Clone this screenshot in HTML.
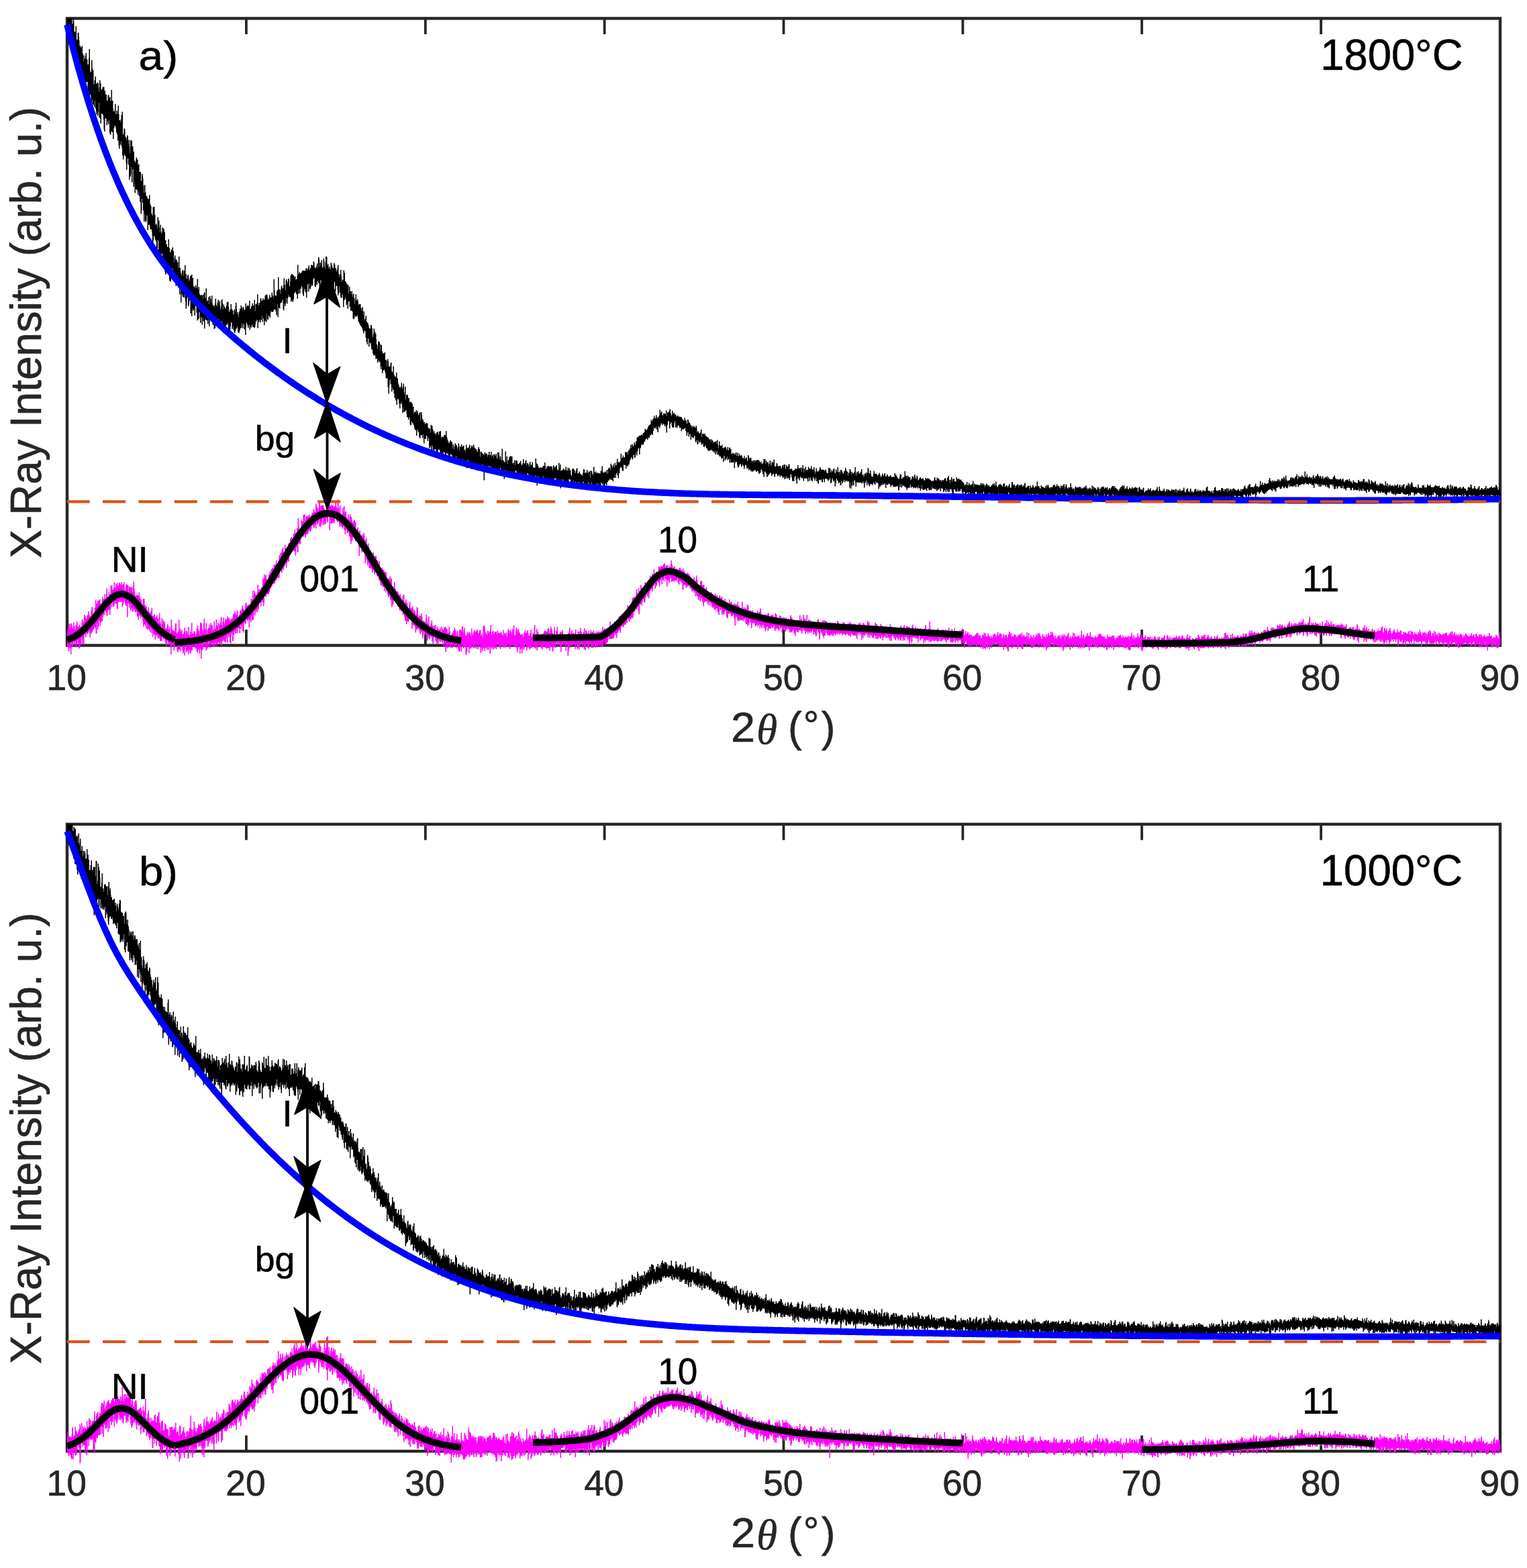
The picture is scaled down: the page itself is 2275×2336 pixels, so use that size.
<!DOCTYPE html>
<html><head><meta charset="utf-8"><title>XRD</title>
<style>html,body{margin:0;padding:0;background:#fff;}svg{display:block;}</style>
</head><body>
<svg xmlns="http://www.w3.org/2000/svg" width="2275" height="2336" viewBox="0 0 2275 2336">
<rect width="2275" height="2336" fill="#fff"/>
<g><rect x="100" y="27.4" width="2135" height="934.1" fill="none" stroke="#262626" stroke-width="4.4"/>
<path d="M366.9 961.5V938M366.9 27.4V50.9M633.8 961.5V938M633.8 27.4V50.9M900.6 961.5V938M900.6 27.4V50.9M1167.5 961.5V938M1167.5 27.4V50.9M1434.4 961.5V938M1434.4 27.4V50.9M1701.2 961.5V938M1701.2 27.4V50.9M1968.1 961.5V938M1968.1 27.4V50.9" stroke="#262626" stroke-width="3.8"/></g>
<g><path d="M100 27.5l7 0 0 2.5 0.5 0 0 5.5 1 0 0-8 1.5 0 0 4.5 0.5 0 0 15 1.5 0 0 1.5 0.5 0 0-9.5 1.5 0 0 20 1.5 0 0-10 0.5 0 0-0.5 1.5 0 0 6.5 0.5 0 0 5 0.5 0 0 8 1.5 0 0 2.5 1.5 0 0-2 1.5 0 0 11 1 0 0 11.5 0.5 0 0-8.5 1.5 0 0 5 1 0 0-4.5 0.5 0 0-4 1.5 0 0 9.5 1.5 0 0 7.5 1.5 0 0-8.5 0.5 0 0-14.5 1.5 0 0 31.5 0.5 0 0 3 0.5 0 0-0.5 1 0 0-17.5 1.5 0 0 12 0.5 0 0 3 1.5 0 0 21 0.5 0 0-0.5 0.5 0 0-5.5 1 0 0-5.5 1.5 0 0 11 1 0 0-2 1.5 0 0 1 1.5 0 0 6.5 0.5 0 0 6 0.5 0 0-17 1.5 0 0 4.5 1 0 0 9.5 0.5 0 0 1 0.5 0 0-2 1 0 0-3 3 0 0 5.5 1.5 0 0 6.5 0.5 0 0-1 1.5 0 0 8.5 0.5 0 0 1 1 0 0-8 0.5 0 0-0.5 1.5 0 0 4.5 0.5 0 0-1.5 1.5 0 0 5.5 1 0 0-16 1.5 0 0 16 1.5 0 0 12 0.5 0 0 4 1.5 0 0-2 0.5 0 0-9 1.5 0 0 15 1 0 0-5 1.5 0 0 5 0.5 0 0-12.5 1.5 0 0 12.5 0.5 0 0 9 1.5 0 0 3 0.5 0 0-4 1 0 0-6.5 1 0 0-5 1.5 0 0 34 1 0 0-3 0.5 0 0-6 1.5 0 0 1 0.5 0 0 11 1 0 0 1.5 0.5 0 0 0.5 0.5 0 0 3.5 0.5 0 0-7.5 1.5 0 0 1.5 0.5 0 0 11 0.5 0 0-5.5 1.5 0 0 10 0.5 0 0 9.5 0.5 0 0-19 1.5 0 0 0.5 1.5 0 0 8.5 1.5 0 0 7.5 0.5 0 0 0.5 1 0 0 13.5 1.5 0 0 2.5 1 0 0-7.5 1.5 0 0 3 1.5 0 0 8.5 0.5 0 0-1.5 1.5 0 0 11.5 2.5 0 0 13.5 1 0 0-10.5 1.5 0 0 3 0.5 0 0 3.5 0.5 0 0 11 1 0 0 10.5 0.5 0 0-11.5 1.5 0 0 11 1 0 0 5 1 0 0 1 1 0 0 3 1 0 0 1 1.5 0 0-6 1.5 0 0 13.5 1 0 0 3 1 0 0 11 1 0 0 2.5 0.5 0 0 1 0.5 0 0-13 1.5 0 0-0.5 1.5 0 0 12 1 0 0 15 0.5 0 0-1.5 1.5 0 0 2.5 0.5 0 0 4.5 0.5 0 0-17 1.5 0 0 5 1.5 0 0 10 0.5 0 0 7.5 0.5 0 0-11 1.5 0 0 9.5 0.5 0 0 3.5 0.5 0 0-1.5 0.5 0 0-7.5 1.5 0 0 1.5 1.5 0 0 2.5 0.5 0 0 3 1 0 0 12 1.5 0 0 6 1.5 0 0 4 1.5 0 0-11.5 1.5 0 0 12.5 0.5 0 0 1 0.5 0 0 5.5 1.5 0 0-3.5 1.5 0 0 0.5 0.5 0 0-4 1.5 0 0 5.5 1 0 0 16.5 0.5 0 0-6.5 0.5 0 0-3.5 1.5 0 0 6 1.5 0 0 1 1 0 0 3 1.5 0 0 8.5 0.5 0 0-17 1.5 0 0 17 1.5 0 0 5 0.5 0 0 3.5 1 0 0 3.5 0.5 0 0-8.5 2 0 0 8 0.5 0 0-7.5 1.5 0 0-8 1.5 0 0 13.5 1.5 0 0 6 1 0 0-4 0.5 0 0-1 1.5 0 0 5 0.5 0 0 3.5 1 0 0-3.5 0.5 0 0-3.5 2 0 0-2 1.5 0 0 5 1.5 0 0 13 0.5 0 0-0.5 1.5 0 0 2 1 0 0-3.5 1.5 0 0 3.5 0.5 0 0 0.5 0.5 0 0-13.5 1.5 0 0 15.5 0.5 0 0-3.5 1.5 0 0 10.5 1 0 0 2 1 0 0 0.5 0.5 0 0-1.5 1.5 0 0 1 1 0 0 4.5 0.5 0 0-5.5 1 0 0-2 0.5 0 0-1.5 1.5 0 0 8 0.5 0 0 0.5 0.5 0 0-14.5 1.5 0 0 17 0.5 0 0 3 0.5 0 0-1.5 1 0 0-5.5 1.5 0 0 10.5 0.5 0 0-12 1.5 0 0 4 1 0 0 5 0.5 0 0-9.5 1.5 0 0 12 0.5 0 0 2.5 0.5 0 0 0.5 0.5 0 0-0.5 1.5 0 0 3 0.5 0 0-6 0.5 0 0-7 1.5 0 0 9.5 1 0 0 2.5 0.5 0 0-6.5 1 0 0-4 1.5 0 0 8 0.5 0 0-6 1.5 0 0 13 0.5 0 0-3 0.5 0 0-2 0.5 0 0-9 0.5 0 0-1.5 1.5 0 0 5.5 0.5 0 0 9 0.5 0 0-7 1.5 0 0 3.5 1 0 0 2 1 0 0 1.5 0.5 0 0-4.5 1 0 0-5.5 1.5 0 0-1 1.5 0 0 7.5 0.5 0 0 7 0.5 0 0 1 0.5 0 0-4 1.5 0 0-8 1.5 0 0 7 1 0 0 1.5 0.5 0 0 1.5 1 0 0 5.5 1 0 0-7.5 1.5 0 0 3 0.5 0 0-8.5 0.5 0 0-4.5 1.5 0 0 9.5 0.5 0 0 8 0.5 0 0-3.5 1.5 0 0 2.5 0.5 0 0 5 0.5 0 0-8.5 1 0 0-4 1.5 0 0-5 1.5 0 0 3 1.5 0 0 3.5 0.5 0 0-4 1.5 0 0 3.5 0.5 0 0 1 1 0 0-2 0.5 0 0-8 1.5 0 0 6.5 0.5 0 0-2.5 1 0 0-1.5 1.5 0 0 1.5 1 0 0-8 1.5 0 0 12 1.5 0 0-4 1.5 0 0-4 1.5 0 0 3 0.5 0 0 0.5 1 0 0-9 1.5 0 0 17 0.5 0 0-10.5 2 0 0-2.5 0.5 0 0-12 1.5 0 0 12.5 0.5 0 0 3.5 1 0 0-3.5 1.5 0 0-6.5 2 0 0 3.5 1.5 0 0-3.5 1.5 0 0 3 0.5 0 0-1.5 1.5 0 0-5.5 1 0 0-1.5 3 0 0 4 0.5 0 0 2 0.5 0 0 2 0.5 0 0-2 1 0 0-5.5 1.5 0 0 4 0.5 0 0-0.5 1.5 0 0-7 1.5 0 0 4.5 1 0 0 2.5 0.5 0 0-27 1.5 0 0 16 0.5 0 0 8 1 0 0 0.5 1.5 0 0-7 1 0 0-1.5 1 0 0-19 1.5 0 0 17 0.5 0 0 1 1 0 0 1 0.5 0 0 6 0.5 0 0-6.5 0.5 0 0-3.5 0.5 0 0-2.5 1.5 0 0 4 1.5 0 0-4.5 0.5 0 0-10.5 1.5 0 0 10 1 0 0 8.5 0.5 0 0-15 0.5 0 0-2 1.5 0 0 3 0.5 0 0 4 0.5 0 0-3.5 0.5 0 0-4.5 1.5 0 0 0.5 0.5 0 0 11 1 0 0-7.5 0.5 0 0-8.5 1.5 0 0-2.5 1.5 0 0 0.5 0.5 0 0 1.5 2 0 0 1.5 0.5 0 0 2 0.5 0 0-1.5 1.5 0 0 4.5 0.5 0 0-0.5 1.5 0 0-5 0.5 0 0-16.5 1.5 0 0 13.5 1 0 0-2.5 1.5 0 0 0.5 0.5 0 0 2 0.5 0 0-1 1 0 0-1.5 0.5 0 0-1 0.5 0 0-1 1 0 0-0.5 3 0 0 1 1 0 0-2.5 0.5 0 0-2 1.5 0 0 4 0.5 0 0-3 1 0 0-1 1 0 0-4 1.5 0 0 7 0.5 0 0-1 0.5 0 0-2.5 1 0 0-4.5 1.5 0 0 0.5 1 0 0 0.5 1 0 0-6 1.5 0 0 1.5 0.5 0 0 6.5 0.5 0 0 1.5 1 0 0 1.5 0.5 0 0-2.5 0.5 0 0-0.5 0.5 0 0-1.5 0.5 0 0-3.5 1.5 0 0 7 0.5 0 0-16.5 1.5 0 0 3 0.5 0 0 11 0.5 0 0-6 1.5 0 0 2.5 0.5 0 0-6 1.5 0 0 12 0.5 0 0-1.5 1 0 0-13 1.5 0 0 3.5 0.5 0 0 8.5 0.5 0 0 3.5 0.5 0 0-9.5 0.5 0 0-9 1.5 0 0 1 1 0 0 12 0.5 0 0-1.5 1.5 0 0 6.5 0.5 0 0-2.5 1.5 0 0 3.5 1 0 0-9.5 1.5 0 0 3.5 1 0 0 2 0.5 0 0 2.5 1.5 0 0-7.5 1.5 0 0 2.5 1 0 0 5 1.5 0 0 5.5 0.5 0 0-2.5 1 0 0-3.5 0.5 0 0-4 1.5 0 0 13 0.5 0 0 4.5 0.5 0 0-4 1.5 0 0-6.5 1.5 0 0 8.5 0.5 0 0 9.5 0.5 0 0-3.5 1.5 0 0 1 0.5 0 0-15 1.5 0 0 4 1 0 0 13 2 0 0 3 1.5 0 0 3 0.5 0 0-1 1.5 0 0 12.5 0.5 0 0-9.5 1.5 0 0 6.5 1.5 0 0 4.5 0.5 0 0-5 1.5 0 0 5.5 0.5 0 0 3.5 0.5 0 0-5 1.5 0 0 6.5 1 0 0 9 0.5 0 0-6 0.5 0 0-8.5 1.5 0 0 9 1 0 0-2 1.5 0 0 4 0.5 0 0 5.5 0.5 0 0-2 3 0 0 5 0.5 0 0 1.5 1 0 0 4 0.5 0 0-6 1.5 0 0 12 0.5 0 0-5.5 1.5 0 0 13.5 0.5 0 0-2.5 1 0 0-4.5 1.5 0 0 8.5 1 0 0 1 0.5 0 0 1 1 0 0 3 1 0 0 4 1 0 0 1.5 1.5 0 0-5.5 1.5 0 0 1.5 0.5 0 0 3.5 1 0 0 14 0.5 0 0-3.5 0.5 0 0-3 0.5 0 0-7 1.5 0 0 5 1.5 0 0 3 1 0 0 8 0.5 0 0 7.5 1 0 0 2.5 0.5 0 0 4.5 0.5 0 0-11.5 1.5 0 0 1 1.5 0 0 3 0.5 0 0 10 0.5 0 0-9 1.5 0 0 1.5 0.5 0 0 8 1 0 0 4.5 0.5 0 0-1.5 1.5 0 0 1.5 0.5 0 0-2.5 1.5 0 0 11 1.5 0 0 1 1 0 0 9 0.5 0 0-11 1.5 0 0 3.5 0.5 0 0 6 0.5 0 0 2 0.5 0 0-0.5 1.5 0 0-4 0.5 0 0-2 1.5 0 0 13.5 1.5 0 0 2 0.5 0 0-10 1.5 0 0 13 1 0 0 2.5 2 0 0-6 1.5 0 0 8.5 1.5 0 0 7 0.5 0 0 2.5 1 0 0 2.5 0.5 0 0 1.5 1 0 0 1.5 0.5 0 0-2.5 0.5 0 0-0.5 0.5 0 0-5 1.5 0 0 9 0.5 0 0-3 1 0 0-5 1.5 0 0 13 0.5 0 0 3 0.5 0 0-11.5 1.5 0 0 19 0.5 0 0-6.5 1.5 0 0-0.5 1.5 0 0 5.5 0.5 0 0-0.5 1.5 0 0 6 0.5 0 0 0.5 0.5 0 0-1 2 0 0 2 1.5 0 0 1.5 0.5 0 0 4 1.5 0 0 10 0.5 0 0-2.5 1.5 0 0 0.5 1 0 0-3 1.5 0 0 4.5 0.5 0 0-3 1.5 0 0 6 0.5 0 0-0.5 0.5 0 0-2 1 0 0-2 1.5 0 0 12.5 0.5 0 0-12.5 1.5 0 0 4.5 0.5 0 0 5 0.5 0 0 2 1.5 0 0 3.5 2 0 0 3 1 0 0-2 1.5 0 0 0.5 1.5 0 0 0.5 0.5 0 0 5.5 1 0 0 2 2.5 0 0 6 0.5 0 0-11.5 1.5 0 0 1.5 1.5 0 0 5 1 0 0 3.5 0.5 0 0-0.5 1.5 0 0 3.5 1.5 0 0 2.5 0.5 0 0-4 1.5 0 0 0.5 0.5 0 0-2 1.5 0 0 4.5 1 0 0-4.5 1.5 0 0-1 1.5 0 0 11 0.5 0 0-2.5 3 0 0 1.5 0.5 0 0-3.5 0.5 0 0-0.5 1.5 0 0 0.5 1 0 0-6.5 1.5 0 0 9 0.5 0 0 1 0.5 0 0 2.5 0.5 0 0 1.5 0.5 0 0 1.5 0.5 0 0 0.5 0.5 0 0 2.5 1 0 0-2 1 0 0-2.5 1.5 0 0 2 1.5 0 0 1 0.5 0 0 9.5 0.5 0 0-6.5 1.5 0 0 7 0.5 0 0-4 1 0 0-4.5 1.5 0 0 1 0.5 0 0 1.5 1 0 0 1 0.5 0 0 5.5 0.5 0 0-3 1 0 0-6 1.5 0 0 3 0.5 0 0 7.5 0.5 0 0-5.5 1.5 0 0-0.5 0.5 0 0-3 1.5 0 0 4.5 0.5 0 0-1.5 1 0 0-1 1.5 0 0 6 1 0 0 0.5 0.5 0 0 2.5 0.5 0 0-4.5 0.5 0 0-6 1.5 0 0 5 2.5 0 0-2 1 0 0-3 1.5 0 0 7 0.5 0 0-2.5 1 0 0-3 1.5 0 0 0.5 1 0 0 2.5 0.5 0 0-4.5 1.5 0 0 4 0.5 0 0 1 1.5 0 0 2.5 0.5 0 0-1 1.5 0 0 4 0.5 0 0 0.5 0.5 0 0-2.5 0.5 0 0-3 0.5 0 0-2 1.5 0 0 3 1 0 0 11.5 0.5 0 0-7.5 2.5 0 0 2 0.5 0 0 0.5 1.5 0 0 1.5 1 0 0 0.5 0.5 0 0-3.5 1.5 0 0 2 0.5 0 0-0.5 1.5 0 0 0.5 1 0 0 4.5 0.5 0 0-3 1.5 0 0-4.5 1.5 0 0 5 1.5 0 0-5 1.5 0 0 7 0.5 0 0-1 0.5 0 0-1.5 1.5 0 0 5 0.5 0 0-6 1.5 0 0 0.5 0.5 0 0 2 1 0 0-3 1.5 0 0 5.5 0.5 0 0 2.5 0.5 0 0-10 3 0 0 5 0.5 0 0 5 0.5 0 0-4 1.5 0 0 5.5 0.5 0 0 0.5 0.5 0 0-17.5 1.5 0 0 17 1.5 0 0 2 1 0 0 1.5 1 0 0-16.5 1.5 0 0 15 0.5 0 0-7.5 1.5 0 0 11 0.5 0 0-5.5 1.5 0 0-3.5 1 0 0-2 1.5 0 0-0.5 1.5 0 0 0.5 1.5 0 0 10.5 1 0 0-1 1.5 0 0-4 1.5 0 0 7.5 0.5 0 0-7 2.5 0 0 1 0.5 0 0 4 1.5 0 0 0.5 0.5 0 0-2 1.5 0 0 0.5 0.5 0 0-3.5 1.5 0 0 5 0.5 0 0 2 0.5 0 0-1 0.5 0 0-0.5 0.5 0 0-2 0.5 0 0-6 1.5 0 0 6 0.5 0 0 1.5 0.5 0 0-1.5 1 0 0-4 0.5 0 0-0.5 1.5 0 0 8 0.5 0 0-3.5 1.5 0 0 0.5 0.5 0 0 0.5 0.5 0 0 3 0.5 0 0 1.5 0.5 0 0-5 0.5 0 0-2.5 1.5 0 0 5.5 0.5 0 0-1 1.5 0 0-4 1.5 0 0 7.5 1 0 0 1 2 0 0-0.5 0.5 0 0-13.5 1.5 0 0 7.5 1.5 0 0 1 1 0 0 3 1 0 0 2.5 1.5 0 0-0.5 3 0 0 0.5 1 0 0-1.5 1 0 0-1.5 1.5 0 0 0.5 0.5 0 0-5.5 1.5 0 0 5 0.5 0 0 5 1 0 0-3.5 1.5 0 0-0.5 0.5 0 0-1 1.5 0 0 0.5 1 0 0 0.5 1.5 0 0-0.5 1.5 0 0 0.5 1.5 0 0 6 0.5 0 0-3 0.5 0 0-5 1.5 0 0 2 0.5 0 0 2.5 0.5 0 0-1 0.5 0 0-1.5 1.5 0 0-2 1.5 0 0 5 0.5 0 0 2 0.5 0 0 1.5 0.5 0 0-1.5 0.5 0 0-10.5 1.5 0 0 7.5 0.5 0 0-5 1.5 0 0 10 0.5 0 0-1 1.5 0 0-1.5 1.5 0 0-1.5 1.5 0 0 2 2 0 0-4.5 1.5 0 0 5.5 1.5 0 0-4 1.5 0 0 4 0.5 0 0-3.5 1.5 0 0 2 0.5 0 0 1.5 1 0 0 6 0.5 0 0 3 0.5 0 0-2 0.5 0 0-9.5 1.5 0 0-0.5 1.5 0 0 2 1.5 0 0 4.5 0.5 0 0 0.5 0.5 0 0-3 0.5 0 0-1 0.5 0 0-3 0.5 0 0-0.5 1.5 0 0 8.5 0.5 0 0-1 1.5 0 0-2.5 1.5 0 0 3.5 1.5 0 0 0.5 0.5 0 0 1 1 0 0 0.5 0.5 0 0 1 0.5 0 0-4.5 1 0 0-5.5 1.5 0 0 1 0.5 0 0 4.5 1.5 0 0-0.5 1.5 0 0-4 1.5 0 0 4.5 0.5 0 0 1 0.5 0 0-3 2.5 0 0 9 0.5 0 0-10.5 1.5 0 0 0.5 0.5 0 0 1 1 0 0 3.5 1 0 0 2.5 0.5 0 0-13 1.5 0 0 7.5 1 0 0 2 0.5 0 0-2.5 1.5 0 0 2.5 1.5 0 0-1 1.5 0 0 2.5 0.5 0 0-1.5 1.5 0 0 0.5 1 0 0-3 0.5 0 0-1.5 1.5 0 0-6.5 1.5 0 0 9 0.5 0 0 0.5 1.5 0 0 0.5 0.5 0 0-2 1.5 0 0 0.5 1 0 0 2.5 0.5 0 0-5 0.5 0 0-0.5 1.5 0 0 6 0.5 0 0-8 1 0 0-1.5 1.5 0 0 2 0.5 0 0 2 0.5 0 0-9.5 1.5 0 0 2.5 1 0 0 4 0.5 0 0-2.5 0.5 0 0-3 1.5 0 0 3 0.5 0 0 1.5 0.5 0 0-7 1.5 0 0 3.5 1.5 0 0-5 0.5 0 0-4.5 1.5 0 0 6.5 0.5 0 0-2 1.5 0 0 1.5 1 0 0-2.5 1 0 0-11 1.5 0 0 6 1.5 0 0-3.5 1.5 0 0 3 1 0 0-0.5 1 0 0-8 1.5 0 0 1.5 1 0 0-1 1.5 0 0 4 0.5 0 0-5 0.5 0 0-1.5 1.5 0 0-1.5 0.5 0 0-1.5 1 0 0-5 1.5 0 0 4.5 0.5 0 0-6 1.5 0 0 2 0.5 0 0 1.5 1 0 0-2.5 0.5 0 0-3.5 1.5 0 0 3 0.5 0 0 0.5 0.5 0 0-4.5 0.5 0 0-1 1 0 0-5.5 1.5 0 0-0.5 1.5 0 0-2 3 0 0-1 1.5 0 0-1 1.5 0 0 2.5 0.5 0 0-4.5 1 0 0-0.5 1 0 0-1.5 0.5 0 0-4 1.5 0 0 1.5 1.5 0 0-0.5 1 0 0-2 0.5 0 0-1 0.5 0 0-2.5 1.5 0 0-1.5 1.5 0 0-0.5 0.5 0 0-1 0.5 0 0-6 1.5 0 0 2 1 0 0-3 1 0 0-1 1 0 0-4 1.5 0 0 3.5 1.5 0 0-4.5 1.5 0 0 4 0.5 0 0 1.5 0.5 0 0-3 1.5 0 0 2 0.5 0 0-3 0.5 0 0-1 0.5 0 0-8.5 1.5 0 0 5 0.5 0 0-0.5 0.5 0 0-2 1.5 0 0 5 0.5 0 0 1 1 0 0-3 1.5 0 0 0.5 0.5 0 0-0.5 1.5 0 0 1.5 0.5 0 0-6 1.5 0 0 8.5 0.5 0 0-5.5 1.5 0 0-0.5 1.5 0 0-2.5 0.5 0 0-2 1.5 0 0 6 0.5 0 0 0.5 0.5 0 0 3 1 0 0-7 1.5 0 0 4.5 1 0 0-1.5 1.5 0 0 3 0.5 0 0-1 1.5 0 0 1 0.5 0 0 3 0.5 0 0-0.5 0.5 0 0-1 0.5 0 0-0.5 1.5 0 0 2 1 0 0-0.5 1.5 0 0 0.5 1.5 0 0 0.5 1.5 0 0 2.5 0.5 0 0 0.5 1 0 0 1 1 0 0 1.5 1 0 0-4.5 1.5 0 0 3 0.5 0 0 1 1.5 0 0 4.5 1 0 0-6 1.5 0 0 1 0.5 0 0 3 0.5 0 0 0.5 1.5 0 0 1.5 0.5 0 0 2 0.5 0 0 1 1.5 0 0 2 0.5 0 0 2 0.5 0 0-3.5 1.5 0 0 2 0.5 0 0-1.5 1.5 0 0 2 1.5 0 0-3 1.5 0 0 4 0.5 0 0 6.5 0.5 0 0-2 1.5 0 0 0.5 0.5 0 0 2.5 2 0 0-0.5 0.5 0 0-2 0.5 0 0-3 1.5 0 0 11 0.5 0 0-4.5 1.5 0 0-0.5 1.5 0 0 2 0.5 0 0-2 1.5 0 0 4 0.5 0 0-0.5 1.5 0 0 1.5 1.5 0 0 1 1.5 0 0 2.5 3 0 0 4 0.5 0 0-4 1.5 0 0 1.5 1 0 0 1.5 0.5 0 0 2.5 0.5 0 0-1.5 1.5 0 0-0.5 1.5 0 0-0.5 1.5 0 0 3.5 0.5 0 0-5.5 1.5 0 0 6.5 0.5 0 0 6 0.5 0 0-4 0.5 0 0-6.5 1.5 0 0 5.5 0.5 0 0 1 1 0 0 0.5 1 0 0-2 1.5 0 0 5 1.5 0 0-0.5 1.5 0 0-1.5 2 0 0 2 0.5 0 0 0.5 0.5 0 0 2 0.5 0 0 1 0.5 0 0-5 1.5 0 0 5 1 0 0-4.5 1.5 0 0 1 0.5 0 0 1.5 1.5 0 0 7 0.5 0 0 0.5 1 0 0-2 1.5 0 0 2 0.5 0 0-1 1.5 0 0 2 1 0 0-2.5 0.5 0 0-1 1.5 0 0 5 1 0 0-4.5 1.5 0 0 4.5 0.5 0 0 1 0.5 0 0-4 1.5 0 0 3 1.5 0 0-1 1.5 0 0 2 0.5 0 0 2 1 0 0 1 1 0 0-3.5 1.5 0 0 4.5 0.5 0 0-1 0.5 0 0-0.5 1 0 0-1 1.5 0 0 5 1 0 0-8.5 1.5 0 0 1.5 0.5 0 0 4.5 0.5 0 0-2 3 0 0 4 0.5 0 0 1.5 1 0 0-1.5 1.5 0 0 1.5 0.5 0 0-2 1.5 0 0 3.5 0.5 0 0-3 1.5 0 0 0.5 0.5 0 0-1 1.5 0 0-0.5 1.5 0 0 1 1 0 0 0.5 1 0 0 2.5 1 0 0-1.5 1.5 0 0 3 0.5 0 0 1 0.5 0 0-0.5 0.5 0 0-1.5 1.5 0 0-5.5 3 0 0 7.5 0.5 0 0-5 1.5 0 0 2.5 1 0 0-0.5 1.5 0 0 6 0.5 0 0-3.5 1 0 0-5 1.5 0 0 3.5 0.5 0 0 4.5 0.5 0 0-1 0.5 0 0-5 2 0 0 2.5 0.5 0 0-1.5 0.5 0 0-4.5 1.5 0 0 10 0.5 0 0 0.5 1.5 0 0-0.5 0.5 0 0-4.5 1.5 0 0 1 0.5 0 0 3.5 1.5 0 0 1 0.5 0 0-1.5 2.5 0 0 0.5 0.5 0 0 2.5 0.5 0 0 1.5 0.5 0 0-2.5 0.5 0 0-1.5 0.5 0 0-1.5 1.5 0 0 3 0.5 0 0-4 2.5 0 0 5.5 0.5 0 0 1.5 0.5 0 0-6 1.5 0 0 2 2 0 0-3 0.5 0 0-0.5 1.5 0 0 7.5 1 0 0 0.5 0.5 0 0-1.5 1.5 0 0 1 1 0 0 2.5 1.5 0 0-1 1 0 0-0.5 1.5 0 0-2 1.5 0 0 0.5 2 0 0-5.5 1.5 0 0 4.5 0.5 0 0 0.5 1 0 0-1 1.5 0 0 1.5 0.5 0 0-2 1.5 0 0 6.5 0.5 0 0-5 0.5 0 0-5 1.5 0 0 11 0.5 0 0-6 1.5 0 0 3.5 0.5 0 0-6 1.5 0 0 4.5 1.5 0 0 1.5 0.5 0 0-2 1 0 0-4 1.5 0 0 3 0.5 0 0-0.5 1.5 0 0 0.5 0.5 0 0-4 1.5 0 0 5 1.5 0 0-0.5 1 0 0-3 1.5 0 0 4.5 0.5 0 0 5.5 0.5 0 0-3 0.5 0 0-1 0.5 0 0-4.5 1.5 0 0 5.5 0.5 0 0-1 1.5 0 0 1 0.5 0 0-2.5 1 0 0-1 0.5 0 0-3.5 1.5 0 0 1.5 0.5 0 0 2.5 0.5 0 0-0.5 3 0 0 0.5 1.5 0 0 2 0.5 0 0-1 0.5 0 0-1 0.5 0 0-0.5 1.5 0 0 2.5 0.5 0 0 2.5 1.5 0 0 0.5 1 0 0-8 1.5 0 0 0.5 1.5 0 0 1 0.5 0 0 5 1 0 0-3 1.5 0 0 1 0.5 0 0 1.5 0.5 0 0-4 1 0 0-1 1.5 0 0 6.5 1 0 0 1 0.5 0 0-6 1.5 0 0 3.5 1 0 0-7 1.5 0 0 7 0.5 0 0 1 0.5 0 0-1.5 1.5 0 0 4 0.5 0 0-6.5 1.5 0 0 0.5 1 0 0 2.5 1 0 0 2.5 0.5 0 0 0.5 0.5 0 0-0.5 0.5 0 0-3 0.5 0 0-0.5 0.5 0 0-0.5 1 0 0-4.5 1.5 0 0 3.5 1 0 0 2 1.5 0 0 1 0.5 0 0 5 0.5 0 0-4 1.5 0 0-5.5 1.5 0 0 0.5 0.5 0 0 2.5 0.5 0 0 5 0.5 0 0-4 1.5 0 0 2 1 0 0 1 0.5 0 0-1.5 1 0 0-1.5 1 0 0-7 1.5 0 0 9.5 0.5 0 0 3.5 0.5 0 0-6 1.5 0 0 3 0.5 0 0-4 1.5 0 0 3.5 0.5 0 0 0.5 0.5 0 0-1 1 0 0-2 1.5 0 0-4 1.5 0 0 9 0.5 0 0-1 1.5 0 0 3 0.5 0 0-0.5 0.5 0 0-3.5 1.5 0 0-1.5 1.5 0 0 3 0.5 0 0-3.5 1.5 0 0-7 1.5 0 0 2 0.5 0 0 6.5 1 0 0-0.5 0.5 0 0-4 1.5 0 0 5.5 0.5 0 0 2 0.5 0 0 1.5 2 0 0 0.5 0.5 0 0-4.5 0.5 0 0-4.5 1.5 0 0 5 0.5 0 0-1 1.5 0 0 0.5 1.5 0 0 0.5 0.5 0 0 3 0.5 0 0-1.5 0.5 0 0-0.5 0.5 0 0-0.5 1 0 0-2.5 1.5 0 0 3.5 1 0 0 2.5 0.5 0 0 0.5 0.5 0 0-1.5 0.5 0 0-1.5 0.5 0 0-2.5 1.5 0 0 2.5 0.5 0 0 2 0.5 0 0-2.5 0.5 0 0-1 0.5 0 0-1.5 1.5 0 0 4.5 1 0 0 1 0.5 0 0-2 0.5 0 0-2 1.5 0 0 2.5 0.5 0 0 1 1.5 0 0-0.5 1.5 0 0-1.5 1.5 0 0 2.5 2 0 0 0.5 0.5 0 0-1 1.5 0 0 1 1 0 0-6 1.5 0 0 2.5 1.5 0 0 1 0.5 0 0 1 0.5 0 0 1.5 1 0 0 2 1 0 0 0.5 1.5 0 0-3.5 0.5 0 0-3.5 1.5 0 0 0.5 1 0 0 6 1 0 0 0.5 0.5 0 0-2.5 2.5 0 0-1 0.5 0 0-8 1.5 0 0 6.5 0.5 0 0 0.5 1.5 0 0 3.5 0.5 0 0-4 1.5 0 0 1.5 1.5 0 0 1 2 0 0 5 0.5 0 0-1.5 1 0 0-1.5 0.5 0 0-3.5 1.5 0 0 0.5 0.5 0 0 0.5 1 0 0 3 0.5 0 0-6.5 1.5 0 0 3 0.5 0 0 2.5 0.5 0 0 1.5 0.5 0 0-1.5 0.5 0 0-4 1.5 0 0 3 0.5 0 0 4 1 0 0-0.5 0.5 0 0-1.5 1 0 0-1.5 0.5 0 0-1 1.5 0 0 2.5 1 0 0-0.5 1 0 0-0.5 1.5 0 0 0.5 0.5 0 0 2.5 2.5 0 0-3.5 1.5 0 0 1.5 1 0 0 0.5 0.5 0 0-2 1.5 0 0 1 0.5 0 0 0.5 1.5 0 0 1 1.5 0 0 0.5 0.5 0 0 1.5 3.5 0 0-0.5 1 0 0-3.5 0.5 0 0-1.5 1.5 0 0 4 0.5 0 0 0.5 1 0 0 0.5 0.5 0 0-4.5 1.5 0 0 2 1 0 0-0.5 1.5 0 0 2.5 0.5 0 0 0.5 0.5 0 0-0.5 0.5 0 0-0.5 1.5 0 0 2.5 1 0 0-2.5 1.5 0 0 1 0.5 0 0-0.5 0.5 0 0-1 1 0 0-2 2.5 0 0 4 1.5 0 0-5 1.5 0 0-2.5 1.5 0 0 6 1.5 0 0 4.5 0.5 0 0-5 1 0 0-3.5 1.5 0 0 7 0.5 0 0-4 1.5 0 0-1 1.5 0 0 4 1.5 0 0 1 1 0 0-7 1.5 0 0 2.5 1 0 0 0.5 0.5 0 0-0.5 0.5 0 0-0.5 1.5 0 0 2 1.5 0 0-0.5 1.5 0 0 2.5 1 0 0 1 1.5 0 0 1.5 1.5 0 0 3.5 1.5 0 0-1.5 1.5 0 0 2 0.5 0 0-5.5 1.5 0 0 5 1 0 0-0.5 0.5 0 0-3 1.5 0 0 3 3 0 0-1.5 1.5 0 0-4.5 1.5 0 0 9 0.5 0 0-5 1.5 0 0 2.5 0.5 0 0-1.5 1.5 0 0 0.5 2 0 0 0.5 3 0 0 0.5 0.5 0 0 0.5 0.5 0 0-3.5 1.5 0 0 3 0.5 0 0-3 1.5 0 0 3.5 0.5 0 0-3 1.5 0 0 2 1.5 0 0 3.5 0.5 0 0-3.5 1 0 0-2 1.5 0 0 1.5 1 0 0 1.5 1 0 0-0.5 1.5 0 0 2 2.5 0 0-1.5 1 0 0-0.5 1 0 0-2 1.5 0 0 1.5 0.5 0 0-2.5 1.5 0 0 4 0.5 0 0-1.5 0.5 0 0-5 1.5 0 0 5.5 0.5 0 0 1 0.5 0 0 1.5 1.5 0 0-2.5 1 0 0-1 0.5 0 0-0.5 1 0 0-0.5 1.5 0 0 1.5 2 0 0 2.5 0.5 0 0-0.5 0.5 0 0-3 1 0 0-1 0.5 0 0-0.5 1.5 0 0 5 1.5 0 0-2 2 0 0 1.5 0.5 0 0 2.5 0.5 0 0-3 1.5 0 0-3 1.5 0 0 5.5 1.5 0 0 0.5 0.5 0 0-3 0.5 0 0-5.5 0.5 0 0-0.5 1.5 0 0 4 0.5 0 0 0.5 1 0 0-0.5 1.5 0 0 5 0.5 0 0-3 1.5 0 0-1 1 0 0-1.5 1.5 0 0 0.5 1 0 0 4 0.5 0 0-3.5 1.5 0 0 1.5 0.5 0 0-1.5 1 0 0-1 1.5 0 0 2 0.5 0 0 1.5 1 0 0-2 1.5 0 0 1.5 0.5 0 0-5 1.5 0 0 1.5 0.5 0 0 5.5 1 0 0-0.5 1.5 0 0-2 1.5 0 0-0.5 1.5 0 0 4 0.5 0 0 1 0.5 0 0-5 1.5 0 0 3 1.5 0 0-0.5 0.5 0 0-3.5 1.5 0 0 2 0.5 0 0 3 0.5 0 0-1.5 1.5 0 0-2 1.5 0 0 0.5 0.5 0 0 1 0.5 0 0-8 1.5 0 0 7.5 0.5 0 0-1 2 0 0 2 0.5 0 0 1.5 0.5 0 0 0.5 0.5 0 0-0.5 0.5 0 0-4.5 1.5 0 0 2.5 1 0 0-0.5 1.5 0 0 1.5 1.5 0 0 0.5 1 0 0-3 1.5 0 0 3.5 0.5 0 0-5 1.5 0 0 3 0.5 0 0-3 1.5 0 0 3.5 0.5 0 0 0.5 1 0 0 1.5 0.5 0 0-1.5 0.5 0 0-1 1.5 0 0 0.5 2 0 0-3 1.5 0 0-1 1.5 0 0 2.5 2.5 0 0-3 1.5 0 0 3 1 0 0-0.5 1.5 0 0 1.5 1 0 0 2 1 0 0-4 1.5 0 0 0.5 1 0 0 2 0.5 0 0-3 1.5 0 0-2 1.5 0 0 4 0.5 0 0 3.5 0.5 0 0-3 0.5 0 0-4 1.5 0 0 2 0.5 0 0 3 0.5 0 0 0.5 1 0 0 2.5 0.5 0 0-3.5 1.5 0 0 0.5 1.5 0 0-6.5 1.5 0 0 6 1.5 0 0 2.5 0.5 0 0 0.5 0.5 0 0-1.5 1.5 0 0 1 0.5 0 0 3 0.5 0 0-4.5 0.5 0 0-1.5 0.5 0 0-0.5 1.5 0 0 1.5 2 0 0-0.5 1.5 0 0 0.5 0.5 0 0-1.5 1.5 0 0 2.5 0.5 0 0-2 1.5 0 0 2.5 1 0 0-0.5 1.5 0 0-0.5 1 0 0-1.5 1.5 0 0 1.5 0.5 0 0-2 0.5 0 0-1.5 1.5 0 0 3 1 0 0 1.5 0.5 0 0 2.5 0.5 0 0-3 1.5 0 0 1 0.5 0 0-0.5 0.5 0 0-1.5 1.5 0 0 0.5 0.5 0 0 3 0.5 0 0-1.5 1 0 0-5 1.5 0 0 5.5 0.5 0 0-4 1.5 0 0 1 0.5 0 0 0.5 0.5 0 0 1.5 0.5 0 0-1 1.5 0 0 2 0.5 0 0 1 0.5 0 0 0.5 0.5 0 0-3 0.5 0 0-2 1.5 0 0 2 0.5 0 0 0.5 1.5 0 0 5 0.5 0 0-4 0.5 0 0-1.5 0.5 0 0-1.5 2.5 0 0-1.5 1.5 0 0 1.5 1 0 0 2 0.5 0 0 0.5 0.5 0 0-2.5 1.5 0 0 1.5 1 0 0-1 0.5 0 0-0.5 1.5 0 0 3.5 1.5 0 0-2.5 1.5 0 0 1 0.5 0 0 0.5 1 0 0-2 0.5 0 0-0.5 1 0 0-2 3 0 0 3.5 0.5 0 0-3 1.5 0 0 2.5 2 0 0 2 2.5 0 0 2.5 1 0 0-1 0.5 0 0-2.5 1.5 0 0-2 1 0 0-1 1.5 0 0-0.5 0.5 0 0-1.5 1.5 0 0 3.5 0.5 0 0-3 1.5 0 0 5 1 0 0-1 2 0 0-3 1.5 0 0 4 1.5 0 0 0.5 0.5 0 0-2.5 2 0 0 1.5 2 0 0-2.5 1.5 0 0 2.5 0.5 0 0-0.5 1.5 0 0-1 1.5 0 0-1 1.5 0 0 1.5 1 0 0-0.5 1.5 0 0 6 1 0 0-6 1 0 0-1 1.5 0 0 3 1 0 0 0.5 0.5 0 0 1 0.5 0 0-0.5 1.5 0 0 0.5 0.5 0 0-2.5 0.5 0 0-1 1.5 0 0 6.5 0.5 0 0 0.5 1 0 0-2 1.5 0 0-1 2.5 0 0-3 1.5 0 0 3 0.5 0 0-1 1.5 0 0-2 1.5 0 0 5 0.5 0 0-1.5 1.5 0 0-1.5 1.5 0 0 1.5 0.5 0 0-0.5 1.5 0 0 0.5 1 0 0-1.5 1.5 0 0-1.5 0.5 0 0-2.5 1.5 0 0 6 1.5 0 0-6.5 1.5 0 0 4.5 0.5 0 0 1.5 1.5 0 0 0.5 2 0 0-1 1.5 0 0-2.5 1.5 0 0 2.5 0.5 0 0 2 1 0 0-1 1 0 0-2.5 1.5 0 0 3 0.5 0 0-3 1.5 0 0 0.5 0.5 0 0 1 1 0 0 0.5 1 0 0 0.5 1.5 0 0-2.5 1.5 0 0 1.5 1 0 0-1 2 0 0 0.5 0.5 0 0 3 0.5 0 0-3.5 1 0 0-1 1.5 0 0 6 0.5 0 0-3.5 1 0 0-1 1.5 0 0 1.5 1 0 0-3 1.5 0 0 2.5 0.5 0 0 0.5 1.5 0 0-0.5 1 0 0-1 1.5 0 0-3.5 1.5 0 0 4.5 0.5 0 0 2 0.5 0 0 0.5 1.5 0 0-2.5 0.5 0 0-2 1 0 0-1.5 1.5 0 0 3 0.5 0 0 2 1.5 0 0 1.5 0.5 0 0-4.5 0.5 0 0-1.5 1.5 0 0 1.5 0.5 0 0 4.5 0.5 0 0-2 1.5 0 0 1.5 1.5 0 0-1 0.5 0 0-1.5 0.5 0 0-2.5 2.5 0 0 0.5 0.5 0 0 3 1.5 0 0-2.5 1.5 0 0 2.5 1.5 0 0-2 1.5 0 0 0.5 0.5 0 0 1.5 1.5 0 0 1 1 0 0-3 1.5 0 0 1 0.5 0 0 0.5 3 0 0-4.5 1 0 0-2 2 0 0 6 1.5 0 0 1.5 0.5 0 0-1.5 1.5 0 0 1.5 0.5 0 0 0.5 0.5 0 0 1 0.5 0 0-3 1.5 0 0 1.5 0.5 0 0 3 0.5 0 0-1 0.5 0 0-3.5 0.5 0 0-1 1 0 0-3.5 1 0 0-1 1.5 0 0 4.5 0.5 0 0 1 1.5 0 0 0.5 1.5 0 0-0.5 0.5 0 0-1 2.5 0 0 3 0.5 0 0-2 0.5 0 0-3.5 1 0 0-0.5 1.5 0 0 0.5 0.5 0 0 1 1 0 0 3.5 1 0 0-3 0.5 0 0-0.5 2 0 0 2 0.5 0 0-3 1.5 0 0 6 0.5 0 0-6 1.5 0 0 3 1 0 0 0.5 0.5 0 0-2.5 2.5 0 0 1.5 0.5 0 0 2.5 0.5 0 0-4 1.5 0 0-1 1.5 0 0 1 1.5 0 0 1 1.5 0 0 1.5 1.5 0 0-1 1 0 0-0.5 0.5 0 0-1 1.5 0 0 2 0.5 0 0 1 1.5 0 0-3 1.5 0 0 3.5 0.5 0 0-3 1.5 0 0-1 1.5 0 0-3 1 0 0-1.5 1.5 0 0 4 1.5 0 0 0.5 1 0 0-0.5 0.5 0 0-3 1.5 0 0-2.5 1.5 0 0-1 1.5 0 0 5 1 0 0-0.5 3.5 0 0 1 0.5 0 0-1.5 1 0 0-1.5 1 0 0-3 1.5 0 0 4 2.5 0 0 1.5 0.5 0 0-0.5 1.5 0 0-1 1 0 0-8 1.5 0 0 7 0.5 0 0-1.5 1 0 0-3 1.5 0 0 4 1 0 0-1 1 0 0-2.5 1.5 0 0 1 1.5 0 0 0.5 1 0 0 0.5 0.5 0 0-1.5 1.5 0 0-0.5 0.5 0 0-4.5 1 0 0-3 1.5 0 0 4 1 0 0 0.5 1 0 0 2 1 0 0-3 1.5 0 0 3 0.5 0 0-2 3 0 0 1 0.5 0 0-1 2 0 0-2.5 1.5 0 0 4 0.5 0 0-3.5 1.5 0 0 3 1 0 0-2 1.5 0 0-2.5 0.5 0 0-0.5 1.5 0 0 1.5 1 0 0-3.5 1.5 0 0 2 0.5 0 0 4 0.5 0 0-5 0.5 0 0-3 1.5 0 0 6 1 0 0 2 1.5 0 0-0.5 1 0 0-0.5 1.5 0 0-1 0.5 0 0-2.5 1 0 0-1 1.5 0 0 3 0.5 0 0-2 0.5 0 0-0.5 1.5 0 0 0.5 0.5 0 0 1 1.5 0 0-2 0.5 0 0-1 1.5 0 0-0.5 0.5 0 0-3 1.5 0 0 8 0.5 0 0-0.5 0.5 0 0-5 1.5 0 0 2.5 1 0 0-1.5 2 0 0 1.5 0.5 0 0-3.5 1.5 0 0 2 1.5 0 0 1 1 0 0 1 0.5 0 0-9.5 1.5 0 0 7.5 1.5 0 0-3.5 1.5 0 0 4 0.5 0 0 1 2 0 0-1.5 1.5 0 0 1.5 1 0 0 0.5 0.5 0 0 0.5 0.5 0 0-2 1.5 0 0 4 0.5 0 0-6.5 1.5 0 0 3 1 0 0 2 1 0 0-3.5 1.5 0 0-0.5 1 0 0-1.5 0.5 0 0-1.5 1.5 0 0 3 1.5 0 0 2.5 1 0 0-2.5 1.5 0 0 1 0.5 0 0 3.5 0.5 0 0-0.5 0.5 0 0-2.5 0.5 0 0-1 1.5 0 0 4.5 1 0 0-2 1.5 0 0-0.5 0.5 0 0-1 1.5 0 0 1.5 0.5 0 0-2.5 1.5 0 0 4 0.5 0 0-2.5 1.5 0 0 1.5 0.5 0 0 2 0.5 0 0-1 1.5 0 0 0.5 2.5 0 0 0.5 0.5 0 0-3 0.5 0 0-0.5 1 0 0-2 0.5 0 0-0.5 1.5 0 0 3.5 1 0 0 2.5 0.5 0 0-0.5 0.5 0 0-0.5 1.5 0 0 0.5 1 0 0 0.5 2.5 0 0-1 0.5 0 0-0.5 1.5 0 0 3.5 0.5 0 0-2 1.5 0 0-1.5 1.5 0 0 2.5 0.5 0 0 2 0.5 0 0 0.5 0.5 0 0 0.5 0.5 0 0-1.5 0.5 0 0-1.5 2 0 0-1 2 0 0 1 0.5 0 0 1 0.5 0 0 0.5 0.5 0 0-3.5 1.5 0 0 3.5 2.5 0 0 1.5 0.5 0 0 0.5 0.5 0 0 0.5 0.5 0 0 1.5 0.5 0 0-5.5 1.5 0 0 2.5 2 0 0 1 1.5 0 0 0.5 2.5 0 0-4 0.5 0 0-0.5 1.5 0 0 3 0.5 0 0-1 1.5 0 0 0.5 0.5 0 0 1.5 0.5 0 0-2.5 1.5 0 0 1 0.5 0 0 1 0.5 0 0-4.5 0.5 0 0-0.5 1.5 0 0 0.5 0.5 0 0 4.5 1 0 0-1 1.5 0 0 1.5 0.5 0 0-1.5 1.5 0 0 2.5 0.5 0 0 0.5 0.5 0 0-6.5 1.5 0 0 2 1 0 0 4.5 0.5 0 0 0.5 0.5 0 0-0.5 0.5 0 0-5 1.5 0 0 2 0.5 0 0 0.5 1.5 0 0 1 1.5 0 0 1.5 0.5 0 0-4 1.5 0 0 1.5 0.5 0 0 3.5 0.5 0 0 1.5 0.5 0 0-2 1.5 0 0 3 1 0 0-1.5 1 0 0-0.5 1 0 0-2.5 1.5 0 0 1.5 0.5 0 0-0.5 3 0 0 2 1.5 0 0 1 1.5 0 0-6.5 1.5 0 0 6.5 1 0 0-3.5 1.5 0 0 4.5 0.5 0 0 1.5 0.5 0 0-3.5 1.5 0 0 2 0.5 0 0-2.5 1.5 0 0 2 0.5 0 0 0.5 0.5 0 0-1 1 0 0-0.5 1.5 0 0 1 1 0 0 1 1 0 0-3 1.5 0 0 2 0.5 0 0-0.5 1.5 0 0-2 2 0 0 5 1 0 0-3.5 1 0 0-1 1.5 0 0 3 0.5 0 0 1 1 0 0-3 1.5 0 0 2 0.5 0 0-2.5 1 0 0-1.5 1.5 0 0 6.5 1.5 0 0-2.5 1 0 0-2.5 1.5 0 0 1.5 1 0 0-4.5 1.5 0 0 5 0.5 0 0-3 2 0 0 4 0.5 0 0-6.5 0.5 0 0-0.5 1.5 0 0 1 0.5 0 0 3 0.5 0 0 2.5 1.5 0 0 1 0.5 0 0 0.5 0.5 0 0-1 1.5 0 0-0.5 1.5 0 0 2.5 1 0 0-0.5 0.5 0 0-5.5 1.5 0 0 4 0.5 0 0 0.5 0.5 0 0 1 1.5 0 0-0.5 1.5 0 0 0.5 0.5 0 0 0.5 0.5 0 0-4.5 1.5 0 0 1 0.5 0 0-1.5 1.5 0 0 3.5 0.5 0 0 1 0.5 0 0-1.5 1.5 0 0 1.5 0.5 0 0-1 1 0 0-4.5 1.5 0 0 2 1.5 0 0 0.5 1 0 0-2 1.5 0 0 3.5 1 0 0 0.5 3 0 0-0.5 1.5 0 0-1.5 1 0 0-1.5 1.5 0 0 1.5 2 0 0 0.5 2 0 0-1 1.5 0 0 3.5 2.5 0 0 1 0.5 0 0-2.5 1.5 0 0 1 1 0 0 1.5 0.5 0 0-1.5 1.5 0 0 1 1 0 0 1 0.5 0 0-0.5 1 0 0-3 0.5 0 0-0.5 1 0 0-2 1.5 0 0 1.5 0.5 0 0 3 0.5 0 0 2.5 0.5 0 0-1 0.5 0 0-6.5 1.5 0 0 6 0.5 0 0-1.5 0.5 0 0-3.5 1.5 0 0 2 1 0 0 2.5 1 0 0-3 1.5 0 0 1 1 0 0-1 2 0 0 2 1 0 0 2 0.5 0 0-1 1.5 0 0-1.5 1.5 0 0-0.5 1.5 0 0 2.5 2 0 0-2 1 0 0-1 1.5 0 0 2.5 1.5 0 0 0.5 1.5 0 0 2.5 1.5 0 0 1 0.5 0 0-1 0.5 0 0-4 1 0 0-1 1.5 0 0 1 1.5 0 0-4.5 2 0 0 3.5 0.5 0 0 2 1 0 0 1.5 0.5 0 0-1.5 1.5 0 0-3.5 1.5 0 0 3 1 0 0 2 0.5 0 0-0.5 1.5 0 0 0.5 0.5 0 0-0.5 0.5 0 0-2 1.5 0 0-2.5 1.5 0 0 6 0.5 0 0-0.5 1.5 0 0-2.5 1.5 0 0 0.5 1 0 0 2 0.5 0 0-1 1.5 0 0 1 0.5 0 0-2.5 1.5 0 0-3 1.5 0 0 6 0.5 0 0-2.5 2.5 0 0 0.5 1 0 0-1 1 0 0-1 1.5 0 0 0.5 0.5 0 0-2 1.5 0 0 2.5 1.5 0 0-1 3 0 0 0.5 0.5 0 0-4 2 0 0 3 1.5 0 0 4 1 0 0 0.5 0.5 0 0-2.5 1.5 0 0 0.5 0.5 0 0 5 0.5 0 0 6.5-1.5 0 0-2.5-0.5 0 0 1-1 0 0 0.5-1 0 0 1.5-1.5 0 0-3-0.5 0 0 4.5-1.5 0 0 0.5-1.5 0 0-2-1 0 0-1.5-1 0 0-0.5-0.5 0 0-0.5-0.5 0 0 1-1.5 0 0-2-0.5 0 0 0.5-0.5 0 0 3-2.5 0 0-1.5-2 0 0 7.5-1.5 0 0-7.5-0.5 0 0 0.5-0.5 0 0 2.5-1.5 0 0 1-1.5 0 0-5-1 0 0-1-0.5 0 0 1.5-0.5 0 0 0.5-0.5 0 0 1.5-1.5 0 0-1-0.5 0 0-0.5-0.5 0 0-2.5-0.5 0 0 7.5-1.5 0 0-5-0.5 0 0-0.5-0.5 0 0 7-1.5 0 0-3-0.5 0 0-0.5-1.5 0 0-2.5-0.5 0 0-0.5-0.5 0 0 1-0.5 0 0 3-1.5 0 0-4.5-0.5 0 0-1-0.5 0 0 1.5-0.5 0 0 1.5-1.5 0 0-1.5-1.5 0 0 0.5-1.5 0 0-2-0.5 0 0 0.5-1.5 0 0 4.5-1.5 0 0-1-1 0 0-1.5-0.5 0 0 0.5-1.5 0 0-2-1 0 0-3.5-0.5 0 0 2.5-0.5 0 0 1.5-0.5 0 0 5-1.5 0 0-4.5-0.5 0 0-3.5-0.5 0 0 2-0.5 0 0 2.5-1.5 0 0-1-0.5 0 0-2-0.5 0 0 0.5-0.5 0 0 0.5-1.5 0 0-1-1.5 0 0 2-1.5 0 0 4.5-1.5 0 0-6-1.5 0 0 0.5-0.5 0 0 3.5-1.5 0 0-5-0.5 0 0 1-0.5 0 0 1-1.5 0 0-0.5-0.5 0 0-0.5-1 0 0 1-1.5 0 0-2.5-1 0 0 1.5-1.5 0 0-2.5-1.5 0 0 2-1 0 0 2.5-1.5 0 0-3-0.5 0 0 0.5-0.5 0 0 1.5-2 0 0 2.5-1.5 0 0-5-0.5 0 0 1-1 0 0 4-1.5 0 0-2-0.5 0 0 2.5-1.5 0 0-2.5-0.5 0 0 1-1.5 0 0-2.5-1.5 0 0-1-0.5 0 0 5-1.5 0 0-6.5-1 0 0-0.5-0.5 0 0-1.5-1 0 0 3.5-0.5 0 0 1-1.5 0 0-3-0.5 0 0 3-1 0 0 2.5-1.5 0 0-2.5-1 0 0 1-1.5 0 0-0.5-0.5 0 0 2.5-1.5 0 0-0.5-1 0 0-1-0.5 0 0-2.5-0.5 0 0 1.5-1 0 0 1.5-1.5 0 0-3.5-2 0 0-0.5-0.5 0 0-1.5-0.5 0 0 3-1.5 0 0-2.5-0.5 0 0 2.5-1.5 0 0-1.5-1 0 0-1-1.5 0 0-0.5-1 0 0 0.5-1.5 0 0 2-1.5 0 0-1-1 0 0 1.5-0.5 0 0 1.5-1.5 0 0-4-0.5 0 0-0.5-2 0 0-1-1 0 0 1-1 0 0 4-1.5 0 0-1.5-0.5 0 0-0.5-0.5 0 0 3-1.5 0 0-3-1.5 0 0 0.5-1.5 0 0 0.5-2 0 0-1.5-0.5 0 0 1-1.5 0 0-1-1.5 0 0-1.5-1 0 0-0.5-1 0 0 2-0.5 0 0 0.5-4.5 0 0-2-0.5 0 0 2-1.5 0 0-0.5-0.5 0 0 2.5-1.5 0 0-3-1 0 0 1.5-2.5 0 0-1.5-0.5 0 0 0.5-1.5 0 0-1.5-0.5 0 0-1.5-0.5 0 0-1-1 0 0 2.5-1.5 0 0-2.5-0.5 0 0 2.5-1.5 0 0-2-0.5 0 0 2.5-0.5 0 0 3-1.5 0 0-1.5-1.5 0 0-0.5-0.5 0 0-2-1 0 0 0.5-3 0 0-2-1 0 0 1.5-1 0 0 0.5-1.5 0 0-1-0.5 0 0-2-0.5 0 0 4-1.5 0 0-3-0.5 0 0-0.5-1 0 0-0.5-1.5 0 0 4.5-2.5 0 0-2-1 0 0-1.5-1.5 0 0-2-1 0 0-1-1 0 0 0.5-1.5 0 0-1-0.5 0 0 3.5-1 0 0 1-1.5 0 0-3-1 0 0-1-0.5 0 0 0.5-0.5 0 0 5-1.5 0 0-2.5-0.5 0 0-0.5-1.5 0 0-0.5-1.5 0 0-1.5-0.5 0 0-1.5-1 0 0 3.5-1.5 0 0-0.5-1 0 0-2-1 0 0 2.5-2 0 0-5.5-0.5 0 0 3-0.5 0 0 1-1 0 0 0.5-2 0 0-0.5-0.5 0 0-1.5-0.5 0 0 1.5-1.5 0 0-0.5-0.5 0 0 1-1.5 0 0-4.5-0.5 0 0 1-1.5 0 0 3-0.5 0 0 0.5-1.5 0 0-1-0.5 0 0-2.5-1.5 0 0-2-0.5 0 0 2-1.5 0 0-1.5-0.5 0 0 1.5-1.5 0 0 3.5-1.5 0 0-1.5-0.5 0 0-1-2.5 0 0-4-0.5 0 0-1.5-0.5 0 0 4-0.5 0 0 0.5-1 0 0 0.5-1.5 0 0-1-0.5 0 0-2.5-0.5 0 0 0.5-2.5 0 0 0.5-0.5 0 0 1.5-0.5 0 0 1.5-1.5 0 0-4-1 0 0 1-0.5 0 0 3.5-3 0 0-7.5-0.5 0 0 3.5-1.5 0 0-3-0.5 0 0 0.5-1 0 0 0.5-1.5 0 0-1-1 0 0 6-1.5 0 0-1-0.5 0 0-2.5-0.5 0 0 2-1.5 0 0-4-0.5 0 0 0.5-0.5 0 0 2.5-1.5 0 0-2-1.5 0 0-1-1 0 0 1.5-1.5 0 0-2-1.5 0 0 3-1 0 0 0.5-1.5 0 0-4-0.5 0 0 4-1.5 0 0-3.5-1 0 0 1-1.5 0 0-2.5-0.5 0 0 1-2 0 0-1.5-1 0 0 7.5-1.5 0 0-4-0.5 0 0-0.5-3 0 0-3-0.5 0 0 1.5-1.5 0 0-1-1.5 0 0 2-1.5 0 0-1-3 0 0-2.5-0.5 0 0 1-1 0 0 1-0.5 0 0 1.5-1.5 0 0-0.5-1 0 0-1-0.5 0 0 0.5-1.5 0 0 0.5-0.5 0 0 0.5-1 0 0 1-1.5 0 0-0.5-0.5 0 0 0.5-0.5 0 0 2.5-1.5 0 0-4-1 0 0-0.5-1 0 0 4.5-1.5 0 0-3.5-0.5 0 0 2-0.5 0 0 0.5-1.5 0 0-2-0.5 0 0 2-0.5 0 0 0.5-2 0 0-0.5-0.5 0 0-0.5-1.5 0 0 1.5-1.5 0 0-2.5-0.5 0 0-3-0.5 0 0 3-0.5 0 0 3-1 0 0 1.5-1.5 0 0-0.5-0.5 0 0-0.5-1 0 0-2-0.5 0 0 0.5-1 0 0 2.5-1.5 0 0-0.5-0.5 0 0-2-1 0 0-1-0.5 0 0 0.5-0.5 0 0 1.5-0.5 0 0 2-0.5 0 0 0.5-1.5 0 0-0.5-1 0 0-2.5-3 0 0 1.5-2 0 0 5.5-1.5 0 0-4-0.5 0 0 2-1.5 0 0-2-1 0 0-1-0.5 0 0 3-0.5 0 0 1-1.5 0 0-1.5-1.5 0 0-1.5-1.5 0 0 1.5-2.5 0 0 1.5-0.5 0 0 0.5-1.5 0 0 2.5-1.5 0 0-1.5-0.5 0 0 3-1.5 0 0-0.5-1.5 0 0-1.5-1.5 0 0-1.5-0.5 0 0-2.5-0.5 0 0 1-0.5 0 0 2.5-1.5 0 0-1-0.5 0 0 3.5-1.5 0 0-2-0.5 0 0-2-0.5 0 0 1-1 0 0 1-1 0 0 3-0.5 0 0 1-0.5 0 0 3.5-1.5 0 0-6.5-0.5 0 0 1-0.5 0 0 0.5-1.5 0 0 0.5-1.5 0 0-1-1 0 0-1-0.5 0 0-2.5-0.5 0 0 6.5-1.5 0 0-2.5-0.5 0 0 1.5-1 0 0 2.5-1.5 0 0-2-0.5 0 0-3-0.5 0 0 1.5-0.5 0 0 2.5-0.5 0 0 1-1.5 0 0-2-1.5 0 0-2.5-0.5 0 0 1-1.5 0 0 5-2 0 0 0.5-2 0 0-3-2 0 0-1-0.5 0 0 0.5-1.5 0 0 6.5-1.5 0 0-3.5-1 0 0-2.5-1.5 0 0-1-1.5 0 0 2.5-1.5 0 0 0.5-1.5 0 0-1-2 0 0 1-1.5 0 0-2-1 0 0 7-1.5 0 0-4.5-1 0 0 2-1.5 0 0-5-0.5 0 0 2.5-1.5 0 0-1-1.5 0 0 0.5-1.5 0 0-0.5-0.5 0 0-1-0.5 0 0 1-0.5 0 0 0.5-1 0 0 0.5-1 0 0 5.5-1.5 0 0-3.5-1.5 0 0 0.5-1.5 0 0-1-1 0 0 1.5-1 0 0 0.5-1.5 0 0-2-1.5 0 0-1.5-1 0 0 2-0.5 0 0 1-1.5 0 0-3.5-1 0 0 1-0.5 0 0 4.5-1.5 0 0-2.5-0.5 0 0-3.5-1.5 0 0 1-1.5 0 0 1-1 0 0 1.5-1.5 0 0 0.5-1.5 0 0-3.5-0.5 0 0-0.5-0.5 0 0 0.5-1 0 0 0.5-1 0 0 1.5-0.5 0 0 0.5-2 0 0 0.5-1.5 0 0-1.5-2.5 0 0 2.5-0.5 0 0 1.5-1.5 0 0-6-0.5 0 0 4-1.5 0 0-1-0.5 0 0-1-0.5 0 0-2-0.5 0 0 1-1.5 0 0 2-1.5 0 0-1.5-0.5 0 0 0.5-1.5 0 0 2-1.5 0 0-4.5-0.5 0 0 3.5-0.5 0 0 2.5-1 0 0 2-1.5 0 0-7.5-1.5 0 0-2-0.5 0 0 2-0.5 0 0 2-0.5 0 0 1.5-2 0 0-1.5-1 0 0-2-0.5 0 0 4.5-1.5 0 0-2.5-2.5 0 0-1-0.5 0 0 1-1.5 0 0 1-1.5 0 0-2-1.5 0 0 0.5-0.5 0 0 1-0.5 0 0 2.5-0.5 0 0 0.5-1.5 0 0-2-0.5 0 0-3-0.5 0 0 1-1 0 0 0.5-0.5 0 0 2-3 0 0-2-1.5 0 0-1.5-1 0 0-1-0.5 0 0 5-1.5 0 0-1-0.5 0 0-2-3 0 0 0.5-1 0 0 3-3 0 0-2.5-0.5 0 0-1.5-1.5 0 0 0.5-1 0 0 0.5-1 0 0 1.5-0.5 0 0 0.5-1.5 0 0-2.5-0.5 0 0 4.5-1.5 0 0-2.5-1 0 0-2.5-4 0 0-0.5-1 0 0 6-1.5 0 0-4.5-0.5 0 0 1-1.5 0 0-1-0.5 0 0-1.5-0.5 0 0 3.5-1.5 0 0-1-0.5 0 0-1.5-1 0 0 0.5-0.5 0 0 1-1.5 0 0-3-0.5 0 0 4-0.5 0 0 1-1.5 0 0-1-0.5 0 0-1-0.5 0 0-2-1 0 0 0.5-1.5 0 0-0.5-0.5 0 0 1-1.5 0 0-4.5-0.5 0 0 3.5-0.5 0 0 5.5-1.5 0 0-4-1.5 0 0 0.5-1.5 0 0-0.5-0.5 0 0 1-1.5 0 0-1-0.5 0 0 1-1.5 0 0-4.5-1 0 0 5.5-1.5 0 0-5.5-0.5 0 0-1-0.5 0 0 0.5-1.5 0 0-0.5-0.5 0 0 4-1.5 0 0-0.5-0.5 0 0-2.5-0.5 0 0 4-1.5 0 0 1-1.5 0 0-3.5-0.5 0 0-2-1 0 0 1-1 0 0 3.5-1.5 0 0-3.5-0.5 0 0 1.5-1.5 0 0-0.5-0.5 0 0-1-0.5 0 0-1-0.5 0 0 0.5-0.5 0 0 2.5-2 0 0-3-1 0 0-0.5-0.5 0 0 3-2.5 0 0-2-1 0 0-0.5-0.5 0 0 4.5-1.5 0 0-2.5-3 0 0-3.5-0.5 0 0 1.5-0.5 0 0 0.5-1 0 0 3.5-1.5 0 0-5.5-1.5 0 0-1.5-0.5 0 0 6-1.5 0 0-1-0.5 0 0-2-1 0 0 1-1.5 0 0 3.5-1.5 0 0-7-0.5 0 0 0.5-1.5 0 0 2.5-0.5 0 0 1.5-1.5 0 0 3.5-1.5 0 0-7.5-0.5 0 0-1-0.5 0 0 6-1.5 0 0-0.5-2 0 0-0.5-0.5 0 0-2.5-1 0 0 5.5-0.5 0 0 0.5-1.5 0 0-5-0.5 0 0-1.5-1.5 0 0-0.5-0.5 0 0-1-1 0 0 1.5-0.5 0 0 1-1.5 0 0-1.5-1.5 0 0-2-0.5 0 0 6.5-1.5 0 0-1.5-1 0 0-1-1 0 0-2-0.5 0 0 2-1.5 0 0-0.5-1 0 0-0.5-1 0 0 0.5-1.5 0 0-0.5-1 0 0 1.5-1 0 0 0.5-1.5 0 0-1.5-1 0 0-0.5-0.5 0 0-0.5-1.5 0 0-0.5-1 0 0-0.5-1 0 0 2-0.5 0 0 3.5-2.5 0 0-4.5-0.5 0 0 1-1.5 0 0 3-1.5 0 0-0.5-0.5 0 0-0.5-0.5 0 0-0.5-1 0 0-2.5-0.5 0 0-0.5-1.5 0 0 2.5-1.5 0 0 2-1.5 0 0 0.5-1.5 0 0-1.5-0.5 0 0-3.5-1 0 0 0.5-1 0 0 1-1.5 0 0 5-1.5 0 0-3.5-1 0 0-3.5-2.5 0 0-1.5-1 0 0 8.5-1.5 0 0-3-0.5 0 0-3-1 0 0 1.5-1.5 0 0-1.5-1 0 0-2-1 0 0 2.5-0.5 0 0 0.5-1 0 0 2-1.5 0 0-1.5-1.5 0 0-2.5-1 0 0 1.5-1.5 0 0-2.5-1 0 0 0.5-1 0 0 1-0.5 0 0 2.5-1.5 0 0-1-1 0 0-1.5-1 0 0-0.5-0.5 0 0 3-1.5 0 0-1-0.5 0 0 1.5-1.5 0 0-2-1.5 0 0 4-1.5 0 0-4.5-1 0 0-1-2.5 0 0-0.5-1.5 0 0 4-1.5 0 0-1-1 0 0-1-0.5 0 0-1-0.5 0 0 2-1.5 0 0-1-1.5 0 0-1-1.5 0 0 0.5-1.5 0 0-3-0.5 0 0 2-1.5 0 0-1-1 0 0-0.5-0.5 0 0 3-0.5 0 0 1.5-1.5 0 0-2-1.5 0 0-2-2 0 0 2-1 0 0 1-1.5 0 0-4-0.5 0 0 2-0.5 0 0 2-1.5 0 0-1-0.5 0 0-2.5-1 0 0 2-1.5 0 0-1.5-0.5 0 0 2-1.5 0 0-1-0.5 0 0-0.5-0.5 0 0 4-1.5 0 0-4-1 0 0 5.5-1.5 0 0-1-0.5 0 0-4.5-0.5 0 0 3-1 0 0 2-1.5 0 0-1.5-1.5 0 0-2.5-1.5 0 0 1-1.5 0 0-1-1 0 0-1-1.5 0 0-0.5-1 0 0 3.5-1.5 0 0-0.5-0.5 0 0-1-3 0 0-0.5-1 0 0 2-0.5 0 0 2-1.5 0 0-6-0.5 0 0-2-1 0 0 5-0.5 0 0 3-1.5 0 0-2.5-0.5 0 0-0.5-0.5 0 0 8-1.5 0 0-9-1.5 0 0-0.5-1.5 0 0-1.5-0.5 0 0 0.5-1.5 0 0-0.5-1 0 0 1.5-2 0 0 8.5-1.5 0 0-11.5-0.5 0 0 4-2 0 0 2-1.5 0 0-1.5-0.5 0 0-0.5-0.5 0 0-2.5-0.5 0 0 4.5-2.5 0 0-5.5-0.5 0 0 1.5-0.5 0 0 1-1.5 0 0 1.5-1.5 0 0-3.5-0.5 0 0 2.5-1.5 0 0-4-0.5 0 0 2-1 0 0 2-4 0 0-0.5-1 0 0-1-1.5 0 0-3.5-1 0 0 5-1.5 0 0-1.5-0.5 0 0-1.5-0.5 0 0 1-2 0 0 3.5-1.5 0 0-4-1 0 0 6-1.5 0 0-4.5-1 0 0-2-0.5 0 0-2-1 0 0 0.5-1 0 0 4.5-1 0 0 1-1.5 0 0-3.5-0.5 0 0 0.5-1.5 0 0-0.5-0.5 0 0 1.5-1.5 0 0-1.5-0.5 0 0 2-1.5 0 0-4-1 0 0 5-1.5 0 0-4-2 0 0 4.5-1.5 0 0-3-1 0 0-2.5-1.5 0 0-1-0.5 0 0 4.5-1.5 0 0-2.5-1 0 0-2-0.5 0 0-4-0.5 0 0 0.5-0.5 0 0 0.5-0.5 0 0 3-1.5 0 0-0.5-1 0 0 1-1.5 0 0-1-0.5 0 0-4-0.5 0 0 5-2.5 0 0-2-1 0 0-2-0.5 0 0 0.5-1 0 0 10-1.5 0 0-4-0.5 0 0-0.5-0.5 0 0-3-1 0 0-3-1.5 0 0 0.5-1 0 0 2.5-0.5 0 0 1.5-1.5 0 0-4.5-0.5 0 0 4-1.5 0 0-3-0.5 0 0-0.5-0.5 0 0 4-1.5 0 0-6-0.5 0 0 3.5-1.5 0 0 2.5-1.5 0 0-5-2 0 0-1-0.5 0 0 0.5-0.5 0 0 4.5-1.5 0 0-4.5-0.5 0 0-0.5-0.5 0 0 2-1.5 0 0 1-1.5 0 0 1.5-1.5 0 0-4-0.5 0 0 1.5-1.5 0 0-0.5-1 0 0-0.5-1.5 0 0-0.5-1.5 0 0-2.5-0.5 0 0 5-1.5 0 0-0.5-1 0 0 1-2 0 0-1-1 0 0-2.5-1.5 0 0 4.5-1.5 0 0-2-1 0 0-2-0.5 0 0 1.5-1.5 0 0 1-1.5 0 0-0.5-1.5 0 0-7-0.5 0 0 5.5-1.5 0 0 3-1.5 0 0-4-1.5 0 0-4-0.5 0 0 5-1.5 0 0-2-2 0 0 1.5-1.5 0 0-1-1.5 0 0-0.5-0.5 0 0 1.5-1.5 0 0-2.5-1.5 0 0 1.5-1.5 0 0-1-0.5 0 0-3.5-0.5 0 0 1.5-0.5 0 0 3.5-1.5 0 0-1-0.5 0 0 1-1.5 0 0 3-1.5 0 0-3-0.5 0 0-1.5-0.5 0 0 0.5-1.5 0 0-1.5-1 0 0-1.5-0.5 0 0 1-1.5 0 0-2.5-0.5 0 0 3-0.5 0 0 2-1.5 0 0-5.5-0.5 0 0 4.5-1.5 0 0-4-0.5 0 0 9-2 0 0-6-2.5 0 0 0.5-1.5 0 0 0.5-1.5 0 0-0.5-0.5 0 0-1.5-0.5 0 0 2-1.5 0 0-2.5-0.5 0 0-1-0.5 0 0 1-1 0 0 2.5-1.5 0 0-3-0.5 0 0-1-0.5 0 0-0.5-1 0 0-0.5-0.5 0 0-0.5-0.5 0 0 2.5-1.5 0 0-0.5-1.5 0 0 5-1.5 0 0-6.5-0.5 0 0-0.5-0.5 0 0 1.5-2 0 0 1-1.5 0 0-3-0.5 0 0 3.5-1.5 0 0 0.5-0.5 0 0 1.5-1.5 0 0 0.5-0.5 0 0 3-1.5 0 0-8.5-0.5 0 0-0.5-1.5 0 0-0.5-1.5 0 0-2-0.5 0 0 5-1.5 0 0-1.5-1 0 0-0.5-0.5 0 0-2.5-0.5 0 0 5-1.5 0 0-1.5-0.5 0 0 0.5-1.5 0 0-0.5-0.5 0 0-0.5-0.5 0 0 2-0.5 0 0 2-1.5 0 0-2.5-0.5 0 0-1-0.5 0 0-2-1 0 0 4-1.5 0 0-7-0.5 0 0 0.5-0.5 0 0 3-1.5 0 0 7-1.5 0 0-6.5-0.5 0 0-2-0.5 0 0-1-0.5 0 0 3-2 0 0-0.5-1.5 0 0-1.5-0.5 0 0 0.5-0.5 0 0 1-1.5 0 0-1-0.5 0 0 0.5-1.5 0 0-0.5-1.5 0 0 6.5-1.5 0 0-6-0.5 0 0-3.5-1 0 0 0.5-0.5 0 0 6.5-0.5 0 0 1-1.5 0 0-6.5-0.5 0 0 6.5-1.5 0 0 4.5-1.5 0 0-9.5-0.5 0 0 8-1.5 0 0-9.5-1 0 0 0.5-1.5 0 0-1-0.5 0 0-0.5-0.5 0 0 0.5-1.5 0 0-0.5-0.5 0 0 2.5-1.5 0 0-3.5-1 0 0 2.5-0.5 0 0 0.5-0.5 0 0 2-1.5 0 0-3.5-1 0 0 6-0.5 0 0 0.5-1.5 0 0-4-1 0 0-1-0.5 0 0 2-1.5 0 0-4-1.5 0 0-2.5-0.5 0 0-1.5-0.5 0 0 8-1 0 0 4.5-1.5 0 0-9-0.5 0 0 2-1.5 0 0-2-0.5 0 0-1-0.5 0 0-2-1 0 0 6-1 0 0 1.5-1.5 0 0-7.5-1 0 0 2.5-1.5 0 0 1.5-1.5 0 0-2.5-2 0 0-1-0.5 0 0-0.5-0.5 0 0 0.5-0.5 0 0 1-0.5 0 0 4.5-1.5 0 0-5-0.5 0 0 0.5-1 0 0 4.5-1.5 0 0-0.5-0.5 0 0-3.5-0.5 0 0-0.5-0.5 0 0 1.5-1.5 0 0-1-0.5 0 0 0.5-1 0 0 5.5-1.5 0 0-0.5-0.5 0 0-3-1.5 0 0-0.5-0.5 0 0-5-0.5 0 0 1-0.5 0 0 3.5-1.5 0 0-3-1.5 0 0-2-0.5 0 0-0.5-0.5 0 0 6.5-1.5 0 0-1.5-1.5 0 0-5-0.5 0 0 1.5-0.5 0 0 4.5-1.5 0 0-5-1 0 0 6-1.5 0 0-4-1 0 0-1-1.5 0 0 0.5-2 0 0-1.5-0.5 0 0 5-1.5 0 0-5-0.5 0 0 1-1.5 0 0-0.5-0.5 0 0-0.5-1.5 0 0-2.5-0.5 0 0 6.5-1.5 0 0-3.5-0.5 0 0 1.5-1.5 0 0-3.5-0.5 0 0 10.5-1.5 0 0-5.5-1 0 0-5.5-1.5 0 0 2-0.5 0 0 5.5-1.5 0 0-2-0.5 0 0 2-1.5 0 0-6-1 0 0-4.5-1 0 0 1-0.5 0 0 4.5-0.5 0 0 3-1.5 0 0-3.5-1 0 0 1.5-1.5 0 0-0.5-0.5 0 0-3-1 0 0 3.5-1.5 0 0-2.5-0.5 0 0 3.5-1.5 0 0-3-0.5 0 0-1.5-0.5 0 0 2.5-1.5 0 0-3-2 0 0-1-0.5 0 0 2.5-1.5 0 0-3-0.5 0 0 0.5-1.5 0 0 1.5-1.5 0 0-3-1 0 0-2-0.5 0 0 1.5-1 0 0 0.5-0.5 0 0 4-1.5 0 0-0.5-0.5 0 0-5-0.5 0 0 1-0.5 0 0 0.5-0.5 0 0 0.5-1 0 0 2-1.5 0 0-4.5-2 0 0 1.5-1 0 0 0.5-0.5 0 0 1.5-1 0 0 1.5-0.5 0 0 0.5-0.5 0 0 0.5-1.5 0 0-4.5-0.5 0 0-1.5-1 0 0-1.5-0.5 0 0-0.5-1 0 0 8-1.5 0 0-4-1.5 0 0-4.5-1 0 0-2.5-1.5 0 0 4.5-0.5 0 0 0.5-1.5 0 0 1.5-1.5 0 0-3.5-0.5 0 0-0.5-0.5 0 0-0.5-1.5 0 0 1.5-1.5 0 0-1.5-0.5 0 0-1.5-1.5 0 0 1-0.5 0 0 1-1.5 0 0-1-0.5 0 0 2-1.5 0 0-2.5-0.5 0 0 1.5-1.5 0 0-2.5-1.5 0 0 1-1.5 0 0-4.5-0.5 0 0 2-0.5 0 0 0.5-1.5 0 0-2-0.5 0 0-3.5-1.5 0 0-1-0.5 0 0 2.5-0.5 0 0 4-1.5 0 0-4.5-1 0 0-1.5-0.5 0 0-1-0.5 0 0 2-0.5 0 0 2-1.5 0 0-4-1 0 0-0.5-0.5 0 0 0.5-0.5 0 0 2.5-1 0 0 2-0.5 0 0 0.5-1.5 0 0-2-0.5 0 0-2.5-0.5 0 0-3.5-1 0 0-0.5-1 0 0 0.5-0.5 0 0 2-0.5 0 0 7-1.5 0 0-11-0.5 0 0 2.5-4.5 0 0-5-0.5 0 0 5.5-1.5 0 0-7-0.5 0 0 1.5-1 0 0 1.5-1.5 0 0-5.5-0.5 0 0 2-0.5 0 0 2-1.5 0 0 2-1.5 0 0-7-1 0 0 9-1.5 0 0-5.5-0.5 0 0-1-0.5 0 0 2-1.5 0 0-1.5-0.5 0 0-2-2.5 0 0-2.5-3 0 0-5-1 0 0 3-0.5 0 0 1.5-1.5 0 0-6-0.5 0 0 3.5-1.5 0 0-2.5-0.5 0 0 0.5-1.5 0 0-1-0.5 0 0-3-0.5 0 0 2.5-1.5 0 0-1-0.5 0 0 1-1.5 0 0 1-1.5 0 0-1-1.5 0 0-2.5-0.5 0 0-0.5-1 0 0-0.5-0.5 0 0-1.5-0.5 0 0-2.5-1 0 0 0.5-0.5 0 0 2-2 0 0-2-0.5 0 0-3.5-1 0 0 1.5-0.5 0 0 0.5-1.5 0 0-3.5-0.5 0 0-2.5-0.5 0 0 2.5-0.5 0 0 0.5-1.5 0 0-2.5-0.5 0 0-0.5-0.5 0 0 5-0.5 0 0 0.5-1.5 0 0-6.5-0.5 0 0 0.5-0.5 0 0 3-1.5 0 0-2-0.5 0 0-7.5-0.5 0 0-1-0.5 0 0 2-0.5 0 0 2-1.5 0 0-0.5-1 0 0-1-0.5 0 0-0.5-1 0 0 4.5-1.5 0 0-8.5-1 0 0 1-0.5 0 0 3-1.5 0 0-6.5-1 0 0 1-0.5 0 0 4-1.5 0 0-5.5-0.5 0 0-1.5-1 0 0-4-1 0 0 0.5-1 0 0 1-3 0 0 3-1.5 0 0-5.5-1 0 0 0.5-1.5 0 0-3-0.5 0 0-0.5-2 0 0 3-1.5 0 0-2.5-0.5 0 0 2.5-1.5 0 0-9.5-0.5 0 0 1.5-0.5 0 0 2-0.5 0 0 6-3 0 0-1.5-0.5 0 0-1.5-0.5 0 0-5-1 0 0 2-1 0 0 7.5-1.5 0 0-11-2 0 0 5.5-0.5 0 0 0.5-0.5 0 0 11-1.5 0 0-8.5-1 0 0-3.5-0.5 0 0 2-1.5 0 0-3-1 0 0-0.5-0.5 0 0 2-2 0 0-3-0.5 0 0 1-1 0 0 3.5-1 0 0 3-1.5 0 0-2-0.5 0 0-1.5-0.5 0 0 10-1.5 0 0-4-0.5 0 0-0.5-1.5 0 0-4.5-0.5 0 0 2-0.5 0 0 1.5-1.5 0 0-2-0.5 0 0 1-0.5 0 0 4.5-1 0 0 6-1.5 0 0-1.5-1 0 0 0.5-0.5 0 0 2-1.5 0 0-1.5-0.5 0 0 4-0.5 0 0 1-1.5 0 0-2-0.5 0 0 4.5-1.5 0 0-1.5-1 0 0-1-0.5 0 0 2-1 0 0 2-0.5 0 0 1.5-1.5 0 0 2-0.5 0 0 2.5-2.5 0 0-1-0.5 0 0 1-0.5 0 0 1.5-0.5 0 0 3.5-1.5 0 0 9.5-1.5 0 0-9.5-1 0 0 1-0.5 0 0 3.5-0.5 0 0 1-0.5 0 0 5.5-1.5 0 0-4.5-0.5 0 0 3-0.5 0 0 4-0.5 0 0 1-1.5 0 0-4.5-1 0 0 1-0.5 0 0 4-0.5 0 0 2-1.5 0 0-3-1.5 0 0 3-1 0 0 1-0.5 0 0 1.5-0.5 0 0 4-0.5 0 0 1.5-1.5 0 0 2.5-1.5 0 0-1.5-1 0 0 4.5-1.5 0 0-5-1.5 0 0-0.5-1.5 0 0 9-2.5 0 0-5-1.5 0 0-1.5-0.5 0 0 2.5-1 0 0 7.5-1.5 0 0 7.5-1.5 0 0-4.5-1 0 0-4-0.5 0 0 1.5-1 0 0 6.5-1.5 0 0-5.5-0.5 0 0 5.5-1.5 0 0-1-0.5 0 0 6-1.5 0 0-2-1.5 0 0-2.5-0.5 0 0 2.5-1.5 0 0-2.5-0.5 0 0 1.5-0.5 0 0 1.5-1 0 0 0.5-1 0 0 2-1.5 0 0 5-1.5 0 0-2.5-1.5 0 0 3.5-1.5 0 0-1-1 0 0-3-0.5 0 0 2-1.5 0 0-2-1 0 0-2.5-0.5 0 0 5.5-1.5 0 0 2.5-1.5 0 0-4-1 0 0 1-1.5 0 0-3-0.5 0 0 4.5-1.5 0 0-1.5-0.5 0 0 3.5-0.5 0 0 3-1.5 0 0-3-1 0 0-0.5-0.5 0 0-1.5-0.5 0 0 1-0.5 0 0 2-1.5 0 0-8.5-0.5 0 0 2.5-1.5 0 0 5.5-1.5 0 0-2.5-0.5 0 0-4.5-0.5 0 0-1.5-0.5 0 0 7.5-1.5 0 0-2.5-0.5 0 0 2.5-1.5 0 0 1.5-2.5 0 0-3-0.5 0 0-2-0.5 0 0-4.5-1 0 0 3.5-0.5 0 0 3-1.5 0 0-3.5-1 0 0 3-1.5 0 0-0.5-0.5 0 0-1-0.5 0 0-4-1 0 0 1.5-0.5 0 0 2.5-0.5 0 0 3-1.5 0 0-6-1.5 0 0-1.5-0.5 0 0 0.5-0.5 0 0 2-0.5 0 0 1-1.5 0 0-5.5-0.5 0 0 6-1.5 0 0-4-0.5 0 0 8-1.5 0 0-7.5-1 0 0-3-0.5 0 0-0.5-0.5 0 0-0.5-1.5 0 0 6.5-0.5 0 0 3-1.5 0 0-4-1.5 0 0-2.5-0.5 0 0 6-1.5 0 0-4-1 0 0 1.5-1.5 0 0-6-0.5 0 0 0.5-0.5 0 0 6.5-1.5 0 0-5-0.5 0 0-2.5-0.5 0 0 13.5-1.5 0 0-7-1 0 0-1-2 0 0 2-1.5 0 0-4.5-1.5 0 0-4.5-1 0 0 0.5-2 0 0 1.5-0.5 0 0 1-1.5 0 0 3-2.5 0 0-0.5-0.5 0 0 0.5-0.5 0 0 0.5-1.5 0 0-3-0.5 0 0 3-1.5 0 0-2.5-1 0 0-3-1 0 0-1.5-0.5 0 0 1.5-1.5 0 0-1.5-1 0 0 3.5-1.5 0 0-6.5-0.5 0 0 4-1 0 0 3.5-1.5 0 0-1-1 0 0-3-0.5 0 0 6.5-1.5 0 0-5-0.5 0 0 3-1.5 0 0-7.5-1 0 0 14-1.5 0 0-11.5-1 0 0-3.5-1 0 0 5-1.5 0 0-2-0.5 0 0 1.5-1.5 0 0-3-1 0 0 3-1.5 0 0-1-0.5 0 0-0.5-0.5 0 0 4.5-1.5 0 0-2-1.5 0 0-7-0.5 0 0-2-0.5 0 0 0.5-1 0 0 9.5-1.5 0 0-5.5-1.5 0 0-0.5-2 0 0-1-0.5 0 0 1.5-1.5 0 0 0.5-0.5 0 0 0.5-0.5 0 0 0.5-1.5 0 0-5.5-0.5 0 0 2.5-2 0 0 5-1.5 0 0-3.5-1 0 0-0.5-1.5 0 0-6.5-0.5 0 0-1.5-1 0 0 3.5-1 0 0 2.5-1.5 0 0-4.5-0.5 0 0 2-1 0 0 2-1 0 0 1.5-1.5 0 0-1.5-1.5 0 0-4.5-0.5 0 0 0.5-1.5 0 0 1.5-1.5 0 0-2-1 0 0 4.5-1.5 0 0-1-0.5 0 0-5-0.5 0 0-0.5-0.5 0 0 4.5-0.5 0 0 9-1.5 0 0-10-0.5 0 0 1.5-1.5 0 0 4-1.5 0 0-4-1 0 0-7.5-1 0 0 9.5-1.5 0 0-5-1 0 0 2-1.5 0 0 0.5-0.5 0 0 1-2 0 0-4.5-1.5 0 0 5-1.5 0 0-3-1 0 0-4.5-0.5 0 0-1-1.5 0 0-1.5-0.5 0 0-0.5-1 0 0-0.5-1 0 0 0.5-1.5 0 0-1.5-1 0 0 1.5-0.5 0 0 9-1.5 0 0-4.5-1 0 0-2-2 0 0 3-0.5 0 0 14.5-1.5 0 0-18.5-1.5 0 0-4.5-0.5 0 0-1-0.5 0 0 4-0.5 0 0 2-0.5 0 0 1.5-1.5 0 0-5-3 0 0 4-1.5 0 0-1.5-0.5 0 0 4-1.5 0 0-4.5-1 0 0 0.5-1.5 0 0-6.5-0.5 0 0 5-1.5 0 0-0.5-0.5 0 0 4.5-1.5 0 0-0.5-0.5 0 0-1-1 0 0-2-1.5 0 0-6.5-0.5 0 0-1-1.5 0 0-3-0.5 0 0 1-0.5 0 0 11.5-1.5 0 0-10-0.5 0 0 8.5-1.5 0 0-2.5-0.5 0 0 0.5-1.5 0 0-2-0.5 0 0-2-1 0 0-6.5-0.5 0 0 3-1.5 0 0-1-0.5 0 0 2-1 0 0 1-1.5 0 0-3-1 0 0 7-1.5 0 0-7.5-1 0 0 1-1.5 0 0-7-0.5 0 0 6.5-1.5 0 0 1.5-1.5 0 0-5-1 0 0-0.5-1 0 0-2.5-1 0 0-1.5-1.5 0 0-1-0.5 0 0 4-1.5 0 0 3.5-1.5 0 0-7-0.5 0 0-1-1.5 0 0-1-1 0 0 1.5-0.5 0 0 1.5-1.5 0 0-3.5-1.5 0 0-1-1 0 0 3-1 0 0 6.5-1.5 0 0-5.5-0.5 0 0-3-0.5 0 0 4.5-1.5 0 0-7-0.5 0 0-2-1.5 0 0-1-0.5 0 0 3.5-1 0 0 0.5-1.5 0 0-1-1 0 0-2.5-2.5 0 0 6-1.5 0 0-5.5-1 0 0-5.5-0.5 0 0-1-0.5 0 0 7-1.5 0 0-4-0.5 0 0-2-1 0 0 3.5-1.5 0 0-15-1 0 0 4-1.5 0 0-6.5-0.5 0 0-1.5-1 0 0 5-1.5 0 0-0.5-1 0 0 7-1.5 0 0-13.5-0.5 0 0 5.5-1.5 0 0-4-0.5 0 0-1-0.5 0 0 1-1.5 0 0 4.5-1.5 0 0-2-1 0 0-7.5-1.5 0 0-3.5-1 0 0 9-1.5 0 0-8-1.5 0 0-1.5-1 0 0-2-0.5 0 0-4-1 0 0-1-0.5 0 0-1.5-1 0 0-1-0.5 0 0-2-1 0 0 5.5-1.5 0 0-1-1 0 0-11-1 0 0 3.5-1.5 0 0-3.5-2 0 0-5-0.5 0 0-6-0.5 0 0 0.5-0.5 0 0 1.5-1.5 0 0 1-0.5 0 0 0.5-1.5 0 0-7.5-0.5 0 0 8.5-1.5 0 0-16.5-0.5 0 0 3.5-1.5 0 0-2-0.5 0 0 8.5-1.5 0 0-7-1 0 0-6.5-1 0 0-0.5-1 0 0 8.5-1.5 0 0-6.5-1.5 0 0-3.5-1.5 0 0-6-0.5 0 0-1-0.5 0 0-5.5-1.5 0 0-3.5-0.5 0 0 6.5-1.5 0 0-11-0.5 0 0-0.5-1 0 0-7-0.5 0 0 1.5-0.5 0 0 7.5-0.5 0 0 12.5-1.5 0 0-9.5-1 0 0-13-0.5 0 0-2-0.5 0 0 2-1.5 0 0-1-0.5 0 0-6.5-0.5 0 0-3-1 0 0-3-1 0 0 1.5-1.5 0 0 4-1.5 0 0-10.5-0.5 0 0 4.5-1.5 0 0-4-0.5 0 0-6.5-1.5 0 0-2-1.5 0 0 3-1.5 0 0-6.5-1 0 0 1-1.5 0 0-4-0.5 0 0-2-1.5 0 0 0.5-1.5 0 0-3-1 0 0-6-2 0 0-5-0.5 0 0-3.5-0.5 0 0-1-1 0 0-1.5-0.5 0 0 7-1.5 0 0-12-1 0 0 8.5-1.5 0 0-3.5-1 0 0-6.5-1 0 0-9.5-1.5 0 0-1.5-0.5 0 0 4.5-1.5 0 0-3.5-0.5 0 0-1.5-0.5 0 0-2.5-1 0 0-2-1 0 0-1.5-1.5 0 0-3-1 0 0-1-0.5 0 0-2-1.5 0 0-4.5-0.5 0 0-6-0.5 0 0 2.5-1.5 0 0-0.5-0.5 0 0-0.5-0.5 0 0 2-1.5 0 0-3.5-0.5 0 0 6.5-1.5 0 0-1-1 0 0-10.5-1.5 0 0-2-0.5 0 0 1-1.5 0 0-6-1.5 0 0-8-1.5 0 0 11-1.5 0 0-8.5-0.5 0 0 3-1.5 0 0-9-1 0 0-3-0.5 0 0 3.5-0.5 0 0 1.5-1 0 0 10-1.5 0 0-13.5-0.5 0 0-5.5-1 0 0 5-0.5 0 0 0.5-1.5 0 0-2-0.5 0 0-6-1.5 0 0-9.5-0.5 0 0 10-0.5 0 0 3.5-1.5 0 0-8.5-0.5 0 0-5.5-1.5 0 0-0.5-0.5 0 0 8.5-1.5 0 0-14-1 0 0 7.5-0.5 0 0 2.5-1.5 0 0 0.5-1.5 0 0-12.5-0.5 0 0 0.5-0.5 0 0 2.5-0.5 0 0 1.5-0.5 0 0 0.5-0.5 0 0 4-0.5 0 0 1.5-1.5 0 0-10.5-0.5 0 0 1-1.5 0 0-2-0.5 0 0 5-0.5 0 0 9-1.5 0 0-9.5-0.5 0 0-7.5-0.5 0 0 9-1.5 0 0-5-0.5 0 0 2-0.5 0 0 2.5-1.5 0 0-3-2 0 0-2-1 0 0 5-0.5 0 0 9-1.5 0 0-9.5-1.5 0 0-3.5-1 0 0 6-1.5 0 0-4-0.5 0 0 7-1.5 0 0-1-1 0 0-12.5-0.5 0 0 0.5-0.5 0 0 1-1 0 0 7.5-0.5 0 0 2.5-1 0 0 1-1.5 0 0-3.5-0.5 0 0 7.5-1.5 0 0-0.5-0.5 0 0-8-0.5 0 0 12.5-1.5 0 0-11-1 0 0 11-0.5 0 0 9-1.5 0 0-8-1.5 0 0-5-1 0 0 3-0.5 0 0 7.5-1.5 0 0-2-0.5 0 0-1.5-0.5 0 0-9.5-0.5 0 0-2-0.5 0 0 1-0.5 0 0 3-1.5 0 0 7-1.5 0 0-5.5-0.5 0 0 6-1.5 0 0 7.5-1.5 0 0-6.5-1 0 0-0.5-0.5 0 0-2.5-0.5 0 0-1.5-0.5 0 0 1.5-0.5 0 0 1.5-1.5 0 0 9-1 0 0 4-1.5 0 0-3-1 0 0 2.5-1.5 0 0-6.5-0.5 0 0-0.5-2 0 0-1-0.5 0 0-2.5-0.5 0 0 4.5-0.5 0 0 1-0.5 0 0 8-1.5 0 0-9-0.5 0 0 7-0.5 0 0 2-0.5 0 0 3.5-1.5 0 0-4-0.5 0 0 10.5-1.5 0 0-2.5-0.5 0 0-14-0.5 0 0 2.5-1 0 0 2.5-1.5 0 0 0.5-1 0 0 8-1.5 0 0-1-1 0 0 14-1.5 0 0-19.5-0.5 0 0 16.5-1.5 0 0-5.5-1 0 0-3-2.5 0 0 1.5-0.5 0 0 2-1.5 0 0 0.5-1.5 0 0-1.5-1 0 0 2.5-0.5 0 0 7.5-1.5 0 0-3-1.5 0 0 6-1.5 0 0-1.5-0.5 0 0-7.5-0.5 0 0 12.5-1.5 0 0-2-1.5 0 0 6.5-1.5 0 0-10-1 0 0 5-1.5 0 0-9-0.5 0 0 6-1.5 0 0 4-1.5 0 0-2-0.5 0 0-2.5-0.5 0 0 4-1 0 0 9-1.5 0 0-12-0.5 0 0-1-0.5 0 0 2.5-0.5 0 0 0.5-1 0 0 4-0.5 0 0 3.5-0.5 0 0 2-1.5 0 0-1-1 0 0-0.5-1.5 0 0-3-1 0 0 4-1.5 0 0-1-0.5 0 0 4.5-1.5 0 0-7-1 0 0 4-1.5 0 0-3.5-0.5 0 0-2-0.5 0 0-2.5-1 0 0 7.5-0.5 0 0 11-1.5 0 0-8-0.5 0 0-0.5-1 0 0-8-1 0 0 6.5-1.5 0 0-3-0.5 0 0-5-0.5 0 0 8-2 0 0 3.5-1 0 0 2.5-0.5 0 0 1-1.5 0 0-1.5-1 0 0-8.5-0.5 0 0 2.5-0.5 0 0 1-1.5 0 0 3-1 0 0 3.5-1.5 0 0-1.5-0.5 0 0-2.5-1 0 0-5.5-0.5 0 0 3.5-1.5 0 0-9-0.5 0 0-0.5-1 0 0 5.5-0.5 0 0 4-0.5 0 0 6-1.5 0 0-4-1.5 0 0-11-0.5 0 0 2.5-1.5 0 0 0.5-0.5 0 0 0.5-1 0 0 2-0.5 0 0 4-0.5 0 0 5-1.5 0 0-11.5-0.5 0 0 5.5-0.5 0 0 5-1.5 0 0-10.5-0.5 0 0-3.5-0.5 0 0-2-0.5 0 0 0.5-0.5 0 0 6.5-1.5 0 0-2-0.5 0 0-0.5-1 0 0-6.5-1 0 0-1.5-0.5 0 0 2.5-0.5 0 0 7.5-1.5 0 0-3.5-0.5 0 0-4-1.5 0 0 11.5-1 0 0 1-1.5 0 0-11-0.5 0 0 5-1.5 0 0-7.5-1 0 0 2.5-1.5 0 0-7.5-0.5 0 0-6-0.5 0 0 8.5-0.5 0 0 12-1.5 0 0-10-0.5 0 0 6.5-1.5 0 0-5-1.5 0 0-0.5-0.5 0 0-1-1.5 0 0 13.5-1.5 0 0-10.5-0.5 0 0-0.5-1 0 0-5-0.5 0 0 10.5-1.5 0 0-10.5-0.5 0 0-2-0.5 0 0 9.5-1.5 0 0-7.5-0.5 0 0-8.5-1 0 0 10.5-1.5 0 0 2-1.5 0 0-11.5-1 0 0-15-0.5 0 0 0.5-0.5 0 0 2-0.5 0 0 16.5-1.5 0 0-9-1 0 0 2-1.5 0 0-3.5-0.5 0 0 11.5-1.5 0 0-4-1.5 0 0-22.5-0.5 0 0-1.5-0.5 0 0 6-0.5 0 0 4.5-0.5 0 0 2.5-1.5 0 0-19.5-0.5 0 0 4-0.5 0 0 4.5-0.5 0 0 10-0.5 0 0 5-1.5 0 0-11-0.5 0 0-4-0.5 0 0-6.5-0.5 0 0 4.5-1.5 0 0-0.5-1.5 0 0-2-0.5 0 0-2-0.5 0 0-2-0.5 0 0 14-1.5 0 0-25-0.5 0 0 13-1.5 0 0-10.5-0.5 0 0 0.5-1.5 0 0-3-1 0 0-2-0.5 0 0-1-0.5 0 0 3.5-1.5 0 0-10.5-1 0 0 2-1.5 0 0-2-0.5 0 0-5-0.5 0 0-11-0.5 0 0 16-1.5 0 0-14.5-0.5 0 0 4-0.5 0 0 14.5-1.5 0 0-1-1.5 0 0-9.5-0.5 0 0-9.5-0.5 0 0-0.5-0.5 0 0 0.5-1.5 0 0-5.5-1 0 0 1.5-0.5 0 0 13.5-1.5 0 0-4-0.5 0 0-17-1 0 0 2-1 0 0 2.5-1.5 0 0-15-0.5 0 0 0.5-0.5 0 0 16.5-1.5 0 0-11.5-1 0 0-2-1.5 0 0-4.5-1 0 0-18.5-1 0 0 14-0.5 0 0 2.5-1.5 0 0-14.5-1 0 0-2-0.5 0 0-1.5-0.5 0 0-1-0.5 0 0-3.5-1 0 0-0.5-0.5 0 0 6.5-0.5 0 0 4-1.5 0 0-10.5-0.5 0 0-6-0.5 0 0-3.5-1.5 0 0-1-1 0 0-3-0.5 0 0-3-2 0 0 8-1.5 0 0-22-1 0 0 7.5-0.5 0 0 2.5-1.5 0 0-3-0.5 0 0-9-0.5 0 0 11-1.5 0 0-16.5-1 0 0-11.5-1 0 0-6-0.5 0 0 17.5-0.5 0 0 5-1.5 0 0-18-1.5 0 0-8.5-1 0 0-6.5-0.5 0 0 5-1.5 0 0-6.5-0.5 0 0-1-1.5 0 0-1-0.5 0 0-0.5-0.5 0 0 6-1.5 0 0-15-0.5 0 0 6-1.5 0 0-26.5-1 0 0 19.5-1.5 0 0-12-0.5 0 0-10.5-0.5 0 0 14-1.5 0 0 4.5-1.5 0 0-22-1 0 0-9-0.5 0 0-0.5-0.5 0 0 8.5-0.5 0 0 8.5-1.5 0 0-11-0.5 0 0-9.5-1.5 0 0-1.5-0.5 0 0-1-0.5 0 0 2.5-0.5 0 0 5-1.5 0 0-6-1 0 0-10.5-0.5 0 0-3.5-1 0 0-7-0.5 0 0 5-1.5 0 0 6-1.5 0 0-4.5-0.5 0 0-7.5-1.5 0 0-9-1 0 0-3-1 0 0-5.5-0.5 0 0-3.5-1 0 0-1-1 0 0 3.5-1 0 0 16-1.5 0 0-10-1.5 0 0-1.5-1 0 0 5-1.5 0 0-2-1 0 0-19.5-0.5 0 0 6-1.5 0 0-4-1 0 0 5.5-1.5 0 0-9.5-0.5 0 0-0.5-1.5 0 0 19.5-1.5 0 0-4-0.5 0 0-14-0.5 0 0-6.5-1 0 0-1.5-1 0 0-1-1 0 0 15-1.5 0 0-7-0.5 0 0-1.5-1.5 0 0-22.5-0.5 0 0 14-0.5 0 0 5.5-1.5 0 0-7-0.5 0 0 5-1.5 0 0-8.5-1 0 0-12-0.5 0 0 9.5-1.5 0 0-2.5-0.5 0 0-1.5-1.5 0 0-1.5-0.5 0 0-6-0.5 0 0 5-1.5 0 0-10.5-0.5 0 0-2.5-0.5 0 0 2-1.5 0 0-4.5-1 0 0 10-1.5 0 0-25.5-1.5 0 0 1-1 0 0 13.5-1.5 0 0-7-0.5 0 0-9.5-2 0 0-1-1.5 0 0-3.5-0.5 0 0 2-1.5 0 0-13-0.5 0 0 3-1.5 0 0-1.5-1.5 0 0-11-0.5 0 0-0.5-0.5 0 0-2-1 0 0-7-0.5 0 0 20-1.5 0 0-21.5-1.5 0 0 0.5-1.5 0 0-6-1 0 0-5-0.5 0 0 0.5-1 0 0 4-1.5 0 0-11.5-1 0 0-9.5-1 0 0-7.5-0.5 0 0-9-0.5 0 0 2-1.5 0 0 5.5-1.5 0Z" fill="#000"/>
<path d="M100 941l0.5 0 0-3 1.5 0 0 0.5 0.5 0 0-9.5 1.5 0 0 6.5 0.5 0 0-5 1 0 0-2 1.5 0 0 3.5 1 0 0 4.5 0.5 0 0-0.5 0.5 0 0-8.5 1.5 0 0 5 1 0 0 5 1 0 0-7 1.5 0 0-4.5 1.5 0 0 7.5 2 0 0-3 1.5 0 0 4.5 0.5 0 0-2 1.5 0 0 1.5 0.5 0 0-10.5 0.5 0 0-1.5 1.5 0 0 5 1 0 0-2.5 0.5 0 0-9.5 1.5 0 0 3 1.5 0 0 3 1.5 0 0-5 1.5 0 0-6 1.5 0 0 5 1 0 0 2.5 1.5 0 0 3 0.5 0 0-11.5 0.5 0 0-2.5 0.5 0 0-3 1.5 0 0 6 0.5 0 0 7 0.5 0 0-1 0.5 0 0-4 1 0 0-6.5 1.5 0 0-12 1.5 0 0 5.5 1.5 0 0-4 1.5 0 0-0.5 1.5 0 0-1.5 1.5 0 0 7.5 1 0 0-1.5 1 0 0-0.5 0.5 0 0-9.5 1.5 0 0 3.5 1.5 0 0-0.5 0.5 0 0-7 1.5 0 0 6.5 0.5 0 0 0.5 0.5 0 0-7.5 0.5 0 0-8 1.5 0 0 13.5 0.5 0 0-0.5 1 0 0-7.5 1.5 0 0 3.5 0.5 0 0 0.5 0.5 0 0-1.5 0.5 0 0-12 1.5 0 0-0.5 1.5 0 0 6.5 1 0 0-1 0.5 0 0-2 0.5 0 0-8 1.5 0 0 8 1 0 0-6 1.5 0 0 3 0.5 0 0-4 1.5 0 0 4 1 0 0 0.5 0.5 0 0-5 1.5 0 0 1.5 1.5 0 0 3.5 0.5 0 0-6 1.5 0 0 3.5 2 0 0-3.5 1.5 0 0 10.5 1 0 0 4.5 0.5 0 0-8 0.5 0 0-3.5 1.5 0 0 0.5 1 0 0 1 1.5 0 0 10.5 0.5 0 0-8 0.5 0 0-0.5 1.5 0 0 0.5 1.5 0 0 2.5 0.5 0 0-2.5 1.5 0 0 7.5 0.5 0 0-10 0.5 0 0-5.5 1.5 0 0 10 0.5 0 0 5 0.5 0 0 4.5 0.5 0 0 1.5 2 0 0-1.5 1.5 0 0 1 1.5 0 0-4.5 1.5 0 0 6.5 1 0 0 3 1 0 0 1 1 0 0 5.5 0.5 0 0 2.5 0.5 0 0 0.5 0.5 0 0-9 1.5 0 0-0.5 1.5 0 0 9.5 1.5 0 0 2 1.5 0 0 1.5 0.5 0 0 3.5 0.5 0 0 1.5 0.5 0 0 1 0.5 0 0-6.5 1.5 0 0 10 0.5 0 0-2.5 1.5 0 0 2 0.5 0 0-3.5 1 0 0-5 1.5 0 0 12.5 0.5 0 0-1 1.5 0 0-2 1.5 0 0 1.5 0.5 0 0 3.5 1.5 0 0-1.5 0.5 0 0-2 1.5 0 0 5.5 0.5 0 0-1.5 1.5 0 0 8.5 0.5 0 0-15.5 1.5 0 0 13.5 1 0 0 3 0.5 0 0 5.5 0.5 0 0-14.5 1.5 0 0 8.5 0.5 0 0-5.5 1.5 0 0 2 1.5 0 0 2.5 0.5 0 0 8 1 0 0-1 1.5 0 0 1.5 0.5 0 0-7 1.5 0 0 3 0.5 0 0 3.5 0.5 0 0 2 0.5 0 0-4.5 1.5 0 0 8.5 1 0 0-19.5 1.5 0 0 8.5 0.5 0 0 5.5 0.5 0 0 2 1.5 0 0 0.5 1.5 0 0 1.5 0.5 0 0-6.5 0.5 0 0-6 1.5 0 0 1 0.5 0 0 14 0.5 0 0-1 0.5 0 0-1 1 0 0-0.5 1 0 0-17.5 1.5 0 0 13 1 0 0 0.5 0.5 0 0 5 0.5 0 0-3 0.5 0 0-0.5 1.5 0 0 6 2 0 0-3.5 1 0 0-6 1.5 0 0 4.5 0.5 0 0 9.5 0.5 0 0-9 1.5 0 0 2.5 0.5 0 0 2.5 0.5 0 0-4.5 0.5 0 0-6.5 1.5 0 0 12.5 1.5 0 0-5.5 1.5 0 0 3 0.5 0 0-16 1.5 0 0 17 0.5 0 0-1 0.5 0 0-1 1 0 0-3 1.5 0 0 1.5 1 0 0 3 0.5 0 0 2.5 0.5 0 0-3 0.5 0 0-7 0.5 0 0-1 1 0 0-4 1.5 0 0 7 0.5 0 0 0.5 0.5 0 0 1 0.5 0 0 4.5 0.5 0 0-8 0.5 0 0-9.5 1.5 0 0 1 1.5 0 0 5 0.5 0 0 5.5 0.5 0 0 4.5 0.5 0 0-6 0.5 0 0-9 0.5 0 0-7 1.5 0 0 18 0.5 0 0-3 1 0 0-8.5 1.5 0 0 10.5 0.5 0 0 6 0.5 0 0-6 0.5 0 0-2.5 1 0 0-0.5 0.5 0 0-0.5 0.5 0 0-4.5 1.5 0 0 4 0.5 0 0-6.5 1.5 0 0 4 0.5 0 0-1 1.5 0 0 7.5 1.5 0 0-13 1.5 0 0 11.5 1 0 0-2 0.5 0 0-12 1.5 0 0 9.5 1 0 0-4.5 1.5 0 0 11.5 0.5 0 0-10 1.5 0 0 2 0.5 0 0-4 0.5 0 0-5 0.5 0 0-3.5 1.5 0 0 13 1 0 0-6 1 0 0-6 1.5 0 0 10 0.5 0 0-3.5 0.5 0 0-1.5 0.5 0 0-3.5 1.5 0 0 1.5 1 0 0-4.5 1.5 0 0 3.5 0.5 0 0-1.5 1.5 0 0 0.5 0.5 0 0 4.5 0.5 0 0-3 1.5 0 0 1 0.5 0 0-2 2 0 0-3 0.5 0 0-4 1.5 0 0 0.5 0.5 0 0-4.5 1.5 0 0 3 0.5 0 0 0.5 0.5 0 0 2 1 0 0-6.5 1.5 0 0 1.5 0.5 0 0 7 0.5 0 0 2 0.5 0 0-1.5 0.5 0 0-2 0.5 0 0-1 0.5 0 0-4 0.5 0 0-2.5 1.5 0 0 1.5 0.5 0 0-3 1 0 0-5 1.5 0 0 4 1.5 0 0 2 0.5 0 0 0.5 1 0 0-4.5 0.5 0 0-6.5 2 0 0 4 2 0 0-1.5 1.5 0 0 3 0.5 0 0-3 1.5 0 0-3 0.5 0 0-5.5 1.5 0 0 1 1 0 0-13 1.5 0 0 12.5 0.5 0 0-8.5 0.5 0 0-4 1.5 0 0 5.5 1 0 0 0.5 1.5 0 0-1.5 0.5 0 0-1.5 0.5 0 0-12 1.5 0 0 10 0.5 0 0-3 1.5 0 0 0.5 0.5 0 0-0.5 1.5 0 0-3 2 0 0-13 1.5 0 0 2.5 0.5 0 0-9 1.5 0 0 6 0.5 0 0-3 0.5 0 0-2 1.5 0 0 4.5 0.5 0 0 3 1 0 0 1.5 1 0 0 4 0.5 0 0-13.5 1 0 0-1.5 1 0 0-4 1.5 0 0 4 0.5 0 0-7 1.5 0 0-1.5 1.5 0 0 1.5 0.5 0 0-5.5 1.5 0 0-1.5 1.5 0 0 1.5 0.5 0 0-7 1.5 0 0 4.5 1.5 0 0-2 0.5 0 0-2.5 1 0 0-8 1.5 0 0 3 0.5 0 0-6.5 2 0 0-2.5 0.5 0 0-2.5 1 0 0-3 1.5 0 0 9 1 0 0-2 0.5 0 0-11 1.5 0 0 5 1.5 0 0 4.5 0.5 0 0-6.5 0.5 0 0-0.5 1 0 0-4 1 0 0-0.5 0.5 0 0-1 1.5 0 0-6 1.5 0 0-2 0.5 0 0-0.5 1.5 0 0 3.5 1 0 0-0.5 0.5 0 0-8 1.5 0 0-6 1.5 0 0 5.5 1 0 0-1.5 1 0 0-6 1.5 0 0-15 1.5 0 0 11.5 1 0 0 7.5 1 0 0-1.5 1 0 0-4.5 0.5 0 0-10 1.5 0 0 1.5 0.5 0 0 0.5 1 0 0-10 1.5 0 0-0.5 1.5 0 0 15 0.5 0 0-8.5 0.5 0 0-4 1.5 0 0 0.5 1 0 0-1.5 1.5 0 0 2.5 0.5 0 0-4 1.5 0 0 4.5 0.5 0 0 0.5 0.5 0 0-3.5 1.5 0 0-1 0.5 0 0-3 2 0 0-5 2 0 0 3.5 1.5 0 0-12 1.5 0 0 4 1.5 0 0 3 1 0 0 5 0.5 0 0-7 0.5 0 0-9.5 0.5 0 0-0.5 1.5 0 0 8.5 0.5 0 0 5.5 0.5 0 0-6.5 1.5 0 0-0.5 1.5 0 0 0.5 1.5 0 0 4 1 0 0 4.5 1 0 0 1 1 0 0-5 0.5 0 0-1.5 2 0 0-2 1 0 0-3 1.5 0 0 1 1.5 0 0 2.5 0.5 0 0-0.5 0.5 0 0-0.5 0.5 0 0-2 1.5 0 0 1.5 1.5 0 0 2.5 0.5 0 0-1 1.5 0 0-0.5 1 0 0-7.5 1.5 0 0 9 1 0 0 3 0.5 0 0-12 0.5 0 0-2 1.5 0 0 12.5 0.5 0 0 5.5 0.5 0 0-6.5 0.5 0 0-3 1.5 0 0 12 1.5 0 0 4 0.5 0 0-2 0.5 0 0-10.5 1.5 0 0 5.5 0.5 0 0-8 1.5 0 0 9.5 0.5 0 0-1.5 1.5 0 0 0.5 0.5 0 0 8 1 0 0 0.5 0.5 0 0 4 0.5 0 0 0.5 0.5 0 0-9 1.5 0 0 3.5 0.5 0 0 6.5 0.5 0 0-10.5 1.5 0 0 4 1.5 0 0 4 1 0 0 4.5 1 0 0-2.5 1.5 0 0-2 1.5 0 0 4.5 1.5 0 0 7.5 0.5 0 0 2 0.5 0 0 1 0.5 0 0-3.5 1.5 0 0 2 0.5 0 0 4 0.5 0 0 3 0.5 0 0-3.5 1.5 0 0 0.5 0.5 0 0 5 1 0 0 2 0.5 0 0-0.5 0.5 0 0-2.5 1.5 0 0 4 0.5 0 0-2 0.5 0 0-3.5 1.5 0 0 4.5 0.5 0 0 6.5 1 0 0-0.5 0.5 0 0-2.5 1.5 0 0 9.5 1 0 0 2 0.5 0 0-4 1.5 0 0 5.5 0.5 0 0 2 0.5 0 0 2.5 0.5 0 0 0.5 0.5 0 0 0.5 1 0 0 3 2 0 0 2 0.5 0 0 1.5 0.5 0 0-4 1.5 0 0 6.5 1.5 0 0-0.5 0.5 0 0-1 1.5 0 0 0.5 0.5 0 0 5.5 1.5 0 0 1.5 1 0 0 8 1 0 0-7.5 1.5 0 0 14.5 0.5 0 0-1 1.5 0 0 2 0.5 0 0-6 1.5 0 0 3.5 2.5 0 0 2 0.5 0 0 1 1 0 0 0.5 2 0 0 7 0.5 0 0 2 1 0 0 1.5 0.5 0 0 7 0.5 0 0-8.5 1.5 0 0 2.5 0.5 0 0-5.5 1.5 0 0 4.5 0.5 0 0-1 1.5 0 0 12.5 0.5 0 0-1.5 1.5 0 0 2 1 0 0-8 1.5 0 0 10.5 1.5 0 0 3.5 0.5 0 0-0.5 1.5 0 0 1 1.5 0 0 3 1 0 0 2.5 0.5 0 0 0.5 0.5 0 0-2.5 1.5 0 0 5 1 0 0 5 0.5 0 0 1 0.5 0 0-8.5 1.5 0 0 6.5 0.5 0 0-8.5 1.5 0 0 16.5 0.5 0 0-4.5 0.5 0 0-1.5 0.5 0 0-2.5 1.5 0 0 4.5 1.5 0 0 2.5 0.5 0 0 4.5 0.5 0 0 1.5 0.5 0 0 0.5 0.5 0 0-5 1 0 0-5.5 1.5 0 0 9.5 0.5 0 0 0.5 0.5 0 0-1 1.5 0 0-2 1.5 0 0 3.5 0.5 0 0 6.5 0.5 0 0-5 1.5 0 0 1.5 1 0 0 6 0.5 0 0-0.5 0.5 0 0-1.5 0.5 0 0-9.5 1.5 0 0 1.5 1 0 0 11 0.5 0 0 5.5 0.5 0 0-4 0.5 0 0-1.5 1.5 0 0 0.5 1 0 0-4 1.5 0 0 5 1 0 0 8 1 0 0-2.5 1.5 0 0 2 1.5 0 0 2 0.5 0 0-6 0.5 0 0-6.5 1.5 0 0 11.5 0.5 0 0 2 1 0 0-5 0.5 0 0-5.5 1.5 0 0 16 1 0 0-2.5 1 0 0-3 1 0 0-4.5 1.5 0 0 7 0.5 0 0 0.5 0.5 0 0 3 0.5 0 0-3 2 0 0 2.5 0.5 0 0-3.5 1.5 0 0 7.5 1 0 0-5 1.5 0 0 3.5 1.5 0 0 1 1.5 0 0 1 0.5 0 0-3.5 1.5 0 0 6.5 0.5 0 0-8.5 1.5 0 0 2 0.5 0 0 2.5 1.5 0 0-3.5 1.5 0 0 0.5 0.5 0 0-1.5 1.5 0 0 3 2 0 0 6 1.5 0 0 0.5 0.5 0 0-9.5 1.5 0 0 7 1 0 0 8.5 0.5 0 0-1 0.5 0 0-1 0.5 0 0-3 1.5 0 0-2 1 0 0-2.5 1.5 0 0-4.5 1.5 0 0 3.5 1.5 0 0 9 0.5 0 0-2 0.5 0 0-4 0.5 0 0-2 1.5 0 0 8.5 0.5 0 0 0.5 0.5 0 0-3 0.5 0 0-7.5 1.5 0 0 0.5 1.5 0 0 2.5 0.5 0 0-2.5 0.5 0 0-5.5 1.5 0 0 0.5 0.5 0 0 4 0.5 0 0 5.5 0.5 0 0-3 0.5 0 0-4.5 1.5 0 0 10.5 1 0 0 2 0.5 0 0-1 0.5 0 0-1 0.5 0 0-3.5 0.5 0 0-0.5 1.5 0 0 4 0.5 0 0-3.5 1 0 0-1 1.5 0 0 3 0.5 0 0 4 0.5 0 0-3.5 0.5 0 0-8.5 1.5 0 0 6.5 0.5 0 0 3 1 0 0-3.5 0.5 0 0-1.5 0.5 0 0-2 0.5 0 0-0.5 1.5 0 0 3 0.5 0 0-1 1.5 0 0-2.5 1.5 0 0 1 0.5 0 0 4.5 1 0 0-1 1 0 0-3 0.5 0 0-1 1.5 0 0 0.5 0.5 0 0 8 0.5 0 0-2.5 1.5 0 0 2 0.5 0 0 4 0.5 0 0-18 3 0 0 5 0.5 0 0 4.5 0.5 0 0 1 1.5 0 0 2.5 1 0 0-5.5 0.5 0 0-0.5 1.5 0 0 3 1 0 0-2 1.5 0 0-9.5 1.5 0 0 15 1 0 0-4.5 0.5 0 0-2 1.5 0 0 0.5 0.5 0 0 4 1 0 0-3 2.5 0 0 0.5 1 0 0 4 0.5 0 0-6 1.5 0 0 3 1.5 0 0 1 0.5 0 0-0.5 1.5 0 0-1 0.5 0 0-0.5 1.5 0 0 3.5 0.5 0 0 0.5 0.5 0 0 0.5 0.5 0 0-7.5 1.5 0 0 9 0.5 0 0-4.5 1.5 0 0 1.5 1 0 0-2 1.5 0 0 6 1 0 0-7 0.5 0 0-4.5 1.5 0 0 2.5 1.5 0 0 3.5 0.5 0 0-4.5 1.5 0 0 3.5 1 0 0 3.5 0.5 0 0-8.5 1.5 0 0 2 0.5 0 0-7 1.5 0 0 14.5 1.5 0 0-7 0.5 0 0-4 1.5 0 0 2.5 0.5 0 0 4 0.5 0 0-5 1.5 0 0 1.5 0.5 0 0 3.5 1 0 0 0.5 1 0 0 3 1 0 0-0.5 1 0 0-0.5 1.5 0 0 0.5 0.5 0 0 4 0.5 0 0-0.5 0.5 0 0-5.5 1 0 0-0.5 0.5 0 0-4 1.5 0 0 4.5 1.5 0 0-2.5 1 0 0-1.5 1.5 0 0 4.5 0.5 0 0 2.5 0.5 0 0 2 0.5 0 0-1 0.5 0 0-4 1.5 0 0-5 1.5 0 0 10.5 1 0 0-6 1.5 0 0 5 1 0 0-12.5 0.5 0 0-4 1.5 0 0 16 1.5 0 0-10.5 1.5 0 0 4 1.5 0 0 2.5 0.5 0 0 3.5 0.5 0 0-1.5 1.5 0 0 0.5 1.5 0 0-1 1.5 0 0 3 0.5 0 0-3.5 1.5 0 0 0.5 0.5 0 0-4 1.5 0 0-1 1.5 0 0 1 1 0 0 0.5 1.5 0 0-4 1 0 0-1.5 1.5 0 0 7.5 1 0 0-2.5 0.5 0 0-3 0.5 0 0-4 1.5 0 0 3.5 1.5 0 0 6.5 1.5 0 0 5.5 0.5 0 0-9.5 0.5 0 0-5.5 1.5 0 0 11.5 0.5 0 0 2 0.5 0 0-7.5 1.5 0 0-6 1.5 0 0 10.5 0.5 0 0 3 1 0 0 2 0.5 0 0 1 0.5 0 0-7.5 1 0 0-2 1.5 0 0 2 0.5 0 0-1.5 1 0 0-3 1.5 0 0 7 0.5 0 0 3.5 0.5 0 0-2 0.5 0 0-2.5 1.5 0 0 0.5 0.5 0 0 1 1 0 0 4.5 0.5 0 0-4 2 0 0-4 1.5 0 0 0.5 0.5 0 0-8 1.5 0 0 9 0.5 0 0 1 0.5 0 0-3.5 0.5 0 0-2.5 1.5 0 0 5.5 0.5 0 0-0.5 0.5 0 0-1.5 1.5 0 0 1.5 1.5 0 0-1.5 0.5 0 0-5 1.5 0 0 7 0.5 0 0 1.5 1.5 0 0-5 1.5 0 0-0.5 1.5 0 0 6 0.5 0 0-11 1.5 0 0 5.5 1.5 0 0 4 1 0 0-0.5 0.5 0 0-2.5 1.5 0 0-6 1.5 0 0 11 0.5 0 0-8 1.5 0 0 1 0.5 0 0 2 1 0 0 0.5 0.5 0 0 5 0.5 0 0-0.5 0.5 0 0-7 1.5 0 0 5.5 0.5 0 0-2 1 0 0-5 1.5 0 0 4 0.5 0 0-1.5 1.5 0 0 1.5 0.5 0 0-3 1.5 0 0 2 0.5 0 0 7 0.5 0 0-1 0.5 0 0-5 1.5 0 0 1.5 0.5 0 0-3 1.5 0 0 3.5 0.5 0 0-4 1.5 0 0 1 2.5 0 0 0.5 0.5 0 0-2 1.5 0 0 3.5 0.5 0 0-9.5 1.5 0 0 6 0.5 0 0 1 0.5 0 0 2 0.5 0 0-7.5 1.5 0 0 3.5 1 0 0-3 1.5 0 0 3 0.5 0 0-0.5 0.5 0 0-2.5 2 0 0-1.5 0.5 0 0-0.5 1 0 0-8 1.5 0 0 10 0.5 0 0-2 1 0 0-4 1.5 0 0 5 0.5 0 0-3 0.5 0 0-2.5 1 0 0-3.5 3 0 0 1 1 0 0-2 0.5 0 0-1.5 1.5 0 0 2 0.5 0 0-6.5 0.5 0 0-0.5 1 0 0-1 1.5 0 0 0.5 0.5 0 0 3 0.5 0 0-6 1.5 0 0 1.5 0.5 0 0 2.5 0.5 0 0-5 1 0 0-2 1.5 0 0 0.5 0.5 0 0 3.5 0.5 0 0-3 0.5 0 0-2.5 1.5 0 0-1 0.5 0 0-2.5 0.5 0 0-5.5 1.5 0 0 4 0.5 0 0 4 1 0 0-2 1 0 0-5.5 1.5 0 0 5.5 1 0 0-9 0.5 0 0-6.5 0.5 0 0-1.5 1.5 0 0 0.5 0.5 0 0-2.5 1.5 0 0 2 1 0 0 2 0.5 0 0-4 0.5 0 0-6 0.5 0 0-4.5 1.5 0 0 8 0.5 0 0-2.5 1 0 0-7 1.5 0 0 6.5 0.5 0 0 2.5 1 0 0-14 1.5 0 0 4 0.5 0 0 1.5 0.5 0 0 7 0.5 0 0-4 1 0 0-3 0.5 0 0-2.5 1.5 0 0 3.5 0.5 0 0-11 1.5 0 0 5.5 1 0 0-3 2 0 0-1.5 0.5 0 0-1 1.5 0 0-1.5 1 0 0-8 1.5 0 0 3.5 0.5 0 0 2.5 0.5 0 0-3.5 0.5 0 0-5.5 1.5 0 0 4 1 0 0-10.5 1.5 0 0 6 0.5 0 0 3.5 0.5 0 0-3.5 1.5 0 0-2.5 1.5 0 0 2.5 0.5 0 0 1.5 0.5 0 0-1.5 0.5 0 0-6 0.5 0 0-4 1.5 0 0 0.5 1 0 0 2 0.5 0 0-3.5 1.5 0 0 1.5 1 0 0-1.5 1.5 0 0-2 1 0 0-2 1.5 0 0 1.5 0.5 0 0 3.5 0.5 0 0 1.5 0.5 0 0-3.5 3 0 0 4.5 1 0 0-3.5 1.5 0 0 4 0.5 0 0-2.5 1 0 0-5 0.5 0 0-4.5 1.5 0 0 7 1.5 0 0 8 0.5 0 0-5 1 0 0-1 1.5 0 0 0.5 0.5 0 0 3.5 0.5 0 0 2 0.5 0 0-3 1.5 0 0 1.5 0.5 0 0 4 0.5 0 0-4.5 1.5 0 0 6 0.5 0 0-7.5 1 0 0-1 1.5 0 0 3.5 0.5 0 0 0.5 0.5 0 0-1 1.5 0 0 6.5 0.5 0 0-8 1.5 0 0 5.5 0.5 0 0-1.5 1.5 0 0 4.5 0.5 0 0 0.5 0.5 0 0 1 0.5 0 0 4 1 0 0-6 0.5 0 0-2 1.5 0 0 4.5 0.5 0 0-3 1.5 0 0 2 0.5 0 0 0.5 0.5 0 0 2 1 0 0 2 0.5 0 0 0.5 2 0 0 1 0.5 0 0 0.5 1.5 0 0-3 1.5 0 0 6 0.5 0 0-0.5 1 0 0-3.5 0.5 0 0-4.5 1.5 0 0 6.5 1 0 0 6.5 1 0 0 0.5 0.5 0 0 2 0.5 0 0 1 0.5 0 0-0.5 1 0 0-7.5 1 0 0-0.5 0.5 0 0-0.5 1.5 0 0 6.5 0.5 0 0 0.5 1.5 0 0-1 1.5 0 0 8 0.5 0 0-1 0.5 0 0-1 1 0 0-2.5 1.5 0 0 5.5 1 0 0 2 1.5 0 0 4 0.5 0 0-2.5 1.5 0 0 2 1 0 0 1 0.5 0 0-4.5 1.5 0 0 3 2 0 0 0.5 0.5 0 0 7 0.5 0 0-3.5 1.5 0 0-4.5 1.5 0 0 6 0.5 0 0 0.5 0.5 0 0-4.5 1.5 0 0 5.5 1.5 0 0-2 0.5 0 0-2.5 2.5 0 0 3.5 1.5 0 0-2 1.5 0 0 5.5 1 0 0-0.5 1.5 0 0 5.5 0.5 0 0-7.5 1.5 0 0 7 0.5 0 0-1.5 1.5 0 0 3 1.5 0 0 1 1.5 0 0-8.5 1.5 0 0 8 0.5 0 0-3.5 1 0 0-1.5 1.5 0 0 4.5 1 0 0 3 0.5 0 0-3.5 1.5 0 0 2 0.5 0 0-3 1.5 0 0 2 1 0 0-0.5 1.5 0 0 1.5 0.5 0 0-5.5 1.5 0 0 6 1.5 0 0 6 0.5 0 0-3.5 1.5 0 0 5 0.5 0 0-0.5 0.5 0 0-1.5 0.5 0 0-11.5 1.5 0 0 8.5 1.5 0 0 4 1 0 0-4 2 0 0 2.5 1 0 0-1 0.5 0 0-6 1.5 0 0 2 1.5 0 0 8.5 0.5 0 0-1.5 2.5 0 0 0.5 0.5 0 0 5 0.5 0 0 0.5 0.5 0 0-6.5 1.5 0 0 7 1 0 0 1.5 0.5 0 0-2.5 1.5 0 0 1.5 0.5 0 0-4 2 0 0 1 1 0 0-3.5 1.5 0 0 4.5 0.5 0 0-1 0.5 0 0-2 1.5 0 0-5 1.5 0 0 1 0.5 0 0 6 0.5 0 0 4 0.5 0 0 2 0.5 0 0-2 1.5 0 0-0.5 1 0 0-0.5 1 0 0-1.5 1.5 0 0 2.5 0.5 0 0-2 1.5 0 0 3.5 0.5 0 0-2.5 0.5 0 0-3.5 2 0 0 2 0.5 0 0 6 0.5 0 0-2.5 1.5 0 0-2 1.5 0 0-1 1.5 0 0 8 0.5 0 0-7 1.5 0 0 4.5 1 0 0 2.5 0.5 0 0-10 1.5 0 0 1 0.5 0 0 1.5 1 0 0 4.5 1.5 0 0 3 1 0 0-1.5 0.5 0 0-0.5 0.5 0 0-4.5 1.5 0 0 1 1.5 0 0 2.5 0.5 0 0 3 1 0 0-2 0.5 0 0-2 1.5 0 0 1 0.5 0 0-0.5 1.5 0 0 3 1 0 0-3 1.5 0 0 4 1.5 0 0-0.5 0.5 0 0-2 1.5 0 0 0.5 1 0 0 2 0.5 0 0-5.5 0.5 0 0-2 1.5 0 0 3.5 1.5 0 0 6.5 0.5 0 0 1.5 0.5 0 0-0.5 0.5 0 0-2 1.5 0 0 3 0.5 0 0-2 1.5 0 0 0.5 0.5 0 0-1.5 2 0 0-1 1.5 0 0 1.5 1.5 0 0-9.5 1.5 0 0 7.5 0.5 0 0 1 0.5 0 0-4 1.5 0 0 8.5 1 0 0-6.5 0.5 0 0-7 1.5 0 0 4.5 0.5 0 0 3 0.5 0 0-1.5 1.5 0 0 3 1 0 0-9 1.5 0 0 12 0.5 0 0-1.5 0.5 0 0-4 1.5 0 0 1.5 2.5 0 0 2 1 0 0-0.5 1.5 0 0 4.5 0.5 0 0-1.5 1 0 0-1.5 2 0 0 0.5 1 0 0 1 0.5 0 0-1 1.5 0 0 1.5 0.5 0 0-5.5 0.5 0 0-0.5 0.5 0 0-0.5 1.5 0 0 4 1.5 0 0 1.5 0.5 0 0-1 1.5 0 0 1 1 0 0-3.5 1.5 0 0 5.5 0.5 0 0-5.5 0.5 0 0-0.5 1.5 0 0 3 0.5 0 0-2.5 1.5 0 0 1.5 1.5 0 0 1 1 0 0 0.5 0.5 0 0 4 1.5 0 0 1.5 0.5 0 0-4.5 0.5 0 0-1.5 1.5 0 0 0.5 0.5 0 0 2 1 0 0-2 1.5 0 0 2 1 0 0-1.5 1.5 0 0 1 0.5 0 0-1.5 1.5 0 0 3 1.5 0 0 0.5 0.5 0 0-6 1.5 0 0 0.5 0.5 0 0 2 1 0 0 1.5 0.5 0 0 3 0.5 0 0-2 1.5 0 0 2 2 0 0 0.5 1 0 0-5.5 2.5 0 0 1.5 0.5 0 0 0.5 0.5 0 0 5 0.5 0 0-2.5 1.5 0 0 2 0.5 0 0-1 1 0 0-1.5 0.5 0 0-2.5 1.5 0 0 1 1 0 0-3 1.5 0 0 2 1.5 0 0 2.5 0.5 0 0-1 1.5 0 0 1 0.5 0 0 1.5 0.5 0 0-3.5 1.5 0 0 3.5 0.5 0 0-3 1.5 0 0 2.5 1 0 0 1.5 0.5 0 0-2 2 0 0-3 1.5 0 0 2 0.5 0 0-3 1.5 0 0 2.5 1.5 0 0 4 1.5 0 0-6 1.5 0 0 1 0.5 0 0 0.5 1.5 0 0 3 1 0 0-1 1.5 0 0 3.5 0.5 0 0-2.5 0.5 0 0-8 1.5 0 0 3.5 0.5 0 0-1 1.5 0 0 4.5 1.5 0 0 0.5 1.5 0 0-0.5 1.5 0 0 2.5 0.5 0 0 1.5 0.5 0 0 0.5 0.5 0 0-1.5 1.5 0 0-4.5 0.5 0 0-2.5 1.5 0 0 2 1.5 0 0 1 1 0 0 2 1 0 0 4.5 1.5 0 0-2.5 1 0 0-1.5 0.5 0 0-3.5 1.5 0 0 2.5 1 0 0 0.5 1.5 0 0 2 0.5 0 0 3.5 1 0 0-4 0.5 0 0-1 1.5 0 0 1 2 0 0 0.5 0.5 0 0 0.5 1 0 0-1 1.5 0 0 1 1 0 0 2 0.5 0 0-7.5 1.5 0 0 3.5 0.5 0 0 4 0.5 0 0-3.5 1.5 0 0 1.5 0.5 0 0 0.5 0.5 0 0 0.5 1.5 0 0 1 1.5 0 0-2.5 3 0 0 4 1.5 0 0 1 0.5 0 0-3.5 1.5 0 0 3.5 1 0 0 1 0.5 0 0-8.5 1.5 0 0 4 0.5 0 0 1 1.5 0 0-1.5 0.5 0 0-1.5 1 0 0-3 1.5 0 0 7.5 0.5 0 0 0.5 0.5 0 0-1 0.5 0 0-5 3 0 0 1 1.5 0 0 7 0.5 0 0-7 1.5 0 0 4.5 1 0 0-2 1 0 0-2 0.5 0 0-2 0.5 0 0-2 1.5 0 0 5 1 0 0 3.5 1 0 0-0.5 0.5 0 0-1 0.5 0 0-4 1.5 0 0 3.5 0.5 0 0-1 2 0 0 1.5 0.5 0 0-1 1.5 0 0 0.5 0.5 0 0 1.5 0.5 0 0-0.5 0.5 0 0-2.5 1.5 0 0 3.5 0.5 0 0 2 1 0 0 1.5 0.5 0 0-2 0.5 0 0-0.5 1.5 0 0-3.5 1.5 0 0-5 2 0 0 6 0.5 0 0 0.5 1.5 0 0 2.5 0.5 0 0-4 1.5 0 0 1.5 0.5 0 0-12.5 1.5 0 0 10 0.5 0 0 4 0.5 0 0-1 1.5 0 0 3.5 1.5 0 0-2 1.5 0 0 3.5 0.5 0 0 1 0.5 0 0-2 0.5 0 0-1 0.5 0 0-2 0.5 0 0-1 2 0 0 3.5 0.5 0 0-6 1.5 0 0 4 0.5 0 0 3.5 0.5 0 0-3 1 0 0-2 2 0 0 3.5 1 0 0-4 1.5 0 0 2 0.5 0 0-2 1.5 0 0 2.5 1 0 0 1 0.5 0 0-3.5 1.5 0 0 1 1.5 0 0 2 0.5 0 0-2 1.5 0 0-4 1.5 0 0 7 1 0 0 0.5 1 0 0 0.5 1 0 0-6 1.5 0 0 3.5 1 0 0 4 0.5 0 0-2.5 1 0 0-6 1.5 0 0 7.5 1.5 0 0-1.5 1 0 0-1.5 2 0 0 1 1 0 0 1 0.5 0 0-3 2.5 0 0 4.5 0.5 0 0 1.5 0.5 0 0 0.5 1 0 0-9.5 1.5 0 0 3.5 1.5 0 0 5.5 0.5 0 0 0.5 1 0 0-6 1.5 0 0 4 1.5 0 0-1.5 0.5 0 0-1 1.5 0 0 4.5 1 0 0-1 1.5 0 0 1.5 1 0 0-0.5 1.5 0 0 1.5 1.5 0 0 1 0.5 0 0-1 1.5 0 0 0.5 0.5 0 0-1.5 1 0 0-1.5 1.5 0 0-2 1.5 0 0 0.5 2 0 0 4 0.5 0 0 0.5 0.5 0 0-2 1.5 0 0 1.5 0.5 0 0 0.5 0.5 0 0 2.5 1.5 0 0-4 0.5 0 0-1 1.5 0 0 1.5 0.5 0 0-4.5 1.5 0 0 5 0.5 0 0-4 1.5 0 0 5 1.5 0 0-1 1 0 0-4 1.5 0 0 4 1 0 0 0.5 1.5 0 0 2 0.5 0 0-3 1.5 0 0 3.5 0.5 0 0-0.5 1 0 0-4 1.5 0 0-2 1.5 0 0 0.5 1.5 0 0 4 0.5 0 0 0.5 0.5 0 0-3.5 1.5 0 0-4 1.5 0 0 5.5 1 0 0-2.5 0.5 0 0-1 2 0 0 1 1.5 0 0 6.5 1 0 0-1 0.5 0 0-5.5 1.5 0 0 2.5 1 0 0 3.5 0.5 0 0-4.5 1.5 0 0-0.5 1.5 0 0 4.5 0.5 0 0-1 1 0 0-2 0.5 0 0-2 1 0 0-3.5 0.5 0 0-0.5 1.5 0 0 4.5 0.5 0 0-2.5 1.5 0 0 5 0.5 0 0 0.5 1 0 0-1 1.5 0 0 1 0.5 0 0-3 0.5 0 0-0.5 1.5 0 0 0.5 0.5 0 0 0.5 0.5 0 0 2.5 0.5 0 0 0.5 1.5 0 0-1.5 0.5 0 0-1 1.5 0 0-1 2 0 0-1 1.5 0 0 4.5 0.5 0 0-6.5 1.5 0 0 3.5 0.5 0 0 2.5 0.5 0 0-1 0.5 0 0-1.5 1.5 0 0 1 0.5 0 0 1.5 1.5 0 0 0.5 0.5 0 0-1 1 0 0-6 1.5 0 0 9 0.5 0 0-3.5 0.5 0 0-4.5 1.5 0 0 8.5 0.5 0 0-0.5 1 0 0-5 1.5 0 0 2.5 2 0 0 1.5 0.5 0 0 2 0.5 0 0-6 1.5 0 0 3.5 1 0 0-0.5 0.5 0 0-1 0.5 0 0-3.5 1.5 0 0 3 0.5 0 0 0.5 0.5 0 0-4.5 1.5 0 0 0.5 1 0 0-0.5 1.5 0 0 3.5 0.5 0 0 0.5 1 0 0 3 0.5 0 0 2 0.5 0 0-0.5 0.5 0 0-6 0.5 0 0-1 1.5 0 0 3.5 0.5 0 0 0.5 0.5 0 0-1.5 1.5 0 0 3 0.5 0 0-2 1 0 0-3.5 1.5 0 0 3.5 1 0 0-5.5 1.5 0 0 3 1 0 0 0.5 1.5 0 0-5.5 1.5 0 0 3.5 1 0 0-3 1.5 0 0 5.5 1.5 0 0 3 0.5 0 0-0.5 0.5 0 0-2.5 1.5 0 0 5.5 0.5 0 0-1.5 0.5 0 0-1 1.5 0 0-2.5 0.5 0 0-0.5 1.5 0 0 1.5 1 0 0-2.5 1.5 0 0 5.5 1 0 0-3 0.5 0 0-3 1.5 0 0 1 0.5 0 0 1.5 1 0 0-3.5 1.5 0 0 1.5 0.5 0 0 7.5 0.5 0 0-6 2 0 0 1.5 0.5 0 0-2.5 1 0 0-1.5 0.5 0 0-2 1.5 0 0 7.5 1.5 0 0-2.5 1.5 0 0 3.5 0.5 0 0-0.5 0.5 0 0-2.5 1.5 0 0-6 1.5 0 0 8 0.5 0 0-7 1.5 0 0 5 0.5 0 0-0.5 1.5 0 0 2 0.5 0 0-1.5 0.5 0 0-0.5 1.5 0 0-1 1.5 0 0 0.5 1 0 0 3 1.5 0 0-4.5 0.5 0 0-6.5 1.5 0 0 8 0.5 0 0 3.5 0.5 0 0-6 1.5 0 0 1.5 0.5 0 0 4.5 0.5 0 0 1.5 0.5 0 0-3.5 0.5 0 0-0.5 1.5 0 0-1 1 0 0-1 0.5 0 0-3.5 1.5 0 0 4.5 2.5 0 0-5.5 1.5 0 0 4.5 0.5 0 0 3 0.5 0 0-1 1.5 0 0 2 0.5 0 0-1 3 0 0-2 1.5 0 0 2 0.5 0 0 0.5 1 0 0-1 1 0 0-1.5 1.5 0 0-3.5 3 0 0 0.5 1 0 0 2 1.5 0 0 1.5 1 0 0 0.5 0.5 0 0 1 0.5 0 0-2 1.5 0 0 2 1.5 0 0 2 0.5 0 0 0.5 1.5 0 0-6.5 1.5 0 0 4 0.5 0 0-0.5 2 0 0-1 1.5 0 0 0.5 1 0 0 0.5 1 0 0-2.5 1.5 0 0 0.5 2 0 0 1 0.5 0 0 3 1 0 0 2 0.5 0 0 0.5 0.5 0 0-3.5 1.5 0 0 0.5 1 0 0-3 1.5 0 0 1 0.5 0 0-1.5 1.5 0 0-1.5 1.5 0 0 2.5 1 0 0 2.5 1 0 0-4 1.5 0 0 2.5 1.5 0 0 1 0.5 0 0-0.5 0.5 0 0-1.5 1.5 0 0 1.5 1.5 0 0-0.5 1 0 0-1 2.5 0 0 5.5 0.5 0 0-4.5 0.5 0 0-1 1 0 0-0.5 1 0 0-5 1.5 0 0 8 0.5 0 0-1.5 0.5 0 0-3 1.5 0 0 6.5 0.5 0 0-3.5 1.5 0 0 2.5 0.5 0 0-1 0.5 0 0-0.5 0.5 0 0-0.5 1.5 0 0-6 1.5 0 0 4.5 1 0 0 2.5 1 0 0-4.5 1.5 0 0 4.5 0.5 0 0-0.5 0.5 0 0-4.5 1.5 0 0 5.5 1 0 0-1.5 1.5 0 0 1.5 0.5 0 0-1.5 0.5 0 0-3 1.5 0 0 5.5 0.5 0 0 0.5 0.5 0 0-0.5 1 0 0-2.5 1 0 0-0.5 3 0 0 4 0.5 0 0-4.5 1.5 0 0 3.5 1 0 0-2 1.5 0 0 4.5 0.5 0 0-2.5 0.5 0 0-0.5 0.5 0 0-2 0.5 0 0-2 1.5 0 0 2 1.5 0 0 2.5 0.5 0 0 0.5 0.5 0 0 2.5 0.5 0 0-3 0.5 0 0-3 1.5 0 0 2.5 0.5 0 0-3 1.5 0 0 5 0.5 0 0-0.5 0.5 0 0-0.5 1 0 0-2.5 1.5 0 0 1 0.5 0 0-1.5 1.5 0 0 1.5 0.5 0 0-4 0.5 0 0-0.5 1.5 0 0 7 1.5 0 0-0.5 0.5 0 0-6.5 2.5 0 0 3 1 0 0 3 0.5 0 0-1 0.5 0 0-3 1.5 0 0 6.5 0.5 0 0-2 0.5 0 0-2.5 2.5 0 0-0.5 1.5 0 0-0.5 3 0 0-2.5 1.5 0 0 3 2 0 0-2 1 0 0-0.5 1.5 0 0 4 0.5 0 0-0.5 1 0 0-2.5 1 0 0-2 1.5 0 0 1 1 0 0 3.5 1 0 0-0.5 1.5 0 0 2 1 0 0-1 1 0 0-3 0.5 0 0-1 0.5 0 0-2.5 1.5 0 0 5 1.5 0 0 0.5 0.5 0 0-3.5 1.5 0 0 6 2 0 0 0.5 0.5 0 0-2.5 2.5 0 0 1.5 1.5 0 0-0.5 1 0 0-2.5 1.5 0 0 1.5 1 0 0-0.5 1 0 0-5 1.5 0 0 1.5 0.5 0 0 2 1.5 0 0 3 0.5 0 0-0.5 1 0 0-2.5 0.5 0 0-1 0.5 0 0-1.5 1.5 0 0 2 1 0 0-2.5 1.5 0 0-0.5 1.5 0 0 6 0.5 0 0-0.5 1 0 0-2 0.5 0 0-0.5 1 0 0-2.5 1.5 0 0 2.5 1.5 0 0 4 0.5 0 0-2 0.5 0 0-0.5 1 0 0-2 1.5 0 0 3 1.5 0 0 0.5 1.5 0 0-0.5 0.5 0 0-3.5 1.5 0 0 4 0.5 0 0-1 1 0 0-1.5 0.5 0 0-2.5 1.5 0 0 2.5 1 0 0 2.5 1 0 0-1 2.5 0 0 1.5 0.5 0 0 1 0.5 0 0-3.5 1.5 0 0 3 0.5 0 0-2 0.5 0 0-0.5 1 0 0-1 1 0 0-6 1.5 0 0-0.5 1.5 0 0 3.5 0.5 0 0 1.5 0.5 0 0-2 1.5 0 0 3 0.5 0 0 0.5 1 0 0 2 0.5 0 0-0.5 1.5 0 0-5 1.5 0 0 5 1 0 0-7 1.5 0 0 5.5 1 0 0 1.5 0.5 0 0-2 1.5 0 0 0.5 2 0 0-0.5 0.5 0 0-0.5 0.5 0 0-1.5 1.5 0 0 1.5 1.5 0 0 1.5 1 0 0 1.5 0.5 0 0-4 1.5 0 0 0.5 1 0 0 0.5 0.5 0 0 1.5 0.5 0 0-1.5 0.5 0 0-4.5 1.5 0 0 3 1 0 0 2 0.5 0 0-5 1.5 0 0 1 2 0 0 3.5 1.5 0 0 1.5 0.5 0 0-6 1.5 0 0-4 1.5 0 0 4 1 0 0-4.5 1.5 0 0 3.5 1.5 0 0 1 1 0 0-2.5 1.5 0 0 1.5 0.5 0 0 3 0.5 0 0-3 1.5 0 0 2.5 0.5 0 0-2 1 0 0-0.5 1.5 0 0 0.5 1.5 0 0 3 1.5 0 0-2 0.5 0 0-3 1.5 0 0 0.5 1 0 0 1.5 0.5 0 0 0.5 0.5 0 0-4 1 0 0-1 2.5 0 0 0.5 1 0 0 2.5 1 0 0-7.5 1.5 0 0 4 0.5 0 0 0.5 1 0 0 1 0.5 0 0 1 1 0 0 2 0.5 0 0-1 0.5 0 0-4.5 1 0 0-2 0.5 0 0-0.5 1.5 0 0 2.5 0.5 0 0-2 1.5 0 0 1.5 1 0 0 0.5 2.5 0 0-1 1 0 0-5 1.5 0 0 1.5 2 0 0-2 0.5 0 0-0.5 1.5 0 0 3 1 0 0-2 0.5 0 0-0.5 1.5 0 0 1.5 0.5 0 0 1.5 1 0 0 2 0.5 0 0-2.5 2.5 0 0 4 1.5 0 0-5 1 0 0-2 0.5 0 0-0.5 0.5 0 0-1 1.5 0 0-3 1.5 0 0 8.5 0.5 0 0-2.5 1 0 0-3 1.5 0 0 3 1 0 0 1 0.5 0 0-2.5 1.5 0 0-2 1.5 0 0 3 0.5 0 0-2.5 1.5 0 0 1.5 1 0 0 2.5 0.5 0 0-3.5 1.5 0 0-1 0.5 0 0-1.5 1.5 0 0 4 0.5 0 0-4 1.5 0 0 1 0.5 0 0-1 1.5 0 0-2 0.5 0 0-2 1.5 0 0 8 0.5 0 0 1 0.5 0 0-2 0.5 0 0-1 1.5 0 0 2.5 0.5 0 0-1 1.5 0 0 4 0.5 0 0-6.5 1.5 0 0 0.5 0.5 0 0-6 0.5 0 0-3.5 1.5 0 0 14 0.5 0 0-1 0.5 0 0-0.5 0.5 0 0-3 1.5 0 0 1 1 0 0-1 1.5 0 0 3 1.5 0 0-4 1.5 0 0 1.5 0.5 0 0 0.5 1.5 0 0 0.5 0.5 0 0-0.5 1.5 0 0 0.5 0.5 0 0 3 0.5 0 0 0.5 0.5 0 0-4.5 1.5 0 0 5 2 0 0-8 1.5 0 0 7.5 1.5 0 0 1 0.5 0 0-4 1 0 0-2 1.5 0 0 2 0.5 0 0-6 1.5 0 0 7.5 1 0 0-5 1.5 0 0 4 0.5 0 0-1 1.5 0 0 2.5 0.5 0 0-6.5 1.5 0 0 4.5 1 0 0 3 0.5 0 0-2.5 0.5 0 0-0.5 2.5 0 0 4.5 0.5 0 0-2.5 1.5 0 0-0.5 1.5 0 0-1 1.5 0 0 1.5 0.5 0 0-1 2 0 0 1 0.5 0 0-1 1 0 0-2.5 1.5 0 0 2.5 0.5 0 0-0.5 2 0 0 2.5 0.5 0 0 1.5 0.5 0 0-2 1.5 0 0 0.5 1 0 0-3 1.5 0 0 7.5 0.5 0 0-0.5 1.5 0 0 0.5 0.5 0 0-2 2.5 0 0-1.5 1.5 0 0 1.5 0.5 0 0 1 1 0 0-2 1 0 0-0.5 1.5 0 0 4 0.5 0 0 0.5 1 0 0-2.5 2 0 0 2.5 0.5 0 0-6.5 0.5 0 0-2 1.5 0 0 7.5 1 0 0-1 1.5 0 0 1.5 1.5 0 0 1 1.5 0 0 0.5 1 0 0-0.5 0.5 0 0-4 1.5 0 0 1 0.5 0 0 0.5 0.5 0 0-5 1.5 0 0 6 1.5 0 0-3.5 1.5 0 0 4.5 0.5 0 0 0.5 0.5 0 0 1 0.5 0 0-3 1.5 0 0 3.5 0.5 0 0 1.5 0.5 0 0-1 0.5 0 0-1 2 0 0-2.5 0.5 0 0-1 1.5 0 0 4 0.5 0 0-0.5 0.5 0 0-1 0.5 0 0-0.5 1.5 0 0 4 1 0 0-1.5 2 0 0-0.5 1 0 0-3 1.5 0 0 2 0.5 0 0 0.5 1 0 0-0.5 1.5 0 0-4.5 1.5 0 0-2 1.5 0 0 8 0.5 0 0 1 1 0 0 2 0.5 0 0-8.5 2 0 0 3.5 1 0 0-2.5 1.5 0 0 3.5 0.5 0 0 3 0.5 0 0 2 0.5 0 0-5.5 1.5 0 0-0.5 0.5 0 0-3.5 1.5 0 0 4 1 0 0 4.5 2 0 0-2 0.5 0 0-2 1.5 0 0-2.5 1.5 0 0 4 1 0 0 1.5 0.5 0 0-1 1.5 0 0 0.5 0.5 0 0-5 1.5 0 0 3.5 0.5 0 0 1 1 0 0-0.5 1.5 0 0-2 0.5 0 0-0.5 1.5 0 0 6.5 2 0 0-1 0.5 0 0-3 1.5 0 0 1 1 0 0-0.5 1.5 0 0 1 1 0 0 1 2 0 0-0.5 0.5 0 0-2.5 0.5 0 0-1 1.5 0 0 4.5 0.5 0 0 1 1 0 0-6 1.5 0 0 2 0.5 0 0-0.5 1.5 0 0 3 0.5 0 0 2 1 0 0-2 0.5 0 0-2 1.5 0 0 3.5 0.5 0 0-1.5 1.5 0 0 1 0.5 0 0 1.5 0.5 0 0-1 0.5 0 0-3.5 1.5 0 0 2 1 0 0-5.5 1.5 0 0 3 1.5 0 0 3.5 0.5 0 0 1 0.5 0 0 1 0.5 0 0-5 1.5 0 0 1 0.5 0 0 0.5 0.5 0 0-1.5 1.5 0 0 0.5 1 0 0 5.5 0.5 0 0-5 1.5 0 0 2.5 0.5 0 0-1 0.5 0 0-2.5 0.5 0 0-1.5 1.5 0 0 3 0.5 0 0-4.5 1.5 0 0 1.5 1 0 0 6.5 1 0 0 1 0.5 0 0-5 1.5 0 0 1.5 1 0 0-4.5 1.5 0 0 8.5 0.5 0 0-6.5 1.5 0 0 3 1 0 0 1 0.5 0 0 1.5 0.5 0 0-3.5 1.5 0 0 4.5 0.5 0 0-6 1.5 0 0 2 2 0 0 1 1 0 0 1 0.5 0 0-1.5 1 0 0-1 1.5 0 0 2 0.5 0 0-2.5 1.5 0 0 0.5 0.5 0 0-1.5 2.5 0 0 4.5 1.5 0 0-0.5 1 0 0-1.5 1 0 0-1.5 1.5 0 0-2.5 1.5 0 0 3.5 0.5 0 0-4 1.5 0 0 7 0.5 0 0-3 1.5 0 0-2.5 1.5 0 0 4.5 1 0 0 1.5 0.5 0 0-3.5 1.5 0 0 2 0.5 0 0 1 0.5 0 0-2.5 1.5 0 0 2.5 1 0 0-3.5 1.5 0 0 1 1.5 0 0 0.5 1.5 0 0 4.5 1 0 0-2.5 0.5 0 0-1 1.5 0 0 2.5 0.5 0 0-3 0.5 0 0-1.5 0.5 0 0-0.5 1.5 0 0 2 1.5 0 0 1.5 1.5 0 0 1 0.5 0 0-0.5 1 0 0-1 1.5 0 0-1.5 0.5 0 0-2 1.5 0 0 4.5 0.5 0 0-0.5 0.5 0 0-2 1.5 0 0-0.5 1.5 0 0 4.5 1 0 0-4.5 1 0 0-1 1.5 0 0 3 0.5 0 0 0.5 1.5 0 0 1.5 0.5 0 0-4.5 1.5 0 0 2.5 0.5 0 0 1.5 0.5 0 0-4 1.5 0 0 2 1 0 0 3 0.5 0 0-1 0.5 0 0-1 2 0 0-2 1.5 0 0 3.5 1.5 0 0-1.5 1.5 0 0 1.5 0.5 0 0-1.5 1.5 0 0 1.5 0.5 0 0-6 1.5 0 0 4.5 0.5 0 0-0.5 1.5 0 0 0.5 1.5 0 0 3.5 1.5 0 0-2 1.5 0 0 0.5 1.5 0 0 0.5 0.5 0 0-4 1.5 0 0 0.5 0.5 0 0 1.5 1.5 0 0 2 0.5 0 0 1.5 0.5 0 0-1 0.5 0 0-3 0.5 0 0-5.5 1.5 0 0 8.5 0.5 0 0 8-0.5 0 0 2.5-1.5 0 0 2-1 0 0 2.5-1.5 0 0-0.5-1.5 0 0-5-0.5 0 0 3-1.5 0 0-4.5-0.5 0 0 4.5-1.5 0 0-2-1 0 0 2-1.5 0 0 1.5-1.5 0 0-4-0.5 0 0-0.5-3 0 0 1-1 0 0 8-1.5 0 0-9-0.5 0 0 1-0.5 0 0 3-1.5 0 0-2-0.5 0 0-5.5-0.5 0 0 5.5-1.5 0 0-1-1 0 0-1.5-0.5 0 0 2-0.5 0 0 2-1 0 0 1-1.5 0 0-2.5-0.5 0 0-2.5-0.5 0 0-3-0.5 0 0 8-1.5 0 0-4.5-0.5 0 0-1-1 0 0 1-2 0 0-1-0.5 0 0 3.5-1.5 0 0-0.5-1.5 0 0-5.5-1 0 0 0.5-0.5 0 0 4-2 0 0 1.5-0.5 0 0 0.5-1.5 0 0-6-0.5 0 0 1-1 0 0 2.5-1 0 0 0.5-1.5 0 0-1-1 0 0-0.5-1.5 0 0-2.5-0.5 0 0 1-1 0 0 0.5-1.5 0 0 2.5-1.5 0 0-1-1 0 0-0.5-0.5 0 0 0.5-1 0 0 3-1.5 0 0-1.5-0.5 0 0-1.5-1 0 0 5.5-1.5 0 0-1.5-1 0 0-1.5-1.5 0 0-5-0.5 0 0 2-0.5 0 0 3-1.5 0 0-6-0.5 0 0 0.5-1 0 0 1-1.5 0 0-0.5-0.5 0 0 3.5-1.5 0 0-2-1 0 0-0.5-0.5 0 0-3.5-0.5 0 0 4-1 0 0 6-1.5 0 0-3.5-1.5 0 0-1.5-1 0 0-3-0.5 0 0 1.5-1.5 0 0-0.5-0.5 0 0-1.5-1 0 0 7-1.5 0 0-4.5-1.5 0 0-2.5-0.5 0 0 1.5-1.5 0 0-2.5-0.5 0 0 1.5-0.5 0 0 1.5-0.5 0 0 2-1.5 0 0-2-1 0 0-2-1 0 0-1.5-1 0 0 1-0.5 0 0 3.5-1.5 0 0-5-0.5 0 0 2.5-0.5 0 0 0.5-1.5 0 0 1.5-0.5 0 0 1-1.5 0 0-2-1 0 0 1-1.5 0 0 1-1.5 0 0-2.5-1.5 0 0-3.5-0.5 0 0-1.5-0.5 0 0 5-1 0 0 1.5-1.5 0 0-0.5-1.5 0 0-1-1.5 0 0-2.5-1.5 0 0 0.5-1.5 0 0 1.5-1 0 0 6.5-1.5 0 0-8.5-0.5 0 0 0.5-1 0 0 0.5-1.5 0 0-1-0.5 0 0 3-1.5 0 0-2-1 0 0 1.5-1.5 0 0-2-1 0 0-1.5-0.5 0 0 1-0.5 0 0 4.5-1.5 0 0-5-0.5 0 0-3-0.5 0 0-0.5-0.5 0 0 4-1 0 0 3-1.5 0 0-2-0.5 0 0-0.5-0.5 0 0 4.5-1.5 0 0-3.5-1.5 0 0-1.5-1.5 0 0 1-1.5 0 0 5.5-1.5 0 0-8-0.5 0 0 2.5-0.5 0 0 2-1.5 0 0 2.5-1.5 0 0-7-1 0 0 3-1.5 0 0-0.5-1.5 0 0-2-0.5 0 0-1.5-0.5 0 0 1-0.5 0 0 8.5-1.5 0 0-1-0.5 0 0-10-0.5 0 0 2-1 0 0 3.5-1.5 0 0-3-0.5 0 0-0.5-1 0 0-1-1 0 0 4-1.5 0 0-3-1 0 0-1.5-0.5 0 0 1.5-0.5 0 0 3.5-1.5 0 0-1.5-0.5 0 0 1.5-0.5 0 0 2.5-1.5 0 0-4.5-0.5 0 0-1.5-0.5 0 0 0.5-1.5 0 0 4.5-1.5 0 0-2.5-0.5 0 0-2-0.5 0 0 4-1.5 0 0 3.5-1.5 0 0-5-1.5 0 0-3-1 0 0 3.5-1.5 0 0-0.5-1 0 0-1-1 0 0-2.5-1 0 0 0.5-0.5 0 0 1-2 0 0 0.5-1 0 0 2-1.5 0 0-5-0.5 0 0 5.5-0.5 0 0 0.5-1.5 0 0-3-1.5 0 0-0.5-0.5 0 0-2.5-0.5 0 0-1.5-1 0 0 3.5-1.5 0 0-1.5-0.5 0 0-1-0.5 0 0-3.5-1 0 0 3-0.5 0 0 2-1.5 0 0-1.5-0.5 0 0 0.5-0.5 0 0 5-1.5 0 0-0.5-0.5 0 0-3-1 0 0-4-0.5 0 0 7-1.5 0 0-7-0.5 0 0-2.5-0.5 0 0 2-1 0 0 2.5-2 0 0-1.5-2.5 0 0 8-1.5 0 0-7.5-0.5 0 0 4.5-1.5 0 0-7.5-1.5 0 0-1.5-0.5 0 0 5-1 0 0 3-1.5 0 0-1-1.5 0 0-3-1 0 0-2.5-1.5 0 0 1.5-0.5 0 0 3-1.5 0 0-7-1 0 0 5-3 0 0-1-0.5 0 0-2-0.5 0 0-1-1 0 0 6.5-1.5 0 0-3.5-1.5 0 0-3.5-0.5 0 0-1-1.5 0 0-3-0.5 0 0 2-0.5 0 0 8-1.5 0 0-1.5-0.5 0 0-3-0.5 0 0-4-0.5 0 0-1-0.5 0 0 1.5-1.5 0 0 2-1.5 0 0-2-0.5 0 0 2-1.5 0 0-3.5-1 0 0 4-1.5 0 0-1.5-0.5 0 0-3-0.5 0 0 2.5-1 0 0 1.5-1.5 0 0 2.5-1.5 0 0-2-0.5 0 0-1.5-1 0 0 3.5-1.5 0 0-3-1 0 0-3.5-0.5 0 0-0.5-0.5 0 0 1-0.5 0 0 2.5-0.5 0 0 3-1.5 0 0-2.5-1 0 0-3.5-0.5 0 0 4.5-1.5 0 0 1.5-1.5 0 0-3-0.5 0 0-0.5-1.5 0 0-2-0.5 0 0 1.5-0.5 0 0 3-1.5 0 0-1.5-1.5 0 0-3-0.5 0 0 2.5-1.5 0 0-2-0.5 0 0 0.5-0.5 0 0 6-1.5 0 0-2-2.5 0 0-4.5-1 0 0-1.5-0.5 0 0 3-1.5 0 0 1-1.5 0 0-4.5-1 0 0 5-1.5 0 0-3-0.5 0 0-1-1.5 0 0 5.5-1 0 0 1.5-1.5 0 0-5-0.5 0 0-1-0.5 0 0 0.5-1.5 0 0-3.5-1 0 0 6.5-0.5 0 0 2-1.5 0 0-6.5-1 0 0 1.5-1.5 0 0-2-0.5 0 0 3-1.5 0 0 1.5-1.5 0 0-4-1 0 0-0.5-0.5 0 0 6-2 0 0-6-0.5 0 0 1.5-2 0 0 2.5-2 0 0-1.5-1 0 0-0.5-0.5 0 0 2.5-1 0 0 1.5-1 0 0 3.5-1.5 0 0-7-0.5 0 0 5.5-1.5 0 0-6-0.5 0 0 1-0.5 0 0 4.5-1.5 0 0 1.5-0.5 0 0 0.5-1.5 0 0-3.5-1 0 0-1-0.5 0 0 1-1.5 0 0 0.5-1.5 0 0-1.5-0.5 0 0 6-1.5 0 0-5-0.5 0 0-2-1 0 0 5-0.5 0 0 1-0.5 0 0 1-1.5 0 0-5.5-0.5 0 0 2-2 0 0 2-1.5 0 0-2.5-0.5 0 0 3.5-1.5 0 0-1-0.5 0 0 0.5-1.5 0 0-1-0.5 0 0-1-1 0 0-1-0.5 0 0 2.5-1.5 0 0 3.5-0.5 0 0 3-1.5 0 0-4-1 0 0 0.5-0.5 0 0 1.5-1.5 0 0 0.5-1.5 0 0-1.5-1 0 0-1.5-0.5 0 0-3-0.5 0 0 2-1.5 0 0-0.5-1 0 0 4.5-0.5 0 0 0.5-0.5 0 0 0.5-1.5 0 0-0.5-2 0 0-1.5-0.5 0 0 3.5-1.5 0 0-3-1.5 0 0 0.5-1.5 0 0 0.5-1.5 0 0 1-0.5 0 0 6-1.5 0 0-5-2 0 0-0.5-0.5 0 0 4-1.5 0 0-0.5-1 0 0-2.5-1 0 0 1-1.5 0 0-0.5-0.5 0 0-1-1.5 0 0 3.5-1.5 0 0-4-0.5 0 0 3-0.5 0 0 1-0.5 0 0 2-1.5 0 0-1.5-0.5 0 0 0.5-1.5 0 0-4.5-1 0 0 6.5-2 0 0-4.5-2.5 0 0 0.5-0.5 0 0 4-1.5 0 0-0.5-0.5 0 0-2.5-0.5 0 0-0.5-1.5 0 0-0.5-0.5 0 0 3.5-1.5 0 0-4-1 0 0 1-1 0 0 2.5-1.5 0 0-1.5-0.5 0 0-3.5-1 0 0 6-1.5 0 0-1.5-1 0 0 1-1.5 0 0-2-0.5 0 0 0.5-0.5 0 0 3-1.5 0 0-2.5-1 0 0 0.5-1.5 0 0-0.5-0.5 0 0-4.5-0.5 0 0 9-1.5 0 0-1-0.5 0 0-6-2 0 0 1-1.5 0 0-0.5-0.5 0 0 2-0.5 0 0 3.5-1.5 0 0-1.5-1.5 0 0-1.5-0.5 0 0-0.5-1 0 0-2.5-0.5 0 0 5-1.5 0 0-2-0.5 0 0 1-3 0 0-3.5-0.5 0 0 1.5-0.5 0 0 3.5-1.5 0 0-0.5-0.5 0 0-2.5-1 0 0-1-0.5 0 0 3-3 0 0-2.5-1 0 0-1-0.5 0 0 5-1.5 0 0-2.5-0.5 0 0-1.5-1 0 0 0.5-0.5 0 0 1-0.5 0 0 0.5-0.5 0 0 0.5-2 0 0-1-0.5 0 0 2.5-1.5 0 0-1-1.5 0 0-3.5-0.5 0 0 4.5-2 0 0-1-1 0 0-4-0.5 0 0 9-1.5 0 0-4.5-1.5 0 0-1-0.5 0 0-0.5-1 0 0-2.5-0.5 0 0 2-1.5 0 0 1-0.5 0 0 3-1.5 0 0-2-1 0 0-2-1.5 0 0-0.5-1 0 0-2.5-0.5 0 0 4-2.5 0 0 4.5-1.5 0 0-3-1.5 0 0-2-0.5 0 0 2.5-1.5 0 0-1-1.5 0 0-2.5-1.5 0 0-1.5-1.5 0 0-2-0.5 0 0 3.5-2.5 0 0 2.5-0.5 0 0 0.5-1.5 0 0-0.5-2 0 0-1.5-1 0 0-2-0.5 0 0-1-1 0 0 4-3.5 0 0-3-0.5 0 0 1-1.5 0 0-2-0.5 0 0-2.5-0.5 0 0-0.5-0.5 0 0 5-0.5 0 0 0.5-1 0 0 2.5-1.5 0 0-2.5-0.5 0 0-1-2 0 0 1.5-0.5 0 0 2-1.5 0 0-0.5-0.5 0 0 1.5-1.5 0 0-6.5-1 0 0-0.5-0.5 0 0 5.5-3 0 0-3-0.5 0 0-1-0.5 0 0 3.5-1.5 0 0-3.5-2 0 0 0.5-1 0 0 6-1.5 0 0-2.5-1.5 0 0-2-1 0 0-1.5-0.5 0 0 1.5-2 0 0-1-0.5 0 0 3-1.5 0 0 1-1.5 0 0-1-1 0 0-3.5-0.5 0 0 1-0.5 0 0 1.5-1.5 0 0-1-0.5 0 0-1.5-0.5 0 0 2-1.5 0 0-4.5-1 0 0 3.5-1 0 0 2-1.5 0 0-1-1.5 0 0-0.5-1 0 0-1.5-1 0 0 4.5-0.5 0 0 3.5-1.5 0 0-7.5-0.5 0 0 6-1.5 0 0-5.5-0.5 0 0 0.5-1.5 0 0-2.5-0.5 0 0 4.5-2 0 0-1-0.5 0 0-2-0.5 0 0-2.5-0.5 0 0 0.5-0.5 0 0 0.5-0.5 0 0 3.5-1.5 0 0-3-0.5 0 0 3-1.5 0 0-2.5-0.5 0 0-1-2 0 0 2.5-1.5 0 0-1.5-0.5 0 0 7-1.5 0 0-0.5-0.5 0 0-0.5-2 0 0-3-0.5 0 0-3.5-0.5 0 0 1-0.5 0 0 3-1.5 0 0-0.5-1 0 0 0.5-1.5 0 0-0.5-1 0 0-1.5-0.5 0 0-0.5-0.5 0 0 1.5-1.5 0 0-2-0.5 0 0-0.5-0.5 0 0 0.5-0.5 0 0 0.5-0.5 0 0 0.5-1.5 0 0 1.5-1.5 0 0-4.5-0.5 0 0 1.5-2.5 0 0 1-1.5 0 0-1.5-1 0 0 0.5-0.5 0 0 1.5-0.5 0 0 4.5-1.5 0 0-4-0.5 0 0-0.5-1 0 0 2-1.5 0 0-1.5-0.5 0 0-2-1 0 0-1.5-0.5 0 0 0.5-0.5 0 0 5-1.5 0 0-6-0.5 0 0 1.5-0.5 0 0 1-0.5 0 0 5.5-2 0 0-6.5-1.5 0 0-0.5-0.5 0 0 4.5-1.5 0 0-1-2 0 0-3.5-0.5 0 0-1-1 0 0 3.5-1.5 0 0-1-1 0 0-1-1.5 0 0 3-1.5 0 0 0.5-1.5 0 0-1.5-2 0 0-0.5-1 0 0 1.5-1.5 0 0-3.5-1 0 0-2.5-0.5 0 0 1-1 0 0 5-1.5 0 0-2-1 0 0 1.5-1 0 0 5-1.5 0 0-6-2 0 0-2-1.5 0 0-1-1 0 0-0.5-1 0 0 6-1.5 0 0-2-0.5 0 0 1-1 0 0 0.5-1.5 0 0-1-0.5 0 0-2.5-0.5 0 0 4.5-1.5 0 0-1.5-0.5 0 0-4-0.5 0 0 0.5-0.5 0 0 5.5-1.5 0 0-3-0.5 0 0-3-0.5 0 0 1-0.5 0 0 1-1 0 0 1-3.5 0 0-2-1.5 0 0-0.5-0.5 0 0 4.5-1.5 0 0-5-1 0 0 3-1 0 0 4.5-1.5 0 0-7.5-0.5 0 0 2-1.5 0 0-0.5-0.5 0 0-2.5-0.5 0 0 2.5-1.5 0 0 0.5-0.5 0 0 2-1.5 0 0-2-1 0 0-0.5-0.5 0 0 5-1 0 0 2.5-1.5 0 0-4.5-0.5 0 0-2-1.5 0 0 1.5-1.5 0 0-0.5-1 0 0-2.5-0.5 0 0 2.5-1.5 0 0-2-1.5 0 0-0.5-0.5 0 0 0.5-1.5 0 0-1-1.5 0 0 2.5-0.5 0 0 1-1.5 0 0-0.5-0.5 0 0-4-0.5 0 0-2-1.5 0 0 1.5-1 0 0 2-1 0 0 1-0.5 0 0 1.5-1.5 0 0-0.5-1.5 0 0 0.5-0.5 0 0 1.5-1.5 0 0 3.5-1.5 0 0-5.5-1 0 0 1-1.5 0 0-1.5-0.5 0 0 1.5-1.5 0 0-4.5-1 0 0 4.5-1.5 0 0-1-0.5 0 0-3.5-1.5 0 0 5-1.5 0 0-3-1.5 0 0-2-2.5 0 0 1-1.5 0 0-1.5-0.5 0 0 4.5-1.5 0 0-2-0.5 0 0 2-0.5 0 0 1.5-1.5 0 0-0.5-1.5 0 0-4-1 0 0-0.5-0.5 0 0 1-1.5 0 0-0.5-0.5 0 0-1-1.5 0 0-0.5-0.5 0 0 4-1.5 0 0-5.5-0.5 0 0 1-1 0 0 0.5-1.5 0 0-0.5-1.5 0 0 8-1.5 0 0-0.5-1.5 0 0-5-0.5 0 0-1-1.5 0 0 1-1 0 0 2-1.5 0 0 0.5-0.5 0 0 3-1.5 0 0-4.5-0.5 0 0-2-1.5 0 0 3-1.5 0 0-5.5-0.5 0 0 5.5-1.5 0 0-3.5-1 0 0 6-1.5 0 0-5-1.5 0 0 1.5-1.5 0 0-0.5-1 0 0 8.5-2 0 0-4-1.5 0 0-2-0.5 0 0-3.5-1 0 0-0.5-2 0 0 7.5-1.5 0 0-5.5-1.5 0 0 1-1.5 0 0-1.5-1.5 0 0 1-1.5 0 0-0.5-0.5 0 0-2.5-2 0 0 0.5-1.5 0 0-2-2 0 0 1-1 0 0 1.5-2 0 0-2-0.5 0 0 2-1 0 0 4.5-1.5 0 0-5-0.5 0 0 0.5-1 0 0 6.5-1.5 0 0-4.5-0.5 0 0-4.5-0.5 0 0 4-0.5 0 0 2.5-1.5 0 0-2.5-1 0 0-6-0.5 0 0 10-1.5 0 0-0.5-2 0 0-3.5-0.5 0 0 4.5-1.5 0 0-5-1 0 0-3.5-0.5 0 0 6.5-1.5 0 0-3.5-0.5 0 0-2-0.5 0 0-0.5-0.5 0 0 3-1.5 0 0-2.5-1.5 0 0 4.5-2 0 0-3-0.5 0 0-1-0.5 0 0 1-0.5 0 0 1-1.5 0 0-2.5-1 0 0 1.5-1.5 0 0 3-1.5 0 0-5-1 0 0 5.5-1.5 0 0-2.5-1.5 0 0-1-1 0 0-0.5-1.5 0 0-2-1 0 0-3-1 0 0 1.5-0.5 0 0 1-0.5 0 0 7-1.5 0 0-7-2 0 0-3.5-0.5 0 0 3.5-2 0 0-4-1 0 0 0.5-1.5 0 0-1-0.5 0 0-0.5-0.5 0 0 4.5-1.5 0 0-3-0.5 0 0-0.5-0.5 0 0 0.5-1.5 0 0 3.5-1.5 0 0-3-0.5 0 0-4.5-0.5 0 0 5-1 0 0 2-1.5 0 0-0.5-1 0 0-1.5-0.5 0 0 2-1.5 0 0-1-0.5 0 0-5-1 0 0-1.5-0.5 0 0 3-1 0 0 0.5-1.5 0 0-0.5-1 0 0 4.5-1.5 0 0-2-0.5 0 0-0.5-0.5 0 0-2-0.5 0 0-0.5-2.5 0 0 0.5-1 0 0 2-1 0 0 0.5-1.5 0 0-3.5-0.5 0 0 3.5-1.5 0 0-5-0.5 0 0 4.5-0.5 0 0 0.5-0.5 0 0 0.5-1.5 0 0-0.5-1.5 0 0-3.5-0.5 0 0 2-0.5 0 0 0.5-1 0 0 1-1.5 0 0-0.5-0.5 0 0-0.5-1.5 0 0-2.5-0.5 0 0 3-1.5 0 0 0.5-0.5 0 0 1.5-1.5 0 0-6.5-0.5 0 0 5.5-1.5 0 0-3-0.5 0 0 0.5-2.5 0 0-0.5-1 0 0 3.5-1.5 0 0-2-0.5 0 0-1.5-0.5 0 0 5.5-1.5 0 0-7-2.5 0 0 1-1.5 0 0 2-1.5 0 0-8.5-1 0 0 4.5-0.5 0 0 7-1.5 0 0-6.5-0.5 0 0 0.5-2 0 0-0.5-0.5 0 0-3.5-0.5 0 0 3-1.5 0 0-0.5-1 0 0-0.5-1.5 0 0 6-0.5 0 0 2.5-1.5 0 0-8-1 0 0 5.5-1 0 0 3.5-1.5 0 0-8-0.5 0 0 2.5-1.5 0 0-3-1 0 0-1.5-0.5 0 0 0.5-1.5 0 0-1.5-0.5 0 0 6-2 0 0-4-0.5 0 0 4.5-1.5 0 0-6-0.5 0 0 1-1 0 0 5-1.5 0 0-0.5-1 0 0-2-1 0 0-3-0.5 0 0 5-1.5 0 0-2.5-1 0 0-1.5-1 0 0-0.5-0.5 0 0 4-1.5 0 0-1-1 0 0-2.5-1.5 0 0-2.5-0.5 0 0-0.5-0.5 0 0 0.5-1.5 0 0 7.5-1.5 0 0-5-0.5 0 0 4-1.5 0 0-3.5-1 0 0-1-1 0 0 0.5-1.5 0 0-5.5-0.5 0 0 6.5-1.5 0 0-1.5-0.5 0 0-1.5-1 0 0-1-0.5 0 0 1.5-1 0 0 1-0.5 0 0 4.5-1.5 0 0-4.5-0.5 0 0-3.5-0.5 0 0 1-0.5 0 0 4.5-1.5 0 0-1.5-1.5 0 0-1-0.5 0 0-1.5-0.5 0 0 4-1 0 0 0.5-1.5 0 0-5.5-0.5 0 0 5.5-1.5 0 0-4.5-1.5 0 0-1.5-0.5 0 0 1-0.5 0 0 4-1.5 0 0-1-1 0 0-0.5-0.5 0 0-2.5-2 0 0-3-0.5 0 0 6-1.5 0 0-4-0.5 0 0 0.5-0.5 0 0 3-1.5 0 0-4-0.5 0 0-2.5-0.5 0 0 2.5-1.5 0 0-1-0.5 0 0-0.5-0.5 0 0 3.5-1.5 0 0-2-1 0 0 5-1.5 0 0-4-0.5 0 0 6.5-1.5 0 0-8.5-0.5 0 0 0.5-1.5 0 0-1.5-0.5 0 0-1-1 0 0 2.5-1.5 0 0-2-0.5 0 0 9-1.5 0 0-4-1 0 0-2-0.5 0 0 1-3 0 0-0.5-0.5 0 0-0.5-0.5 0 0-0.5-1.5 0 0-2.5-0.5 0 0 1-0.5 0 0 4.5-1.5 0 0-2-1 0 0 0.5-2 0 0-2.5-0.5 0 0-1-0.5 0 0 1.5-1.5 0 0 1.5-1.5 0 0-1-1.5 0 0-1.5-0.5 0 0 1-1.5 0 0-1-0.5 0 0 3-1.5 0 0-4-0.5 0 0 0.5-1.5 0 0 2.5-1.5 0 0-2.5-1.5 0 0-1-0.5 0 0 3-1.5 0 0-2.5-1 0 0 3.5-1.5 0 0-2-1.5 0 0 3-1.5 0 0-4.5-0.5 0 0 4.5-1.5 0 0-3-0.5 0 0 1-1.5 0 0 1-0.5 0 0 1-1.5 0 0-1.5-1.5 0 0 0.5-1.5 0 0-3-0.5 0 0-1-1.5 0 0-4.5-0.5 0 0 9-1.5 0 0-1-0.5 0 0 4.5-1.5 0 0-3.5-1.5 0 0-5-0.5 0 0 1.5-1.5 0 0-5.5-0.5 0 0 4-0.5 0 0 10.5-1.5 0 0-1.5-0.5 0 0-8.5-0.5 0 0-0.5-1.5 0 0-2-0.5 0 0-1.5-0.5 0 0 8-0.5 0 0 1.5-1.5 0 0-3-1.5 0 0-3.5-1 0 0 4-1.5 0 0-6.5-1 0 0 0.5-0.5 0 0 3-1.5 0 0-2-0.5 0 0 2.5-1.5 0 0-1.5-0.5 0 0-0.5-1 0 0 3-1.5 0 0-3-1.5 0 0 1.5-0.5 0 0 2-1.5 0 0-4.5-0.5 0 0-0.5-0.5 0 0-0.5-1.5 0 0-3-0.5 0 0 3.5-1 0 0 4.5-1.5 0 0-4-1.5 0 0-2-1 0 0 1-1.5 0 0 2.5-0.5 0 0 0.5-1.5 0 0-0.5-0.5 0 0-2-1 0 0 1.5-1 0 0 6.5-1.5 0 0-3.5-1.5 0 0-7-0.5 0 0 2-1 0 0 2-1.5 0 0 1-1.5 0 0-1.5-0.5 0 0 2-1.5 0 0-5-1 0 0-0.5-0.5 0 0-0.5-0.5 0 0-1.5-0.5 0 0 2.5-1.5 0 0-1.5-0.5 0 0 3.5-1 0 0 1.5-1.5 0 0-5-0.5 0 0 3-1.5 0 0-1-1 0 0 4.5-1.5 0 0-7.5-1.5 0 0 2.5-1.5 0 0-5-0.5 0 0 7.5-1.5 0 0-3-2 0 0-0.5-0.5 0 0-0.5-0.5 0 0 0.5-0.5 0 0 1-0.5 0 0 2.5-1.5 0 0-3-0.5 0 0-5.5-0.5 0 0 1.5-0.5 0 0 1.5-1 0 0 1-1.5 0 0-2-1 0 0 2.5-0.5 0 0 0.5-3 0 0-0.5-0.5 0 0 4-1.5 0 0-6.5-1.5 0 0 5-1 0 0 2-1.5 0 0-5-1 0 0-0.5-1 0 0-4-1.5 0 0 2.5-0.5 0 0 2-1.5 0 0-5-0.5 0 0 2-0.5 0 0 3.5-1.5 0 0-6.5-0.5 0 0 1-0.5 0 0 1.5-0.5 0 0 1.5-1.5 0 0-5-0.5 0 0 3-2 0 0 1.5-1.5 0 0-5.5-0.5 0 0 1-3 0 0-1-0.5 0 0 8.5-1.5 0 0-8-0.5 0 0-1-1 0 0-4-1 0 0 8-1.5 0 0-3.5-0.5 0 0 5-1.5 0 0-2.5-1.5 0 0-1-1 0 0-8.5-0.5 0 0 2-1.5 0 0-0.5-0.5 0 0 2.5-0.5 0 0 0.5-1.5 0 0-2-0.5 0 0 1-1.5 0 0-0.5-1.5 0 0 1.5-1.5 0 0-0.5-1 0 0 0.5-1.5 0 0-3-0.5 0 0-3-1 0 0-0.5-0.5 0 0 1-0.5 0 0 12.5-1.5 0 0-10-1 0 0-6-1 0 0 0.5-1 0 0 1.5-1.5 0 0-0.5-1 0 0-3.5-0.5 0 0 0.5-1.5 0 0-1-1 0 0 1-1 0 0 6.5-1.5 0 0-1-1.5 0 0-10-2 0 0 1.5-0.5 0 0 3-1 0 0 1-1.5 0 0-3.5-0.5 0 0 4-1.5 0 0-8-1 0 0 1-1.5 0 0-5-0.5 0 0 12-1.5 0 0-3.5-0.5 0 0-1-1.5 0 0-5.5-0.5 0 0 0.5-1.5 0 0 3-1.5 0 0-2-1.5 0 0-3.5-0.5 0 0 1.5-1.5 0 0-1-1.5 0 0-6-1.5 0 0 3.5-1.5 0 0-5.5-0.5 0 0 1-0.5 0 0 4-1.5 0 0-3-1 0 0-3.5-0.5 0 0 1-3 0 0 1-1 0 0 6-1.5 0 0-3.5-0.5 0 0-3.5-1 0 0-5-1 0 0-0.5-0.5 0 0 3.5-0.5 0 0 2-1.5 0 0-7.5-0.5 0 0 3.5-0.5 0 0 2-1.5 0 0-5.5-2 0 0-1-0.5 0 0-4-0.5 0 0 4.5-1.5 0 0-7.5-0.5 0 0 2.5-1.5 0 0-2.5-1 0 0-1-0.5 0 0 2-1.5 0 0-2-0.5 0 0-3-2.5 0 0-4-2 0 0 1-2 0 0 2.5-1.5 0 0-1-0.5 0 0-3.5-3 0 0 7-1.5 0 0-0.5-0.5 0 0-9.5-1 0 0-1.5-1.5 0 0-1.5-0.5 0 0-0.5-1 0 0 6-1.5 0 0-2-0.5 0 0-0.5-1 0 0-6-0.5 0 0 0.5-0.5 0 0 2.5-3 0 0-1.5-0.5 0 0 2.5-1.5 0 0-1.5-1 0 0 1-1 0 0 1-1.5 0 0-5.5-1.5 0 0-2.5-0.5 0 0 7-0.5 0 0 3-1.5 0 0-3.5-0.5 0 0-1-1 0 0 9.5-1.5 0 0-12-0.5 0 0 1.5-1.5 0 0-5.5-0.5 0 0 4-0.5 0 0 4-1.5 0 0-3-0.5 0 0 1-1 0 0 6.5-1.5 0 0-9-0.5 0 0 3-1.5 0 0 9-1.5 0 0-4.5-0.5 0 0-1.5-1.5 0 0-2-0.5 0 0 0.5-0.5 0 0 7-1.5 0 0-1.5-0.5 0 0 5.5-1.5 0 0-8-0.5 0 0-1-0.5 0 0 4-0.5 0 0 1-1 0 0 8-1.5 0 0-4-0.5 0 0 1.5-1.5 0 0 1.5-0.5 0 0 0.5-1 0 0 4-0.5 0 0 7-1.5 0 0-2.5-0.5 0 0-5.5-0.5 0 0 5-1.5 0 0-3-0.5 0 0 0.5-0.5 0 0 4.5-1 0 0 7-2 0 0-0.5-0.5 0 0-4-1 0 0 3-1 0 0 6-1.5 0 0-3-0.5 0 0 1.5-2 0 0 14.5-1.5 0 0-4.5-0.5 0 0-7-0.5 0 0 1-0.5 0 0 0.5-0.5 0 0 3-1.5 0 0-1-1 0 0 3-1.5 0 0 2-0.5 0 0 0.5-1 0 0 4-0.5 0 0 4.5-1.5 0 0-0.5-1.5 0 0 2.5-1.5 0 0-1.5-0.5 0 0 4.5-1.5 0 0-1.5-1 0 0-5.5-1 0 0 8.5-0.5 0 0 0.5-1.5 0 0 1-0.5 0 0 2-1.5 0 0-1-0.5 0 0 1.5-0.5 0 0 0.5-0.5 0 0 2.5-1.5 0 0-0.5-0.5 0 0-2-1 0 0 2.5-1.5 0 0 8.5-1.5 0 0-4.5-0.5 0 0 1-1.5 0 0 1.5-0.5 0 0 2-1.5 0 0 7.5-1.5 0 0-5-0.5 0 0-1.5-0.5 0 0 2-1.5 0 0-3-0.5 0 0 7.5-1.5 0 0 1-1 0 0 0.5-1.5 0 0-0.5-0.5 0 0 0.5-1.5 0 0-2-0.5 0 0 2-1.5 0 0-1-0.5 0 0-3.5-0.5 0 0 9.5-1.5 0 0-0.5-0.5 0 0 4-1.5 0 0-0.5-2 0 0-6-1 0 0 2-0.5 0 0 7.5-1.5 0 0-1-0.5 0 0 0.5-1.5 0 0-3-0.5 0 0 0.5-0.5 0 0 3.5-1.5 0 0-3.5-0.5 0 0-0.5-0.5 0 0 1.5-1 0 0 1-2.5 0 0-0.5-0.5 0 0 3-1.5 0 0-3-1 0 0-1.5-0.5 0 0-0.5-0.5 0 0 5.5-1.5 0 0-4-0.5 0 0 4-1.5 0 0-3.5-1 0 0-2-1.5 0 0-1.5-0.5 0 0 8-1.5 0 0-1.5-1.5 0 0-2-0.5 0 0-3-1.5 0 0 9-1.5 0 0-2-1.5 0 0-7-1 0 0 1-0.5 0 0 4-1.5 0 0-6-2 0 0 0.5-0.5 0 0 3-1 0 0 5.5-1.5 0 0-3-1 0 0 2-1.5 0 0-4.5-0.5 0 0-3.5-1 0 0 8-1.5 0 0-6.5-1 0 0-0.5-1.5 0 0 1.5-1.5 0 0 0.5-1.5 0 0-1.5-1 0 0 5-1.5 0 0-3.5-0.5 0 0 4.5-0.5 0 0 3.5-0.5 0 0 7-1.5 0 0-15.5-0.5 0 0-3-1 0 0 11-1.5 0 0-7.5-1.5 0 0-3-1 0 0 2.5-1.5 0 0-2.5-0.5 0 0-0.5-0.5 0 0 3.5-1 0 0 9.5-1.5 0 0-8-1 0 0-2-1 0 0-3-0.5 0 0-1-0.5 0 0 5-1.5 0 0-2.5-0.5 0 0-2-1.5 0 0 7-2.5 0 0-3-0.5 0 0 2-1 0 0 7-1.5 0 0-1.5-0.5 0 0-9-0.5 0 0-1.5-0.5 0 0 4.5-1.5 0 0 6-1.5 0 0-5-0.5 0 0 1.5-1.5 0 0-0.5-1.5 0 0 1-1.5 0 0-1.5-1.5 0 0-2.5-0.5 0 0-2.5-0.5 0 0 2-1 0 0 2-1.5 0 0 3.5-1.5 0 0-2.5-1.5 0 0-1.5-0.5 0 0-0.5-0.5 0 0-2-1.5 0 0-0.5-0.5 0 0 2-1 0 0 2.5-0.5 0 0 4-1.5 0 0-5-0.5 0 0 2.5-1.5 0 0-2-0.5 0 0 1-1.5 0 0-2.5-1 0 0-2.5-1 0 0 2-0.5 0 0 3-2.5 0 0-0.5-0.5 0 0 2.5-1.5 0 0-2-1 0 0-3-0.5 0 0 2-1.5 0 0 5-1.5 0 0-10.5-0.5 0 0 1-1 0 0 0.5-0.5 0 0 1.5-0.5 0 0 4.5-0.5 0 0 1.5-1.5 0 0-5-0.5 0 0 3-0.5 0 0 7.5-1.5 0 0-7-0.5 0 0 0.5-1 0 0 7-1.5 0 0-14-0.5 0 0 4.5-1.5 0 0 2-0.5 0 0 5.5-1.5 0 0-9-0.5 0 0 2-1.5 0 0-2.5-0.5 0 0 1-1.5 0 0-1-1 0 0-0.5-1 0 0-0.5-0.5 0 0-1-0.5 0 0 1.5-1.5 0 0-1.5-0.5 0 0 1-0.5 0 0 5.5-1.5 0 0-2.5-1.5 0 0-5.5-0.5 0 0 1.5-0.5 0 0 1-1 0 0 2-3 0 0-0.5-0.5 0 0 2-1.5 0 0-0.5-0.5 0 0-2-1.5 0 0 0.5-1.5 0 0-2-0.5 0 0 6-1.5 0 0-4-0.5 0 0 1.5-1.5 0 0-0.5-0.5 0 0-4.5-1 0 0-2.5-0.5 0 0 3-0.5 0 0 2-0.5 0 0 5-1.5 0 0-1.5-0.5 0 0-0.5-1.5 0 0 2.5-1.5 0 0-1-0.5 0 0-3-1 0 0 3.5-1.5 0 0-2-1 0 0 9-1.5 0 0-10.5-1 0 0 4.5-1.5 0 0-5.5-0.5 0 0 5.5-1.5 0 0-2-1.5 0 0-2-0.5 0 0 6-1.5 0 0-4.5-0.5 0 0-0.5-0.5 0 0 0.5-0.5 0 0 4.5-1.5 0 0-3.5-0.5 0 0-1-0.5 0 0 5-0.5 0 0 2.5-1.5 0 0-13.5-0.5 0 0 0.5-1 0 0 3-1 0 0 4.5-1.5 0 0-8-1 0 0 7-1.5 0 0-6-0.5 0 0 2.5-0.5 0 0 3-1.5 0 0-7.5-0.5 0 0 6.5-1.5 0 0-0.5-0.5 0 0-5-0.5 0 0 2-0.5 0 0 3-0.5 0 0 1.5-3 0 0 7-1.5 0 0-9.5-1 0 0-3.5-0.5 0 0 11.5-1 0 0 2-0.5 0 0 2.5-1.5 0 0-12.5-0.5 0 0-1-0.5 0 0 0.5-0.5 0 0 0.5-0.5 0 0 2.5-1.5 0 0-6-0.5 0 0 3-1 0 0 8-1.5 0 0-12-1 0 0 10.5-0.5 0 0 1.5-1.5 0 0-1-1 0 0-1-0.5 0 0-3.5-0.5 0 0-5-1 0 0-3-0.5 0 0 8.5-1.5 0 0-1.5-0.5 0 0-1.5-1 0 0-2-0.5 0 0 1.5-1.5 0 0-1-0.5 0 0-0.5-0.5 0 0 4.5-1.5 0 0-9-0.5 0 0 3-0.5 0 0 6-1.5 0 0-3-1.5 0 0-2.5-1 0 0 6-1.5 0 0-4.5-0.5 0 0-1-0.5 0 0 4.5-0.5 0 0 6.5-1.5 0 0-12-1.5 0 0 3.5-1.5 0 0-13-0.5 0 0 7.5-1.5 0 0-2-1 0 0-1.5-0.5 0 0 2-2.5 0 0-3.5-1 0 0 7-1.5 0 0-3-0.5 0 0 2-1.5 0 0-3.5-1.5 0 0-5-0.5 0 0-1-1.5 0 0 2.5-0.5 0 0 7.5-1.5 0 0-3.5-0.5 0 0-0.5-1 0 0-7-0.5 0 0 0.5-1.5 0 0 4-1.5 0 0-1.5-1 0 0-3.5-0.5 0 0 3.5-0.5 0 0 3.5-1.5 0 0-8-0.5 0 0-1.5-1.5 0 0 0.5-1.5 0 0-1-0.5 0 0-1-0.5 0 0-4-0.5 0 0 8-0.5 0 0 3.5-1.5 0 0-10-2 0 0 3.5-1.5 0 0-1.5-0.5 0 0-3-0.5 0 0-3-3 0 0-1-0.5 0 0 2.5-1 0 0 4-1.5 0 0-8.5-0.5 0 0-2-1 0 0-0.5-1.5 0 0-0.5-0.5 0 0 0.5-0.5 0 0 5.5-1.5 0 0-14.5-2 0 0-1.5-1 0 0 1-0.5 0 0 3.5-0.5 0 0 0.5-1.5 0 0-0.5-1 0 0 4.5-1.5 0 0-5-0.5 0 0-0.5-1.5 0 0-5.5-1 0 0-4.5-1 0 0 1.5-1.5 0 0-6.5-0.5 0 0 1.5-1.5 0 0-1-0.5 0 0-1.5-0.5 0 0 1-1.5 0 0-1-0.5 0 0-5.5-0.5 0 0 0.5-0.5 0 0 0.5-1.5 0 0-4-1 0 0-1-0.5 0 0-5.5-0.5 0 0 2-1.5 0 0-1-0.5 0 0-4.5-1 0 0-0.5-0.5 0 0 11-1.5 0 0 1.5-0.5 0 0 2.5-1.5 0 0-10.5-1.5 0 0-1.5-0.5 0 0-7-0.5 0 0 3-1 0 0 1.5-1.5 0 0-4.5-1 0 0-6.5-1 0 0 3.5-1.5 0 0-10-1 0 0 8-1.5 0 0-6-2.5 0 0-4-0.5 0 0 2-1.5 0 0-1-1 0 0-5-0.5 0 0-1.5-1.5 0 0-1-0.5 0 0-5-1.5 0 0-1.5-1.5 0 0-4-0.5 0 0-0.5-1.5 0 0 3.5-1.5 0 0-4.5-0.5 0 0-1.5-0.5 0 0-1.5-1 0 0 4-1.5 0 0-6-1 0 0 0.5-1.5 0 0-2.5-0.5 0 0 1.5-1.5 0 0-7.5-1 0 0 3.5-1.5 0 0-8-1.5 0 0-9-0.5 0 0 14-1.5 0 0-15.5-1 0 0-1-0.5 0 0-1-1.5 0 0-1-0.5 0 0 2-1.5 0 0-6-1 0 0-1.5-0.5 0 0 0.5-1 0 0 12-1.5 0 0-12-0.5 0 0-5.5-0.5 0 0-2.5-1.5 0 0-2-0.5 0 0-2-0.5 0 0-1-0.5 0 0 3.5-1.5 0 0-3.5-1.5 0 0-0.5-0.5 0 0-3-0.5 0 0 1.5-1 0 0 4-0.5 0 0 1-1.5 0 0 4.5-1.5 0 0-9-0.5 0 0-1-0.5 0 0-1.5-0.5 0 0-0.5-1 0 0-7.5-0.5 0 0 2.5-1 0 0 1-1.5 0 0-5.5-1.5 0 0 7-1.5 0 0-6-1 0 0-9-0.5 0 0 3.5-0.5 0 0 2-0.5 0 0 1-1.5 0 0-2.5-0.5 0 0-1-1.5 0 0-3.5-0.5 0 0 4.5-1.5 0 0-4.5-0.5 0 0-5-0.5 0 0 1.5-1 0 0 1-1.5 0 0-2.5-1.5 0 0-3-0.5 0 0-1-1 0 0 8-1.5 0 0-3-0.5 0 0 2.5-2.5 0 0 1.5-1.5 0 0-0.5-0.5 0 0-5.5-0.5 0 0 15.5-1.5 0 0-19-0.5 0 0-1.5-1 0 0 6.5-0.5 0 0 2.5-1.5 0 0-6.5-1 0 0 5-0.5 0 0 4-1.5 0 0-0.5-1 0 0 2-1.5 0 0-10-1 0 0 8.5-0.5 0 0 1.5-1.5 0 0-5-0.5 0 0 7.5-1.5 0 0-1-1 0 0-10.5-0.5 0 0 4.5-0.5 0 0 2-0.5 0 0 1.5-1.5 0 0-1.5-0.5 0 0-6-0.5 0 0 13.5-1.5 0 0-5.5-1 0 0 4.5-1.5 0 0-1-1 0 0-2.5-0.5 0 0-0.5-1 0 0 1-0.5 0 0 4-0.5 0 0 2-1 0 0 2.5-1.5 0 0-0.5-0.5 0 0-0.5-0.5 0 0-2.5-0.5 0 0 3.5-0.5 0 0 3-0.5 0 0 0.5-1 0 0 0.5-1.5 0 0 1-0.5 0 0 3-0.5 0 0 0.5-1.5 0 0-4.5-0.5 0 0 0.5-0.5 0 0 2.5-1 0 0 1-1.5 0 0-2.5-0.5 0 0 1-1 0 0 4-1 0 0 8.5-1.5 0 0-2-0.5 0 0 1.5-1.5 0 0 12.5-2 0 0-7-1 0 0-2-0.5 0 0 14-1.5 0 0-6.5-1.5 0 0-0.5-0.5 0 0-1-1.5 0 0 2.5-1.5 0 0-1.5-0.5 0 0 2.5-1 0 0 2-1.5 0 0 3-0.5 0 0 7.5-0.5 0 0 1-1.5 0 0-2-0.5 0 0 3-1 0 0 8-1.5 0 0-6-1 0 0 3-1.5 0 0 3.5-1 0 0 3-1.5 0 0-4-0.5 0 0 8-1.5 0 0-2.5-1.5 0 0-3.5-0.5 0 0 6.5-0.5 0 0 6.5-0.5 0 0 1-1.5 0 0-1-1.5 0 0 3-1.5 0 0 1.5-1 0 0 0.5-0.5 0 0 4-1.5 0 0-1.5-0.5 0 0 2-1.5 0 0-4.5-0.5 0 0 7.5-1 0 0 1-0.5 0 0 1-0.5 0 0 1.5-1.5 0 0 3-0.5 0 0 3-1 0 0 2-0.5 0 0 1-1.5 0 0-0.5-2 0 0 4-2 0 0-1-1 0 0 10-0.5 0 0 5-1.5 0 0-9-0.5 0 0 3-1.5 0 0-4-0.5 0 0 10.5-1.5 0 0-5-0.5 0 0-2.5-1 0 0 1.5-0.5 0 0 10.5-1.5 0 0-3.5-0.5 0 0 7.5-1.5 0 0-1-1 0 0-2.5-0.5 0 0 4-0.5 0 0 4.5-1.5 0 0-9-0.5 0 0 7.5-0.5 0 0 8.5-1.5 0 0-0.5-1.5 0 0-6.5-0.5 0 0 10-1.5 0 0-3.5-1 0 0 11.5-1.5 0 0-12.5-1 0 0 2.5-1.5 0 0-1.5-1.5 0 0 6.5-1.5 0 0-2-1.5 0 0 14.5-1.5 0 0-2.5-1 0 0-10-0.5 0 0 3-0.5 0 0 4-1.5 0 0-6.5-0.5 0 0 13-1.5 0 0-7.5-2 0 0 7-0.5 0 0 0.5-1.5 0 0-6.5-0.5 0 0 6-0.5 0 0 0.5-1.5 0 0-4-0.5 0 0 1.5-0.5 0 0 5-1 0 0 9-2 0 0-10-0.5 0 0-3-0.5 0 0 3-0.5 0 0 13.5-1.5 0 0-1-1 0 0-11-0.5 0 0 2.5-1.5 0 0-5.5-0.5 0 0 14-1.5 0 0-9-0.5 0 0 3-0.5 0 0 6-1.5 0 0-1.5-1.5 0 0-3.5-0.5 0 0 2-1 0 0 1-1.5 0 0 6.5-1.5 0 0-5-1 0 0 2.5-1.5 0 0-1-1.5 0 0-2-1 0 0 3.5-1.5 0 0-1-0.5 0 0 3.5-1.5 0 0-4.5-1 0 0 4.5-1 0 0 1-1.5 0 0-6.5-0.5 0 0 5-1.5 0 0-1-0.5 0 0-1-0.5 0 0-1.5-0.5 0 0 1.5-0.5 0 0 5.5-1.5 0 0-1.5-0.5 0 0-0.5-0.5 0 0-1.5-0.5 0 0-9-0.5 0 0 13.5-1.5 0 0-2-0.5 0 0 5-1.5 0 0-5-1.5 0 0-10-0.5 0 0 8.5-1.5 0 0 4.5-1 0 0 1-1.5 0 0 12.5-1.5 0 0-15.5-0.5 0 0 1.5-0.5 0 0 7-1.5 0 0-5.5-0.5 0 0-2-0.5 0 0 1.5-0.5 0 0 4.5-1.5 0 0-2.5-1 0 0-5-0.5 0 0 1.5-1.5 0 0-0.5-0.5 0 0-4-1.5 0 0 0.5-1.5 0 0 6.5-1.5 0 0-1-0.5 0 0 3.5-0.5 0 0 2.5-1.5 0 0-1.5-0.5 0 0-5.5-0.5 0 0 1.5-0.5 0 0 6-1.5 0 0-5-1 0 0 2.5-1.5 0 0-1.5-0.5 0 0-8.5-1 0 0 14.5-1.5 0 0-8.5-0.5 0 0 3.5-0.5 0 0 2-1.5 0 0-3.5-0.5 0 0-7.5-1 0 0-3.5-0.5 0 0 1-0.5 0 0 10-1.5 0 0-2-1.5 0 0-0.5-0.5 0 0 4.5-1.5 0 0-2-1 0 0-9.5-1.5 0 0-1.5-0.5 0 0 4-1.5 0 0 6-1.5 0 0-7-1.5 0 0-0.5-1.5 0 0 13.5-1.5 0 0-14-1.5 0 0-3-1 0 0 2.5-1.5 0 0-8-0.5 0 0 4-0.5 0 0 4.5-0.5 0 0 2.5-1.5 0 0-4-0.5 0 0-4-1 0 0-4.5-1 0 0 1.5-1.5 0 0-6.5-0.5 0 0-1.5-0.5 0 0 7-0.5 0 0 3.5-1.5 0 0-0.5-0.5 0 0 0.5-1.5 0 0-3.5-0.5 0 0-2.5-0.5 0 0 2.5-1.5 0 0-1.5-1 0 0-4.5-0.5 0 0 2-1.5 0 0-2-0.5 0 0 7.5-1.5 0 0-7-1 0 0-1-0.5 0 0-1.5-0.5 0 0 5.5-1.5 0 0-11.5-0.5 0 0 5.5-1.5 0 0-7.5-0.5 0 0 6-1.5 0 0-3-1.5 0 0-2.5-0.5 0 0 0.5-0.5 0 0 1.5-1.5 0 0-10-0.5 0 0 8.5-1.5 0 0-4-0.5 0 0-2-1.5 0 0-1-0.5 0 0 4-1.5 0 0-6.5-0.5 0 0-3.5-0.5 0 0-4-0.5 0 0-0.5-1 0 0 2-1.5 0 0-3.5-1.5 0 0-0.5-0.5 0 0 6.5-1.5 0 0-4.5-1 0 0-1-0.5 0 0-6.5-1.5 0 0 0.5-1.5 0 0-2.5-1 0 0-2.5-1 0 0 4-2 0 0-4.5-1 0 0 3.5-1.5 0 0-1.5-0.5 0 0-8.5-0.5 0 0 5.5-1.5 0 0-6.5-1 0 0-0.5-0.5 0 0 21-1.5 0 0-16.5-1.5 0 0-1.5-0.5 0 0-0.5-0.5 0 0-3-1 0 0-3-1 0 0 2-0.5 0 0 4-1 0 0 3-1.5 0 0-9.5-0.5 0 0 2.5-1.5 0 0-0.5-1 0 0-3-0.5 0 0 3.5-2 0 0 10-0.5 0 0 0.5-1.5 0 0-8-2 0 0-4-0.5 0 0 4-1 0 0 3.5-0.5 0 0 1.5-1.5 0 0-4-0.5 0 0-4.5-0.5 0 0 7.5-1.5 0 0-5-0.5 0 0 9-1 0 0 8.5-1.5 0 0-7.5-2 0 0 1.5-0.5 0 0 7.5-1.5 0 0-0.5-0.5 0 0-4.5-1.5 0 0-2.5-0.5 0 0-1-0.5 0 0 7-1.5 0 0-0.5-0.5 0 0 4-1 0 0 6-1.5 0 0 1-1 0 0 1-0.5 0 0 5-1.5 0 0-7.5-0.5 0 0-1-0.5 0 0 9.5-1 0 0 4.5-1.5 0 0-9.5-0.5 0 0 15.5-1.5 0 0-0.5-0.5 0 0-8-1 0 0-1.5-1 0 0 3-1 0 0 1.5-0.5 0 0 1-1 0 0 2-1.5 0 0 2.5-1.5 0 0 5.5-1.5 0 0-6-0.5 0 0-4-0.5 0 0 3-1.5 0 0 2-2 0 0-2.5-0.5 0 0 7.5-1.5 0 0-3-0.5 0 0-2-1 0 0 15-1.5 0 0-0.5-1.5 0 0-9-1 0 0 9-1.5 0 0 2.5-0.5 0 0 3.5-1 0 0 1.5-1.5 0 0-8-1 0 0-5-0.5 0 0 5-1 0 0 3-0.5 0 0 3-1.5 0 0-9-0.5 0 0 5-1.5 0 0-4.5-0.5 0 0 1-0.5 0 0 7-1.5 0 0-2-1 0 0-5-0.5 0 0 17.5-1.5 0 0-8.5-1.5 0 0 4.5-1.5 0 0-6-1 0 0-0.5-1 0Z" fill="#f0f"/>
<path d="M100 36.7l2.7 10.7 2.6 10.6 2.7 10.3 2.7 10.1 2.6 9.9 2.7 9.8 2.7 9.5 2.6 9.4 2.7 9.2 2.7 9 2.7 8.8 2.6 8.6 2.7 8.5 2.7 8.3 2.6 8.1 2.7 8 2.7 7.8 2.6 7.7 2.7 7.5 2.7 7.3 2.6 7.2 2.7 7.1 2.7 6.9 2.6 6.7 2.7 6.6 2.7 6.5 2.7 6.4 2.6 6.2 2.7 6.1 2.7 5.9 2.6 5.8 2.7 5.7 2.7 5.6 2.6 5.5 2.7 5.4 2.7 5.2 2.6 5.1 2.7 5.1 2.7 4.9 2.6 4.8 2.7 4.8 2.7 4.6 2.7 4.5 2.6 4.5 2.7 4.3 2.7 4.3 2.6 4.2 2.7 4.1 2.7 4 2.6 3.9 2.7 3.9 2.7 3.8 2.6 3.7 2.7 3.7 2.7 3.6 2.6 3.5 2.7 3.5 2.7 3.4 2.7 3.3 2.6 3.3 2.7 3.3 2.7 3.2 2.6 3.1 2.7 3.1 2.7 3.1 2.6 3 2.7 3 2.7 2.9 2.6 3 2.7 2.8 2.7 2.9 2.6 2.8 2.7 2.8 2.7 2.8 2.7 2.7 2.6 2.7 2.7 2.7 2.7 2.7 2.6 2.6 2.7 2.6 2.7 2.6 2.6 2.5 2.7 2.5 2.7 2.5 2.6 2.5 2.7 2.5 2.7 2.4 2.6 2.4 2.7 2.4 2.7 2.4 2.7 2.3 2.6 2.4 2.7 2.3 2.7 2.3 2.6 2.3 2.7 2.2 2.7 2.3 2.6 2.2 2.7 2.2 2.7 2.2 2.6 2.2 2.7 2.1 2.7 2.2 2.6 2.1 2.7 2.2 2.7 2.1 2.7 2.1 2.6 2 2.7 2.1 2.7 2.1 2.6 2 2.7 2 2.7 2 2.6 2 2.7 2 2.7 2 2.6 1.9 2.7 2 2.7 1.9 2.6 1.9 2.7 1.9 2.7 1.9 2.7 1.8 2.6 1.9 2.7 1.8 2.7 1.9 2.6 1.8 2.7 1.8 2.7 1.8 2.6 1.7 2.7 1.8 2.7 1.7 2.6 1.8 2.7 1.7 2.7 1.7 2.6 1.7 2.7 1.7 2.7 1.6 2.7 1.7 2.6 1.6 2.7 1.7 2.7 1.6 2.6 1.6 2.7 1.6 2.7 1.6 2.6 1.5 2.7 1.6 2.7 1.5 2.6 1.5 2.7 1.6 2.7 1.5 2.6 1.4 2.7 1.5 2.7 1.5 2.7 1.4 2.6 1.5 2.7 1.4 2.7 1.4 2.6 1.4 2.7 1.4 2.7 1.4 2.6 1.4 2.7 1.4 2.7 1.3 2.6 1.3 2.7 1.4 2.7 1.3 2.6 1.3 2.7 1.3 2.7 1.3 2.7 1.2 2.6 1.3 2.7 1.2 2.7 1.3 2.6 1.2 2.7 1.2 2.7 1.2 2.6 1.2 2.7 1.2 2.7 1.1 2.6 1.2 2.7 1.1 2.7 1.2 2.6 1.1 2.7 1.1 2.7 1.1 2.7 1.1 2.6 1.1 2.7 1.1 2.7 1.1 2.6 1 2.7 1 2.7 1.1 2.6 1 2.7 1 2.7 1 2.6 1 2.7 1 2.7 1 2.6 0.9 2.7 1 2.7 0.9 2.7 1 2.6 0.9 2.7 0.9 2.7 0.9 2.6 0.9 2.7 0.9 2.7 0.9 2.6 0.9 2.7 0.8 2.7 0.9 2.6 0.8 2.7 0.9 2.7 0.8 2.6 0.8 2.7 0.8 2.7 0.8 2.7 0.8 2.6 0.8 2.7 0.7 2.7 0.8 2.6 0.8 2.7 0.7 2.7 0.7 2.6 0.8 2.7 0.7 2.7 0.7 2.6 0.7 2.7 0.7 2.7 0.7 2.6 0.7 2.7 0.7 2.7 0.6 2.7 0.7 2.6 0.6 2.7 0.7 2.7 0.6 2.6 0.6 2.7 0.6 2.7 0.7 2.6 0.6 2.7 0.6 2.7 0.5 2.6 0.6 2.7 0.6 2.7 0.6 2.6 0.5 2.7 0.6 2.7 0.5 2.7 0.6 2.6 0.5 2.7 0.5 2.7 0.5 2.6 0.5 2.7 0.5 2.7 0.5 2.6 0.5 2.7 0.5 2.7 0.5 2.6 0.5 2.7 0.4 2.7 0.5 2.6 0.4 2.7 0.5 2.7 0.4 2.7 0.4 2.6 0.5 2.7 0.4 2.7 0.4 2.6 0.4 2.7 0.4 2.7 0.4 2.6 0.4 2.7 0.4 2.7 0.4 2.6 0.3 2.7 0.4 2.7 0.4 2.6 0.3 2.7 0.4 2.7 0.3 2.7 0.4 2.6 0.3 2.7 0.3 2.7 0.3 2.6 0.4 2.7 0.3 2.7 0.3 2.6 0.3 2.7 0.3 2.7 0.3 2.6 0.2 2.7 0.3 2.7 0.3 2.6 0.3 2.7 0.2 2.7 0.3 2.7 0.3 2.6 0.2 2.7 0.3 2.7 0.2 2.6 0.2 2.7 0.3 2.7 0.2 2.6 0.2 2.7 0.3 2.7 0.2 2.6 0.2 2.7 0.2 2.7 0.2 2.6 0.2 2.7 0.2 2.7 0.2 2.7 0.2 2.6 0.2 2.7 0.1 2.7 0.2 2.6 0.2 2.7 0.1 2.7 0.2 2.6 0.2 2.7 0.1 2.7 0.2 2.6 0.1 2.7 0.2 2.7 0.1 2.6 0.2 2.7 0.1 2.7 0.1 2.7 0.2 2.6 0.1 2.7 0.1 2.7 0.1 2.6 0.1 2.7 0.2 2.7 0.1 2.6 0.1 2.7 0.1 2.7 0.1 2.6 0.1 2.7 0.1 2.7 0.1 2.6 0.1 2.7 0.1 2.7 0 2.7 0.1 2.6 0.1 2.7 0.1 2.7 0.1 2.6 0 2.7 0.1 2.7 0.1 2.6 0 2.7 0.1 2.7 0.1 2.6 0 2.7 0.1 2.7 0.1 2.6 0 2.7 0.1 2.7 0 2.7 0.1 2.6 0 2.7 0.1 2.7 0 2.6 0 2.7 0.1 2.7 0 2.6 0.1 2.7 0 2.7 0 2.6 0.1 2.7 0 2.7 0 2.6 0.1 2.7 0 2.7 0 2.7 0.1 2.6 0 2.7 0 2.7 0 2.6 0.1 2.7 0 2.7 0 2.6 0 2.7 0 2.7 0.1 2.6 0 2.7 0 2.7 0 2.6 0 2.7 0.1 2.7 0 2.7 0 2.6 0 2.7 0 2.7 0 2.6 0.1 2.7 0 2.7 0 2.6 0 2.7 0 2.7 0 2.6 0.1 2.7 0 2.7 0 2.6 0 2.7 0 2.7 0 2.7 0.1 2.6 0 2.7 0 2.7 0 2.6 0 2.7 0.1 2.7 0 2.6 0 2.7 0 2.7 0 2.6 0.1 2.7 0 2.7 0 2.6 0 2.7 0.1 2.7 0 2.7 0 2.6 0 2.7 0 2.7 0.1 2.6 0 2.7 0 2.7 0 2.6 0.1 2.7 0 2.7 0 2.6 0 2.7 0.1 2.7 0 2.6 0 2.7 0 2.7 0.1 2.7 0 2.6 0 2.7 0 2.7 0.1 2.6 0 2.7 0 2.7 0.1 2.6 0 2.7 0 2.7 0 2.6 0.1 2.7 0 2.7 0 2.6 0.1 2.7 0 2.7 0 2.7 0 2.6 0.1 2.7 0 2.7 0 2.6 0.1 2.7 0 2.7 0 2.6 0.1 2.7 0 2.7 0 2.6 0.1 2.7 0 2.7 0 2.6 0 2.7 0.1 2.7 0 2.7 0 2.6 0.1 2.7 0 2.7 0 2.6 0.1 2.7 0 2.7 0 2.6 0.1 2.7 0 2.7 0 2.6 0.1 2.7 0 2.7 0 2.6 0.1 2.7 0 2.7 0 2.7 0.1 2.6 0 2.7 0 2.7 0.1 2.6 0 2.7 0 2.7 0.1 2.6 0 2.7 0.1 2.7 0 2.6 0 2.7 0.1 2.7 0 2.6 0 2.7 0.1 2.7 0 2.7 0 2.6 0.1 2.7 0 2.7 0 2.6 0.1 2.7 0 2.7 0.1 2.6 0 2.7 0 2.7 0.1 2.6 0 2.7 0 2.7 0.1 2.6 0 2.7 0 2.7 0.1 2.7 0 2.6 0 2.7 0.1 2.7 0 2.6 0.1 2.7 0 2.7 0 2.6 0.1 2.7 0 2.7 0 2.6 0.1 2.7 0 2.7 0 2.6 0.1 2.7 0 2.7 0.1 2.7 0 2.6 0 2.7 0.1 2.7 0 2.6 0 2.7 0.1 2.7 0 2.6 0 2.7 0.1 2.7 0 2.6 0.1 2.7 0 2.7 0 2.6 0.1 2.7 0 2.7 0 2.7 0.1 2.6 0 2.7 0 2.7 0.1 2.6 0 2.7 0 2.7 0.1 2.6 0 2.7 0.1 2.7 0 2.6 0 2.7 0.1 2.7 0 2.6 0 2.7 0.1 2.7 0 2.7 0 2.6 0.1 2.7 0 2.7 0 2.6 0.1 2.7 0 2.7 0 2.6 0.1 2.7 0 2.7 0 2.6 0.1 2.7 0 2.7 0 2.6 0.1 2.7 0 2.7 0 2.7 0.1 2.6 0 2.7 0 2.7 0.1 2.6 0 2.7 0 2.7 0.1 2.6 0 2.7 0 2.7 0.1 2.6 0 2.7 0 2.7 0.1 2.6 0 2.7 0 2.7 0 2.7 0.1 2.6 0 2.7 0 2.7 0.1 2.6 0 2.7 0 2.7 0.1 2.6 0 2.7 0 2.7 0 2.6 0.1 2.7 0 2.7 0 2.6 0.1 2.7 0 2.7 0 2.7 0 2.6 0.1 2.7 0 2.7 0 2.6 0 2.7 0.1 2.7 0 2.6 0 2.7 0.1 2.7 0 2.6 0 2.7 0 2.7 0.1 2.6 0 2.7 0 2.7 0 2.7 0.1 2.6 0 2.7 0 2.7 0 2.6 0 2.7 0.1 2.7 0 2.6 0 2.7 0 2.7 0.1 2.6 0 2.7 0 2.7 0 2.6 0 2.7 0.1 2.7 0 2.7 0 2.6 0 2.7 0 2.7 0.1 2.6 0 2.7 0 2.7 0 2.6 0 2.7 0 2.7 0.1 2.6 0 2.7 0 2.7 0 2.6 0 2.7 0 2.7 0.1 2.7 0 2.6 0 2.7 0 2.7 0 2.6 0 2.7 0 2.7 0.1 2.6 0 2.7 0 2.7 0 2.6 0 2.7 0 2.7 0 2.6 0 2.7 0 2.7 0.1 2.7 0 2.6 0 2.7 0 2.7 0 2.6 0 2.7 0 2.7 0 2.6 0 2.7 0 2.7 0 2.6 0 2.7 0 2.7 0.1 2.6 0 2.7 0 2.7 0 2.7 0 2.6 0 2.7 0 2.7 0 2.6 0 2.7 0 2.7 0 2.6 0 2.7 0 2.7 0 2.6 0 2.7 0 2.7 0 2.6 0 2.7 0 2.7 0 2.7 0 2.6 0 2.7 0 2.7 0 2.6 0 2.7-0.1 2.7 0 2.6 0 2.7 0 2.7 0 2.6 0 2.7 0 2.7 0 2.6 0 2.7 0 2.7 0 2.7 0 2.6-0.1 2.7 0 2.7 0 2.6 0 2.7 0 2.7 0 2.6 0 2.7 0 2.7-0.1 2.6 0 2.7 0 2.7 0 2.6 0 2.7 0 2.7-0.1 2.7 0 2.6 0 2.7 0 2.7 0 2.6-0.1 2.7 0 2.7 0 2.6 0 2.7 0 2.7-0.1 2.6 0 2.7 0 2.7 0 2.6-0.1 2.7 0 2.7 0 2.7 0 2.6-0.1 2.7 0 2.7 0 2.6-0.1 2.7 0 2.7 0 2.6-0.1 2.7 0 2.7 0 2.6 0 2.7-0.1 2.7 0 2.6 0 2.7-0.1 2.7 0 2.7-0.1 2.6 0 2.7 0 2.7-0.1 2.6 0 2.7 0 2.7-0.1 2.6 0 2.7-0.1 2.7 0 2.6 0 2.7-0.1 2.7 0 2.6-0.1 2.7 0 2.7-0.1 2.7 0 2.6-0.1 2.7 0 2.7-0.1 2.6 0 2.7-0.1" fill="none" stroke="#00f" stroke-width="9.8" stroke-linejoin="round"/>
<path d="M100 953.2l2.7-1 2.6-1 2.7-1.2 2.7-1.4 2.6-1.6 2.7-1.7 2.7-1.9 2.6-2.2 2.7-2.3 2.7-2.5 2.7-2.7 2.6-2.8 2.7-3 2.7-3.2 2.6-3.2 2.7-3.4 2.7-3.4 2.6-3.4 2.7-3.3 2.7-3.3 2.6-3.2 2.7-3 2.7-2.9 2.6-2.5 2.7-2.3 2.7-1.9 2.7-1.6 2.6-1.2 2.7-0.7 2.7-0.4 2.6 0.1 2.7 0.5 2.7 1 2.6 1.3 2.7 1.7 2.7 2.1 2.6 2.4 2.7 2.6 2.7 2.9 2.6 3.1 2.7 3.3 2.7 3.3 2.7 3.4 2.6 3.4 2.7 3.4 2.7 3.3 2.6 3.2 2.7 3.1 2.7 3 2.6 2.7 2.7 2.7 2.7 2.4 2.6 2.2 2.7 2 2.7 1.9 2.6 1.7 2.7 1.4 2.7 1.4 2.7 1.1 2.6 1" fill="none" stroke="#000" stroke-width="10" stroke-linejoin="round"/>
<path d="M260.1 957l2.7-0.1 2.7-0.2 2.6-0.1 2.7-0.2 2.7-0.2 2.6-0.2 2.7-0.2 2.7-0.3 2.6-0.3 2.7-0.3 2.7-0.4 2.7-0.4 2.6-0.4 2.7-0.5 2.7-0.5 2.6-0.6 2.7-0.6 2.7-0.7 2.6-0.7 2.7-0.8 2.7-0.9 2.6-0.9 2.7-1 2.7-1.1 2.6-1.1 2.7-1.3 2.7-1.3 2.7-1.4 2.6-1.5 2.7-1.7 2.7-1.7 2.6-1.8 2.7-2 2.7-2 2.6-2.2 2.7-2.3 2.7-2.4 2.6-2.5 2.7-2.7 2.7-2.8 2.6-2.9 2.7-3 2.7-3.2 2.7-3.3 2.6-3.4 2.7-3.5 2.7-3.6 2.6-3.7 2.7-3.9 2.7-3.9 2.6-4.1 2.7-4.1 2.7-4.2 2.6-4.2 2.7-4.4 2.7-4.3 2.6-4.5 2.7-4.4 2.7-4.5 2.7-4.4 2.6-4.5 2.7-4.4 2.7-4.4 2.6-4.3 2.7-4.3 2.7-4.1 2.6-4.1 2.7-4 2.7-3.9 2.6-3.7 2.7-3.5 2.7-3.4 2.6-3.3 2.7-3 2.7-2.8 2.7-2.6 2.6-2.4 2.7-2.1 2.7-1.9 2.6-1.6 2.7-1.4 2.7-1.1 2.6-0.8 2.7-0.6 2.7-0.3 2.6 0 2.7 0.3 2.7 0.6 2.6 0.8 2.7 1.1 2.7 1.4 2.7 1.6 2.6 1.9 2.7 2.1 2.7 2.4 2.6 2.6 2.7 2.8 2.7 3 2.6 3.3 2.7 3.4 2.7 3.5 2.6 3.7 2.7 3.9 2.7 4 2.6 4.1 2.7 4.1 2.7 4.3 2.7 4.3 2.6 4.4 2.7 4.4 2.7 4.5 2.6 4.4 2.7 4.5 2.7 4.4 2.6 4.5 2.7 4.3 2.7 4.4 2.6 4.2 2.7 4.2 2.7 4.1 2.6 4.1 2.7 3.9 2.7 3.9 2.7 3.7 2.6 3.6 2.7 3.5 2.7 3.4 2.6 3.3 2.7 3.2 2.7 3 2.6 2.9 2.7 2.8 2.7 2.7 2.6 2.5 2.7 2.4 2.7 2.3 2.6 2.2 2.7 2 2.7 2 2.7 1.8 2.6 1.7 2.7 1.7 2.7 1.5 2.6 1.4 2.7 1.3 2.7 1.3 2.6 1.1 2.7 1.1 2.7 1 2.6 0.9 2.7 0.9 2.7 0.8 2.6 0.7 2.7 0.7 2.7 0.6 2.7 0.6 2.6 0.5 2.7 0.5 2.7 0.4 2.6 0.4" fill="none" stroke="#000" stroke-width="10" stroke-linejoin="round"/>
<path d="M793.9 950.3l2.6 0 2.7 0 2.7 0 2.7 0 2.6 0 2.7 0 2.7 0 2.6-0.1 2.7 0 2.7 0 2.6 0 2.7 0 2.7 0 2.6-0.1 2.7 0 2.7 0 2.6 0 2.7-0.1 2.7 0 2.7 0 2.6 0 2.7 0 2.7-0.1 2.6 0 2.7 0 2.7-0.1 2.6 0 2.7 0 2.7-0.1 2.6-0.1 2.7 0 2.7-0.1 2.6-0.1 2.7-0.1 2.7-0.1 2.7-0.1 2.6-0.1 2.7-0.5 2.7-1.2 2.6-1.6 2.7-1.9 2.7-2.2 2.6-2.1 2.7-2 2.7-2.2 2.6-2.3 2.7-2.5 2.7-2.7 2.6-2.7 2.7-2.9 2.7-2.9 2.7-3 2.6-3 2.7-3.2 2.7-3.4 2.6-3.6 2.7-3.7 2.7-3.8 2.6-3.8 2.7-3.7 2.7-3.6 2.6-3.5 2.7-3.3 2.7-3.4 2.6-3.5 2.7-3.4 2.7-3.3 2.7-2.8 2.6-2.5 2.7-1.8 2.7-1.5 2.6-1.4 2.7-1.3 2.7-1 2.6-0.6 2.7-0.2 2.7 0.3 2.6 0.5 2.7 0.8 2.7 1 2.6 1.1 2.7 1.1 2.7 1.2 2.7 1.4 2.6 1.7 2.7 2 2.7 2.2 2.6 2.3 2.7 2.4 2.7 2.4 2.6 2.4 2.7 2.2 2.7 2 2.6 1.9 2.7 1.8 2.7 1.9 2.6 1.8 2.7 1.8 2.7 1.8 2.7 1.8 2.6 1.6 2.7 1.7 2.7 1.6 2.6 1.5 2.7 1.5 2.7 1.3 2.6 1.3 2.7 1.3 2.7 1.3 2.6 1.2 2.7 1.1 2.7 1.2 2.6 1.1 2.7 1 2.7 1 2.7 1 2.6 1 2.7 0.8 2.7 0.9 2.6 0.8 2.7 0.8 2.7 0.7 2.6 0.8 2.7 0.7 2.7 0.7 2.6 0.7 2.7 0.7 2.7 0.6 2.6 0.6 2.7 0.6 2.7 0.6 2.7 0.6 2.6 0.5 2.7 0.5 2.7 0.5 2.6 0.5 2.7 0.4 2.7 0.4 2.6 0.4 2.7 0.3 2.7 0.4 2.6 0.3 2.7 0.4 2.7 0.3 2.6 0.3 2.7 0.3 2.7 0.3 2.7 0.2 2.6 0.3 2.7 0.3 2.7 0.2 2.6 0.3 2.7 0.2 2.7 0.3 2.6 0.2 2.7 0.2 2.7 0.2 2.6 0.3 2.7 0.2 2.7 0.2 2.6 0.2 2.7 0.2 2.7 0.2 2.7 0.2 2.6 0.2 2.7 0.2 2.7 0.2 2.6 0.2 2.7 0.1 2.7 0.2 2.6 0.2 2.7 0.1 2.7 0.2 2.6 0.2 2.7 0.1 2.7 0.2 2.6 0.1 2.7 0.2 2.7 0.2 2.7 0.1 2.6 0.2 2.7 0.2 2.7 0.1 2.6 0.2 2.7 0.2 2.7 0.2 2.6 0.2 2.7 0.1 2.7 0.2 2.6 0.2 2.7 0.2 2.7 0.2 2.6 0.2 2.7 0.2 2.7 0.2 2.7 0.2 2.6 0.1 2.7 0.2 2.7 0.2 2.6 0.2 2.7 0.2 2.7 0.2 2.6 0.2 2.7 0.1 2.7 0.2 2.6 0.2 2.7 0.2 2.7 0.2 2.6 0.1 2.7 0.2 2.7 0.2 2.7 0.1 2.6 0.2 2.7 0.2 2.7 0.1 2.6 0.2 2.7 0.2 2.7 0.1 2.6 0.2 2.7 0.2 2.7 0.1 2.6 0.2 2.7 0.1 2.7 0.2 2.6 0.1 2.7 0.2 2.7 0.2 2.7 0.1 2.6 0.2 2.7 0.1 2.7 0.2 2.6 0.1 2.7 0.2 2.7 0.1 2.6 0.2 2.7 0.1 2.7 0.1 2.6 0.2 2.7 0.1 2.7 0.2" fill="none" stroke="#000" stroke-width="10" stroke-linejoin="round"/>
<path d="M1701.2 958.6l2.7 0 2.7 0 2.7 0 2.6 0 2.7 0 2.7 0 2.6-0.1 2.7 0 2.7 0 2.6 0 2.7 0 2.7 0 2.6-0.1 2.7 0 2.7 0 2.6 0 2.7 0 2.7-0.1 2.7 0 2.6 0 2.7 0 2.7 0 2.6-0.1 2.7 0 2.7 0 2.6 0 2.7-0.1 2.7 0 2.6 0 2.7-0.1 2.7 0 2.6 0 2.7-0.1 2.7 0 2.7-0.1 2.6 0 2.7-0.1 2.7 0 2.6-0.1 2.7 0 2.7-0.1 2.6-0.1 2.7 0 2.7-0.1 2.6-0.1 2.7-0.1 2.7-0.1 2.6-0.1 2.7-0.1 2.7-0.2 2.7-0.2 2.6-0.3 2.7-0.3 2.7-0.4 2.6-0.3 2.7-0.4 2.7-0.4 2.6-0.4 2.7-0.5 2.7-0.4 2.6-0.5 2.7-0.5 2.7-0.6 2.6-0.7 2.7-0.7 2.7-0.7 2.7-0.8 2.6-0.7 2.7-0.8 2.7-0.8 2.6-0.7 2.7-0.7 2.7-0.7 2.6-0.6 2.7-0.5 2.7-0.5 2.6-0.5 2.7-0.6 2.7-0.5 2.6-0.6 2.7-0.5 2.7-0.6 2.7-0.5 2.6-0.4 2.7-0.5 2.7-0.4 2.6-0.3 2.7-0.3 2.7-0.2 2.6-0.2 2.7-0.1 2.7 0 2.6 0 2.7 0.1 2.7 0.1 2.6 0.1 2.7 0.2 2.7 0.2 2.7 0.2 2.6 0.2 2.7 0.2 2.7 0.2 2.6 0.2 2.7 0.3 2.7 0.2 2.6 0.2 2.7 0.3 2.7 0.3 2.6 0.4 2.7 0.3 2.7 0.4 2.6 0.4 2.7 0.4 2.7 0.5 2.7 0.4 2.6 0.4 2.7 0.4 2.7 0.4 2.6 0.3 2.7 0.4 2.7 0.3 2.6 0.4 2.7 0.3 2.7 0.3 2.6 0.3 2.7 0.4 2.7 0.3 2.6 0.3 2.7 0.3 2.7 0.3" fill="none" stroke="#000" stroke-width="10" stroke-linejoin="round"/>
<path d="M99.7 747.4 H2235" stroke="#D95319" stroke-width="4.2" stroke-dasharray="34 19.35"/></g>
<path d="M487 438V560.4" stroke="#000" stroke-width="3.8"/>
<path d="M487 398L506.4 457.8L486.5 442L468 452.7Z" fill="#000" stroke="#000" stroke-width="1.5" stroke-linejoin="round"/>
<path d="M487 600.4L506.7 546.6L487.5 557.8L467 540.9Z" fill="#000" stroke="#000" stroke-width="1.5" stroke-linejoin="round"/>
<path d="M487.5 638.4V718.9" stroke="#000" stroke-width="3.8"/>
<path d="M487.5 598.4L506.9 658.2L487 642.4L468.5 653.1Z" fill="#000" stroke="#000" stroke-width="1.5" stroke-linejoin="round"/>
<path d="M487.5 758.9L507.2 705.1L488 716.3L467.5 699.4Z" fill="#000" stroke="#000" stroke-width="1.5" stroke-linejoin="round"/>
<g font-family="'Liberation Sans', Arial, sans-serif"><text transform="translate(99.20 1027.80) scale(1 1.015)" font-size="53.4" fill="#262626" stroke="#262626" stroke-width="0.60" text-anchor="middle">10</text>
<text transform="translate(366.07 1027.80) scale(1 1.015)" font-size="53.4" fill="#262626" stroke="#262626" stroke-width="0.60" text-anchor="middle">20</text>
<text transform="translate(632.95 1027.80) scale(1 1.015)" font-size="53.4" fill="#262626" stroke="#262626" stroke-width="0.60" text-anchor="middle">30</text>
<text transform="translate(899.83 1027.80) scale(1 1.015)" font-size="53.4" fill="#262626" stroke="#262626" stroke-width="0.60" text-anchor="middle">40</text>
<text transform="translate(1166.70 1027.80) scale(1 1.015)" font-size="53.4" fill="#262626" stroke="#262626" stroke-width="0.60" text-anchor="middle">50</text>
<text transform="translate(1433.58 1027.80) scale(1 1.015)" font-size="53.4" fill="#262626" stroke="#262626" stroke-width="0.60" text-anchor="middle">60</text>
<text transform="translate(1700.45 1027.80) scale(1 1.015)" font-size="53.4" fill="#262626" stroke="#262626" stroke-width="0.60" text-anchor="middle">70</text>
<text transform="translate(1967.33 1027.80) scale(1 1.015)" font-size="53.4" fill="#262626" stroke="#262626" stroke-width="0.60" text-anchor="middle">80</text>
<text transform="translate(2234.20 1027.80) scale(1 1.015)" font-size="53.4" fill="#262626" stroke="#262626" stroke-width="0.60" text-anchor="middle">90</text>
<text transform="translate(60.7 831.50) rotate(-90) scale(1 1.01)" font-size="63.7" fill="#262626" stroke="#262626" stroke-width="0.60">X-Ray Intensity (arb. u.)</text></g>
<g transform="translate(0 0.00)"><text transform="translate(1088.94 1104.50) scale(1.0236 1.0000)" font-family="'Liberation Sans', sans-serif" font-size="63.29" fill="#262626" stroke="#262626" stroke-width="0.59" text-anchor="start">2</text><text transform="translate(1127.23 1107.86) scale(0.9796 1.0000)" font-family="'Liberation Serif', serif" font-style="italic" font-size="63.94" fill="#262626" stroke="#262626" stroke-width="0.61" text-anchor="start">θ</text><text transform="translate(1174.05 1104.58) scale(1.0000 1.0000)" font-family="'Liberation Sans', sans-serif" font-size="62.02" fill="#262626" stroke="#262626" stroke-width="0.60" text-anchor="start">(</text><text transform="translate(1196.77 1101.32) scale(1.0000 1.0000)" font-family="'Liberation Sans', sans-serif" font-size="58.79" fill="#262626" stroke="#262626" stroke-width="0.60" text-anchor="start">°</text><text transform="translate(1223.68 1104.58) scale(1.0000 1.0000)" font-family="'Liberation Sans', sans-serif" font-size="62.02" fill="#262626" stroke="#262626" stroke-width="0.60" text-anchor="start">)</text></g>
<g><rect x="100" y="1227.9" width="2135" height="934.1" fill="none" stroke="#262626" stroke-width="4.4"/>
<path d="M366.9 2162V2138.5M366.9 1227.9V1251.4M633.8 2162V2138.5M633.8 1227.9V1251.4M900.6 2162V2138.5M900.6 1227.9V1251.4M1167.5 2162V2138.5M1167.5 1227.9V1251.4M1434.4 2162V2138.5M1434.4 1227.9V1251.4M1701.2 2162V2138.5M1701.2 1227.9V1251.4M1968.1 2162V2138.5M1968.1 1227.9V1251.4" stroke="#262626" stroke-width="3.8"/></g>
<g><path d="M100 1228l4.5 0 0 1 0.5 0 0-1 3.5 0 0 10 1 0 0-6 1.5 0 0 3 0.5 0 0-0.5 1.5 0 0 12 0.5 0 0-1 0.5 0 0-1 1.5 0 0 2 0.5 0 0 9.5 0.5 0 0-14.5 1.5 0 0 14 0.5 0 0 3.5 0.5 0 0-9.5 1.5 0 0 18 1 0 0-7 1.5 0 0 15 0.5 0 0-8 1.5 0 0 5.5 0.5 0 0-5 1.5 0 0 3 0.5 0 0 9 0.5 0 0-1 1 0 0-14 1.5 0 0 8.5 1.5 0 0 7.5 1 0 0 15.5 0.5 0 0-0.5 1 0 0-7 1 0 0-7 1.5 0 0 14 1.5 0 0-4.5 1.5 0 0 0.5 0.5 0 0-0.5 1.5 0 0 13.5 0.5 0 0-22.5 2 0 0 34.5 0.5 0 0-5 0.5 0 0-25.5 1.5 0 0 5.5 1 0 0 5 1 0 0 10.5 0.5 0 0 14 1 0 0-1 0.5 0 0-6 0.5 0 0-13.5 1.5 0 0 22.5 1.5 0 0 5 0.5 0 0-10.5 1 0 0-1 1.5 0 0 3 0.5 0 0 1.5 0.5 0 0-1.5 1.5 0 0 13.5 0.5 0 0-13 1 0 0-6.5 1.5 0 0 13.5 0.5 0 0-4 1.5 0 0 9.5 0.5 0 0 3.5 1.5 0 0 4 0.5 0 0 1 0.5 0 0-0.5 0.5 0 0-1 1 0 0-1 1.5 0 0 9.5 0.5 0 0-3.5 1.5 0 0 4 0.5 0 0 8.5 0.5 0 0-11 1.5 0 0 4 0.5 0 0 1.5 0.5 0 0 3.5 0.5 0 0-9.5 1 0 0-5.5 1.5 0 0 1.5 0.5 0 0 16.5 1.5 0 0 1.5 1.5 0 0 5 0.5 0 0-0.5 1.5 0 0 12 0.5 0 0-16 1 0 0-2.5 1.5 0 0 1.5 0.5 0 0 11 0.5 0 0 6.5 0.5 0 0-7 1.5 0 0 9 0.5 0 0 2 0.5 0 0 4 0.5 0 0 9.5 0.5 0 0-7 1.5 0 0 3 0.5 0 0 2.5 0.5 0 0-5 1.5 0 0 6.5 0.5 0 0-7 1.5 0 0 5.5 0.5 0 0 7 0.5 0 0-4.5 0.5 0 0-2 1.5 0 0 6 1 0 0-0.5 1.5 0 0 0.5 0.5 0 0 7.5 0.5 0 0 1 0.5 0 0 3.5 0.5 0 0-6.5 1.5 0 0 10 0.5 0 0-13.5 1.5 0 0 24 1.5 0 0 13 0.5 0 0 4 0.5 0 0-12.5 0.5 0 0-5.5 1.5 0 0 5.5 0.5 0 0 1.5 0.5 0 0 11 1 0 0-6 1.5 0 0-0.5 0.5 0 0-2.5 1.5 0 0 10.5 0.5 0 0 2.5 1 0 0 0.5 0.5 0 0-5.5 1.5 0 0 2 0.5 0 0 8 0.5 0 0 4 1 0 0 4.5 1.5 0 0 7 0.5 0 0 4 0.5 0 0-8 0.5 0 0-3.5 1.5 0 0 4.5 1 0 0-8 1.5 0 0 19.5 1 0 0-3 0.5 0 0-17 1.5 0 0 8 1 0 0 19 1 0 0 3.5 2 0 0-4.5 1.5 0 0 6 1.5 0 0 12 1.5 0 0 5.5 0.5 0 0-5 1.5 0 0 6 1 0 0 1 1.5 0 0 1 1 0 0-14 0.5 0 0-5 1.5 0 0 22.5 1 0 0-3.5 1.5 0 0 3 0.5 0 0 4 0.5 0 0-3 1.5 0 0 2 0.5 0 0 8 0.5 0 0-15 1.5 0 0 12.5 1 0 0 4 0.5 0 0-9 1.5 0 0 11.5 0.5 0 0 4.5 0.5 0 0 0.5 0.5 0 0-9.5 1.5 0 0 12.5 1.5 0 0 0.5 0.5 0 0 0.5 1 0 0 8.5 0.5 0 0-14 1.5 0 0 9 1.5 0 0 7.5 0.5 0 0-4 0.5 0 0-13 1.5 0 0 7 0.5 0 0 2.5 0.5 0 0 0.5 0.5 0 0-0.5 1.5 0 0 4.5 0.5 0 0-1.5 1.5 0 0-11 1.5 0 0 16 1 0 0 2.5 1 0 0 6 0.5 0 0 0.5 0.5 0 0-3 1.5 0 0 1 0.5 0 0 5 0.5 0 0 2.5 1 0 0-0.5 0.5 0 0-2.5 0.5 0 0-4 1.5 0 0 3.5 1.5 0 0-14 1.5 0 0 24.5 1 0 0-1 1.5 0 0 0.5 0.5 0 0-3.5 1.5 0 0 5 1 0 0-6.5 1.5 0 0 7.5 0.5 0 0 8 1 0 0-2 1.5 0 0 2.5 0.5 0 0-5 1 0 0-0.5 0.5 0 0-5 1.5 0 0 8 0.5 0 0 0.5 0.5 0 0 1.5 0.5 0 0-2 1 0 0-6.5 1.5 0 0 7.5 0.5 0 0-1 0.5 0 0-4 0.5 0 0-1 1.5 0 0 1.5 0.5 0 0 6 0.5 0 0 1.5 1 0 0 4.5 0.5 0 0-13.5 1.5 0 0 5.5 0.5 0 0 5 0.5 0 0-5 1.5 0 0 2.5 1 0 0 2 1 0 0-2 0.5 0 0-5.5 1.5 0 0 6 0.5 0 0 9.5 0.5 0 0-9.5 0.5 0 0-0.5 1.5 0 0 1 0.5 0 0 2.5 0.5 0 0 11 0.5 0 0-6.5 1.5 0 0-2 1 0 0-9 1.5 0 0 8 0.5 0 0-1.5 1 0 0-3 0.5 0 0-2 1.5 0 0 8.5 0.5 0 0-13 1.5 0 0 10 0.5 0 0 1 1 0 0 6.5 0.5 0 0-1 0.5 0 0-7 1 0 0-12.5 1.5 0 0 15.5 1.5 0 0 1.5 0.5 0 0-7 1.5 0 0 1 0.5 0 0 5.5 0.5 0 0 1 0.5 0 0 3 1.5 0 0 3.5 0.5 0 0 1.5 0.5 0 0-6.5 1.5 0 0-6 0.5 0 0-0.5 1.5 0 0 14.5 0.5 0 0-12.5 1 0 0-10.5 1.5 0 0 4 1.5 0 0 7.5 0.5 0 0 6.5 1.5 0 0 4.5 0.5 0 0-11 1.5 0 0 1 0.5 0 0-1 1 0 0-12.5 1.5 0 0 20.5 1.5 0 0-4.5 0.5 0 0-0.5 0.5 0 0-2 1.5 0 0 10.5 0.5 0 0-2 1 0 0-21.5 1.5 0 0 1.5 0.5 0 0 16.5 1.5 0 0-5.5 1.5 0 0 2 1.5 0 0 3.5 0.5 0 0-5 1.5 0 0 0.5 1.5 0 0-5 1.5 0 0 3.5 0.5 0 0 8.5 0.5 0 0 1.5 1 0 0 2 0.5 0 0-9 0.5 0 0-8.5 1.5 0 0 3.5 0.5 0 0 1 0.5 0 0 9.5 1 0 0 3 1.5 0 0-14 1.5 0 0 1 0.5 0 0 4 0.5 0 0-13.5 1.5 0 0 16.5 1 0 0 0.5 0.5 0 0-14.5 2 0 0 10 1.5 0 0-14 1.5 0 0 15.5 1.5 0 0 7 1 0 0-6 1 0 0-0.5 0.5 0 0-9.5 1.5 0 0 7.5 0.5 0 0 1.5 0.5 0 0 1.5 0.5 0 0-1.5 1.5 0 0-5 1.5 0 0 1 1 0 0 0.5 1.5 0 0 2.5 0.5 0 0-7 0.5 0 0-2.5 1.5 0 0 13 0.5 0 0-2.5 1.5 0 0 2 1.5 0 0 5.5 0.5 0 0-2 0.5 0 0-1 0.5 0 0-6.5 0.5 0 0-9 1.5 0 0 13.5 0.5 0 0-12.5 1.5 0 0 8.5 1.5 0 0-7 1.5 0 0 9 0.5 0 0-2.5 1.5 0 0 7 0.5 0 0-7 1 0 0-1.5 1.5 0 0 1 0.5 0 0 15 1 0 0-9 3 0 0 7.5 1 0 0-3.5 0.5 0 0-12 1.5 0 0 8 0.5 0 0 7.5 1 0 0-15.5 1.5 0 0 19.5 0.5 0 0-9.5 0.5 0 0-4 1.5 0 0 2.5 0.5 0 0 2.5 1.5 0 0-1 1.5 0 0-3.5 1.5 0 0 13.5 0.5 0 0-2 0.5 0 0-1.5 1.5 0 0-10.5 1 0 0-6 1.5 0 0 19.5 0.5 0 0 1 1 0 0 6 0.5 0 0-0.5 0.5 0 0-2 1.5 0 0 6 1.5 0 0-2.5 0.5 0 0-1 1.5 0 0 2 1 0 0-7 1.5 0 0 13 0.5 0 0-0.5 1.5 0 0-2 1.5 0 0 6.5 0.5 0 0-8 1.5 0 0 1.5 1.5 0 0-1 1 0 0-4.5 2 0 0 6.5 1 0 0 7.5 1.5 0 0 1 1.5 0 0 3 0.5 0 0-4.5 1 0 0-11 1.5 0 0 7.5 0.5 0 0 14.5 1.5 0 0 0.5 0.5 0 0 0.5 0.5 0 0-1.5 1.5 0 0-4 1.5 0 0 5 1 0 0 4 2 0 0 1 1 0 0 5 0.5 0 0-1 1.5 0 0 6 0.5 0 0-11.5 1.5 0 0 0.5 0.5 0 0 8.5 1 0 0 9.5 1.5 0 0-4 1.5 0 0 3 1.5 0 0 3 1 0 0-3 1.5 0 0 3 1 0 0 1.5 1 0 0 4 1.5 0 0 6 1 0 0 0.5 0.5 0 0-0.5 1.5 0 0 3 1 0 0 4 1 0 0 1 1 0 0-5.5 1.5 0 0 1 0.5 0 0 10.5 0.5 0 0-6 1.5 0 0 12.5 0.5 0 0-6.5 1.5 0 0 7 1 0 0-10 1.5 0 0 5.5 0.5 0 0 1.5 0.5 0 0 5 1 0 0 2.5 0.5 0 0-8 1.5 0 0 13 0.5 0 0-2.5 1.5 0 0 2 0.5 0 0-0.5 1.5 0 0 3 0.5 0 0-6 0.5 0 0-2 1.5 0 0 15 0.5 0 0 5 0.5 0 0 0.5 1.5 0 0 2.5 0.5 0 0-6.5 1.5 0 0-0.5 1.5 0 0 17 0.5 0 0-19.5 1.5 0 0 13 1 0 0-9.5 1.5 0 0 22 0.5 0 0-1 1.5 0 0 8.5 0.5 0 0-2 0.5 0 0-19 1.5 0 0 3.5 0.5 0 0 6.5 1 0 0 7.5 0.5 0 0-1.5 1.5 0 0 4 1 0 0 10 0.5 0 0-3 1.5 0 0-7.5 1.5 0 0 5.5 1.5 0 0 4 0.5 0 0 4.5 2.5 0 0 4 0.5 0 0 2.5 0.5 0 0-6.5 1 0 0-6.5 1.5 0 0 18.5 0.5 0 0-6 1.5 0 0 6.5 0.5 0 0 1 1 0 0 4 0.5 0 0-6 1.5 0 0 7.5 0.5 0 0-0.5 0.5 0 0-1 1.5 0 0 2.5 0.5 0 0 1.5 1 0 0 1 0.5 0 0-0.5 1.5 0 0 0.5 1 0 0 9 0.5 0 0-7 0.5 0 0-1.5 1.5 0 0 12.5 0.5 0 0 1.5 1 0 0 7.5 0.5 0 0-3.5 1.5 0 0 2 0.5 0 0-4.5 0.5 0 0-9.5 1.5 0 0 5.5 0.5 0 0 3 0.5 0 0-1.5 1.5 0 0 10.5 3 0 0 6.5 1 0 0 0.5 0.5 0 0-3 0.5 0 0-3 1.5 0 0 8.5 0.5 0 0-1 1.5 0 0-8.5 1.5 0 0 9 1 0 0 5 1 0 0 5 0.5 0 0-0.5 0.5 0 0-9 1.5 0 0 10 1 0 0 1.5 1 0 0 1 0.5 0 0 2.5 0.5 0 0 4 1 0 0-9 0.5 0 0-2 1.5 0 0 6 1 0 0 3 0.5 0 0-3.5 1.5 0 0 1 1 0 0 6.5 1 0 0 2.5 1 0 0-7 1.5 0 0-4.5 1.5 0 0 13 0.5 0 0 1 1 0 0 1 1 0 0 7 0.5 0 0-2 1.5 0 0-2.5 1.5 0 0 1.5 0.5 0 0 1.5 0.5 0 0 5.5 0.5 0 0-7 1 0 0-0.5 1.5 0 0 4 1 0 0 4 1 0 0-1.5 2.5 0 0 2.5 0.5 0 0-0.5 1.5 0 0 0.5 0.5 0 0 2 1 0 0 0.5 0.5 0 0 2.5 0.5 0 0 0.5 1.5 0 0 2 0.5 0 0-13.5 1.5 0 0 1.5 1.5 0 0 12.5 0.5 0 0-0.5 1.5 0 0 3.5 0.5 0 0-4 1.5 0 0-2 1.5 0 0 7 1.5 0 0-1.5 1.5 0 0 3 1.5 0 0 4.5 0.5 0 0 2 0.5 0 0-4 2 0 0 6.5 0.5 0 0-2 1.5 0 0 6 0.5 0 0-2 1.5 0 0-4 2 0 0-10 1.5 0 0 11.5 1 0 0 2 0.5 0 0-5 1.5 0 0 2.5 1.5 0 0 2 0.5 0 0-4 1.5 0 0 4.5 1 0 0 1.5 0.5 0 0 6.5 0.5 0 0 2 0.5 0 0-3 0.5 0 0-5 1.5 0 0 5.5 0.5 0 0-0.5 1 0 0-1 2 0 0 1 0.5 0 0 3 1 0 0-14 1.5 0 0 3.5 1.5 0 0 13.5 0.5 0 0 1.5 0.5 0 0-5 0.5 0 0-0.5 0.5 0 0-0.5 1.5 0 0 2 0.5 0 0 0.5 2.5 0 0 2.5 0.5 0 0 0.5 0.5 0 0-3.5 0.5 0 0-4 1.5 0 0 6.5 2 0 0 3.5 1.5 0 0-6 1.5 0 0 5.5 0.5 0 0 3.5 0.5 0 0-6 2 0 0 2.5 0.5 0 0-0.5 2 0 0 5 0.5 0 0-7 1.5 0 0-0.5 1.5 0 0 11 0.5 0 0 0.5 0.5 0 0 0.5 0.5 0 0-5.5 0.5 0 0-4.5 1.5 0 0 6 0.5 0 0 2 1 0 0 3.5 0.5 0 0 0.5 0.5 0 0-11.5 1.5 0 0 2.5 1.5 0 0 4 1.5 0 0 1.5 0.5 0 0-2 1.5 0 0 3.5 1 0 0-7.5 1.5 0 0 3 0.5 0 0 6 1.5 0 0 3 2 0 0-3.5 0.5 0 0-1.5 2 0 0 3 1.5 0 0-0.5 1 0 0-6 1.5 0 0 13 0.5 0 0-5 1 0 0-1 1 0 0-4.5 1.5 0 0 5.5 0.5 0 0 3 0.5 0 0-7.5 1.5 0 0 4 0.5 0 0-3.5 1.5 0 0 9.5 0.5 0 0-0.5 1 0 0-2 1 0 0-2 1.5 0 0 1.5 0.5 0 0 1 0.5 0 0-7.5 0.5 0 0-0.5 1.5 0 0 10 0.5 0 0-2.5 0.5 0 0-2 1.5 0 0 3 2 0 0 5.5 0.5 0 0-9 1.5 0 0 6 1 0 0 0.5 0.5 0 0-5.5 1.5 0 0 10.5 0.5 0 0-1 1.5 0 0-1.5 0.5 0 0-8 0.5 0 0-2 1.5 0 0 9.5 1 0 0-4 0.5 0 0-3 1.5 0 0 1.5 0.5 0 0 2.5 1.5 0 0 1 0.5 0 0 2 0.5 0 0 6.5 0.5 0 0 3.5 0.5 0 0-6.5 1.5 0 0 1 0.5 0 0-2.5 1.5 0 0 1 0.5 0 0 1 0.5 0 0-2 1.5 0 0 1.5 0.5 0 0-2 2.5 0 0 1.5 1.5 0 0 5.5 1 0 0-0.5 1.5 0 0 3.5 0.5 0 0-1 0.5 0 0-3 1.5 0 0 1 0.5 0 0-5 1.5 0 0 5.5 0.5 0 0-5.5 1.5 0 0 7.5 1 0 0 0.5 1 0 0-2 0.5 0 0-5 1.5 0 0 5 0.5 0 0-1 0.5 0 0-1.5 1.5 0 0 1.5 0.5 0 0-1.5 0.5 0 0-1.5 0.5 0 0-6 1.5 0 0 10 1 0 0-0.5 1 0 0-1 1.5 0 0 1 0.5 0 0 1.5 0.5 0 0 4 1 0 0 3 0.5 0 0-3 0.5 0 0-3.5 1.5 0 0 1.5 1 0 0-3 1.5 0 0 0.5 0.5 0 0 0.5 0.5 0 0 0.5 0.5 0 0 0.5 0.5 0 0 5 1.5 0 0-12.5 1.5 0 0 3.5 0.5 0 0-1 1 0 0-1 1.5 0 0 7.5 0.5 0 0-3 2.5 0 0-2 0.5 0 0-0.5 1.5 0 0 1.5 2 0 0 0.5 0.5 0 0 9.5 0.5 0 0-11 1.5 0 0 8 0.5 0 0-1 1.5 0 0-0.5 0.5 0 0-9 1.5 0 0 4.5 2 0 0 1.5 1.5 0 0 3 0.5 0 0-3 1 0 0-5 0.5 0 0-1 1.5 0 0 12 1 0 0 4.5 0.5 0 0-2 1 0 0-5.5 1.5 0 0 0.5 1.5 0 0 2.5 1 0 0-4.5 1.5 0 0-7 1.5 0 0 12 1 0 0-3 1 0 0-0.5 1.5 0 0-0.5 1.5 0 0 3.5 0.5 0 0 1 0.5 0 0 3.5 0.5 0 0-3 1.5 0 0 6.5 1 0 0-5 1 0 0-1 1 0 0-10 1.5 0 0 13.5 0.5 0 0-1.5 1 0 0-5 1.5 0 0 3.5 1.5 0 0-1.5 0.5 0 0-2 0.5 0 0-4 1.5 0 0 8.5 0.5 0 0-9 1.5 0 0 9 1.5 0 0 0.5 1 0 0-8.5 2 0 0 0.5 1.5 0 0 1.5 1.5 0 0 4 0.5 0 0 0.5 0.5 0 0 2 1.5 0 0-3 1 0 0-1.5 1.5 0 0 2.5 1.5 0 0 1.5 1 0 0-8 1.5 0 0 7.5 0.5 0 0 1 1 0 0-6.5 1.5 0 0 3 0.5 0 0 4 0.5 0 0-1.5 0.5 0 0-1.5 0.5 0 0-10 1.5 0 0 6.5 0.5 0 0-1 1.5 0 0 4 0.5 0 0-1.5 1 0 0-0.5 1.5 0 0-4 1.5 0 0 1.5 1 0 0-6 1.5 0 0-1.5 1.5 0 0 6 1 0 0 2 0.5 0 0-1 1 0 0-1 1 0 0-0.5 1.5 0 0 6.5 1 0 0-1.5 0.5 0 0-1 0.5 0 0-4 1.5 0 0 4.5 1 0 0-2 1.5 0 0-3 1.5 0 0-0.5 1.5 0 0 1.5 1.5 0 0 2 0.5 0 0-3 1.5 0 0-4.5 0.5 0 0-8.5 1.5 0 0 14.5 1 0 0-5 0.5 0 0-1 1.5 0 0 0.5 0.5 0 0 1.5 1 0 0-3 1.5 0 0 4 0.5 0 0-1.5 1 0 0-14.5 1.5 0 0 10 1 0 0-1 1.5 0 0 2.5 1 0 0-3 0.5 0 0-1 0.5 0 0-1.5 1.5 0 0 1 1 0 0 4 1 0 0-6 0.5 0 0-1.5 1 0 0-2 1.5 0 0 1.5 1.5 0 0-0.5 1 0 0-9.5 1.5 0 0 1.5 0.5 0 0 1.5 0.5 0 0 4 1 0 0-4.5 1.5 0 0 5.5 0.5 0 0-3.5 1.5 0 0 5 0.5 0 0-1.5 0.5 0 0-12.5 1.5 0 0 3 1 0 0 7 0.5 0 0 3 0.5 0 0-6.5 1.5 0 0 0.5 1.5 0 0-2 1.5 0 0 2.5 0.5 0 0-2 1.5 0 0 4.5 0.5 0 0-10.5 1.5 0 0 5 1.5 0 0-3 0.5 0 0-0.5 1.5 0 0 1 0.5 0 0-4.5 1.5 0 0 3.5 1 0 0-8.5 1.5 0 0 0.5 0.5 0 0 5 0.5 0 0-9 1.5 0 0 0.5 1.5 0 0 1 1 0 0 5.5 1.5 0 0 0.5 0.5 0 0 3.5 1 0 0-6.5 0.5 0 0-1 1.5 0 0 1 0.5 0 0-5 1.5 0 0 5 1 0 0 1.5 0.5 0 0-3.5 0.5 0 0-1.5 1.5 0 0 5.5 0.5 0 0-9 1 0 0-3 1.5 0 0 4 2 0 0 2 0.5 0 0-4 1.5 0 0 1 1.5 0 0 0.5 0.5 0 0 2 1 0 0 7 0.5 0 0-0.5 0.5 0 0-3.5 0.5 0 0-2 1.5 0 0 2.5 0.5 0 0-1 0.5 0 0-1 1 0 0-7 1.5 0 0 7.5 1.5 0 0 1.5 1.5 0 0 1.5 0.5 0 0 2 1 0 0-2 0.5 0 0-4.5 0.5 0 0-5 1.5 0 0 5 1 0 0 5 0.5 0 0-2 1.5 0 0 1.5 0.5 0 0-2 0.5 0 0-1 0.5 0 0-1.5 1 0 0-0.5 1.5 0 0 5.5 1 0 0-4 1.5 0 0 6 0.5 0 0 0.5 0.5 0 0-2 2 0 0-9 1.5 0 0 7.5 0.5 0 0 2 1.5 0 0-2 1.5 0 0 4.5 0.5 0 0-5 1.5 0 0 2 0.5 0 0-2.5 1.5 0 0 8 1.5 0 0 0.5 0.5 0 0-1 0.5 0 0-8 1.5 0 0 9.5 1.5 0 0-0.5 1.5 0 0 1 0.5 0 0-2 1 0 0-4.5 2 0 0 2 0.5 0 0-1.5 1.5 0 0 9.5 0.5 0 0-4 1.5 0 0 4.5 0.5 0 0-3 0.5 0 0-3.5 1.5 0 0 1 0.5 0 0 4.5 1 0 0 2 0.5 0 0-7 1.5 0 0 6 1 0 0-3.5 1 0 0-0.5 1.5 0 0 4.5 0.5 0 0-3.5 1.5 0 0 1.5 1 0 0 2 1.5 0 0 2 0.5 0 0-8.5 1.5 0 0 9 0.5 0 0 2.5 0.5 0 0 0.5 0.5 0 0-0.5 1.5 0 0 2 1 0 0-1.5 1.5 0 0-0.5 1.5 0 0 5 0.5 0 0-0.5 1.5 0 0-1.5 1.5 0 0 1.5 1 0 0 1 0.5 0 0-3.5 1.5 0 0 1 0.5 0 0 1 0.5 0 0 2.5 0.5 0 0 0.5 0.5 0 0-4 1.5 0 0 0.5 0.5 0 0 0.5 0.5 0 0 3 1 0 0 1 0.5 0 0-4.5 1.5 0 0-1 1.5 0 0 5 1.5 0 0 2.5 2.5 0 0 1.5 1 0 0 1.5 1.5 0 0 0.5 1 0 0-0.5 1 0 0-1.5 1.5 0 0 2 1 0 0 3.5 0.5 0 0-7 1.5 0 0 10 1 0 0-10.5 1.5 0 0 6.5 1.5 0 0 2.5 0.5 0 0 1 0.5 0 0 1.5 1.5 0 0-5.5 1 0 0-1.5 1.5 0 0 9.5 0.5 0 0-1 1.5 0 0-6 1.5 0 0 5 1 0 0 1.5 0.5 0 0 1 0.5 0 0-2 0.5 0 0-2 1.5 0 0 1 0.5 0 0-4.5 1.5 0 0 8 1 0 0 1.5 1 0 0-6 1.5 0 0 4.5 0.5 0 0 0.5 0.5 0 0-7.5 1.5 0 0 4.5 0.5 0 0-1 1.5 0 0 5 1.5 0 0-2.5 2.5 0 0 1 0.5 0 0-5 1.5 0 0 6 0.5 0 0-2.5 1.5 0 0 4.5 1 0 0-2 1.5 0 0 4.5 0.5 0 0-0.5 0.5 0 0-1 0.5 0 0-1 1.5 0 0 2.5 1 0 0-1 1.5 0 0 1.5 0.5 0 0 2 0.5 0 0-5 1.5 0 0-5.5 1.5 0 0 6.5 0.5 0 0 5 0.5 0 0-2.5 1.5 0 0 0.5 0.5 0 0 1.5 0.5 0 0-3 1.5 0 0 3 1 0 0-2.5 0.5 0 0-2.5 1.5 0 0 4 0.5 0 0 1.5 1.5 0 0-0.5 1.5 0 0 3 0.5 0 0 1 0.5 0 0-0.5 0.5 0 0-0.5 0.5 0 0-3.5 1.5 0 0 3 1 0 0 1 0.5 0 0-1.5 1 0 0-1.5 1 0 0-1.5 1.5 0 0 0.5 0.5 0 0-3.5 1.5 0 0 1 1 0 0 4.5 1.5 0 0 4 0.5 0 0-1 1.5 0 0 2.5 1 0 0-4.5 1.5 0 0 4.5 1 0 0-0.5 0.5 0 0-0.5 0.5 0 0-5 1.5 0 0 1.5 0.5 0 0 3 0.5 0 0 4 0.5 0 0-3 0.5 0 0-2 0.5 0 0-1 1 0 0-2.5 1.5 0 0 2 0.5 0 0 2.5 1.5 0 0 4.5 0.5 0 0-2 1.5 0 0 0.5 0.5 0 0-1 1.5 0 0 1 1 0 0-1.5 0.5 0 0-3 1 0 0-3 1.5 0 0 2 1.5 0 0 7.5 0.5 0 0 0.5 0.5 0 0-1 1.5 0 0-5.5 1 0 0-3 0.5 0 0-2 1.5 0 0 8 0.5 0 0 4.5 0.5 0 0-3.5 1.5 0 0-2 1.5 0 0 4.5 0.5 0 0-2.5 1.5 0 0 4.5 0.5 0 0-3 0.5 0 0-5 1.5 0 0 8.5 0.5 0 0 1 0.5 0 0-11.5 1.5 0 0 2 1 0 0 4 0.5 0 0-0.5 1 0 0-0.5 3 0 0 2 0.5 0 0-2.5 1.5 0 0 4.5 1 0 0-4 1.5 0 0 3 0.5 0 0 3 0.5 0 0-0.5 0.5 0 0-3.5 1 0 0-2.5 1.5 0 0 5 0.5 0 0 2.5 0.5 0 0-5.5 0.5 0 0-6.5 1.5 0 0 5.5 0.5 0 0 0.5 2 0 0 1 0.5 0 0 0.5 0.5 0 0-2.5 1.5 0 0 4.5 1 0 0 1.5 1.5 0 0 1 0.5 0 0-1.5 0.5 0 0-2 1 0 0-5 1 0 0-0.5 1.5 0 0 5 0.5 0 0-2.5 1.5 0 0 2 1 0 0 6.5 0.5 0 0-1 1 0 0-0.5 1.5 0 0 1 1 0 0-1.5 1.5 0 0-5.5 1.5 0 0 3 0.5 0 0 2.5 1.5 0 0 0.5 0.5 0 0-5.5 1.5 0 0 1 1.5 0 0 8 0.5 0 0-3.5 0.5 0 0-2 0.5 0 0-1.5 0.5 0 0-0.5 1 0 0-2.5 1.5 0 0 3 0.5 0 0 1.5 1 0 0-1 1.5 0 0 1.5 1.5 0 0 2 0.5 0 0 2.5 1 0 0-7 1.5 0 0 1.5 1.5 0 0 2 0.5 0 0 0.5 0.5 0 0-5 1.5 0 0 4 0.5 0 0-2.5 1.5 0 0 2.5 0.5 0 0 0.5 1 0 0 2 0.5 0 0-2 1.5 0 0 2.5 0.5 0 0 1.5 0.5 0 0-0.5 0.5 0 0-2 0.5 0 0-3.5 0.5 0 0-1.5 1 0 0-1 1.5 0 0 1 0.5 0 0 5 1 0 0-1 2.5 0 0-3.5 1.5 0 0 6.5 1 0 0-6 1.5 0 0 1 0.5 0 0 5.5 1 0 0 1.5 0.5 0 0-4.5 1.5 0 0 1 1 0 0 1.5 1 0 0 2 0.5 0 0 0.5 0.5 0 0-7 1.5 0 0 1 1 0 0-0.5 0.5 0 0-1 1.5 0 0 6.5 0.5 0 0-3.5 1.5 0 0 1 1.5 0 0 1 0.5 0 0 1 0.5 0 0-8.5 1.5 0 0 7.5 0.5 0 0-1 1 0 0-4 1.5 0 0 5.5 1.5 0 0 3.5 0.5 0 0-6 3 0 0 5 0.5 0 0-3.5 1 0 0-7 1.5 0 0 11 1.5 0 0-4.5 1.5 0 0-1.5 1.5 0 0 5.5 1 0 0-2 0.5 0 0-4 1.5 0 0 3.5 0.5 0 0-2 1.5 0 0 5 1 0 0 3.5 0.5 0 0 1.5 0.5 0 0-4.5 1 0 0-3 3 0 0-2.5 1.5 0 0 0.5 1.5 0 0 5.5 1 0 0-6 1.5 0 0 2 1 0 0 4 1 0 0-2 1.5 0 0 0.5 0.5 0 0 1 0.5 0 0-1 1.5 0 0-1.5 1.5 0 0-0.5 1.5 0 0 1 0.5 0 0 2 0.5 0 0 4.5 0.5 0 0 1 0.5 0 0-4 2.5 0 0-0.5 1.5 0 0 3.5 1 0 0-2 0.5 0 0-4.5 2 0 0 3 1.5 0 0-2.5 1.5 0 0 5 0.5 0 0-2 0.5 0 0-1 1 0 0-6.5 1.5 0 0 6.5 0.5 0 0-1.5 1.5 0 0 2.5 0.5 0 0 1 0.5 0 0-3 2 0 0 0.5 0.5 0 0 1.5 0.5 0 0-0.5 0.5 0 0-7.5 1.5 0 0 2.5 0.5 0 0 1.5 1.5 0 0 6 0.5 0 0-0.5 1.5 0 0-4 0.5 0 0-0.5 1.5 0 0 2.5 0.5 0 0-0.5 1.5 0 0 3.5 1.5 0 0-4.5 1.5 0 0 2.5 0.5 0 0-2 1.5 0 0-1 1.5 0 0-2 1.5 0 0 4 0.5 0 0 1.5 0.5 0 0 1.5 1 0 0 0.5 0.5 0 0-7.5 1.5 0 0 3.5 0.5 0 0 3.5 0.5 0 0-1.5 0.5 0 0-1.5 1.5 0 0 1 0.5 0 0-0.5 1.5 0 0 3.5 0.5 0 0 0.5 0.5 0 0-1 0.5 0 0-2 1.5 0 0 4.5 0.5 0 0-1 0.5 0 0-3.5 1.5 0 0 1 1 0 0-1 0.5 0 0-0.5 2 0 0-1 1.5 0 0 4 0.5 0 0-5 1.5 0 0 1.5 1 0 0 4.5 1 0 0 2 0.5 0 0-1.5 1 0 0-5.5 1.5 0 0 2 0.5 0 0-1 1.5 0 0 2 0.5 0 0-1.5 1.5 0 0 2.5 1.5 0 0-0.5 1.5 0 0 2 0.5 0 0-2.5 0.5 0 0-1 1.5 0 0 1.5 2 0 0-7 1.5 0 0 0.5 0.5 0 0 8 0.5 0 0 1 0.5 0 0 1.5 0.5 0 0-1 1.5 0 0 1 0.5 0 0-3 1.5 0 0 1.5 0.5 0 0 1 0.5 0 0-1 0.5 0 0-5 1.5 0 0 2.5 0.5 0 0 1 0.5 0 0 1 0.5 0 0-2 1.5 0 0 0.5 2 0 0 1 0.5 0 0-0.5 1.5 0 0 1.5 0.5 0 0 2.5 0.5 0 0-6 1.5 0 0 1.5 1 0 0 2 0.5 0 0 3 0.5 0 0-9 1.5 0 0 1 1.5 0 0 6 1 0 0-1.5 0.5 0 0-0.5 0.5 0 0-0.5 1 0 0-2.5 1.5 0 0 6.5 1 0 0-5 0.5 0 0-1.5 1 0 0-3 1.5 0 0 2.5 0.5 0 0 6 0.5 0 0-1 0.5 0 0-2 1 0 0-1 0.5 0 0-0.5 1.5 0 0-1.5 2.5 0 0 9.5 0.5 0 0-1.5 0.5 0 0-1.5 1.5 0 0-7.5 1.5 0 0 0.5 0.5 0 0 6 1 0 0-2 1.5 0 0 0.5 1.5 0 0 4.5 0.5 0 0-9 1.5 0 0 3.5 0.5 0 0-2.5 0.5 0 0-5 1.5 0 0 2.5 1.5 0 0 7 0.5 0 0-1 0.5 0 0-1 1.5 0 0 0.5 0.5 0 0 2 0.5 0 0 0.5 0.5 0 0-2.5 2 0 0 2.5 0.5 0 0-5 1.5 0 0-2 1.5 0 0 7 1.5 0 0 0.5 0.5 0 0-5 1.5 0 0 5 0.5 0 0-1 0.5 0 0-2.5 1.5 0 0 1.5 1.5 0 0 1.5 1.5 0 0 2.5 0.5 0 0-3 1.5 0 0-0.5 1 0 0-2 1.5 0 0 2 1 0 0 1.5 0.5 0 0 0.5 1 0 0-0.5 1.5 0 0 0.5 0.5 0 0 0.5 3 0 0-2.5 1.5 0 0 2.5 0.5 0 0-3 1.5 0 0 1 0.5 0 0 0.5 0.5 0 0 1.5 1 0 0 1 0.5 0 0-1 2.5 0 0-2.5 0.5 0 0-0.5 0.5 0 0-0.5 0.5 0 0-2 1.5 0 0 1.5 1.5 0 0 1.5 0.5 0 0 4 0.5 0 0-4.5 1.5 0 0-1.5 1.5 0 0 4.5 1.5 0 0 1 0.5 0 0-2.5 0.5 0 0-2 1.5 0 0-2.5 1.5 0 0 4.5 0.5 0 0-2.5 1.5 0 0 1.5 0.5 0 0 1 1 0 0-0.5 1.5 0 0 1.5 1.5 0 0 1.5 1 0 0-7 1.5 0 0 1 1 0 0 4.5 1 0 0-6.5 1.5 0 0 5 1 0 0-0.5 1.5 0 0 0.5 0.5 0 0 0.5 0.5 0 0-1 1.5 0 0 0.5 1.5 0 0 1 0.5 0 0 1.5 0.5 0 0-0.5 2 0 0 1.5 0.5 0 0-2.5 1.5 0 0 1.5 0.5 0 0-3.5 2 0 0-0.5 1.5 0 0-1.5 1.5 0 0 6 0.5 0 0-4 1 0 0-1.5 1.5 0 0 2 0.5 0 0 2 0.5 0 0 0.5 0.5 0 0-0.5 1 0 0-2 1.5 0 0 2 0.5 0 0-2 1 0 0-0.5 1.5 0 0 0.5 1.5 0 0 1 0.5 0 0-1 1.5 0 0-0.5 1.5 0 0 4 0.5 0 0-2.5 1 0 0-0.5 0.5 0 0-2 1.5 0 0 4.5 1 0 0 1 0.5 0 0-1.5 1.5 0 0-1.5 0.5 0 0-2 1.5 0 0 0.5 0.5 0 0-1 1.5 0 0 3.5 0.5 0 0 0.5 0.5 0 0-1 1.5 0 0-2.5 1.5 0 0 2.5 0.5 0 0-0.5 1.5 0 0-1 1.5 0 0 1 1 0 0-4.5 2 0 0 7 1 0 0 0.5 0.5 0 0-0.5 0.5 0 0-0.5 1 0 0-3 1.5 0 0 5 0.5 0 0-1.5 0.5 0 0-1 0.5 0 0-1.5 1.5 0 0 4 0.5 0 0-4.5 0.5 0 0-0.5 1.5 0 0 4.5 1.5 0 0 1 0.5 0 0-4 1.5 0 0-1.5 1.5 0 0 0.5 1.5 0 0 3.5 0.5 0 0 2 0.5 0 0-2 1.5 0 0 0.5 0.5 0 0-1 1.5 0 0-1.5 3 0 0 1 0.5 0 0-1.5 1.5 0 0 1.5 1.5 0 0 1 1 0 0 1 0.5 0 0-5.5 1.5 0 0 1.5 0.5 0 0 2.5 2 0 0 1 1 0 0-1.5 1.5 0 0-4 1.5 0 0 5 2 0 0 0.5 0.5 0 0-5.5 1.5 0 0 7 0.5 0 0-0.5 1 0 0-4 1.5 0 0 2 0.5 0 0-0.5 1.5 0 0 3 0.5 0 0-2 0.5 0 0-2 1 0 0-1 1.5 0 0 6 1 0 0-4 0.5 0 0-1 1.5 0 0 3 1 0 0-1 1 0 0-1.5 1.5 0 0-1 1.5 0 0 3 0.5 0 0 3 0.5 0 0-4 0.5 0 0-5.5 1.5 0 0 1 0.5 0 0 3 0.5 0 0 3.5 0.5 0 0-0.5 1.5 0 0-4 1.5 0 0-3.5 1.5 0 0 1 0.5 0 0 6.5 1 0 0 0.5 1.5 0 0-2.5 1.5 0 0 1 1 0 0-4 1.5 0 0 2.5 1.5 0 0 2.5 0.5 0 0-5.5 1.5 0 0 1 1 0 0 4.5 0.5 0 0 0.5 0.5 0 0-2.5 2 0 0 1 0.5 0 0 3.5 1.5 0 0-2 0.5 0 0-4 0.5 0 0-1.5 1.5 0 0 0.5 0.5 0 0 1 1 0 0 2 0.5 0 0 2.5 1 0 0-1.5 1 0 0-1.5 1.5 0 0 1 0.5 0 0-0.5 0.5 0 0-3 1.5 0 0-1 1.5 0 0 2.5 0.5 0 0 3 1 0 0 0.5 0.5 0 0 0.5 1.5 0 0-3 1.5 0 0 2 0.5 0 0-2.5 1.5 0 0 1.5 1 0 0 1.5 1 0 0-5 1.5 0 0 6 0.5 0 0-1 1 0 0-2 1.5 0 0 1 1.5 0 0 4 0.5 0 0-3.5 1.5 0 0-1 2.5 0 0 4.5 0.5 0 0-1.5 1.5 0 0 2.5 0.5 0 0-0.5 0.5 0 0-1.5 0.5 0 0-0.5 1.5 0 0 2.5 0.5 0 0-0.5 0.5 0 0-1 1 0 0-8.5 1.5 0 0 6.5 0.5 0 0-2.5 1.5 0 0 5 1 0 0-4 1.5 0 0-1 1.5 0 0 3 1.5 0 0-4 1.5 0 0 2 0.5 0 0-5 1.5 0 0 4.5 1 0 0 2 0.5 0 0-0.5 0.5 0 0-1 1.5 0 0 2.5 0.5 0 0 1 0.5 0 0 1.5 0.5 0 0-2.5 1 0 0-2 0.5 0 0-3 0.5 0 0-1.5 1.5 0 0 5.5 0.5 0 0 1 0.5 0 0 0.5 0.5 0 0-4 1.5 0 0 4.5 1 0 0-5 1.5 0 0 3.5 0.5 0 0-2 0.5 0 0-2.5 1 0 0-2 1.5 0 0 3 1.5 0 0 5.5 0.5 0 0-0.5 0.5 0 0-0.5 1.5 0 0 0.5 0.5 0 0-4.5 1.5 0 0 1 0.5 0 0-1 1.5 0 0 0.5 0.5 0 0 3.5 1 0 0 2 0.5 0 0 1 0.5 0 0-2.5 2 0 0 0.5 1 0 0-0.5 0.5 0 0-3.5 1.5 0 0 3 0.5 0 0-2.5 0.5 0 0-2 2 0 0 4.5 0.5 0 0-1 1.5 0 0 1 0.5 0 0-1 1 0 0-1.5 1.5 0 0 5 0.5 0 0-3 1 0 0-2 1.5 0 0 1.5 0.5 0 0 1 0.5 0 0-3 1.5 0 0 1 0.5 0 0 2 0.5 0 0-5.5 1.5 0 0 3 1 0 0 0.5 1 0 0 1.5 1 0 0-3 1.5 0 0 0.5 1.5 0 0 3 0.5 0 0-4.5 1 0 0-1 1.5 0 0 4.5 0.5 0 0-3 1.5 0 0 1.5 0.5 0 0-0.5 1.5 0 0 0.5 1.5 0 0 2.5 1 0 0 0.5 1 0 0-0.5 2 0 0-0.5 1.5 0 0 0.5 0.5 0 0 2 0.5 0 0-1 1.5 0 0 1.5 0.5 0 0-6.5 1.5 0 0 3 1.5 0 0-4.5 1.5 0 0 3.5 0.5 0 0-1 1 0 0-2 1.5 0 0 4 1.5 0 0 1 0.5 0 0-3.5 2 0 0 1.5 1 0 0-1.5 1.5 0 0-1 2 0 0 4.5 0.5 0 0-1 1.5 0 0 3.5 0.5 0 0-13 1.5 0 0 2 0.5 0 0 3.5 1 0 0 5 0.5 0 0-3 1.5 0 0-1 0.5 0 0-0.5 1.5 0 0 2.5 0.5 0 0-2.5 0.5 0 0-3 1.5 0 0 7 1 0 0 1 1 0 0-4 1.5 0 0-4 1.5 0 0 1 0.5 0 0 2 0.5 0 0 3 0.5 0 0-1 1 0 0-0.5 0.5 0 0-5 1.5 0 0 5.5 0.5 0 0-1.5 1.5 0 0 1.5 0.5 0 0-0.5 1 0 0-2 1.5 0 0-0.5 0.5 0 0-4 1.5 0 0 2 1.5 0 0 0.5 0.5 0 0 4.5 0.5 0 0-3 1.5 0 0-0.5 0.5 0 0-2.5 1.5 0 0 1.5 0.5 0 0-2.5 2 0 0 5 1 0 0-3.5 1.5 0 0 5 1.5 0 0-2.5 1.5 0 0-0.5 1 0 0-2 0.5 0 0-0.5 1.5 0 0 1 1.5 0 0 0.5 1.5 0 0 2.5 0.5 0 0 1.5 0.5 0 0-1 0.5 0 0-2 1.5 0 0 1 1 0 0-1 1.5 0 0 2 0.5 0 0-1 1.5 0 0-3 2 0 0 4 0.5 0 0-1.5 0.5 0 0-1 2 0 0 2 0.5 0 0-0.5 0.5 0 0-5 1.5 0 0 3 1 0 0-3.5 1.5 0 0 3.5 0.5 0 0 1.5 1 0 0 1 0.5 0 0 1.5 0.5 0 0-2 0.5 0 0-0.5 0.5 0 0-1.5 0.5 0 0-2 1.5 0 0 5 0.5 0 0-4 1.5 0 0 2.5 1 0 0 3.5 0.5 0 0-1.5 0.5 0 0-4.5 1 0 0-2 2.5 0 0 0.5 0.5 0 0 4 0.5 0 0-2.5 0.5 0 0-2.5 1.5 0 0 4 0.5 0 0-5 1.5 0 0 1.5 1 0 0 1 0.5 0 0 0.5 0.5 0 0 0.5 1 0 0 1.5 1 0 0-0.5 0.5 0 0-1 0.5 0 0-3.5 1.5 0 0 3.5 0.5 0 0-2.5 1.5 0 0 5.5 0.5 0 0-1 0.5 0 0-0.5 0.5 0 0-2.5 1 0 0-0.5 1 0 0-1.5 1.5 0 0 2 0.5 0 0 1 1.5 0 0-0.5 1.5 0 0-1.5 0.5 0 0-0.5 1.5 0 0 2.5 1.5 0 0-3 2.5 0 0 2.5 0.5 0 0-5.5 1.5 0 0 0.5 1 0 0 0.5 0.5 0 0-1.5 1.5 0 0 3.5 0.5 0 0 2.5 0.5 0 0-4.5 1.5 0 0 3 0.5 0 0-0.5 1 0 0-3 1.5 0 0 0.5 0.5 0 0 4 2.5 0 0 1 1.5 0 0 0.5 0.5 0 0-4 0.5 0 0-2 1.5 0 0 2.5 0.5 0 0 0.5 0.5 0 0-1 0.5 0 0-0.5 0.5 0 0-1.5 1.5 0 0 5 0.5 0 0-2 2.5 0 0-3 1.5 0 0 1.5 0.5 0 0-1 3 0 0 2 1 0 0-0.5 0.5 0 0-2 1 0 0-3 1.5 0 0 4.5 0.5 0 0 1 0.5 0 0-4.5 1.5 0 0 2 0.5 0 0 2.5 0.5 0 0-4 1.5 0 0 0.5 0.5 0 0 1 3 0 0 1.5 0.5 0 0 0.5 1 0 0 0.5 0.5 0 0 0.5 1.5 0 0-2 1.5 0 0-1.5 1.5 0 0 2.5 1.5 0 0-1 1.5 0 0 0.5 0.5 0 0-0.5 1.5 0 0 0.5 1 0 0 1.5 0.5 0 0-4 1.5 0 0 2 2 0 0 1 0.5 0 0-0.5 1 0 0-1 1 0 0-0.5 1.5 0 0 1.5 0.5 0 0-1 1.5 0 0 3.5 2 0 0-1 0.5 0 0-0.5 0.5 0 0-0.5 0.5 0 0-4.5 1.5 0 0 9 0.5 0 0-2.5 0.5 0 0-4.5 1.5 0 0 2.5 1 0 0-2.5 1.5 0 0 1 0.5 0 0 2.5 2 0 0 2 0.5 0 0-1.5 0.5 0 0-7 1.5 0 0 2.5 0.5 0 0 3 0.5 0 0-1.5 1.5 0 0 2.5 1 0 0-1 1.5 0 0 1 1 0 0 1 2.5 0 0-1.5 1 0 0-1.5 1.5 0 0 4 0.5 0 0-1 1.5 0 0-1.5 1.5 0 0-0.5 3 0 0 1.5 0.5 0 0-4 1.5 0 0 3.5 0.5 0 0 1 2 0 0 0.5 1.5 0 0 0.5 1 0 0 0.5 1 0 0-4.5 1.5 0 0 3 1 0 0 3.5 0.5 0 0 0.5 0.5 0 0-6.5 1.5 0 0 4 0.5 0 0-1 1 0 0-4.5 1.5 0 0 7 1 0 0 1.5 0.5 0 0-4.5 1.5 0 0 2.5 0.5 0 0-1 1.5 0 0-2.5 1.5 0 0 4.5 1 0 0-0.5 1.5 0 0-1.5 1 0 0-1 1.5 0 0 3.5 2 0 0 0.5 1 0 0 0.5 1 0 0-2 1.5 0 0-1.5 0.5 0 0-0.5 1.5 0 0 2.5 1.5 0 0 1 0.5 0 0 0.5 0.5 0 0-5.5 1.5 0 0 2 0.5 0 0 2 0.5 0 0 2 0.5 0 0-2 1.5 0 0 1.5 1 0 0-1.5 2 0 0 1.5 1 0 0-1 1.5 0 0 3.5 0.5 0 0-0.5 0.5 0 0-2 0.5 0 0-2.5 1 0 0-6 1.5 0 0 6.5 0.5 0 0 0.5 0.5 0 0-4.5 1.5 0 0 6 1 0 0-0.5 0.5 0 0-1 1 0 0-2.5 1.5 0 0 2 0.5 0 0-1.5 1.5 0 0 1 1.5 0 0-0.5 1.5 0 0 4 0.5 0 0-4 1.5 0 0 2 0.5 0 0-1 1.5 0 0-2 1 0 0-1 1.5 0 0 3 0.5 0 0 2.5 2 0 0-5 1 0 0-1 1.5 0 0 4.5 0.5 0 0 1.5 0.5 0 0-0.5 1.5 0 0-3.5 1.5 0 0 2 1.5 0 0 3 1 0 0-2.5 1 0 0-3.5 1.5 0 0 2 0.5 0 0 1.5 0.5 0 0-5 1.5 0 0 6.5 0.5 0 0-2 1.5 0 0-0.5 1.5 0 0 0.5 2.5 0 0 0.5 1 0 0 5 1 0 0-6.5 0.5 0 0-1.5 2 0 0 1 0.5 0 0 4 1.5 0 0-3.5 1.5 0 0 4 1 0 0 3 0.5 0 0-1.5 0.5 0 0-1 1.5 0 0-2 1 0 0-2 1.5 0 0 2.5 1.5 0 0-3.5 1.5 0 0 3.5 0.5 0 0-0.5 1.5 0 0-2 1.5 0 0 2 1.5 0 0-3.5 1.5 0 0-1 1.5 0 0 5.5 1 0 0-1 2 0 0 3.5 1 0 0-2.5 2 0 0-2 1.5 0 0 1.5 0.5 0 0 0.5 0.5 0 0-5.5 1.5 0 0 4 0.5 0 0 0.5 1.5 0 0 0.5 1 0 0 1 1.5 0 0-6 1.5 0 0 2 0.5 0 0 0.5 0.5 0 0 2 1.5 0 0 1 0.5 0 0-0.5 0.5 0 0-0.5 1.5 0 0-1.5 0.5 0 0-3 1.5 0 0 5 1.5 0 0-6 1.5 0 0 2.5 0.5 0 0 6 0.5 0 0-7 1.5 0 0 7 0.5 0 0-3 1.5 0 0 2 0.5 0 0-1 1.5 0 0 2 0.5 0 0 1.5 1 0 0-5.5 1.5 0 0 3.5 2 0 0-1.5 0.5 0 0-1.5 3 0 0 3.5 0.5 0 0-2 1.5 0 0-1.5 1.5 0 0 1.5 2 0 0-1 1.5 0 0 2 0.5 0 0-1 1.5 0 0 0.5 1 0 0 0.5 0.5 0 0-1.5 0.5 0 0-2 2.5 0 0 2 1.5 0 0-0.5 1.5 0 0 2 1 0 0-0.5 1.5 0 0 0.5 0.5 0 0 3 1 0 0-3 2.5 0 0-3 1.5 0 0 1.5 1 0 0 2 1 0 0 1.5 0.5 0 0-10.5 1.5 0 0 8.5 1 0 0 1 1.5 0 0-0.5 2 0 0-3 1.5 0 0 1 0.5 0 0 2.5 1.5 0 0-3.5 1.5 0 0-5 1.5 0 0 2.5 0.5 0 0 4.5 0.5 0 0 1 0.5 0 0 1 0.5 0 0-3 1.5 0 0-0.5 1.5 0 0-1 1.5 0 0 1 0.5 0 0 1 1 0 0 0.5 1 0 0-0.5 1.5 0 0 4 0.5 0 0-4 0.5 0 0-2.5 1.5 0 0 2 0.5 0 0 1 0.5 0 0 2.5 0.5 0 0-0.5 1 0 0-3 1.5 0 0 10.5-1 0 0 2-0.5 0 0 4.5-1.5 0 0-2-1 0 0-1.5-0.5 0 0 3-1.5 0 0-1-1 0 0-1.5-1.5 0 0-3.5-0.5 0 0 2.5-0.5 0 0 1.5-1.5 0 0-1-2 0 0 3.5-1.5 0 0-3.5-1 0 0 1-1 0 0 2-2 0 0-0.5-1 0 0-0.5-0.5 0 0 1.5-0.5 0 0 0.5-1.5 0 0-1.5-1 0 0-1.5-0.5 0 0 1.5-2.5 0 0-1.5-1.5 0 0-0.5-0.5 0 0-1.5-1.5 0 0 2.5-1.5 0 0-1-1 0 0-1.5-0.5 0 0-0.5-1 0 0-0.5-1 0 0-1-1 0 0 5.5-0.5 0 0 1-1.5 0 0-3.5-1.5 0 0 0.5-0.5 0 0 0.5-1 0 0 5-1.5 0 0-3.5-0.5 0 0-3.5-2 0 0-0.5-0.5 0 0 5-1.5 0 0-4.5-1 0 0-2.5-0.5 0 0 6.5-1.5 0 0-1-0.5 0 0-2-0.5 0 0-1-0.5 0 0-0.5-1.5 0 0 0.5-0.5 0 0 2-1.5 0 0 1-1.5 0 0-1.5-0.5 0 0-1-0.5 0 0-5-0.5 0 0 6-1.5 0 0-2.5-0.5 0 0 2.5-1.5 0 0 1.5-0.5 0 0 4-1.5 0 0-7-0.5 0 0-0.5-0.5 0 0 3-1.5 0 0-0.5-1 0 0-3-0.5 0 0 0.5-2.5 0 0-0.5-0.5 0 0-0.5-0.5 0 0 1-1.5 0 0-1.5-1 0 0-2-0.5 0 0 5.5-1.5 0 0-1-1 0 0 0.5-1.5 0 0 0.5-1.5 0 0 1.5-1.5 0 0-3-0.5 0 0-2.5-0.5 0 0 1-0.5 0 0 6-1.5 0 0-1-1 0 0-4.5-0.5 0 0 3-1.5 0 0-2.5-1 0 0-0.5-0.5 0 0 1.5-1.5 0 0-3.5-0.5 0 0 3-1.5 0 0-1-3 0 0-0.5-0.5 0 0-1-0.5 0 0 1.5-0.5 0 0 2.5-1.5 0 0-4-0.5 0 0 5-1.5 0 0-3.5-1.5 0 0-2-0.5 0 0 0.5-0.5 0 0 1-1.5 0 0-1-1.5 0 0 3-1 0 0 3.5-1.5 0 0-3-1.5 0 0-5-1 0 0 5.5-1 0 0 2.5-1.5 0 0-4-0.5 0 0 2-1.5 0 0-3.5-0.5 0 0 1-0.5 0 0 0.5-1.5 0 0-3.5-1 0 0 0.5-0.5 0 0 2.5-1.5 0 0 3.5-2 0 0-5-0.5 0 0-1-0.5 0 0 0.5-1 0 0 2-1.5 0 0 3-1.5 0 0-6-0.5 0 0 4.5-1.5 0 0-2.5-1 0 0-1-0.5 0 0-1.5-0.5 0 0-0.5-0.5 0 0 5-1.5 0 0-2-1 0 0-1.5-1 0 0 0.5-0.5 0 0 3-1.5 0 0-2-1 0 0 4.5-1.5 0 0-0.5-1 0 0-0.5-0.5 0 0 0.5-1.5 0 0-4-0.5 0 0 0.5-1.5 0 0-2-0.5 0 0 6-1.5 0 0-3.5-0.5 0 0 2.5-1.5 0 0-0.5-1.5 0 0-5-0.5 0 0 2.5-0.5 0 0 2-1.5 0 0-5-0.5 0 0-1-0.5 0 0 5-1.5 0 0-1-2 0 0 0.5-1 0 0 1.5-1.5 0 0-4-0.5 0 0-0.5-1.5 0 0-1.5-0.5 0 0 0.5-1 0 0 1-0.5 0 0 3-2.5 0 0-0.5-1.5 0 0-3.5-1 0 0 1.5-0.5 0 0 3-1.5 0 0-2-0.5 0 0 0.5-1 0 0 1.5-1 0 0 1-1.5 0 0-1-1.5 0 0 1.5-1.5 0 0-2-0.5 0 0-1-1 0 0 1.5-1.5 0 0-2-0.5 0 0-1-1.5 0 0 2.5-1.5 0 0-2-0.5 0 0 1-0.5 0 0 1-1.5 0 0-3.5-0.5 0 0 5-1.5 0 0-1.5-0.5 0 0 1.5-1.5 0 0-5-2.5 0 0 2-1.5 0 0-0.5-0.5 0 0 3.5-1.5 0 0-1-0.5 0 0-3-1.5 0 0-2-0.5 0 0-1.5-0.5 0 0 2-1.5 0 0-1.5-1 0 0 2.5-1.5 0 0 2.5-1.5 0 0-5-1 0 0-2-0.5 0 0 1.5-1.5 0 0-1.5-1 0 0 2-1.5 0 0 1-1.5 0 0-1-0.5 0 0-0.5-0.5 0 0 0.5-0.5 0 0 3.5-1.5 0 0-4-0.5 0 0 1-0.5 0 0 1-1 0 0 2-1.5 0 0-0.5-1 0 0-3-0.5 0 0 1-1.5 0 0-3-0.5 0 0 2-4.5 0 0-1.5-1 0 0-1.5-0.5 0 0 3-1.5 0 0-0.5-0.5 0 0 2.5-1.5 0 0-3.5-0.5 0 0-1-0.5 0 0 1-0.5 0 0 3.5-1.5 0 0-4-0.5 0 0-0.5-1 0 0 2-1.5 0 0-0.5-1.5 0 0-0.5-1 0 0 3.5-1.5 0 0-3-0.5 0 0-1.5-1.5 0 0-0.5-0.5 0 0 1-0.5 0 0 1.5-0.5 0 0 0.5-0.5 0 0 0.5-1.5 0 0-1.5-1 0 0 5-1.5 0 0-0.5-0.5 0 0-3.5-0.5 0 0 5-1.5 0 0-6.5-1.5 0 0 0.5-1.5 0 0-1-1.5 0 0 4-1.5 0 0-5-1 0 0 2-3.5 0 0 5.5-1.5 0 0-3.5-0.5 0 0-1.5-0.5 0 0-0.5-1.5 0 0-1.5-0.5 0 0 1.5-1 0 0 2-1.5 0 0 0.5-1.5 0 0-1-1.5 0 0-3-1 0 0-0.5-1.5 0 0-2-1 0 0 0.5-0.5 0 0 0.5-0.5 0 0 2.5-1 0 0 2-1.5 0 0-4.5-0.5 0 0 5.5-1.5 0 0-4-1.5 0 0 2.5-1 0 0 1.5-1 0 0 1-1.5 0 0 1-1.5 0 0-4.5-1.5 0 0-1.5-1 0 0 0.5-1 0 0 6.5-1.5 0 0-3-1 0 0-1.5-0.5 0 0-3.5-0.5 0 0 5.5-1.5 0 0-2.5-0.5 0 0 3.5-1.5 0 0-3-0.5 0 0-2-0.5 0 0-0.5-1.5 0 0 1-0.5 0 0 1-1 0 0 1-1.5 0 0-1-0.5 0 0 2-1.5 0 0 0.5-0.5 0 0 0.5-1.5 0 0-2.5-0.5 0 0 2-1.5 0 0-1-0.5 0 0-1.5-0.5 0 0-1-1 0 0-1-0.5 0 0 3.5-1 0 0 2-1.5 0 0-1.5-0.5 0 0-1-0.5 0 0 0.5-0.5 0 0 1.5-0.5 0 0 0.5-1.5 0 0-3-1 0 0 4-0.5 0 0 2.5-1.5 0 0-5-1 0 0 0.5-0.5 0 0 1-1 0 0 0.5-1.5 0 0-2.5-0.5 0 0 0.5-0.5 0 0 1-1.5 0 0-2.5-0.5 0 0 5-1.5 0 0-5.5-0.5 0 0-1-1 0 0 4-1.5 0 0 0.5-1.5 0 0 1.5-0.5 0 0 1.5-1.5 0 0-7-1 0 0 3.5-1 0 0 1-1.5 0 0-0.5-1 0 0-2.5-0.5 0 0 7-1.5 0 0 1-1.5 0 0-2.5-0.5 0 0-6-0.5 0 0-0.5-0.5 0 0 5-1.5 0 0-0.5-0.5 0 0 0.5-0.5 0 0 1-2 0 0 1-1.5 0 0-1.5-1 0 0-1-0.5 0 0 0.5-1.5 0 0-1-1 0 0 4-1.5 0 0-5-0.5 0 0 0.5-1 0 0 2.5-1.5 0 0-1-1.5 0 0 1-1.5 0 0-1-1 0 0 6.5-1.5 0 0-8-0.5 0 0 0.5-0.5 0 0 1-3 0 0 3.5-1 0 0 1.5-1.5 0 0-6.5-0.5 0 0 8-1.5 0 0-0.5-0.5 0 0-6-0.5 0 0-2-0.5 0 0 1-1 0 0 0.5-0.5 0 0 2-0.5 0 0 1-0.5 0 0 4-1.5 0 0-1.5-0.5 0 0 1.5-1.5 0 0-6-2 0 0 2-1 0 0 0.5-1.5 0 0 4.5-1.5 0 0-7-1 0 0 4.5-1.5 0 0-2.5-1.5 0 0-2-1.5 0 0-1-1 0 0 4-0.5 0 0 0.5-1.5 0 0-3-0.5 0 0 1-2 0 0-1.5-1 0 0 0.5-0.5 0 0 1-1 0 0 5.5-1.5 0 0-6.5-1 0 0 1-1 0 0 1-0.5 0 0 1-1.5 0 0 4.5-1.5 0 0-7.5-1 0 0 0.5-1.5 0 0 6-1.5 0 0-4-0.5 0 0-0.5-0.5 0 0-2-0.5 0 0-0.5-0.5 0 0 3.5-1 0 0 0.5-1.5 0 0-4.5-0.5 0 0 2-2 0 0-2-0.5 0 0 0.5-1 0 0 1-0.5 0 0 0.5-0.5 0 0 2.5-0.5 0 0 4.5-1.5 0 0-3-1 0 0-2.5-0.5 0 0 0.5-2 0 0-0.5-0.5 0 0 6.5-1.5 0 0-4.5-2 0 0-2.5-2 0 0 4-1 0 0 2-1.5 0 0-4-0.5 0 0 0.5-1.5 0 0-5-0.5 0 0 2.5-1.5 0 0-0.5-0.5 0 0 0.5-0.5 0 0 1-1.5 0 0 3-2 0 0-1-1 0 0 0.5-1.5 0 0-2.5-0.5 0 0 2-2 0 0-0.5-1.5 0 0-0.5-1.5 0 0-1-1 0 0 3-1.5 0 0-3-0.5 0 0 7-1.5 0 0-8-1.5 0 0 0.5-1.5 0 0 0.5-0.5 0 0 1-1.5 0 0-3.5-0.5 0 0 7-1.5 0 0-3-1.5 0 0-4-0.5 0 0 5-1.5 0 0-1.5-0.5 0 0 1-2 0 0 1-1.5 0 0-1.5-1.5 0 0-0.5-0.5 0 0-1-2.5 0 0-2.5-1 0 0 0.5-0.5 0 0 2.5-1.5 0 0 2-0.5 0 0 0.5-1.5 0 0-1-0.5 0 0-1.5-1 0 0 0.5-2 0 0 1.5-1.5 0 0-0.5-0.5 0 0-1-0.5 0 0 1-1 0 0 0.5-2.5 0 0-2-1 0 0 3-1.5 0 0-0.5-0.5 0 0-0.5-0.5 0 0-4.5-0.5 0 0 5.5-1.5 0 0-1.5-1 0 0 1-1 0 0 1-1.5 0 0-1-1 0 0-3-0.5 0 0 3.5-1.5 0 0 1.5-1.5 0 0-7-0.5 0 0 1.5-2 0 0 4-0.5 0 0 0.5-1.5 0 0-1.5-1 0 0 0.5-1.5 0 0-1-0.5 0 0-1-0.5 0 0 1.5-1.5 0 0-1-1 0 0 1-1.5 0 0-1.5-0.5 0 0 1-0.5 0 0 1-1.5 0 0-0.5-0.5 0 0-1-1.5 0 0 3-1.5 0 0-3.5-0.5 0 0-0.5-0.5 0 0 5-1.5 0 0-0.5-1 0 0-0.5-1 0 0-5.5-1 0 0 2-1 0 0 1-1 0 0 1-1.5 0 0-4.5-0.5 0 0 1-0.5 0 0 0.5-0.5 0 0 1-1.5 0 0 2-0.5 0 0 1-1.5 0 0-4.5-1.5 0 0-3-0.5 0 0 4-1.5 0 0-1-1 0 0 1.5-1.5 0 0 1-1.5 0 0-4.5-0.5 0 0-0.5-1.5 0 0-1.5-0.5 0 0 4.5-2 0 0-2-0.5 0 0 6.5-1.5 0 0-1-1 0 0-5.5-1.5 0 0-3-0.5 0 0 2.5-0.5 0 0 2.5-0.5 0 0 1-1.5 0 0-2.5-0.5 0 0-0.5-1.5 0 0-1-0.5 0 0-1-1 0 0 2.5-1.5 0 0-1-0.5 0 0 1.5-2 0 0 5-0.5 0 0 1-1.5 0 0-7-0.5 0 0-1.5-0.5 0 0 2-1.5 0 0-1-0.5 0 0-0.5-0.5 0 0 6-1.5 0 0-3.5-0.5 0 0 0.5-1 0 0 0.5-1.5 0 0-0.5-1 0 0-0.5-0.5 0 0 3.5-1.5 0 0-6.5-0.5 0 0 3-1 0 0 4-1.5 0 0-8.5-1.5 0 0 4.5-1.5 0 0-1-0.5 0 0 4-1.5 0 0-4-0.5 0 0-1-1 0 0 3.5-1.5 0 0-2.5-0.5 0 0 2.5-1.5 0 0-1-1.5 0 0-1.5-1 0 0-0.5-1 0 0 4.5-1.5 0 0-0.5-0.5 0 0-6.5-0.5 0 0 4.5-1.5 0 0-2.5-1 0 0 2.5-1 0 0 6-1.5 0 0-9-0.5 0 0 0.5-0.5 0 0 0.5-1 0 0 2-1.5 0 0-0.5-0.5 0 0 3-1.5 0 0-0.5-1.5 0 0-1.5-1.5 0 0-1-1.5 0 0-2.5-1.5 0 0 1.5-0.5 0 0 1.5-1.5 0 0-0.5-0.5 0 0-2-0.5 0 0 1-1.5 0 0-0.5-0.5 0 0 2-1.5 0 0-3.5-0.5 0 0 2-1 0 0 2.5-1.5 0 0-4-0.5 0 0 3-1.5 0 0-4.5-1 0 0-1-0.5 0 0 4.5-1.5 0 0-2-0.5 0 0 3.5-1.5 0 0-1.5-1 0 0-1.5-0.5 0 0-0.5-1 0 0 2-1 0 0 1-1.5 0 0-1.5-0.5 0 0-0.5-0.5 0 0-2.5-0.5 0 0 1-1.5 0 0 2-1.5 0 0-1-0.5 0 0 0.5-1.5 0 0 4.5-1.5 0 0-5-1.5 0 0 1-1.5 0 0-3-0.5 0 0 1-1 0 0 1.5-0.5 0 0 1-2 0 0-2.5-0.5 0 0-1-2.5 0 0 1-0.5 0 0 4.5-1.5 0 0 0.5-1.5 0 0-0.5-0.5 0 0-2-2 0 0-1.5-0.5 0 0-0.5-2 0 0 5.5-1.5 0 0-7-0.5 0 0 1-0.5 0 0 5.5-1.5 0 0-6-0.5 0 0 4-1.5 0 0-7.5-0.5 0 0 2-0.5 0 0 3-1.5 0 0-3-0.5 0 0 3-1.5 0 0-0.5-1.5 0 0-1-0.5 0 0-0.5-0.5 0 0 2-0.5 0 0 1.5-0.5 0 0 4-1.5 0 0-6-1 0 0 1.5-1.5 0 0-3-0.5 0 0 2-1.5 0 0-1.5-3 0 0 1.5-0.5 0 0 3-1.5 0 0-0.5-0.5 0 0-1-0.5 0 0-4-0.5 0 0-2-0.5 0 0-0.5-0.5 0 0 3.5-0.5 0 0 3.5-2 0 0-2.5-0.5 0 0 1.5-1 0 0 1-1.5 0 0-0.5-1.5 0 0-4-1.5 0 0-1.5-1 0 0-0.5-0.5 0 0 3.5-1.5 0 0 0.5-1.5 0 0-1-1 0 0-3-0.5 0 0 9-1.5 0 0-4-1 0 0-2-0.5 0 0 6.5-1.5 0 0-9.5-0.5 0 0 5-1.5 0 0-1-0.5 0 0 6.5-1.5 0 0-6-0.5 0 0-2.5-1 0 0 1-1.5 0 0-1-1.5 0 0-1-1.5 0 0 1-0.5 0 0 1-1 0 0 3-1.5 0 0-2-2 0 0-0.5-2 0 0 3-2 0 0-2-0.5 0 0-2-1 0 0 0.5-1.5 0 0-0.5-0.5 0 0 3.5-1.5 0 0-0.5-0.5 0 0-1.5-2 0 0-1-1 0 0-1.5-2 0 0-3-0.5 0 0 6.5-1.5 0 0-3.5-0.5 0 0 2.5-1.5 0 0-4-0.5 0 0 4-1.5 0 0-1-1 0 0-2.5-1 0 0 3-1.5 0 0-2-0.5 0 0 1.5-0.5 0 0 1.5-1.5 0 0-1.5-0.5 0 0-1.5-1 0 0 2-1.5 0 0-3.5-0.5 0 0 6-0.5 0 0 2-2.5 0 0-1-1.5 0 0-1.5-1.5 0 0-4-1.5 0 0-2.5-0.5 0 0 0.5-0.5 0 0 5-1.5 0 0 0.5-1.5 0 0-3-0.5 0 0-0.5-0.5 0 0 4.5-1.5 0 0-3.5-0.5 0 0-2.5-1 0 0 1.5-0.5 0 0 1-0.5 0 0 1-0.5 0 0 1.5-0.5 0 0 1.5-2 0 0-4-0.5 0 0 3.5-1.5 0 0-2-0.5 0 0-1-1 0 0-1.5-1.5 0 0 2-0.5 0 0 7.5-1.5 0 0-7-0.5 0 0-0.5-0.5 0 0-0.5-1.5 0 0-6-0.5 0 0 7-0.5 0 0 1-1.5 0 0-1.5-0.5 0 0-1.5-1 0 0 1.5-1.5 0 0 8.5-1.5 0 0-10.5-1 0 0-0.5-0.5 0 0-1-0.5 0 0 1.5-0.5 0 0 5-1 0 0 1-1.5 0 0-5-0.5 0 0-0.5-1.5 0 0-2.5-0.5 0 0 0.5-1.5 0 0 1-0.5 0 0 9.5-1.5 0 0-12-0.5 0 0-2-1.5 0 0 2-0.5 0 0 7.5-1.5 0 0-5-1 0 0-0.5-1 0 0 4-1.5 0 0-3.5-0.5 0 0 1-1 0 0 0.5-1.5 0 0-2-1 0 0 2-1 0 0 0.5-1.5 0 0-2.5-1.5 0 0-1.5-1 0 0-1-1.5 0 0 1-1.5 0 0-1.5-0.5 0 0 6.5-1.5 0 0-5.5-0.5 0 0 0.5-0.5 0 0 5-1.5 0 0-4-0.5 0 0-2-0.5 0 0 1-2.5 0 0-2-0.5 0 0 4.5-0.5 0 0 4.5-1.5 0 0-4-0.5 0 0-1.5-0.5 0 0-3.5-0.5 0 0-1.5-1.5 0 0 1.5-2 0 0-1.5-0.5 0 0-0.5-0.5 0 0 1-1.5 0 0 2-1.5 0 0-4.5-0.5 0 0 4.5-1 0 0 1.5-1.5 0 0 2.5-1.5 0 0-2.5-0.5 0 0-1.5-0.5 0 0 1.5-1.5 0 0-1.5-0.5 0 0-1-1 0 0 0.5-1.5 0 0-0.5-0.5 0 0-1-1 0 0 2-1.5 0 0-0.5-0.5 0 0 0.5-1.5 0 0-2.5-1 0 0 6-1.5 0 0-3.5-1.5 0 0-0.5-0.5 0 0 4-1.5 0 0-1.5-1 0 0-0.5-1 0 0-5-0.5 0 0 3.5-0.5 0 0 1.5-1.5 0 0-4.5-2 0 0 0.5-0.5 0 0 0.5-1 0 0 6-0.5 0 0 1.5-1.5 0 0-9.5-0.5 0 0 0.5-0.5 0 0 5-1.5 0 0-1.5-1.5 0 0-2-1 0 0-1.5-1 0 0 9-1.5 0 0-6-0.5 0 0-1.5-3 0 0 0.5-1.5 0 0-2-1 0 0-1-0.5 0 0 6-1.5 0 0-3-0.5 0 0-1.5-0.5 0 0-2.5-0.5 0 0-1.5-0.5 0 0 1.5-0.5 0 0 2-1 0 0 0.5-0.5 0 0 4-0.5 0 0 2-1.5 0 0-6-1 0 0 4-1.5 0 0-2-1.5 0 0-4.5-1 0 0 1.5-0.5 0 0 3-1.5 0 0-1.5-1 0 0 1-0.5 0 0 2.5-1.5 0 0-5.5-0.5 0 0-2-2 0 0 0.5-1 0 0 9-1.5 0 0-9-0.5 0 0 1-1 0 0 1.5-1.5 0 0-0.5-0.5 0 0-1.5-0.5 0 0 0.5-1 0 0 2-1.5 0 0-1-0.5 0 0 0.5-1.5 0 0-1-1.5 0 0 1.5-0.5 0 0 0.5-1.5 0 0-6-0.5 0 0 4.5-0.5 0 0 1-1 0 0 1-2.5 0 0-2-1.5 0 0-1-0.5 0 0 2-1.5 0 0-2-0.5 0 0-1-0.5 0 0 2.5-0.5 0 0 0.5-0.5 0 0 3.5-1.5 0 0-3.5-1.5 0 0-2.5-1.5 0 0-1.5-0.5 0 0 2-1 0 0 2.5-2 0 0-4-1 0 0 1-1.5 0 0-0.5-1 0 0-3-0.5 0 0 2-1.5 0 0-1-0.5 0 0-0.5-0.5 0 0 1.5-1 0 0 2-2.5 0 0 1.5-1.5 0 0-5.5-1 0 0 0.5-0.5 0 0 4-1 0 0 0.5-1.5 0 0-3.5-0.5 0 0-3-0.5 0 0 4-1.5 0 0 0.5-1.5 0 0-3-0.5 0 0-3-0.5 0 0 5.5-1.5 0 0-1-0.5 0 0-1.5-0.5 0 0 3.5-1.5 0 0-1.5-1 0 0 8.5-1.5 0 0-8-0.5 0 0 1-1 0 0 2-1.5 0 0-3-0.5 0 0-3-0.5 0 0-1.5-0.5 0 0 1-0.5 0 0 0.5-0.5 0 0 2.5-1 0 0 2-1.5 0 0-1.5-1 0 0 1-1.5 0 0-2.5-0.5 0 0-1.5-1 0 0 6-2 0 0-1-0.5 0 0-7.5-1.5 0 0-1.5-0.5 0 0 5-1.5 0 0-3-0.5 0 0 1.5-0.5 0 0 0.5-0.5 0 0 3.5-1 0 0 10-1.5 0 0-12-1 0 0-3-1 0 0 0.5-0.5 0 0 1.5-1 0 0 0.5-0.5 0 0 3.5-1.5 0 0-1-0.5 0 0-1-0.5 0 0 2.5-1.5 0 0-2-0.5 0 0-6-1.5 0 0 3-1.5 0 0 2-0.5 0 0 2-1.5 0 0-2.5-0.5 0 0-6.5-0.5 0 0 1-3 0 0-2.5-0.5 0 0 8-1.5 0 0-1-0.5 0 0 3.5-1.5 0 0-1.5-0.5 0 0-6.5-1 0 0 0.5-0.5 0 0 3-1.5 0 0-3.5-0.5 0 0-3.5-1 0 0 2-0.5 0 0 3.5-1.5 0 0-1.5-0.5 0 0-1-0.5 0 0 7.5-1.5 0 0-8-1 0 0-0.5-1.5 0 0 5-1.5 0 0-1-0.5 0 0-4-0.5 0 0 2-1.5 0 0 5-1.5 0 0-5-1.5 0 0-1.5-1 0 0-0.5-0.5 0 0-1.5-0.5 0 0 2-1.5 0 0 0.5-2 0 0 3.5-1.5 0 0-4.5-0.5 0 0 0.5-0.5 0 0 1-0.5 0 0 1-1.5 0 0-1-2 0 0-1-0.5 0 0 5-1.5 0 0-4-0.5 0 0-2-0.5 0 0 2.5-1.5 0 0-2-0.5 0 0-1.5-0.5 0 0 1.5-1.5 0 0-1-1 0 0-0.5-0.5 0 0-2-0.5 0 0 9-1.5 0 0-6.5-0.5 0 0 4-1.5 0 0-6-0.5 0 0 2.5-1 0 0 1-0.5 0 0 6.5-1.5 0 0-5.5-0.5 0 0-7.5-0.5 0 0 10-1.5 0 0-0.5-0.5 0 0-6-0.5 0 0-1.5-0.5 0 0-2-0.5 0 0 3.5-1.5 0 0-3-0.5 0 0 4-1.5 0 0-1-0.5 0 0-2-0.5 0 0 1.5-1.5 0 0-1.5-1.5 0 0-1.5-0.5 0 0 1.5-1 0 0 3-1.5 0 0-0.5-1.5 0 0-3.5-1 0 0 5-1.5 0 0-4.5-0.5 0 0 3.5-1.5 0 0-6-0.5 0 0-0.5-0.5 0 0 1-2.5 0 0 5.5-1.5 0 0-3.5-1 0 0-1.5-0.5 0 0 2.5-0.5 0 0 3-1.5 0 0-5.5-1.5 0 0-0.5-0.5 0 0-1-1.5 0 0-1-1 0 0 1.5-0.5 0 0 7-1.5 0 0-5.5-1 0 0-1-1 0 0-0.5-0.5 0 0-4-0.5 0 0 3.5-1 0 0 1.5-1.5 0 0-3-0.5 0 0 2-2 0 0-5.5-0.5 0 0-1-3.5 0 0 2.5-1 0 0 1-1 0 0 1-1.5 0 0-3-1.5 0 0 2-1 0 0 1-3 0 0-7.5-0.5 0 0-1.5-0.5 0 0-0.5-1 0 0 4.5-1 0 0 1.5-1 0 0 4-1.5 0 0-4.5-1.5 0 0-1-0.5 0 0-5-1 0 0 2.5-1 0 0 4.5-1.5 0 0-6-0.5 0 0 11-1.5 0 0-5.5-0.5 0 0 0.5-1.5 0 0-4.5-0.5 0 0 2-1.5 0 0-4.5-0.5 0 0-1-0.5 0 0-1.5-0.5 0 0-1-0.5 0 0 1.5-1.5 0 0 1.5-0.5 0 0 4.5-0.5 0 0 2-0.5 0 0 2-1.5 0 0-9-0.5 0 0 1-1.5 0 0-4.5-0.5 0 0-1.5-1 0 0-3.5-0.5 0 0 4.5-0.5 0 0 1.5-0.5 0 0 2-0.5 0 0 9-1.5 0 0-10.5-0.5 0 0-1-1 0 0 2.5-1.5 0 0-0.5-1 0 0-1.5-1.5 0 0-1-1.5 0 0-4-1 0 0-0.5-0.5 0 0 2-1 0 0 8.5-1.5 0 0-3-1.5 0 0-10-1.5 0 0 2-0.5 0 0 2.5-1.5 0 0-4.5-0.5 0 0-1-0.5 0 0 1-1.5 0 0-2-0.5 0 0 1.5-0.5 0 0 3.5-1.5 0 0-4-0.5 0 0 1-1.5 0 0-4.5-0.5 0 0 2-1.5 0 0-4-0.5 0 0-4.5-0.5 0 0 6-1.5 0 0-1-0.5 0 0 2-1.5 0 0-3.5-1.5 0 0-2.5-0.5 0 0 3-1.5 0 0-2.5-3 0 0-5-0.5 0 0 2-1 0 0 0.5-1 0 0 1.5-1.5 0 0-7-0.5 0 0 2.5-2.5 0 0-2.5-1.5 0 0 4.5-3 0 0-0.5-0.5 0 0-7.5-0.5 0 0 3.5-1 0 0 7-1.5 0 0-6.5-1.5 0 0 3.5-1.5 0 0-5.5-0.5 0 0-1.5-0.5 0 0 2.5-0.5 0 0 3-1.5 0 0-3-1.5 0 0 1-1.5 0 0-3.5-1 0 0 1.5-1.5 0 0-3.5-1 0 0-3.5-1 0 0 2-0.5 0 0 1.5-1 0 0 7-1.5 0 0-7.5-0.5 0 0 1-1 0 0 7-1.5 0 0-3-1 0 0-7.5-0.5 0 0 2-0.5 0 0 4-1.5 0 0-3-0.5 0 0 3-1.5 0 0-7-0.5 0 0 0.5-2.5 0 0 1.5-1.5 0 0 2-1.5 0 0-4-0.5 0 0 3.5-1.5 0 0-8-0.5 0 0 1-0.5 0 0 4-1.5 0 0-2-0.5 0 0 1-1.5 0 0-3-0.5 0 0-0.5-0.5 0 0 2-1 0 0 2.5-1.5 0 0-4-1 0 0 5-1.5 0 0-9-0.5 0 0 7-1.5 0 0-4-1 0 0-0.5-1 0 0 2.5-1.5 0 0-1-1.5 0 0-0.5-1 0 0-0.5-0.5 0 0 2-1 0 0 0.5-1.5 0 0-3-1.5 0 0 2.5-1.5 0 0-2.5-0.5 0 0 0.5-0.5 0 0 6.5-0.5 0 0 0.5-1 0 0 1.5-1.5 0 0-0.5-0.5 0 0-2.5-0.5 0 0 0.5-1.5 0 0-1.5-0.5 0 0 5-1.5 0 0-3.5-1 0 0 5.5-1.5 0 0-2.5-0.5 0 0-2-0.5 0 0-1-0.5 0 0 2.5-0.5 0 0 2.5-1.5 0 0-8-0.5 0 0 2.5-1 0 0 1.5-0.5 0 0 3.5-0.5 0 0 1.5-1.5 0 0-1.5-0.5 0 0 2.5-1.5 0 0-0.5-1 0 0-4.5-0.5 0 0 2.5-0.5 0 0 5.5-1.5 0 0 0.5-0.5 0 0 2.5-1.5 0 0-5-1.5 0 0-0.5-1 0 0 3.5-1.5 0 0-5-0.5 0 0 7.5-0.5 0 0 3.5-1.5 0 0 4.5-1.5 0 0-8.5-0.5 0 0 5.5-4.5 0 0-2.5-1 0 0 4.5-1 0 0 3.5-1.5 0 0-6-2.5 0 0-1-0.5 0 0 7-1.5 0 0-4.5-2 0 0 3-0.5 0 0 1.5-2 0 0-2-0.5 0 0 2-1 0 0 4.5-0.5 0 0 1.5-1.5 0 0-9.5-0.5 0 0 1.5-0.5 0 0 12-1.5 0 0-4-0.5 0 0-5-1 0 0 11-1.5 0 0-4.5-0.5 0 0 1.5-2.5 0 0-0.5-0.5 0 0-1-0.5 0 0-1-0.5 0 0 2.5-0.5 0 0 3.5-1.5 0 0 3.5-1.5 0 0-1-0.5 0 0-9.5-0.5 0 0-1-0.5 0 0 2.5-0.5 0 0 0.5-1.5 0 0 1.5-1.5 0 0 3-3 0 0 2.5-1.5 0 0 1-1.5 0 0-2-1 0 0-1.5-0.5 0 0-3-0.5 0 0 3-0.5 0 0 1.5-0.5 0 0 5-1 0 0 2.5-1.5 0 0-3.5-0.5 0 0-4.5-0.5 0 0 9.5-1.5 0 0-7-0.5 0 0 4-1.5 0 0-2-0.5 0 0 1-0.5 0 0 0.5-0.5 0 0 5-1.5 0 0-1.5-0.5 0 0-5.5-1.5 0 0 1-1.5 0 0-3-1 0 0-1-0.5 0 0 1-2.5 0 0 1-0.5 0 0 2-1 0 0 7.5-1.5 0 0-8.5-0.5 0 0 5.5-2.5 0 0-7-0.5 0 0 2-1 0 0 0.5-1.5 0 0-0.5-0.5 0 0-0.5-0.5 0 0 3.5-1.5 0 0-0.5-1 0 0-5-0.5 0 0 4-1.5 0 0-4.5-0.5 0 0 3.5-1.5 0 0-0.5-0.5 0 0 0.5-1.5 0 0-1-0.5 0 0-1.5-0.5 0 0 2-1.5 0 0 7-1.5 0 0-3.5-0.5 0 0 4-1.5 0 0-8-0.5 0 0-2-1 0 0 2.5-1.5 0 0-2-1 0 0 10.5-1.5 0 0-1-1 0 0-9-0.5 0 0 7.5-1.5 0 0-3.5-0.5 0 0-2-2 0 0-4.5-0.5 0 0 13.5-1.5 0 0-9.5-0.5 0 0 2-1.5 0 0-0.5-0.5 0 0-10-0.5 0 0 8-0.5 0 0 8-1.5 0 0-7-0.5 0 0-3.5-0.5 0 0 8.5-1.5 0 0-1.5-0.5 0 0-1.5-0.5 0 0-6-0.5 0 0 1.5-1.5 0 0 0.5-1.5 0 0-0.5-0.5 0 0 9-1.5 0 0-1.5-0.5 0 0-2.5-2 0 0 1-1.5 0 0-3.5-1 0 0-1-1 0 0-3-0.5 0 0 13.5-1.5 0 0-16-1 0 0 1.5-0.5 0 0 2-1 0 0 2-1.5 0 0-4-0.5 0 0 6.5-1 0 0 3.5-1.5 0 0-8.5-1 0 0 1-1.5 0 0-2-1 0 0 2.5-1 0 0 3-1.5 0 0-6.5-0.5 0 0 8.5-0.5 0 0 1-1.5 0 0-11.5-1 0 0 4.5-1.5 0 0-3-0.5 0 0 3-0.5 0 0 6.5-1.5 0 0-3-0.5 0 0-11.5-0.5 0 0 8.5-1.5 0 0-4-0.5 0 0 3.5-0.5 0 0 3-1.5 0 0 0.5-1.5 0 0-7-0.5 0 0 2-1.5 0 0 1-1.5 0 0-3-1 0 0 7.5-1.5 0 0-9.5-0.5 0 0 2-1.5 0 0-3-1.5 0 0 0.5-1 0 0 1-0.5 0 0 6.5-1.5 0 0-6.5-0.5 0 0-1.5-0.5 0 0-1.5-1 0 0 8-1 0 0 3.5-1.5 0 0-7-0.5 0 0-1.5-0.5 0 0-1.5-1 0 0-2-0.5 0 0 14-1.5 0 0-13-0.5 0 0 0.5-1.5 0 0-3.5-1 0 0 1-1 0 0 4-1.5 0 0-2.5-0.5 0 0-2.5-1.5 0 0-3-0.5 0 0-2.5-0.5 0 0 6.5-1.5 0 0-1.5-0.5 0 0-5-0.5 0 0 4-0.5 0 0 1-0.5 0 0 3-1.5 0 0-2-1.5 0 0-0.5-0.5 0 0-3.5-1 0 0 1-1.5 0 0-0.5-0.5 0 0-2-1 0 0 3-0.5 0 0 2-1.5 0 0-7.5-0.5 0 0 8-1.5 0 0-6-0.5 0 0 1-1.5 0 0-1.5-0.5 0 0 7.5-1.5 0 0-11-0.5 0 0 2.5-0.5 0 0 11.5-1.5 0 0-1-0.5 0 0-13.5-0.5 0 0 11-1.5 0 0-0.5-1.5 0 0-3.5-1 0 0-1-0.5 0 0-0.5-1.5 0 0-4-1.5 0 0 2-3 0 0-3.5-0.5 0 0-2-1 0 0 1-1.5 0 0-0.5-0.5 0 0 7-1.5 0 0-3.5-1 0 0 5-1.5 0 0-5.5-0.5 0 0-1-0.5 0 0-2-1 0 0-3-0.5 0 0-0.5-1.5 0 0 0.5-1.5 0 0-2-0.5 0 0-1-0.5 0 0 3-1.5 0 0 2-1.5 0 0-5-1 0 0-3.5-1 0 0-1.5-0.5 0 0 1.5-1 0 0 1-0.5 0 0 5-0.5 0 0 3-1.5 0 0-6-0.5 0 0 4.5-0.5 0 0 6-1.5 0 0-7-0.5 0 0-6.5-0.5 0 0-0.5-0.5 0 0-2-1 0 0 4-1 0 0 1-1.5 0 0 0.5-1.5 0 0-5.5-0.5 0 0 6.5-1.5 0 0-4-0.5 0 0-1.5-1.5 0 0-3.5-0.5 0 0 4-1 0 0 14.5-1.5 0 0-11.5-1.5 0 0-2-0.5 0 0 0.5-1.5 0 0-5.5-1 0 0-0.5-1 0 0 3.5-0.5 0 0 0.5-1.5 0 0-1.5-1.5 0 0-2.5-1 0 0 1-2 0 0-2.5-0.5 0 0-1-0.5 0 0-3.5-1 0 0-2-0.5 0 0 2-0.5 0 0 10-1.5 0 0 1-1.5 0 0-7.5-0.5 0 0-1.5-0.5 0 0-4-1 0 0-1.5-0.5 0 0-1-0.5 0 0-0.5-0.5 0 0 3-1 0 0 0.5-1.5 0 0-1-1.5 0 0 3.5-1.5 0 0 3.5-1.5 0 0-6.5-1 0 0-3.5-0.5 0 0-1.5-0.5 0 0-1-1 0 0 5.5-1.5 0 0-1.5-0.5 0 0 3-1.5 0 0-7-1 0 0 5-1 0 0 2-1.5 0 0-12.5-0.5 0 0 0.5-0.5 0 0 8-0.5 0 0 3.5-1.5 0 0-12-0.5 0 0 0.5-0.5 0 0 1-1 0 0 6-1.5 0 0-2.5-0.5 0 0-8.5-0.5 0 0 13-1.5 0 0-5-0.5 0 0-7.5-1 0 0-6-0.5 0 0 1.5-0.5 0 0 7-0.5 0 0 1.5-1.5 0 0-3.5-1 0 0-1.5-1.5 0 0-2.5-0.5 0 0-5-1 0 0-0.5-0.5 0 0 5.5-0.5 0 0 0.5-1.5 0 0-14-0.5 0 0 7.5-0.5 0 0 1-1.5 0 0-2.5-0.5 0 0-1-0.5 0 0-4-0.5 0 0 5.5-1.5 0 0-3.5-1 0 0-0.5-0.5 0 0-3.5-0.5 0 0 5-1.5 0 0-4.5-0.5 0 0-5-1 0 0 9.5-1.5 0 0-7-0.5 0 0 1-0.5 0 0 1-2 0 0 1.5-1.5 0 0-7-0.5 0 0-1-0.5 0 0 2.5-1 0 0 1-1.5 0 0-1-0.5 0 0-0.5-1 0 0-1-0.5 0 0-3.5-1.5 0 0-5.5-0.5 0 0 8.5-2 0 0-9-1 0 0-0.5-1 0 0 1.5-1.5 0 0-12-0.5 0 0 4-0.5 0 0 0.5-1.5 0 0-6.5-0.5 0 0 2-0.5 0 0 7-1.5 0 0 2.5-1.5 0 0 4-1.5 0 0-17.5-1.5 0 0-1-0.5 0 0-1-1 0 0-1-0.5 0 0 3.5-1.5 0 0-2.5-1 0 0-0.5-0.5 0 0-5-0.5 0 0-0.5-0.5 0 0 2.5-1.5 0 0-0.5-0.5 0 0-8.5-0.5 0 0 5-1.5 0 0-1.5-0.5 0 0 0.5-1.5 0 0-1.5-1.5 0 0-2-0.5 0 0 5.5-1.5 0 0-19-1 0 0 9.5-1.5 0 0-1.5-1.5 0 0-0.5-1 0 0-0.5-0.5 0 0-5.5-0.5 0 0 3-1.5 0 0-6-1 0 0-2.5-0.5 0 0 12-1.5 0 0-22.5-0.5 0 0 3.5-1.5 0 0-2-0.5 0 0-2.5-0.5 0 0 2-2.5 0 0 0.5-1.5 0 0-4-1.5 0 0 3-1.5 0 0-11.5-0.5 0 0 1-1.5 0 0-1.5-1.5 0 0 3.5-1.5 0 0-8.5-0.5 0 0-8-0.5 0 0 4-1 0 0 8.5-1.5 0 0-9-1 0 0-2.5-1.5 0 0-2-0.5 0 0 4.5-1.5 0 0-10-0.5 0 0-1.5-1.5 0 0-2-0.5 0 0-4-1.5 0 0 2.5-1.5 0 0-1.5-1.5 0 0-1-1 0 0-3-0.5 0 0 3.5-1.5 0 0-8-1 0 0-4.5-0.5 0 0-5-0.5 0 0 6-1 0 0 2-1.5 0 0-2.5-0.5 0 0-9-0.5 0 0 6.5-1.5 0 0 1-1.5 0 0-5-0.5 0 0 2.5-1.5 0 0-15-1 0 0 11-1.5 0 0-5.5-1 0 0-1.5-0.5 0 0-0.5-0.5 0 0-9.5-0.5 0 0 2-1.5 0 0-11.5-2.5 0 0-5-0.5 0 0 2-0.5 0 0 16-1.5 0 0-16.5-1 0 0-2-0.5 0 0 9-1.5 0 0-3-1.5 0 0-1-1 0 0-10-1.5 0 0 8.5-1.5 0 0-8-1 0 0-12.5-0.5 0 0 8-1.5 0 0-3.5-0.5 0 0-4-1.5 0 0-5-0.5 0 0-1-1 0 0-0.5-0.5 0 0-4.5-0.5 0 0-3-0.5 0 0 19-1.5 0 0-1.5-1.5 0 0-12.5-1 0 0 4.5-1.5 0 0-9-0.5 0 0-0.5-0.5 0 0-0.5-1 0 0-5.5-0.5 0 0 5.5-1.5 0 0-0.5-0.5 0 0-6-2 0 0 3.5-1.5 0 0-3-1 0 0 3.5-1.5 0 0-5.5-1.5 0 0-2-0.5 0 0 0.5-1.5 0 0-8-1.5 0 0-4-0.5 0 0 5-1.5 0 0-5-1.5 0 0 6.5-0.5 0 0 2-0.5 0 0 4-1.5 0 0-11.5-1 0 0-14.5-0.5 0 0 6.5-2 0 0-4.5-1 0 0 16-1.5 0 0-14.5-1.5 0 0-3-0.5 0 0 6-1.5 0 0-4-1.5 0 0-0.5-0.5 0 0-4.5-0.5 0 0 3.5-1.5 0 0-6-1.5 0 0 22.5-1.5 0 0-22.5-0.5 0 0 7.5-0.5 0 0 2.5-1 0 0 2.5-1.5 0 0-10.5-1.5 0 0-5.5-1.5 0 0-4-1 0 0 12-1.5 0 0-2-0.5 0 0-4.5-1.5 0 0-5.5-0.5 0 0-5-1 0 0-1-1 0 0 8.5-1.5 0 0-8-1 0 0 15.5-1.5 0 0-13-0.5 0 0-3.5-1 0 0-2.5-0.5 0 0-1.5-0.5 0 0 14.5-1.5 0 0-0.5-1.5 0 0-2-0.5 0 0-5.5-1.5 0 0-6-0.5 0 0 2-1.5 0 0-0.5-0.5 0 0 0.5-1.5 0 0 12.5-1.5 0 0-10.5-1.5 0 0-3-0.5 0 0 1-1.5 0 0-8-0.5 0 0 10-1.5 0 0-6-1 0 0-0.5-0.5 0 0 4.5-1.5 0 0-4-0.5 0 0-2.5-0.5 0 0 2.5-1 0 0 12-1.5 0 0-5.5-0.5 0 0-10.5-0.5 0 0 7-1.5 0 0 4-1.5 0 0-4.5-1 0 0-2-0.5 0 0-9-0.5 0 0 6.5-0.5 0 0 2.5-1.5 0 0-3-0.5 0 0 7.5-1.5 0 0-4.5-0.5 0 0 10-1.5 0 0-0.5-0.5 0 0-1.5-0.5 0 0-7.5-1.5 0 0 8.5-1 0 0 9-1.5 0 0-12-1.5 0 0-5-0.5 0 0 0.5-2 0 0-3-0.5 0 0-2.5-0.5 0 0 5-1.5 0 0-0.5-1 0 0 1.5-1.5 0 0 2-1 0 0 16-1.5 0 0-21.5-0.5 0 0-2.5-0.5 0 0 15.5-1.5 0 0-10-0.5 0 0 10.5-1.5 0 0-16-1 0 0 6.5-1 0 0 2-1.5 0 0-2-1.5 0 0-3-1 0 0-2-0.5 0 0 8-1.5 0 0-6.5-0.5 0 0 2.5-0.5 0 0 14.5-1.5 0 0-21-0.5 0 0 5.5-1.5 0 0 5.5-1.5 0 0-1-1 0 0-5.5-0.5 0 0-1-0.5 0 0 2.5-1 0 0 5-1.5 0 0-2-0.5 0 0 1-1.5 0 0-6-0.5 0 0 0.5-0.5 0 0 10.5-1.5 0 0 7-1.5 0 0-5-0.5 0 0-5-0.5 0 0 1.5-2 0 0 6-2 0 0-10-1.5 0 0-3.5-0.5 0 0-2.5-0.5 0 0 10.5-1.5 0 0 5-1.5 0 0-17-0.5 0 0 2.5-0.5 0 0 0.5-1.5 0 0-3-1.5 0 0 3-1.5 0 0-2-0.5 0 0 3.5-1 0 0 8-1.5 0 0-10-0.5 0 0-3.5-0.5 0 0 1.5-1 0 0 4-2 0 0-10-0.5 0 0 14.5-1.5 0 0-1.5-0.5 0 0-3-0.5 0 0-4-0.5 0 0 2.5-1.5 0 0-4-2 0 0 20-1.5 0 0-8-0.5 0 0-12.5-0.5 0 0 9.5-1.5 0 0-4.5-1 0 0-5.5-0.5 0 0 4.5-1.5 0 0-9-0.5 0 0 4.5-1.5 0 0-4.5-0.5 0 0 8.5-1 0 0 11.5-1.5 0 0-1.5-0.5 0 0-19-1 0 0 3-0.5 0 0 1.5-1.5 0 0 0.5-1.5 0 0 1-1.5 0 0 0.5-1.5 0 0-5.5-1 0 0-9.5-1 0 0-0.5-1 0 0 9.5-1.5 0 0-12.5-0.5 0 0-3.5-1 0 0 5.5-0.5 0 0 1-0.5 0 0 18.5-1.5 0 0-16-1 0 0 5-1.5 0 0-9-1 0 0 6.5-3 0 0-7.5-0.5 0 0 1-1 0 0 5.5-1.5 0 0-6-0.5 0 0 2.5-1 0 0 6-1.5 0 0-11-1 0 0-6-1 0 0-1-1 0 0 2-1.5 0 0-1.5-0.5 0 0-1-0.5 0 0 4-1.5 0 0-1-0.5 0 0 5.5-1.5 0 0-7.5-0.5 0 0-4.5-1 0 0-0.5-0.5 0 0-0.5-0.5 0 0-7-1 0 0-1-1 0 0-1.5-0.5 0 0 3-1.5 0 0-1-1 0 0 4-1 0 0 1.5-0.5 0 0 2.5-1.5 0 0-16.5-1 0 0-2-0.5 0 0 6-1 0 0 5.5-1.5 0 0-14.5-0.5 0 0-0.5-0.5 0 0 12.5-1.5 0 0-15-0.5 0 0-1-1.5 0 0-5.5-0.5 0 0 20.5-1.5 0 0-21.5-1.5 0 0 8.5-1 0 0 1.5-1.5 0 0-8-0.5 0 0-8-0.5 0 0 7.5-1.5 0 0-13-0.5 0 0-1-0.5 0 0 4.5-0.5 0 0 14.5-1.5 0 0-14-0.5 0 0-1-1.5 0 0-7.5-0.5 0 0-2-1.5 0 0 6-1.5 0 0 0.5-1.5 0 0 8-1.5 0 0-14.5-1 0 0-12.5-1 0 0-6.5-1 0 0-2.5-0.5 0 0 10-1.5 0 0 7-1.5 0 0-4.5-1.5 0 0-4-1.5 0 0-24.5-0.5 0 0 2-1.5 0 0 1.5-0.5 0 0 11-1.5 0 0-12.5-1.5 0 0-1-1 0 0-3.5-1.5 0 0-8.5-1 0 0-6.5-1 0 0 5-1.5 0 0 10-1.5 0 0-0.5-0.5 0 0-9.5-0.5 0 0-6-0.5 0 0-1-0.5 0 0-7.5-0.5 0 0 11.5-1.5 0 0-11.5-1.5 0 0-6-0.5 0 0 3-0.5 0 0 2-0.5 0 0 7-1.5 0 0-21-0.5 0 0 10.5-1.5 0 0-12.5-0.5 0 0-2.5-0.5 0 0-4-0.5 0 0 13-1.5 0 0-13-0.5 0 0 11.5-1.5 0 0-24.5-0.5 0 0 6.5-3 0 0-10-1 0 0-4.5-1 0 0 10.5-1.5 0 0-6.5-0.5 0 0 3.5-1.5 0 0-10-0.5 0 0 6.5-0.5 0 0 3.5-1.5 0 0-12.5-1 0 0-0.5-1 0 0-0.5-0.5 0 0-13-0.5 0 0-0.5-0.5 0 0 6-1.5 0 0 9.5-1.5 0 0-4-1 0 0-23.5-0.5 0 0 7-0.5 0 0 4.5-1.5 0 0-4-0.5 0 0 1-0.5 0 0 2.5-1.5 0 0 1.5-1.5 0 0-11.5-1.5 0 0-1-1.5 0 0-16.5-1 0 0 8-1.5 0 0-4-0.5 0 0-0.5-0.5 0 0-1.5-1 0 0-2-0.5 0 0 0.5-1 0 0 1-1.5 0 0-6.5-0.5 0 0-3.5-0.5 0 0 2.5-1.5 0 0-0.5-0.5 0 0-3-0.5 0 0-1.5-0.5 0 0 2.5-1 0 0 2.5-0.5 0 0 8.5-1.5 0 0-5-0.5 0 0-5.5-0.5 0 0-5-0.5 0 0-0.5-0.5 0 0-3-0.5 0 0 5.5-0.5 0 0 4-1.5 0 0-17.5-0.5 0 0 1.5-0.5 0 0 3.5-1.5 0 0-4-0.5 0 0 3-1.5 0 0-1-0.5 0 0-6.5-0.5 0 0 6-1.5 0 0-13.5-0.5 0 0 0.5-0.5 0 0 10.5-1.5 0 0-3.5-0.5 0 0-8.5-0.5 0 0 1.5-1 0 0 6.5-1 0 0 8-1 0 0 2-1.5 0 0-9-0.5 0 0 16-1.5 0 0-32-0.5 0 0 0.5-1.5 0 0-6-1 0 0-2-1 0 0 3-0.5 0 0 5-1.5 0 0-3.5-0.5 0 0-2.5-1 0 0-11.5-0.5 0 0 7-1.5 0 0-16-0.5 0 0 12.5-1.5 0 0-12.5-1 0 0 9-1.5 0 0-7.5-0.5 0 0-8-1.5 0 0-4-1.5 0 0 14-1.5 0 0-2.5-0.5 0 0-13.5-0.5 0 0-12.5-0.5 0 0 11-1.5 0 0-6-1 0 0 17.5-1.5 0 0-7.5-1 0 0-14-0.5 0 0 1-0.5 0 0 5-1.5 0 0-0.5-0.5 0 0-7.5-1.5 0 0-0.5-0.5 0 0-11-0.5 0 0-7-1 0 0 4.5-1.5 0 0-6.5-1 0 0-2.5-1 0 0-4-0.5 0 0-0.5-0.5 0 0-5.5-1 0 0 8.5-1.5 0 0-6-0.5 0Z" fill="#000"/>
<path d="M100 2133.5l1 0 0 7 0.5 0 0-0.5 1.5 0 0 0.5 0.5 0 0-1 1.5 0 0 1.5 1.5 0 0-3.5 0.5 0 0-10 0.5 0 0-1 1.5 0 0 11.5 0.5 0 0 2.5 0.5 0 0-1.5 0.5 0 0-0.5 1 0 0-12.5 1.5 0 0 5.5 1 0 0 1 0.5 0 0 2.5 1 0 0 2 0.5 0 0-3.5 0.5 0 0-1.5 0.5 0 0-3 1.5 0 0-7 1.5 0 0 3.5 0.5 0 0 9.5 0.5 0 0-15 1.5 0 0 11 0.5 0 0-5.5 1.5 0 0 2 0.5 0 0 2.5 0.5 0 0-4.5 1.5 0 0 2 1.5 0 0 1 0.5 0 0-11.5 1.5 0 0 9 0.5 0 0-0.5 1 0 0-12.5 1.5 0 0 2 0.5 0 0 1 1.5 0 0 8.5 0.5 0 0-2 0.5 0 0-5.5 1.5 0 0 1 0.5 0 0-2 1.5 0 0-13.5 1.5 0 0 8 0.5 0 0 8 0.5 0 0-2.5 0.5 0 0-7 0.5 0 0-3.5 1.5 0 0-2 1.5 0 0 10.5 0.5 0 0-4 0.5 0 0-1.5 0.5 0 0-3.5 1.5 0 0 1.5 0.5 0 0-11.5 1 0 0-5 2.5 0 0 3.5 0.5 0 0-1.5 0.5 0 0-5.5 1.5 0 0 12 1 0 0-3 0.5 0 0-1 1 0 0-4.5 1 0 0-1.5 1 0 0-2 0.5 0 0-1 1.5 0 0 4 0.5 0 0 1 0.5 0 0 1 1 0 0-1.5 1 0 0-4 1.5 0 0-3 2.5 0 0 0.5 0.5 0 0 5 1 0 0-4 0.5 0 0-8 1.5 0 0 7.5 0.5 0 0-4.5 1.5 0 0 1.5 1.5 0 0 4 0.5 0 0-1 1.5 0 0 1.5 0.5 0 0-5 1.5 0 0 6.5 0.5 0 0-5 0.5 0 0-15.5 1.5 0 0 12.5 0.5 0 0 7 0.5 0 0 2 0.5 0 0-11 1.5 0 0 7 0.5 0 0-7 1.5 0 0 5 0.5 0 0-1.5 0.5 0 0-3.5 1.5 0 0 6 0.5 0 0-6 1.5 0 0 2.5 0.5 0 0-6.5 1.5 0 0 8.5 0.5 0 0 4 0.5 0 0 7 0.5 0 0-5 0.5 0 0-3 1.5 0 0 9.5 1 0 0 2 1 0 0-7 0.5 0 0-2 1 0 0-1 1.5 0 0 0.5 0.5 0 0 4.5 0.5 0 0 9.5 0.5 0 0-0.5 2 0 0-0.5 1.5 0 0-2 0.5 0 0-1 1.5 0 0 1.5 0.5 0 0 3.5 1.5 0 0 9.5 0.5 0 0-15.5 1.5 0 0 6.5 1 0 0 1.5 0.5 0 0-6 0.5 0 0-13.5 1.5 0 0 28.5 0.5 0 0 5 0.5 0 0-4.5 0.5 0 0-1 0.5 0 0-6.5 1 0 0-4.5 1.5 0 0 11.5 0.5 0 0 0.5 0.5 0 0 5.5 1 0 0-6.5 1.5 0 0 6.5 0.5 0 0-3 1.5 0 0 1.5 0.5 0 0-0.5 1.5 0 0-7.5 0.5 0 0-0.5 0.5 0 0-1 1.5 0 0 11.5 1.5 0 0-8 0.5 0 0-1.5 1.5 0 0-5 0.5 0 0-1 1.5 0 0 15.5 0.5 0 0 1 0.5 0 0 0.5 1 0 0 11 0.5 0 0-14 1.5 0 0-1 1.5 0 0 14.5 1.5 0 0-3.5 0.5 0 0-7 1.5 0 0 2 1.5 0 0 6.5 2 0 0 0.5 1 0 0 10 1 0 0-2.5 0.5 0 0-11 1.5 0 0 1.5 0.5 0 0-1.5 1.5 0 0-0.5 1.5 0 0 5 1 0 0-1.5 0.5 0 0-2 1.5 0 0 2 0.5 0 0-9.5 1.5 0 0 15 0.5 0 0-1 1.5 0 0-1 1.5 0 0 6 1 0 0-14.5 1.5 0 0 0.5 0.5 0 0 0.5 0.5 0 0 11 1 0 0 1.5 0.5 0 0-4.5 0.5 0 0-0.5 0.5 0 0-2 1 0 0-4.5 1.5 0 0 8.5 1.5 0 0 5.5 1 0 0 0.5 0.5 0 0-7.5 1 0 0-1 1.5 0 0 5.5 0.5 0 0-5 1.5 0 0-5.5 1.5 0 0-18 1.5 0 0 20 1.5 0 0 10.5 0.5 0 0-9 1 0 0-2 0.5 0 0-10.5 1.5 0 0 9 1.5 0 0 6 0.5 0 0-0.5 1 0 0-4.5 1 0 0-0.5 1 0 0-6 1.5 0 0 2.5 1 0 0-1 0.5 0 0-2 1.5 0 0 3 0.5 0 0 1.5 1 0 0 11 0.5 0 0-6.5 1.5 0 0-11 0.5 0 0-5.5 1.5 0 0 12 0.5 0 0-1 1 0 0-6.5 1 0 0-7.5 1.5 0 0 8 0.5 0 0-1 1.5 0 0 3.5 1.5 0 0-3 1 0 0-1 0.5 0 0-2.5 1.5 0 0-3.5 1.5 0 0 8 0.5 0 0-1.5 1.5 0 0-2 1.5 0 0 1.5 1.5 0 0-14 1.5 0 0 14.5 0.5 0 0 1 0.5 0 0-13 1.5 0 0 8.5 1 0 0-3.5 1.5 0 0 1 0.5 0 0 1.5 0.5 0 0-2 0.5 0 0-5.5 1.5 0 0 2 0.5 0 0-7.5 1.5 0 0 0.5 1 0 0 10.5 0.5 0 0 6 0.5 0 0-11.5 1.5 0 0 9 0.5 0 0-10.5 1.5 0 0-0.5 1.5 0 0-12 1.5 0 0 2 1 0 0 3 0.5 0 0 1 0.5 0 0 5.5 0.5 0 0-12.5 0.5 0 0-5.5 1.5 0 0 1.5 1.5 0 0 2 0.5 0 0 1.5 1 0 0-5.5 1.5 0 0 8.5 1 0 0-2.5 1 0 0-5 1.5 0 0 4 0.5 0 0-2.5 1.5 0 0 2.5 0.5 0 0-2.5 1 0 0-3 1 0 0-5.5 1.5 0 0 4.5 0.5 0 0 1 0.5 0 0 0.5 0.5 0 0 1 0.5 0 0-7.5 0.5 0 0-4.5 0.5 0 0-0.5 1.5 0 0 6.5 1 0 0 4 1 0 0-5 1.5 0 0-5.5 1.5 0 0 2.5 0.5 0 0 2.5 0.5 0 0-1.5 0.5 0 0-11.5 1.5 0 0 2.5 1.5 0 0-12 1.5 0 0 5.5 1 0 0 9.5 0.5 0 0-7.5 1.5 0 0 2.5 1 0 0 1.5 0.5 0 0-3 0.5 0 0-6 0.5 0 0-2.5 1.5 0 0 2 1.5 0 0 0.5 0.5 0 0 2 0.5 0 0 0.5 0.5 0 0-0.5 1 0 0-9 1.5 0 0 8 0.5 0 0-6.5 0.5 0 0-7.5 1.5 0 0 2.5 0.5 0 0-1.5 1.5 0 0-2 1.5 0 0 6 0.5 0 0-4.5 1.5 0 0 1.5 0.5 0 0 2.5 1 0 0-10 1.5 0 0 1 0.5 0 0-2.5 1.5 0 0 2 0.5 0 0-4 1.5 0 0 13.5 1 0 0-3 0.5 0 0-11.5 1.5 0 0-5.5 1.5 0 0 5 1 0 0-3.5 1.5 0 0 3.5 1.5 0 0-2 0.5 0 0-6 1.5 0 0-13.5 1.5 0 0 12.5 0.5 0 0-1.5 1 0 0-2 0.5 0 0-5.5 1.5 0 0 6 0.5 0 0 2.5 0.5 0 0-3 0.5 0 0-5.5 1.5 0 0 5.5 0.5 0 0 6 0.5 0 0 1 0.5 0 0-6.5 0.5 0 0-2.5 1.5 0 0 4 0.5 0 0-8.5 1.5 0 0 4 1 0 0-1.5 1.5 0 0 2.5 1.5 0 0-4.5 0.5 0 0-2.5 1.5 0 0 2 1 0 0-6.5 1.5 0 0 8.5 1 0 0-12 1.5 0 0-8 1.5 0 0 15 0.5 0 0-4 1 0 0-8.5 1.5 0 0 12 1 0 0-3 2.5 0 0-1.5 1 0 0-1.5 0.5 0 0-6 1.5 0 0 6.5 0.5 0 0 1 0.5 0 0-4 1.5 0 0 3 1 0 0 4.5 1 0 0-7 0.5 0 0-4 1.5 0 0 2 0.5 0 0 5.5 0.5 0 0-4 1.5 0 0 1 0.5 0 0 5.5 1.5 0 0-1.5 1 0 0-7 0.5 0 0-11.5 1.5 0 0 16 1 0 0 2.5 0.5 0 0-5.5 1.5 0 0-0.5 1 0 0-1.5 1.5 0 0 4 0.5 0 0-6 1.5 0 0 7 0.5 0 0 1.5 1.5 0 0 2 0.5 0 0 0.5 1 0 0-6.5 1 0 0-2.5 1.5 0 0 4.5 1 0 0 0.5 0.5 0 0 9 1.5 0 0-2 1.5 0 0 3 0.5 0 0 0.5 0.5 0 0-15 1.5 0 0 11.5 0.5 0 0-5 1.5 0 0-15.5 1.5 0 0-2 1.5 0 0 23 0.5 0 0-6.5 1.5 0 0 7.5 0.5 0 0 5 0.5 0 0-7 1 0 0-3.5 0.5 0 0-1.5 1.5 0 0 7.5 0.5 0 0-2 1 0 0-4.5 1.5 0 0 6 0.5 0 0-4 1.5 0 0 9 1 0 0-0.5 0.5 0 0-0.5 1.5 0 0 10 0.5 0 0-4 1.5 0 0 2 0.5 0 0-3.5 1.5 0 0-7 1.5 0 0 8.5 0.5 0 0-1 2 0 0 0.5 1.5 0 0 5.5 0.5 0 0 8.5 1 0 0-5.5 1.5 0 0-1.5 1.5 0 0 4.5 0.5 0 0-3.5 1.5 0 0 6 0.5 0 0-4.5 1.5 0 0 3.5 1 0 0 1.5 0.5 0 0 7 0.5 0 0-9.5 1.5 0 0 6 0.5 0 0-2.5 1.5 0 0 8.5 0.5 0 0-5 1.5 0 0 6 1 0 0-7 1.5 0 0 2.5 0.5 0 0 2 1.5 0 0 5 0.5 0 0 0.5 1 0 0-1.5 0.5 0 0-1.5 1.5 0 0 7 0.5 0 0-15.5 1.5 0 0 13.5 1 0 0 1 1 0 0-1 1 0 0-6.5 1.5 0 0 16 0.5 0 0 0.5 1.5 0 0 1.5 0.5 0 0-3.5 0.5 0 0-2 1.5 0 0 0.5 0.5 0 0 2.5 0.5 0 0 4.5 1 0 0-6.5 1.5 0 0 6.5 0.5 0 0 7.5 0.5 0 0 5.5 1 0 0-6.5 1.5 0 0 3.5 1 0 0 2.5 0.5 0 0-7.5 0.5 0 0-5.5 1.5 0 0 10.5 1 0 0 2 1 0 0-3.5 0.5 0 0-6 1.5 0 0 6 0.5 0 0 11.5 0.5 0 0-12.5 1.5 0 0 10 1 0 0 9 1 0 0-5.5 1 0 0-1.5 1 0 0-3 1.5 0 0 6 0.5 0 0 6.5 0.5 0 0-1 0.5 0 0-2 2 0 0 9 0.5 0 0-11 1.5 0 0 2 0.5 0 0 2.5 0.5 0 0 5 0.5 0 0-3.5 1.5 0 0-4.5 1.5 0 0 3 0.5 0 0 2 1 0 0-12 1.5 0 0 5 1 0 0 10.5 2 0 0 2.5 1.5 0 0 4 0.5 0 0-3.5 2 0 0 1.5 1 0 0 2 1.5 0 0 3 0.5 0 0-1 1 0 0-1.5 0.5 0 0-3 1.5 0 0 13.5 0.5 0 0-5 1 0 0-5 1.5 0 0 3.5 0.5 0 0 1 0.5 0 0 6.5 0.5 0 0-1.5 0.5 0 0-3 1.5 0 0 0.5 0.5 0 0 3 0.5 0 0 1.5 0.5 0 0-1 0.5 0 0-7 1.5 0 0 1 0.5 0 0 1 0.5 0 0 1 1.5 0 0 4.5 2 0 0 0.5 0.5 0 0 1.5 1 0 0 1.5 1.5 0 0-2.5 1.5 0 0 3 1.5 0 0-5.5 1.5 0 0 5.5 0.5 0 0 1.5 1 0 0 1.5 0.5 0 0 4 1.5 0 0 1 0.5 0 0 1 0.5 0 0-8.5 1.5 0 0-1 1.5 0 0 8.5 0.5 0 0-0.5 0.5 0 0-5.5 1.5 0 0 3.5 0.5 0 0 1 1.5 0 0-3.5 1.5 0 0 1 0.5 0 0-1 1 0 0-1 1.5 0 0-2 1.5 0 0 9.5 0.5 0 0-7.5 1.5 0 0 1.5 0.5 0 0 0.5 0.5 0 0 6 0.5 0 0 4.5 0.5 0 0-5 0.5 0 0-4.5 1.5 0 0 4 1 0 0-5 1.5 0 0 10.5 0.5 0 0-2.5 1 0 0-3.5 1 0 0-0.5 1.5 0 0 4.5 0.5 0 0-1 1.5 0 0 6 1.5 0 0-1 1 0 0-4 2 0 0 2 1 0 0-4.5 1.5 0 0 4.5 0.5 0 0 3.5 0.5 0 0-4.5 1.5 0 0 5.5 0.5 0 0-15.5 1.5 0 0 20 0.5 0 0-7 1.5 0 0 3.5 0.5 0 0-5.5 1.5 0 0 3.5 0.5 0 0-9.5 1.5 0 0 2.5 0.5 0 0 1.5 1 0 0 6 1 0 0 6 0.5 0 0-3.5 1 0 0-5.5 1.5 0 0-15 1.5 0 0 19.5 0.5 0 0-4 0.5 0 0-5 1.5 0 0 10.5 2 0 0-3 0.5 0 0-6 1.5 0 0 8 0.5 0 0 2.5 0.5 0 0-3 1.5 0 0 1 1 0 0 2 0.5 0 0 1 1 0 0-13.5 1.5 0 0 8 0.5 0 0 3.5 1.5 0 0 0.5 1 0 0 1.5 0.5 0 0-13.5 1.5 0 0 3.5 1.5 0 0 5 1.5 0 0 2 1.5 0 0-18.5 1.5 0 0 6.5 1 0 0 1 1.5 0 0 4 1 0 0 4 1 0 0-3 1.5 0 0 1.5 1 0 0 2 0.5 0 0-2 1.5 0 0 6 0.5 0 0-5.5 1.5 0 0 9.5 0.5 0 0-2 0.5 0 0-0.5 0.5 0 0-8.5 1.5 0 0 3 0.5 0 0-3 1.5 0 0 2.5 0.5 0 0-3 1.5 0 0 2.5 0.5 0 0-1.5 1.5 0 0 7 0.5 0 0-7 1.5 0 0 2.5 1.5 0 0 0.5 1 0 0 1 0.5 0 0 4 1 0 0-6.5 1.5 0 0-0.5 1.5 0 0-2 1.5 0 0 0.5 0.5 0 0-1.5 1.5 0 0 5.5 0.5 0 0 2 0.5 0 0-3.5 1.5 0 0-7.5 1.5 0 0 0.5 1.5 0 0 3.5 0.5 0 0 2 1 0 0 4 0.5 0 0-3.5 1.5 0 0 2 0.5 0 0 1.5 1 0 0-2 2.5 0 0 2.5 2 0 0 0.5 1.5 0 0 0.5 0.5 0 0-3.5 1 0 0-2 0.5 0 0-1 1.5 0 0 6.5 0.5 0 0 3.5 1 0 0-12.5 1.5 0 0 13.5 0.5 0 0-14.5 1.5 0 0 10 1 0 0 0.5 1 0 0 3.5 0.5 0 0-2.5 1 0 0-7.5 1.5 0 0-3 0.5 0 0-3.5 1.5 0 0 6 0.5 0 0-4.5 1.5 0 0 1 0.5 0 0 6 1 0 0 0.5 0.5 0 0-2.5 1.5 0 0 7 0.5 0 0-8.5 1.5 0 0 5.5 0.5 0 0 1 0.5 0 0-12.5 1.5 0 0 4 0.5 0 0 3 0.5 0 0 7 0.5 0 0-3.5 1.5 0 0 5 1.5 0 0 4 0.5 0 0-9.5 1.5 0 0 3.5 0.5 0 0 1 0.5 0 0 1 1 0 0-3 2 0 0-16.5 1.5 0 0 15 1 0 0 3 0.5 0 0-5 1.5 0 0-4 1.5 0 0 2.5 1 0 0 3 0.5 0 0 4.5 0.5 0 0-5 0.5 0 0-4.5 1.5 0 0 4.5 0.5 0 0 4.5 0.5 0 0-9 1.5 0 0-5.5 1.5 0 0 6 1 0 0 2 1 0 0 2 1 0 0-1 1.5 0 0 0.5 1 0 0 2 0.5 0 0-1 1.5 0 0-7.5 1 0 0-6 1.5 0 0 1 0.5 0 0 8.5 0.5 0 0-1.5 0.5 0 0-1 1.5 0 0 10.5 0.5 0 0 2.5 0.5 0 0-5.5 0.5 0 0-4 2 0 0 0.5 2.5 0 0-0.5 1 0 0-2.5 0.5 0 0-0.5 1.5 0 0 0.5 0.5 0 0 4.5 1 0 0 2 0.5 0 0-13.5 1.5 0 0 13 0.5 0 0-2 1 0 0-14 1.5 0 0 7 1.5 0 0-1 1.5 0 0 5 0.5 0 0 0.5 1.5 0 0 4.5 1.5 0 0 1 1 0 0-5.5 1.5 0 0-3 1.5 0 0 1.5 0.5 0 0 5.5 0.5 0 0 1 0.5 0 0-2.5 1 0 0-8.5 1.5 0 0 4 1 0 0 5 0.5 0 0-2.5 0.5 0 0-1 1 0 0-7 1.5 0 0 7 0.5 0 0-0.5 1 0 0-6 1.5 0 0 4 1 0 0 2 1.5 0 0-6 1.5 0 0-1.5 1.5 0 0 5.5 0.5 0 0 1.5 0.5 0 0-0.5 0.5 0 0-1 1.5 0 0 1.5 0.5 0 0-5 1.5 0 0 2.5 1.5 0 0-2 1.5 0 0 5.5 1 0 0 3 1.5 0 0-5.5 1 0 0-3 1.5 0 0 3.5 1 0 0-5.5 1.5 0 0 3.5 0.5 0 0-3 1 0 0-1 1.5 0 0 6.5 0.5 0 0 2.5 1 0 0-4.5 1 0 0-5.5 1 0 0-6.5 1.5 0 0 8 0.5 0 0-1 1 0 0-2.5 1.5 0 0 12.5 0.5 0 0-17 1.5 0 0 8 1.5 0 0-6 0.5 0 0-2 1.5 0 0 3 0.5 0 0 12 0.5 0 0-6 1 0 0-1.5 1.5 0 0 2.5 0.5 0 0 2 0.5 0 0 1 0.5 0 0-0.5 1.5 0 0-6 1 0 0-4 1.5 0 0 6.5 0.5 0 0 0.5 0.5 0 0-1 1.5 0 0 1 1.5 0 0 2 0.5 0 0-19 1.5 0 0 9 1 0 0-6.5 1.5 0 0 12 0.5 0 0-2.5 0.5 0 0-8.5 1.5 0 0 9 0.5 0 0-1 1.5 0 0-9.5 1 0 0-3.5 1.5 0 0 3 0.5 0 0 1 0.5 0 0 5 0.5 0 0-3.5 1.5 0 0 2.5 0.5 0 0 4 1.5 0 0-5.5 0.5 0 0-0.5 1.5 0 0 1 0.5 0 0-3.5 1.5 0 0 5 0.5 0 0-3.5 1 0 0-3 1 0 0-4 1.5 0 0 8 1 0 0-0.5 1 0 0-3.5 1.5 0 0 4.5 0.5 0 0 1.5 0.5 0 0-7 1 0 0-1 0.5 0 0-3 1 0 0-0.5 1.5 0 0 1 1.5 0 0 4.5 0.5 0 0-4.5 1 0 0-5 1.5 0 0 1 0.5 0 0 3.5 1 0 0 1.5 1 0 0-2.5 0.5 0 0-9.5 1.5 0 0 1.5 1 0 0 0.5 0.5 0 0-1.5 2.5 0 0-13 1.5 0 0 10.5 1 0 0-3 1.5 0 0 2 1 0 0-1.5 1.5 0 0 5 1 0 0-1.5 0.5 0 0-6.5 1.5 0 0 3 1 0 0-4 1.5 0 0 0.5 0.5 0 0-0.5 1 0 0-9.5 1.5 0 0 6 0.5 0 0 8 0.5 0 0-5.5 0.5 0 0-10.5 1.5 0 0 9.5 0.5 0 0-1 1 0 0-1 1.5 0 0 0.5 0.5 0 0 4 0.5 0 0-0.5 0.5 0 0-2 0.5 0 0-3 1 0 0-7.5 1.5 0 0 2 1.5 0 0 3 0.5 0 0 2.5 0.5 0 0-10 1.5 0 0 4.5 1 0 0 4 0.5 0 0-1.5 1 0 0-0.5 1 0 0-6 1.5 0 0 0.5 0.5 0 0-1.5 1.5 0 0 3 0.5 0 0-7.5 1.5 0 0 6.5 0.5 0 0 4.5 0.5 0 0 1.5 0.5 0 0-1.5 0.5 0 0-4.5 0.5 0 0-5 1 0 0-2 1.5 0 0 3.5 1.5 0 0 0.5 0.5 0 0 1 0.5 0 0-1 0.5 0 0-1.5 1.5 0 0 5 0.5 0 0-3.5 1 0 0-8.5 1.5 0 0 9 1 0 0-2.5 1.5 0 0 3 0.5 0 0-3.5 1 0 0-3 1.5 0 0 1.5 0.5 0 0-1 1.5 0 0 8.5 0.5 0 0-3 1.5 0 0 3.5 0.5 0 0-6.5 1 0 0-2.5 1.5 0 0-3.5 1.5 0 0 8.5 1 0 0-1.5 1.5 0 0 2.5 0.5 0 0-1.5 1 0 0-3 1.5 0 0 11 1 0 0-4.5 1.5 0 0-9.5 1.5 0 0 6 1 0 0 3 0.5 0 0 2.5 1.5 0 0-0.5 1.5 0 0-1.5 3 0 0-2 1.5 0 0 2 0.5 0 0-1.5 0.5 0 0-5 1.5 0 0 2 1 0 0 5 1.5 0 0 1.5 0.5 0 0 2 0.5 0 0 0.5 0.5 0 0 1 0.5 0 0 1.5 0.5 0 0-3 0.5 0 0-1.5 0.5 0 0-8 1.5 0 0 6.5 0.5 0 0-2 1 0 0-0.5 0.5 0 0-0.5 1.5 0 0-4 1.5 0 0 11.5 0.5 0 0-6 1.5 0 0 8 1.5 0 0 0.5 1 0 0-1 1.5 0 0 1.5 1.5 0 0 1 0.5 0 0 2 0.5 0 0-4.5 0.5 0 0-0.5 1 0 0-6 1.5 0 0 13.5 0.5 0 0-5 3 0 0-4.5 1.5 0 0 6.5 0.5 0 0 4 2 0 0 2 2 0 0 2.5 1 0 0-7 1.5 0 0 1 0.5 0 0 3.5 0.5 0 0 1 1.5 0 0 3 1 0 0 0.5 0.5 0 0-5 1.5 0 0 4 1 0 0-12.5 1.5 0 0 5 0.5 0 0 1 1.5 0 0 4 0.5 0 0 5 0.5 0 0-0.5 1 0 0-1 1.5 0 0 5 1 0 0 1.5 0.5 0 0-3.5 0.5 0 0-2 0.5 0 0-4.5 1.5 0 0 4.5 1.5 0 0 1 0.5 0 0 5 0.5 0 0-6.5 1.5 0 0 2.5 0.5 0 0 3.5 1.5 0 0 1 1 0 0-4.5 0.5 0 0-1 0.5 0 0-2.5 1.5 0 0 5.5 1.5 0 0 3 1 0 0-8.5 1.5 0 0 6 0.5 0 0 3.5 0.5 0 0 0.5 0.5 0 0-0.5 0.5 0 0-1.5 0.5 0 0-4.5 1.5 0 0 7.5 0.5 0 0-4.5 0.5 0 0-3 1.5 0 0 3 0.5 0 0 3.5 1.5 0 0 1 2 0 0 1 0.5 0 0 4.5 0.5 0 0-2 0.5 0 0-3.5 2 0 0-4 1.5 0 0 4.5 1.5 0 0 1 1 0 0-1 1.5 0 0 4 1 0 0-2 1.5 0 0 2 0.5 0 0-4 1.5 0 0 6.5 1 0 0 2 0.5 0 0-4 1.5 0 0 0.5 2 0 0 2.5 0.5 0 0 3.5 1 0 0-4 1.5 0 0-0.5 0.5 0 0-1 1.5 0 0 4.5 0.5 0 0-2.5 1 0 0-1.5 2.5 0 0 2 0.5 0 0 3.5 0.5 0 0-4.5 1.5 0 0 0.5 0.5 0 0 3 0.5 0 0 1 0.5 0 0-3.5 3 0 0 1.5 1 0 0-4.5 1.5 0 0-2 1.5 0 0 3 0.5 0 0 5.5 1.5 0 0 2.5 1 0 0-3 1.5 0 0 6.5 0.5 0 0-2.5 1 0 0-2 1 0 0-5 1.5 0 0 1.5 1 0 0-2 1.5 0 0 0.5 1.5 0 0 4.5 0.5 0 0-7.5 1.5 0 0 4 1 0 0 2.5 0.5 0 0 5 0.5 0 0-3 1.5 0 0 4 0.5 0 0-13 1.5 0 0 5 0.5 0 0-2 1.5 0 0 0.5 1.5 0 0-3.5 1.5 0 0 4 2.5 0 0 9 0.5 0 0-7.5 1.5 0 0 2 1 0 0 0.5 1.5 0 0 2.5 0.5 0 0-0.5 1.5 0 0 1.5 1 0 0 2 1.5 0 0-3 1.5 0 0 2.5 1.5 0 0-4 1.5 0 0 2 1 0 0 1.5 1 0 0-0.5 1 0 0-6.5 1.5 0 0 8.5 0.5 0 0 1.5 1 0 0 3.5 0.5 0 0-3 0.5 0 0-1.5 0.5 0 0-2 0.5 0 0-1.5 1.5 0 0 0.5 0.5 0 0-3 1.5 0 0 2 0.5 0 0 1.5 1 0 0 2.5 0.5 0 0-1 1.5 0 0 5 0.5 0 0 0.5 0.5 0 0-1.5 1.5 0 0-1 1 0 0-2.5 0.5 0 0-5 1.5 0 0 1 1.5 0 0 6.5 0.5 0 0 2.5 0.5 0 0-0.5 0.5 0 0-1.5 1.5 0 0-1.5 1.5 0 0 3.5 0.5 0 0-0.5 0.5 0 0-3.5 0.5 0 0-1 1.5 0 0 1 1 0 0 0.5 0.5 0 0 1.5 0.5 0 0-0.5 1.5 0 0-5 1.5 0 0 6.5 1.5 0 0-3 0.5 0 0-2.5 1.5 0 0 6 0.5 0 0-9 1.5 0 0 1.5 0.5 0 0 5.5 0.5 0 0 0.5 0.5 0 0-4 1.5 0 0 2.5 0.5 0 0 2 2 0 0 0.5 1 0 0-0.5 1.5 0 0-1.5 2 0 0 4.5 0.5 0 0-9.5 1.5 0 0 5 1 0 0 0.5 0.5 0 0 4 0.5 0 0-3.5 1 0 0-2 1.5 0 0 1.5 0.5 0 0-1 1.5 0 0 4.5 1 0 0 1.5 0.5 0 0-2 0.5 0 0-0.5 1.5 0 0 0.5 2 0 0-6 1.5 0 0 5 1.5 0 0 1 0.5 0 0 0.5 1.5 0 0-5 1.5 0 0 4.5 0.5 0 0 0.5 0.5 0 0 3 0.5 0 0-5.5 0.5 0 0-2 1.5 0 0 5 1.5 0 0 1 1 0 0-8 1.5 0 0 10.5 0.5 0 0-2 1 0 0-1.5 0.5 0 0-1 1.5 0 0 1.5 0.5 0 0-1.5 1.5 0 0 1.5 1 0 0-2 1.5 0 0 3.5 1 0 0-3 1.5 0 0 2 0.5 0 0-2 1.5 0 0 1 1.5 0 0-1.5 1.5 0 0 1.5 0.5 0 0 1.5 2 0 0 1 0.5 0 0-2.5 0.5 0 0-1 1 0 0-2 1.5 0 0 2 2.5 0 0 3.5 0.5 0 0 2.5 0.5 0 0-5.5 2 0 0 4.5 1 0 0-0.5 1 0 0-3.5 1.5 0 0 2.5 1 0 0-3 1.5 0 0 4.5 0.5 0 0-0.5 1.5 0 0 1.5 0.5 0 0-5.5 0.5 0 0-1 1.5 0 0 4 1 0 0 2.5 1 0 0-4 1 0 0-1 2 0 0 4.5 0.5 0 0-2 1.5 0 0-2 1.5 0 0-3.5 1.5 0 0 6.5 0.5 0 0 0.5 0.5 0 0-9.5 1.5 0 0 1.5 0.5 0 0 0.5 0.5 0 0 2 1 0 0 4.5 1 0 0 4.5 0.5 0 0-5.5 0.5 0 0-2 1.5 0 0 0.5 1.5 0 0 0.5 1 0 0-0.5 1 0 0-3 0.5 0 0-4.5 1.5 0 0 4.5 1.5 0 0 4.5 1 0 0 2 0.5 0 0-0.5 1.5 0 0 2.5 0.5 0 0-3 1 0 0-0.5 1.5 0 0 1 0.5 0 0-1.5 1 0 0-0.5 1.5 0 0 3 1 0 0-0.5 1.5 0 0 1 0.5 0 0 0.5 0.5 0 0-1.5 0.5 0 0-4.5 1.5 0 0 7 0.5 0 0-3.5 0.5 0 0-2 1.5 0 0 3 0.5 0 0 1.5 0.5 0 0 3.5 1.5 0 0-6.5 1.5 0 0 0.5 1 0 0 4.5 0.5 0 0-4 1 0 0-0.5 1 0 0-1 0.5 0 0-0.5 1.5 0 0 6.5 0.5 0 0 1 0.5 0 0-4 1.5 0 0 2.5 1 0 0-1 1.5 0 0 0.5 1 0 0 1 0.5 0 0 3.5 0.5 0 0-2.5 1.5 0 0-1 1.5 0 0-1 1.5 0 0-5.5 1.5 0 0 5 0.5 0 0 2 0.5 0 0 2 0.5 0 0-2 1.5 0 0 1.5 0.5 0 0-0.5 1 0 0-1 1.5 0 0-4 1.5 0 0 7 0.5 0 0-8 1.5 0 0 5 1 0 0-7.5 1.5 0 0 9 0.5 0 0-3.5 1 0 0-4 2 0 0 2.5 1 0 0 3 0.5 0 0 0.5 2.5 0 0-3.5 1.5 0 0 1.5 0.5 0 0 1.5 1 0 0 1 0.5 0 0-1.5 0.5 0 0-6.5 1.5 0 0 5 0.5 0 0 2.5 0.5 0 0-2.5 0.5 0 0-1.5 0.5 0 0-6.5 1.5 0 0 9 1.5 0 0-1.5 1.5 0 0-2.5 0.5 0 0-1.5 1.5 0 0 7 0.5 0 0-4 1.5 0 0 7 0.5 0 0 1 0.5 0 0-1.5 0.5 0 0-1 0.5 0 0-1 1 0 0-11.5 1.5 0 0 9.5 1.5 0 0 1.5 1 0 0-2 1.5 0 0 7 0.5 0 0-5 1.5 0 0 3 0.5 0 0-3.5 0.5 0 0-1.5 1.5 0 0 0.5 1 0 0 2 1.5 0 0 1 0.5 0 0-5.5 1.5 0 0 4 1.5 0 0-5 1.5 0 0 5 1 0 0 3 1 0 0-2.5 1.5 0 0-1 1.5 0 0 2.5 0.5 0 0-0.5 0.5 0 0-2.5 1.5 0 0 2 0.5 0 0-9.5 1.5 0 0 6.5 0.5 0 0 2.5 1.5 0 0 4.5 1 0 0 1 0.5 0 0-0.5 0.5 0 0-15 1.5 0 0 13 0.5 0 0-8 1.5 0 0 6 1 0 0 1.5 0.5 0 0-3.5 1.5 0 0 3 2 0 0-0.5 1.5 0 0 3.5 0.5 0 0-11.5 1.5 0 0 4 0.5 0 0 2.5 0.5 0 0 0.5 0.5 0 0 1.5 1 0 0 0.5 0.5 0 0 0.5 0.5 0 0-1 0.5 0 0-2.5 1.5 0 0 3 0.5 0 0 0.5 0.5 0 0 2 0.5 0 0-1.5 0.5 0 0-3 1.5 0 0 0.5 0.5 0 0 3.5 0.5 0 0-6 1.5 0 0 1.5 0.5 0 0-0.5 1.5 0 0-1 0.5 0 0-1 1.5 0 0 4.5 0.5 0 0-4.5 0.5 0 0-2 1.5 0 0 3 1.5 0 0 2 0.5 0 0 1.5 0.5 0 0-0.5 1.5 0 0 3.5 0.5 0 0-4.5 1 0 0-1.5 1.5 0 0 1 0.5 0 0 1 1 0 0 1 1.5 0 0-2.5 0.5 0 0-4.5 1.5 0 0 2 1.5 0 0 5 0.5 0 0 0.5 1.5 0 0-1 0.5 0 0-1 0.5 0 0-4 1.5 0 0 6.5 1.5 0 0 1.5 1.5 0 0-3 1.5 0 0 0.5 1.5 0 0 1.5 0.5 0 0-6.5 1.5 0 0 2 0.5 0 0 7 0.5 0 0-0.5 1 0 0-5 1.5 0 0 4 0.5 0 0-6.5 1.5 0 0-4.5 1.5 0 0 12.5 0.5 0 0-0.5 1 0 0-4.5 0.5 0 0-3 0.5 0 0-2 1.5 0 0 4 2.5 0 0 1 3 0 0 0.5 0.5 0 0-1.5 1.5 0 0 1 1 0 0-6 1.5 0 0 6 1 0 0 1 0.5 0 0 0.5 1.5 0 0 0.5 0.5 0 0-9 1.5 0 0 5 1.5 0 0 3 1 0 0-0.5 1 0 0-1.5 0.5 0 0-7 1.5 0 0 1.5 0.5 0 0 6.5 1.5 0 0 1.5 1.5 0 0 2.5 0.5 0 0-0.5 0.5 0 0-1 0.5 0 0-0.5 0.5 0 0-1 1 0 0-0.5 1 0 0-0.5 1.5 0 0 0.5 1.5 0 0-6 1.5 0 0 3 1 0 0-3 1.5 0 0 0.5 0.5 0 0 7.5 1 0 0 1 0.5 0 0-3.5 1.5 0 0 0.5 1.5 0 0 1.5 0.5 0 0 2 1 0 0-3 1 0 0-0.5 1.5 0 0 0.5 0.5 0 0-7 1.5 0 0 6 0.5 0 0-1 1.5 0 0 1.5 1 0 0 0.5 1 0 0 0.5 1 0 0-1 0.5 0 0-1.5 3 0 0 1.5 2 0 0-0.5 0.5 0 0-1 1.5 0 0 5.5 0.5 0 0-2.5 1.5 0 0 2 0.5 0 0-2 1.5 0 0 2.5 0.5 0 0-2 1.5 0 0-1.5 0.5 0 0-5.5 1.5 0 0 1 0.5 0 0 7.5 0.5 0 0-4.5 1 0 0-2 1.5 0 0 5 0.5 0 0 0.5 1.5 0 0 0.5 2 0 0 0.5 0.5 0 0-0.5 0.5 0 0-3 1 0 0-1.5 1 0 0-1 1.5 0 0 0.5 0.5 0 0 4.5 0.5 0 0 1 0.5 0 0-1.5 1.5 0 0-0.5 1.5 0 0 1.5 0.5 0 0-4 1 0 0-0.5 0.5 0 0-0.5 1.5 0 0 3.5 1.5 0 0-3 0.5 0 0-0.5 1.5 0 0 3 1 0 0 3 2.5 0 0-1.5 1.5 0 0 2 0.5 0 0-7 1.5 0 0 4 1 0 0 2 0.5 0 0-2.5 0.5 0 0-4.5 0.5 0 0-0.5 1.5 0 0 3 0.5 0 0 3 1 0 0-3 2 0 0-4 1 0 0-0.5 1.5 0 0 6 1.5 0 0-7.5 1.5 0 0 8 0.5 0 0 3 0.5 0 0-1 1.5 0 0-1 1.5 0 0-1.5 1.5 0 0 1.5 0.5 0 0 1.5 1.5 0 0-2 1 0 0-2.5 1.5 0 0 3.5 1 0 0 1.5 0.5 0 0 1.5 0.5 0 0-1 0.5 0 0-2 0.5 0 0-1 1 0 0-5.5 1.5 0 0 5 1 0 0-2 1 0 0-1.5 1.5 0 0 2 0.5 0 0-9 1.5 0 0 10 2 0 0-4 1.5 0 0 5 2.5 0 0-1.5 0.5 0 0-3.5 1.5 0 0 2.5 1.5 0 0 1.5 1 0 0 5 0.5 0 0-3 0.5 0 0-6 1.5 0 0-0.5 1.5 0 0 3 1.5 0 0 4.5 1 0 0 2 0.5 0 0-2 1 0 0-1 1.5 0 0-2.5 2 0 0 3.5 0.5 0 0-0.5 1.5 0 0 0.5 0.5 0 0-5 1.5 0 0 1.5 1 0 0 4 0.5 0 0-3 1 0 0-0.5 4 0 0 1.5 0.5 0 0 3 0.5 0 0-8.5 1.5 0 0 7.5 1 0 0 2 0.5 0 0 0.5 0.5 0 0 0.5 0.5 0 0-2.5 0.5 0 0-2 1.5 0 0 3 1 0 0-2.5 0.5 0 0-1 1 0 0-5.5 1.5 0 0 7 1.5 0 0-0.5 1.5 0 0 0.5 0.5 0 0-7 2 0 0 6 0.5 0 0-3.5 1.5 0 0-1 1.5 0 0 5.5 1 0 0-5.5 1.5 0 0 1.5 1 0 0 2 1.5 0 0-3.5 1.5 0 0 7 0.5 0 0-1.5 1.5 0 0-5.5 0.5 0 0-1 2.5 0 0 4 2 0 0 1 1 0 0-4.5 2 0 0 8 0.5 0 0-0.5 1 0 0-3 1.5 0 0 3 1 0 0 2 1 0 0-3 1.5 0 0 4.5 0.5 0 0-10 1.5 0 0 7 1.5 0 0-10.5 1.5 0 0 5.5 1 0 0 2 1.5 0 0 0.5 1 0 0 0.5 0.5 0 0 2 0.5 0 0 0.5 1 0 0-1.5 1.5 0 0 0.5 0.5 0 0 0.5 0.5 0 0-1 1.5 0 0-1 1.5 0 0 0.5 2 0 0-1 0.5 0 0-1 1.5 0 0 1.5 0.5 0 0-5 1.5 0 0 3.5 1 0 0 2 0.5 0 0 3.5 0.5 0 0-6 1.5 0 0 0.5 0.5 0 0-1.5 1.5 0 0-1 1.5 0 0 1.5 1 0 0 3 0.5 0 0 0.5 1 0 0 0.5 1 0 0 1 0.5 0 0-1 1.5 0 0 0.5 0.5 0 0-5 1.5 0 0 2.5 2.5 0 0 1.5 1.5 0 0 0.5 0.5 0 0-1.5 2 0 0 4.5 0.5 0 0-1 0.5 0 0-1.5 1 0 0-4.5 1.5 0 0 2 0.5 0 0-5 1.5 0 0 1 1 0 0 2 1.5 0 0 1.5 0.5 0 0 0.5 1.5 0 0 4.5 0.5 0 0-1 0.5 0 0-0.5 2.5 0 0-3.5 2 0 0 2 0.5 0 0 1 0.5 0 0 1 2 0 0-6.5 1.5 0 0 8.5 0.5 0 0-0.5 0.5 0 0-5 1 0 0-4.5 2.5 0 0 1 1 0 0 3 0.5 0 0 1 2 0 0 2.5 0.5 0 0-3.5 1.5 0 0 2 0.5 0 0-0.5 0.5 0 0-3 1.5 0 0 5 0.5 0 0-5.5 1.5 0 0 7 0.5 0 0-0.5 0.5 0 0-4.5 1.5 0 0 3 0.5 0 0-0.5 0.5 0 0-5.5 1.5 0 0 2.5 2 0 0-6.5 1.5 0 0 3 0.5 0 0 6.5 1 0 0-4 1.5 0 0-4 1.5 0 0 7 1 0 0-2 1 0 0-2.5 1.5 0 0 0.5 1 0 0 1.5 0.5 0 0-3.5 1.5 0 0 4 1 0 0 1 0.5 0 0 2.5 1 0 0-1.5 1.5 0 0 3 0.5 0 0-7.5 1 0 0-0.5 1.5 0 0 3 1.5 0 0-3.5 1.5 0 0 2.5 0.5 0 0-5 1.5 0 0 7 0.5 0 0 0.5 0.5 0 0-1.5 1.5 0 0 1 1 0 0-2 1.5 0 0 2.5 0.5 0 0-1 1.5 0 0 2.5 1 0 0-6 1.5 0 0 2 1 0 0 0.5 0.5 0 0 1.5 0.5 0 0-0.5 0.5 0 0-3 1 0 0-0.5 1.5 0 0 0.5 1.5 0 0 1.5 1 0 0 2 0.5 0 0 0.5 0.5 0 0-3 1.5 0 0 2 0.5 0 0 2 0.5 0 0-1.5 0.5 0 0-3.5 0.5 0 0-1.5 1.5 0 0 3 0.5 0 0-2 1.5 0 0 1.5 0.5 0 0-0.5 1.5 0 0 1.5 0.5 0 0-4 1.5 0 0-3.5 1.5 0 0 1.5 1.5 0 0 3 0.5 0 0 1.5 1.5 0 0-4 1.5 0 0 3 1 0 0 3.5 0.5 0 0-5.5 1.5 0 0 3 0.5 0 0-0.5 1 0 0-2 1.5 0 0 2.5 0.5 0 0-4.5 1.5 0 0 0.5 1.5 0 0 3 1 0 0-3.5 1 0 0-1.5 0.5 0 0-3 1.5 0 0 9.5 0.5 0 0-4 0.5 0 0-1 0.5 0 0-2 0.5 0 0-1 1.5 0 0 0.5 0.5 0 0 8.5 1 0 0-0.5 1.5 0 0-5 1.5 0 0 1 0.5 0 0-4 1.5 0 0 2.5 0.5 0 0 4.5 1 0 0-4 1.5 0 0 1 1 0 0 1.5 0.5 0 0-1.5 0.5 0 0-1 2 0 0 0.5 0.5 0 0-2 1.5 0 0 7.5 0.5 0 0-8.5 1.5 0 0 3.5 0.5 0 0-2.5 0.5 0 0-2.5 1.5 0 0-1 1.5 0 0 5.5 1 0 0-4 1.5 0 0 3 1 0 0-2 1.5 0 0 2.5 0.5 0 0-0.5 0.5 0 0-1 2 0 0 3 0.5 0 0-0.5 0.5 0 0-1.5 1.5 0 0-7.5 1.5 0 0 14 0.5 0 0-2 0.5 0 0-5.5 1.5 0 0 1 0.5 0 0-0.5 1 0 0-2.5 1.5 0 0 1.5 0.5 0 0 1.5 1 0 0 0.5 0.5 0 0-1.5 1.5 0 0-1 1.5 0 0 1 1.5 0 0 3.5 0.5 0 0-1.5 1.5 0 0-0.5 0.5 0 0-0.5 0.5 0 0-0.5 0.5 0 0-3.5 1.5 0 0 2.5 0.5 0 0-1.5 1 0 0-0.5 1.5 0 0 5 0.5 0 0-2 1.5 0 0-1.5 1.5 0 0-2 1.5 0 0 2 0.5 0 0-1.5 1 0 0-8.5 1.5 0 0 12 0.5 0 0-7 1.5 0 0 5.5 0.5 0 0-5.5 1.5 0 0-3 0.5 0 0-2.5 1.5 0 0 0.5 1 0 0 6.5 0.5 0 0 1 1.5 0 0-2 1.5 0 0 3.5 1.5 0 0 1 0.5 0 0-4.5 1.5 0 0 5.5 0.5 0 0-2 0.5 0 0-5 1.5 0 0 4.5 1 0 0 3 0.5 0 0-3.5 2 0 0-1.5 1.5 0 0 1.5 0.5 0 0 1 1.5 0 0-2 1.5 0 0-2 1.5 0 0 0.5 0.5 0 0 1.5 1.5 0 0 5.5 0.5 0 0-0.5 0.5 0 0-1 0.5 0 0-3.5 1 0 0-5.5 1.5 0 0 1 0.5 0 0 5.5 0.5 0 0 2 1 0 0-1.5 0.5 0 0-0.5 1.5 0 0 0.5 0.5 0 0 0.5 0.5 0 0-7 1.5 0 0 7 0.5 0 0-0.5 1.5 0 0-0.5 1.5 0 0 0.5 0.5 0 0 2 0.5 0 0-4 1 0 0-2.5 1.5 0 0 4.5 0.5 0 0-1.5 1 0 0-2.5 1.5 0 0 3.5 1.5 0 0 0.5 0.5 0 0-1 1.5 0 0-2.5 1.5 0 0 2 0.5 0 0-6 1.5 0 0 6 1 0 0-1 0.5 0 0-0.5 2 0 0 1 1 0 0 1.5 0.5 0 0-4 0.5 0 0-1.5 1.5 0 0 5.5 0.5 0 0-1.5 1.5 0 0 2 0.5 0 0 0.5 0.5 0 0-2.5 1.5 0 0 1.5 1 0 0 1 1 0 0-4 1.5 0 0 1.5 1 0 0 4.5 0.5 0 0-0.5 1.5 0 0 2 0.5 0 0-7 1.5 0 0 1.5 0.5 0 0 2 0.5 0 0-1.5 1.5 0 0 2.5 0.5 0 0 0.5 0.5 0 0-0.5 1.5 0 0 0.5 1 0 0-2.5 0.5 0 0-2.5 1.5 0 0 0.5 0.5 0 0 4.5 1 0 0-1.5 0.5 0 0-2 1.5 0 0 1.5 1 0 0 3.5 0.5 0 0-0.5 1 0 0-5.5 1.5 0 0 2 1.5 0 0 1.5 1 0 0 1 1 0 0-3.5 2.5 0 0 2 1 0 0-1 1.5 0 0-1 1.5 0 0 4 1.5 0 0 0.5 1 0 0 3 1 0 0 1 0.5 0 0-3 1.5 0 0 1 0.5 0 0-1 0.5 0 0-3.5 1.5 0 0 1 1.5 0 0 5 1.5 0 0 1 0.5 0 0-5 1.5 0 0 1 1 0 0 0.5 0.5 0 0-2 1.5 0 0 1.5 1 0 0-1 1.5 0 0 3 1 0 0-0.5 0.5 0 0-7.5 1.5 0 0 8.5 0.5 0 0-1 0.5 0 0-4 1.5 0 0 2.5 1.5 0 0-1 0.5 0 0-2 1.5 0 0 2.5 1.5 0 0-0.5 2.5 0 0 2 1.5 0 0 3 0.5 0 0-4 2.5 0 0-1 1.5 0 0 3.5 0.5 0 0-2 1.5 0 0 2 1 0 0-2 1.5 0 0-0.5 0.5 0 0-1.5 1.5 0 0 4 1 0 0 1.5 0.5 0 0 1 1 0 0-11 1.5 0 0 4.5 1 0 0-0.5 1.5 0 0 4 0.5 0 0 4.5 0.5 0 0-4 0.5 0 0-7 1.5 0 0 5.5 1 0 0 0.5 0.5 0 0 1.5 0.5 0 0-0.5 1.5 0 0 1 0.5 0 0 3.5 0.5 0 0-10.5 1.5 0 0 5 1 0 0-9 1.5 0 0 10 0.5 0 0-1 1.5 0 0 1.5 0.5 0 0 1.5 0.5 0 0 1 0.5 0 0-2.5 1.5 0 0 3.5 0.5 0 0-4 1.5 0 0 1 0.5 0 0 1.5 0.5 0 0-1.5 1 0 0-1.5 1.5 0 0-0.5 0.5 0 0-0.5 1.5 0 0 2.5 0.5 0 0-4.5 1.5 0 0 8.5 0.5 0 0-1 0.5 0 0-4.5 1 0 0-0.5 1.5 0 0 1 1.5 0 0 1.5 0.5 0 0-3 2 0 0-1 1.5 0 0 2 1 0 0 0.5 1 0 0 2.5 1 0 0-3 1.5 0 0-4 1.5 0 0 6.5 0.5 0 0-0.5 1.5 0 0 1 0.5 0 0-4 2.5 0 0 4 0.5 0 0 1 1.5 0 0 1.5 0.5 0 0-7.5 1.5 0 0 4 0.5 0 0-3 1.5 0 0 2 0.5 0 0-1 0.5 0 0-3 1.5 0 0 1 0.5 0 0 3.5 2 0 0-2.5 1.5 0 0 3.5 0.5 0 0-1.5 3 0 0 4 0.5 0 0-4 1.5 0 0-7.5 1.5 0 0 8.5 0.5 0 0-1 1.5 0 0 2 0.5 0 0 0.5 0.5 0 0-2 1.5 0 0 0.5 1 0 0 1 1 0 0-4.5 1.5 0 0 5 1.5 0 0 2.5 0.5 0 0-0.5 1.5 0 0 1 0.5 0 0-1 1 0 0-5 0.5 0 0-3.5 1.5 0 0 8.5 0.5 0 0 0.5 0.5 0 0-0.5 0.5 0 0-1.5 1 0 0-1.5 1 0 0-1.5 1.5 0 0 1 1.5 0 0 2.5 0.5 0 0-1.5 1.5 0 0-2 2 0 0 1.5 2 0 0 1.5 0.5 0 0 4.5 0.5 0 0-3.5 2.5 0 0-10.5 1.5 0 0 9 1.5 0 0-0.5 1.5 0 0 1 0.5 0 0 0.5 1.5 0 0-1.5 2.5 0 0 2.5 1.5 0 0 0.5 0.5 0 0-3 1.5 0 0-2 1.5 0 0-3 1.5 0 0 2.5 0.5 0 0 0.5 1 0 0 2.5 1 0 0-0.5 1.5 0 0 1.5 0.5 0 0-4.5 0.5 0 0-1.5 1.5 0 0 4 1.5 0 0-5.5 0.5 0 0-1 1.5 0 0 8 1.5 0 0-2.5 1.5 0 0 4 1.5 0 0 0.5 1.5 0 0-1.5 0.5 0 0-0.5 0.5 0 0-0.5 1.5 0 0 4.5 0.5 0 0-1 0.5 0 0-0.5 0.5 0 0-0.5 3 0 0 0.5 0.5 0 0-4 1.5 0 0 2 0.5 0 0 3 0.5 0 0-2.5 0.5 0 0-5.5 1.5 0 0-3 1.5 0 0 9 0.5 0 0 1 0.5 0 0-5.5 1 0 0-1 1.5 0 0 2 0.5 0 0 2.5 0.5 0 0-4 2 0 0 1 0.5 0 0 6 0.5 0 0 0.5 0.5 0 0 11.5-1.5 0 0-4-1 0 0 5.5-1.5 0 0-4-0.5 0 0-1-1 0 0 0.5-0.5 0 0 2-0.5 0 0 2-1.5 0 0-3.5-0.5 0 0 6.5-1.5 0 0-8.5-0.5 0 0 2-0.5 0 0 5-1.5 0 0-5-0.5 0 0 0.5-2 0 0-1.5-1 0 0-0.5-0.5 0 0 1.5-1 0 0 4.5-2.5 0 0 1-1.5 0 0-2-0.5 0 0-0.5-1.5 0 0-3.5-1 0 0 1.5-1 0 0 0.5-1.5 0 0-3-0.5 0 0 3.5-2.5 0 0 1.5-1.5 0 0-4-0.5 0 0 1-1.5 0 0-1.5-1 0 0-0.5-0.5 0 0-0.5-1 0 0-0.5-0.5 0 0 7.5-1.5 0 0-4-0.5 0 0-0.5-1 0 0 0.5-1.5 0 0 1.5-1 0 0 6.5-1.5 0 0-6.5-0.5 0 0-2-1 0 0 3.5-2 0 0-5.5-0.5 0 0-0.5-0.5 0 0 1.5-1.5 0 0 0.5-1 0 0 3.5-1.5 0 0-4-0.5 0 0-0.5-0.5 0 0 5.5-0.5 0 0 0.5-1.5 0 0-4-0.5 0 0 2-1.5 0 0-2.5-0.5 0 0 0.5-1.5 0 0-2.5-0.5 0 0 1-0.5 0 0 1.5-1.5 0 0-1.5-0.5 0 0 0.5-1.5 0 0-2-0.5 0 0-0.5-0.5 0 0 2.5-1 0 0 0.5-1.5 0 0-3.5-0.5 0 0 1.5-0.5 0 0 1.5-1.5 0 0-1.5-1 0 0 4-1.5 0 0-2.5-0.5 0 0 2.5-1.5 0 0-0.5-1 0 0-2-0.5 0 0 0.5-1.5 0 0 5-1.5 0 0-4-1 0 0-2-1 0 0-1-1 0 0 1-1.5 0 0-0.5-1.5 0 0 3-1.5 0 0-1.5-1 0 0-0.5-1.5 0 0-1-0.5 0 0 6-1.5 0 0-2-1.5 0 0-4.5-0.5 0 0-2-0.5 0 0 7.5-0.5 0 0 1-1.5 0 0-1.5-1 0 0-0.5-1 0 0-4-1 0 0-1-1 0 0 2-1.5 0 0-1.5-1 0 0 4-1 0 0 3-0.5 0 0 1-1.5 0 0-5.5-1 0 0-1.5-0.5 0 0-3.5-1 0 0 4-0.5 0 0 5.5-1.5 0 0-8-2 0 0-0.5-0.5 0 0 2-1.5 0 0-1-1 0 0 1.5-1.5 0 0-1-1 0 0-3-0.5 0 0 2-0.5 0 0 0.5-3 0 0 6.5-1.5 0 0-6.5-1 0 0 1.5-1 0 0 1.5-1.5 0 0-1-1 0 0 5-1.5 0 0-5-0.5 0 0-2-0.5 0 0 6-1.5 0 0-6.5-0.5 0 0 0.5-0.5 0 0 1-1 0 0 4.5-1.5 0 0-5-0.5 0 0 0.5-1 0 0 1-1.5 0 0-3.5-0.5 0 0 1.5-1.5 0 0-1-0.5 0 0-0.5-1.5 0 0 0.5-0.5 0 0 2-1.5 0 0-0.5-0.5 0 0-0.5-1 0 0-1.5-0.5 0 0-1-1 0 0 2-0.5 0 0 1-1.5 0 0-1-0.5 0 0-0.5-0.5 0 0-1-0.5 0 0 3.5-1.5 0 0-3.5-2 0 0-0.5-1 0 0 1-1 0 0 1.5-0.5 0 0 5.5-1.5 0 0-1.5-1.5 0 0-2.5-2 0 0-3.5-0.5 0 0 0.5-1.5 0 0 1.5-0.5 0 0 2-1 0 0 3.5-1.5 0 0-3-0.5 0 0-4.5-0.5 0 0 1.5-1.5 0 0 0.5-1 0 0 1-1.5 0 0-1.5-1.5 0 0-2.5-0.5 0 0-1-0.5 0 0 2-0.5 0 0 5-1 0 0 1-1.5 0 0-4-0.5 0 0-2-0.5 0 0-2-0.5 0 0 8.5-1.5 0 0-3.5-1.5 0 0 2-1.5 0 0-5-0.5 0 0 0.5-0.5 0 0 0.5-2.5 0 0-4-0.5 0 0 2.5-1.5 0 0-2.5-0.5 0 0 1-0.5 0 0 4-1.5 0 0-3-1.5 0 0 3-1.5 0 0-1-1 0 0-0.5-1.5 0 0-4-0.5 0 0 1.5-1.5 0 0-2.5-1 0 0 5-1.5 0 0-0.5-0.5 0 0-0.5-0.5 0 0-2.5-1 0 0 2-1.5 0 0-1-0.5 0 0-3-1.5 0 0 2.5-1 0 0 4.5-1.5 0 0-2-0.5 0 0-1-1 0 0-0.5-0.5 0 0-0.5-0.5 0 0-1-0.5 0 0 0.5-1.5 0 0 0.5-1 0 0 1-1 0 0 0.5-1.5 0 0-1-0.5 0 0-1.5-1 0 0-1-0.5 0 0 0.5-0.5 0 0 0.5-0.5 0 0 2-1.5 0 0-3-0.5 0 0-1-0.5 0 0 0.5-1.5 0 0 1-0.5 0 0 3.5-1.5 0 0-3.5-0.5 0 0-3.5-0.5 0 0 1-0.5 0 0 1-0.5 0 0 3.5-0.5 0 0 0.5-2 0 0-3.5-1 0 0 3-1.5 0 0-2-1 0 0 3.5-1.5 0 0-4-0.5 0 0 1-0.5 0 0 1.5-0.5 0 0 2.5-1.5 0 0-6-0.5 0 0 1.5-1.5 0 0 1.5-1.5 0 0-0.5-1.5 0 0-3-0.5 0 0 3.5-1.5 0 0 3-1.5 0 0-5.5-2 0 0-1.5-1 0 0 1.5-1 0 0 5-1.5 0 0-2.5-1 0 0-3-0.5 0 0 2.5-1.5 0 0-1.5-1.5 0 0-1.5-0.5 0 0 4.5-1 0 0 0.5-1.5 0 0-3-0.5 0 0 4-1.5 0 0-4.5-0.5 0 0 3.5-1.5 0 0-5.5-0.5 0 0-1-1 0 0-0.5-0.5 0 0 1-1 0 0 3-2.5 0 0-3-0.5 0 0-2-0.5 0 0 2.5-1.5 0 0-1.5-0.5 0 0 2-0.5 0 0 3-1.5 0 0-2-0.5 0 0 2-1.5 0 0-1-1.5 0 0-1-1 0 0-0.5-1 0 0 1-0.5 0 0 1.5-1.5 0 0-5-0.5 0 0-0.5-1 0 0 6.5-1.5 0 0-0.5-1 0 0-0.5-0.5 0 0 0.5-1.5 0 0-0.5-0.5 0 0-4.5-0.5 0 0 1-1.5 0 0 2-0.5 0 0 1-1.5 0 0-0.5-1 0 0-0.5-0.5 0 0-0.5-0.5 0 0-1-0.5 0 0 2-0.5 0 0 0.5-1.5 0 0-0.5-1.5 0 0-6-0.5 0 0 6.5-1 0 0 1-1.5 0 0-1.5-0.5 0 0 0.5-1.5 0 0-3-0.5 0 0 2.5-1 0 0 0.5-1.5 0 0-2-1 0 0 3-0.5 0 0 4.5-1.5 0 0-3-1 0 0-2-0.5 0 0-1.5-0.5 0 0 0.5-0.5 0 0 1-1 0 0 2.5-0.5 0 0 0.5-1.5 0 0-6.5-0.5 0 0 3.5-0.5 0 0 1-0.5 0 0 1-1.5 0 0 0.5-1.5 0 0-4.5-0.5 0 0 5.5-1.5 0 0-4.5-0.5 0 0 2-1.5 0 0 3-1.5 0 0-4.5-0.5 0 0 1-1.5 0 0 3.5-1.5 0 0-3.5-0.5 0 0 5.5-2 0 0-6-1 0 0 1.5-2 0 0 0.5-2 0 0 2-1.5 0 0 3-1.5 0 0-3.5-0.5 0 0-3.5-0.5 0 0 1.5-1.5 0 0-1-0.5 0 0 2-1 0 0 0.5-0.5 0 0 2-1.5 0 0-2-0.5 0 0 1.5-0.5 0 0 0.5-1.5 0 0-1.5-0.5 0 0 6-1 0 0 1-1.5 0 0-9-1 0 0 1.5-1.5 0 0 2-1.5 0 0-4-0.5 0 0 8-1.5 0 0-7.5-1 0 0 1-0.5 0 0 2.5-1.5 0 0 1.5-1.5 0 0-5-0.5 0 0 3.5-1 0 0 3-0.5 0 0 2.5-1.5 0 0-4.5-0.5 0 0-4-0.5 0 0 2-0.5 0 0 4.5-1.5 0 0-3.5-0.5 0 0 2-1 0 0 1-1.5 0 0-4.5-1 0 0 5.5-1.5 0 0-4-0.5 0 0-1.5-1 0 0 1-0.5 0 0 2.5-1.5 0 0 3.5-1.5 0 0-2.5-2.5 0 0-3-0.5 0 0-2.5-1 0 0-1-1 0 0 4.5-1.5 0 0 1-1.5 0 0-1.5-1.5 0 0 6.5-1.5 0 0-3-0.5 0 0-1.5-1 0 0 0.5-1.5 0 0-1.5-1 0 0-2-0.5 0 0 5-1.5 0 0-1-1 0 0-1.5-1 0 0-1.5-0.5 0 0 0.5-0.5 0 0 8.5-1.5 0 0-8-1 0 0-0.5-1 0 0-3.5-1 0 0 9.5-1.5 0 0-3.5-0.5 0 0 3.5-1.5 0 0-4.5-0.5 0 0-0.5-0.5 0 0 2-1 0 0 0.5-1.5 0 0-2-1 0 0 0.5-1.5 0 0-2-0.5 0 0 0.5-1.5 0 0-1-0.5 0 0-0.5-0.5 0 0 2-1.5 0 0 5-1.5 0 0-2-3 0 0-2.5-0.5 0 0-0.5-1 0 0-0.5-0.5 0 0 9-1.5 0 0-9.5-0.5 0 0 0.5-0.5 0 0 6-1.5 0 0-5-1.5 0 0 0.5-0.5 0 0 5-1.5 0 0-2-1 0 0 4-2 0 0-4-0.5 0 0-5-0.5 0 0 1.5-2.5 0 0 3.5-1.5 0 0-2-1.5 0 0-3.5-1 0 0 9-1.5 0 0-1.5-1 0 0-2-0.5 0 0-2.5-0.5 0 0-0.5-0.5 0 0 1.5-1 0 0 1.5-1.5 0 0-2-1.5 0 0-0.5-1.5 0 0-1.5-0.5 0 0-0.5-0.5 0 0 0.5-2 0 0 7.5-1.5 0 0-5.5-0.5 0 0 0.5-0.5 0 0 2-1.5 0 0 2.5-1.5 0 0-2-1 0 0-2-1 0 0-0.5-0.5 0 0 5-1.5 0 0 4.5-1.5 0 0-9-1.5 0 0 1.5-0.5 0 0 5-1.5 0 0-7-0.5 0 0-2-1 0 0 2-1.5 0 0 4.5-1.5 0 0-5-0.5 0 0 4-2 0 0 1-1.5 0 0-3.5-1.5 0 0 4-1.5 0 0-3.5-0.5 0 0-3.5-0.5 0 0 1-1 0 0 4.5-1.5 0 0-4.5-0.5 0 0 1.5-2.5 0 0-1.5-1.5 0 0-1-2 0 0-1-0.5 0 0 3-1.5 0 0 0.5-1.5 0 0 1-1.5 0 0-0.5-1.5 0 0-2-0.5 0 0 3.5-1.5 0 0-2-0.5 0 0-0.5-0.5 0 0 2.5-0.5 0 0 1.5-1.5 0 0-7-0.5 0 0 4.5-1.5 0 0-2-1 0 0 1-1.5 0 0 2.5-1.5 0 0-1-1 0 0-2-1.5 0 0 1-1 0 0 5.5-2 0 0-6.5-1 0 0 0.5-0.5 0 0 4-1.5 0 0-1.5-0.5 0 0 2-1.5 0 0-2-1 0 0 3.5-2 0 0-3-1 0 0-1-1 0 0 1-1.5 0 0-4-0.5 0 0 2.5-1.5 0 0-3.5-0.5 0 0 4.5-1.5 0 0-2-0.5 0 0-1.5-1.5 0 0-0.5-1.5 0 0 6-1.5 0 0-7-1.5 0 0-0.5-1 0 0 6.5-1.5 0 0-1.5-0.5 0 0-6-0.5 0 0 3-1.5 0 0 2.5-1.5 0 0-3-1 0 0-0.5-1.5 0 0 2-1.5 0 0 0.5-1.5 0 0-2-1 0 0 0.5-2.5 0 0-1-3 0 0-1-0.5 0 0 2-1.5 0 0 2-1.5 0 0-2-1.5 0 0-1-0.5 0 0-0.5-1 0 0-0.5-0.5 0 0 2.5-1.5 0 0-1.5-1 0 0-2-0.5 0 0 3.5-0.5 0 0 9-1.5 0 0-11.5-0.5 0 0-3-0.5 0 0 5.5-0.5 0 0 1.5-1.5 0 0-1-0.5 0 0-1-1 0 0-1.5-0.5 0 0-1-0.5 0 0 1-1 0 0 0.5-0.5 0 0 1.5-0.5 0 0 5-1.5 0 0-6.5-0.5 0 0-0.5-0.5 0 0 3.5-1.5 0 0-3-1.5 0 0 0.5-1.5 0 0-2-0.5 0 0-2.5-0.5 0 0 2-0.5 0 0 4.5-1.5 0 0-2-1 0 0 2-1.5 0 0-3-0.5 0 0 1.5-1.5 0 0 2.5-2 0 0-5.5-1 0 0 8.5-1.5 0 0-5-1 0 0-2-0.5 0 0 2-1.5 0 0-3-1.5 0 0 3.5-0.5 0 0 1.5-1.5 0 0-3.5-1 0 0 1.5-1.5 0 0-3-1 0 0 3.5-1.5 0 0-7.5-1 0 0 1-0.5 0 0 1.5-0.5 0 0 0.5-1.5 0 0-2-0.5 0 0 3.5-0.5 0 0 9-1.5 0 0-6.5-0.5 0 0 0.5-0.5 0 0 1-1.5 0 0-6-0.5 0 0 1.5-1.5 0 0-3-0.5 0 0 1-0.5 0 0 1.5-2 0 0 8.5-1.5 0 0-2-1.5 0 0-1.5-1 0 0-6-0.5 0 0 3-1 0 0 1.5-1.5 0 0-4-0.5 0 0-0.5-0.5 0 0-1-0.5 0 0 3.5-1.5 0 0 5.5-1.5 0 0-4.5-0.5 0 0-3-0.5 0 0 5-1.5 0 0-2-1 0 0-1-1 0 0-2.5-0.5 0 0 6.5-1.5 0 0-0.5-0.5 0 0-1-0.5 0 0 1-0.5 0 0 3.5-1.5 0 0-6.5-1 0 0 2.5-1.5 0 0 0.5-1.5 0 0-2.5-1.5 0 0-5.5-1.5 0 0 2.5-0.5 0 0 5-2 0 0-7-0.5 0 0 2.5-0.5 0 0 0.5-0.5 0 0 5-1.5 0 0-3.5-1.5 0 0 5-1.5 0 0-3.5-1.5 0 0-3.5-0.5 0 0-1-1 0 0 4-1.5 0 0-0.5-1 0 0-0.5-1.5 0 0-1-1 0 0 2-0.5 0 0 0.5-1 0 0 1-2.5 0 0 2.5-1.5 0 0-1.5-1 0 0-3.5-1 0 0 0.5-1.5 0 0-1.5-0.5 0 0 2.5-3 0 0-0.5-1 0 0 2-1.5 0 0-1.5-0.5 0 0 1.5-1.5 0 0-0.5-0.5 0 0-2-1 0 0-1.5-1 0 0-0.5-1 0 0-2-0.5 0 0 0.5-1 0 0 0.5-0.5 0 0 2-1.5 0 0 1-1.5 0 0-0.5-1 0 0-0.5-1 0 0 2-3 0 0-4.5-0.5 0 0 2-0.5 0 0 2-0.5 0 0 1-1.5 0 0-2-0.5 0 0 0.5-1.5 0 0-3-0.5 0 0-1.5-0.5 0 0 3.5-0.5 0 0 2.5-1.5 0 0-5.5-0.5 0 0-0.5-0.5 0 0 3.5-0.5 0 0 4-1.5 0 0-7-0.5 0 0 4.5-0.5 0 0 7-1.5 0 0-5-1.5 0 0-3-1 0 0-1.5-0.5 0 0-0.5-1 0 0 3-1.5 0 0-1.5-1 0 0-1-0.5 0 0-2.5-0.5 0 0 2.5-0.5 0 0 1.5-0.5 0 0 4-2 0 0-0.5-0.5 0 0-6.5-1 0 0-1.5-0.5 0 0 8.5-1.5 0 0 1.5-1.5 0 0-6-1 0 0-2-0.5 0 0 0.5-1 0 0 2.5-1.5 0 0-1-1.5 0 0 1.5-2 0 0-1.5-0.5 0 0-1-0.5 0 0 2-1.5 0 0-2-1 0 0 6.5-0.5 0 0 0.5-1.5 0 0-5.5-0.5 0 0-1.5-0.5 0 0 0.5-0.5 0 0 3-0.5 0 0 4-1.5 0 0-5.5-0.5 0 0-1-1 0 0 0.5-1 0 0 4.5-1.5 0 0-3.5-1.5 0 0-0.5-1 0 0-4-1 0 0 2.5-1 0 0 0.5-1 0 0 0.5-0.5 0 0 4-1.5 0 0-0.5-1.5 0 0-2-1 0 0-2-1 0 0-0.5-0.5 0 0 0.5-1.5 0 0-1-0.5 0 0-0.5-1.5 0 0-0.5-1 0 0-2.5-0.5 0 0 7.5-1.5 0 0-5-0.5 0 0 5.5-1.5 0 0-4-1 0 0-1.5-0.5 0 0-1-0.5 0 0 4-1.5 0 0-3.5-0.5 0 0 2-0.5 0 0 1.5-1.5 0 0-3.5-1 0 0 2.5-0.5 0 0 3-1.5 0 0-3-0.5 0 0 4-1.5 0 0-3-0.5 0 0 2-0.5 0 0 4.5-1.5 0 0-1.5-1 0 0-6-0.5 0 0 0.5-1.5 0 0-1.5-0.5 0 0 1-1.5 0 0-1-2.5 0 0-4.5-0.5 0 0 1-0.5 0 0 5.5-1.5 0 0 2.5-1.5 0 0-6.5-0.5 0 0 2.5-0.5 0 0 0.5-1 0 0 0.5-0.5 0 0 4.5-1.5 0 0-6.5-0.5 0 0 2.5-2 0 0 2.5-1 0 0 7-1.5 0 0-8.5-1.5 0 0-2.5-1 0 0 2.5-1.5 0 0-2.5-1 0 0-0.5-0.5 0 0-1.5-0.5 0 0 3.5-1 0 0 1-1.5 0 0-3-1.5 0 0 2.5-1 0 0 0.5-1.5 0 0-3-0.5 0 0-4-0.5 0 0 4-1.5 0 0 3-1.5 0 0-3-0.5 0 0 3-1.5 0 0-4-0.5 0 0 2-2 0 0-2-1 0 0-3-0.5 0 0 0.5-1.5 0 0 1-0.5 0 0 0.5-0.5 0 0 1.5-0.5 0 0 4-1.5 0 0-5-0.5 0 0-2-0.5 0 0 6-1.5 0 0-3.5-1.5 0 0-1.5-0.5 0 0-2-0.5 0 0 4-1.5 0 0 2.5-1.5 0 0-2-0.5 0 0-0.5-0.5 0 0 3.5-1.5 0 0-7.5-0.5 0 0-1.5-0.5 0 0 3-1.5 0 0-1-1.5 0 0 1-1.5 0 0 4.5-1.5 0 0-1.5-0.5 0 0-4.5-1 0 0 1.5-0.5 0 0 2-1 0 0 2-1.5 0 0-1-0.5 0 0-4-1.5 0 0-1-1 0 0-2-0.5 0 0 0.5-0.5 0 0 2-0.5 0 0 2-0.5 0 0 0.5-1.5 0 0 1.5-1.5 0 0-0.5-0.5 0 0-5.5-1.5 0 0 2.5-0.5 0 0 3-1.5 0 0-4.5-0.5 0 0 5-1.5 0 0 2.5-1.5 0 0-2.5-1.5 0 0-4.5-0.5 0 0 2-1 0 0 1.5-1.5 0 0-0.5-0.5 0 0 0.5-1.5 0 0-1.5-1 0 0 2.5-1.5 0 0-4-0.5 0 0 6.5-1.5 0 0-3.5-1 0 0-2.5-1 0 0 2.5-1 0 0 2.5-0.5 0 0 1-1.5 0 0-1.5-0.5 0 0-7-0.5 0 0-1-0.5 0 0 2.5-0.5 0 0 1.5-0.5 0 0 2.5-1.5 0 0-0.5-1 0 0-2.5-1 0 0-1-0.5 0 0-3-0.5 0 0 0.5-0.5 0 0 1-0.5 0 0 1.5-1.5 0 0-0.5-0.5 0 0 5-1.5 0 0-2.5-1 0 0-0.5-1.5 0 0 0.5-1.5 0 0-1-0.5 0 0-3-0.5 0 0 4-1 0 0 0.5-1.5 0 0-4.5-0.5 0 0 2-1.5 0 0-1.5-2.5 0 0 0.5-1.5 0 0-3.5-0.5 0 0 2-0.5 0 0 2.5-0.5 0 0 4.5-1.5 0 0-2-0.5 0 0 2.5-2 0 0-4-1.5 0 0-2.5-0.5 0 0 0.5-1.5 0 0-1-0.5 0 0 1-2.5 0 0-1.5-1 0 0 11-1.5 0 0-8-1.5 0 0-3.5-0.5 0 0 5-0.5 0 0 0.5-1.5 0 0-5.5-1.5 0 0-3-0.5 0 0 4-1.5 0 0-1-0.5 0 0 3.5-1.5 0 0-3.5-0.5 0 0-0.5-0.5 0 0 3-1 0 0 5.5-1.5 0 0-7.5-0.5 0 0-1.5-0.5 0 0 2.5-2.5 0 0-0.5-1.5 0 0-5-0.5 0 0 14-0.5 0 0 4.5-1.5 0 0-8-1.5 0 0-5-1 0 0 3.5-1.5 0 0-5.5-0.5 0 0 11-1.5 0 0-6-1.5 0 0-6.5-0.5 0 0 2-1 0 0 4.5-1.5 0 0-1.5-0.5 0 0-4.5-1 0 0-0.5-1 0 0 6.5-1.5 0 0-4.5-1.5 0 0-2-1.5 0 0-1-1.5 0 0 4-1.5 0 0 2.5-1.5 0 0-1.5-1 0 0-3-0.5 0 0-1-1 0 0 1-0.5 0 0 1-1.5 0 0-4-0.5 0 0 6.5-0.5 0 0 7.5-1.5 0 0-3.5-1.5 0 0-5.5-0.5 0 0-6.5-0.5 0 0 1.5-0.5 0 0 0.5-0.5 0 0 1.5-1.5 0 0-1.5-2 0 0 1.5-0.5 0 0 3-1.5 0 0-1-0.5 0 0 1-1.5 0 0-5-1.5 0 0 5-1.5 0 0 5-1.5 0 0-9-0.5 0 0-0.5-0.5 0 0 0.5-2 0 0-1-1 0 0 2.5-0.5 0 0 1.5-1 0 0 2.5-1.5 0 0 0.5-1.5 0 0-3-1.5 0 0 7-1.5 0 0-7.5-2 0 0-4.5-0.5 0 0 3-1.5 0 0-2.5-1 0 0 3.5-1.5 0 0-2.5-1.5 0 0 22-1.5 0 0-22-0.5 0 0 3-1 0 0 2-1.5 0 0-0.5-0.5 0 0-2-0.5 0 0 2.5-3 0 0-4-1.5 0 0-4-0.5 0 0 4.5-1.5 0 0-2-1 0 0 0.5-0.5 0 0 2.5-1 0 0 6.5-1.5 0 0-4-1 0 0-6-1 0 0 5.5-1.5 0 0-3-0.5 0 0 2.5-1.5 0 0-3.5-0.5 0 0-1.5-1 0 0-0.5-2 0 0-0.5-1 0 0-3-0.5 0 0 8.5-1.5 0 0-2.5-0.5 0 0-2-0.5 0 0-1-0.5 0 0-1-0.5 0 0 5-1 0 0 5-1.5 0 0-9-2 0 0 3-1.5 0 0-6-0.5 0 0 5-0.5 0 0 2.5-1.5 0 0-2-1.5 0 0-5-1 0 0 1.5-1.5 0 0-1-0.5 0 0-2-0.5 0 0-1.5-0.5 0 0 1.5-1 0 0 4.5-1.5 0 0-0.5-1.5 0 0-2-0.5 0 0-1.5-0.5 0 0-2-1 0 0 3.5-1.5 0 0-4-1.5 0 0 1.5-1 0 0 2-0.5 0 0 1-1.5 0 0-2-0.5 0 0-1.5-0.5 0 0 8-1 0 0 3-1.5 0 0-7.5-1.5 0 0-2-0.5 0 0-3-0.5 0 0-0.5-1 0 0-1-0.5 0 0 1-0.5 0 0 1.5-1 0 0 4-1.5 0 0-1.5-0.5 0 0-2.5-1 0 0 4-1.5 0 0-1-0.5 0 0-9.5-0.5 0 0 8-1.5 0 0-2.5-1 0 0 1.5-1.5 0 0-3.5-2.5 0 0 2.5-1.5 0 0-1-1 0 0 0.5-0.5 0 0 8-1.5 0 0-7.5-0.5 0 0 6.5-1.5 0 0-8-0.5 0 0 5-1.5 0 0-10-0.5 0 0 1.5-1 0 0 3.5-1.5 0 0-3-2 0 0 5.5-0.5 0 0 1-1.5 0 0-3-0.5 0 0 2-1 0 0 3-1.5 0 0-6-1 0 0-0.5-1.5 0 0 4-0.5 0 0 4-1.5 0 0-9-0.5 0 0-1-1.5 0 0-1-0.5 0 0 2-0.5 0 0 1.5-1.5 0 0-4-0.5 0 0-0.5-0.5 0 0-4.5-0.5 0 0 5-1 0 0 1.5-0.5 0 0 2-0.5 0 0 5-2.5 0 0-2-1 0 0-7.5-1.5 0 0-2-0.5 0 0 3-1 0 0 1.5-1.5 0 0-6-0.5 0 0 3-0.5 0 0 1.5-1.5 0 0-1.5-1.5 0 0-0.5-2 0 0-1-1 0 0-1.5-0.5 0 0-1.5-0.5 0 0 1-1 0 0 1-1 0 0 8.5-0.5 0 0 1-1.5 0 0-16-0.5 0 0 3-1.5 0 0-0.5-1.5 0 0-0.5-1.5 0 0 4-1.5 0 0-6.5-1 0 0-4-0.5 0 0 5.5-0.5 0 0 6.5-1.5 0 0-4.5-0.5 0 0-0.5-1.5 0 0 1.5-0.5 0 0 2-1.5 0 0-6.5-0.5 0 0 1-1.5 0 0-4.5-1.5 0 0-3-0.5 0 0 0.5-1.5 0 0 5-1.5 0 0 1.5-1.5 0 0-4-1 0 0 2.5-1 0 0 0.5-1.5 0 0-4.5-0.5 0 0 3.5-1.5 0 0-2-0.5 0 0-7-0.5 0 0 1.5-1.5 0 0 2-0.5 0 0 2-1.5 0 0-5.5-0.5 0 0-0.5-1 0 0 3.5-0.5 0 0 1-1.5 0 0 1.5-1.5 0 0-4.5-2 0 0-0.5-0.5 0 0 5.5-1.5 0 0-0.5-1 0 0-6.5-1.5 0 0-5-0.5 0 0-0.5-0.5 0 0 3-0.5 0 0 3-0.5 0 0 1-0.5 0 0 1.5-1.5 0 0-4.5-1.5 0 0-5.5-0.5 0 0 2.5-1.5 0 0-2-0.5 0 0 8-3 0 0 4-1.5 0 0-17-1.5 0 0 2-0.5 0 0 4-0.5 0 0 6-1.5 0 0-9.5-0.5 0 0 9-1.5 0 0-6-1.5 0 0 3.5-1.5 0 0-4.5-0.5 0 0-2-1.5 0 0-3.5-0.5 0 0 4.5-1.5 0 0-0.5-1 0 0 0.5-1.5 0 0 1-0.5 0 0 5.5-1.5 0 0-17-1 0 0 4.5-0.5 0 0 0.5-1.5 0 0-5.5-0.5 0 0 5.5-1 0 0 5-1.5 0 0-9.5-1 0 0 4-1.5 0 0-4.5-1 0 0 0.5-0.5 0 0 4.5-0.5 0 0 1-1.5 0 0-3.5-1 0 0 0.5-0.5 0 0 1.5-1 0 0 4.5-1.5 0 0-6-0.5 0 0-2.5-0.5 0 0-1-0.5 0 0-1-0.5 0 0 5-1 0 0 0.5-0.5 0 0 3-1.5 0 0-7-0.5 0 0 1.5-0.5 0 0 2-0.5 0 0 2-1.5 0 0-1-0.5 0 0-2.5-0.5 0 0-5-0.5 0 0 3-1.5 0 0 2-1.5 0 0-3-0.5 0 0 1.5-1 0 0 3-1 0 0 0.5-0.5 0 0 0.5-1.5 0 0-3-0.5 0 0-1-0.5 0 0-3-1.5 0 0 2-1 0 0 0.5-1.5 0 0 0.5-1.5 0 0-1-1 0 0 1.5-2 0 0 2-0.5 0 0 0.5-1.5 0 0 1-1.5 0 0-0.5-0.5 0 0-2-0.5 0 0-2.5-0.5 0 0 5-0.5 0 0 5-1.5 0 0-2-1 0 0-3-1 0 0-1-1.5 0 0 12.5-1.5 0 0-15-0.5 0 0-0.5-1 0 0-0.5-0.5 0 0 2.5-0.5 0 0 1.5-0.5 0 0 7.5-1.5 0 0-1.5-0.5 0 0-4-1 0 0-2-1 0 0 2-0.5 0 0 5-1 0 0 1.5-0.5 0 0 0.5-1 0 0 5-1.5 0 0-2-1.5 0 0-1.5-1.5 0 0-3-0.5 0 0 3-1 0 0 1.5-0.5 0 0 4.5-1.5 0 0-3-1 0 0-1-0.5 0 0 1-0.5 0 0 1.5-1 0 0 6.5-1.5 0 0-1.5-1.5 0 0-4.5-0.5 0 0-4.5-0.5 0 0 2.5-0.5 0 0 7.5-1.5 0 0-1.5-0.5 0 0 5-1.5 0 0-6.5-1 0 0-7.5-0.5 0 0 9.5-1.5 0 0 8-1.5 0 0-4.5-0.5 0 0 2-0.5 0 0 3-1.5 0 0-4-1 0 0-0.5-0.5 0 0 0.5-0.5 0 0 5.5-1.5 0 0-8-0.5 0 0 6-0.5 0 0 3-1.5 0 0-1-0.5 0 0 0.5-1 0 0 8-1.5 0 0-2-1.5 0 0 1-2.5 0 0-3-1.5 0 0 0.5-0.5 0 0 2.5-1 0 0 4-1.5 0 0-3-0.5 0 0-1.5-0.5 0 0-5.5-0.5 0 0 6-2 0 0 2-1.5 0 0-3.5-1 0 0 0.5-1 0 0 3.5-0.5 0 0 4.5-1 0 0 2-3 0 0 3.5-1.5 0 0-1-1.5 0 0-7.5-0.5 0 0 4-1.5 0 0-3-0.5 0 0 3.5-1 0 0 7-1.5 0 0 3.5-2 0 0-9.5-1 0 0 2-0.5 0 0 4.5-1 0 0 3-4 0 0-1-0.5 0 0-5.5-1 0 0-0.5-0.5 0 0 4-0.5 0 0 6.5-1.5 0 0-2-1.5 0 0-1-0.5 0 0-4-0.5 0 0 5.5-0.5 0 0 2-1.5 0 0-8-0.5 0 0 4-1.5 0 0-2.5-0.5 0 0 1-1 0 0 9-1.5 0 0-5-1 0 0 4-1.5 0 0-7-0.5 0 0 5-1.5 0 0-9-0.5 0 0-1.5-0.5 0 0 10.5-1 0 0 8.5-1.5 0 0-9.5-1 0 0-3.5-0.5 0 0 8.5-1.5 0 0-1.5-1.5 0 0-2.5-0.5 0 0-2.5-0.5 0 0 3.5-1 0 0 4.5-1.5 0 0-7-0.5 0 0-1-0.5 0 0 2.5-1.5 0 0-1-0.5 0 0 0.5-1.5 0 0 1-1.5 0 0-3-0.5 0 0 5-0.5 0 0 1-1.5 0 0-5-0.5 0 0 5.5-1.5 0 0-0.5-1 0 0 7.5-1.5 0 0-12-2 0 0 4-1.5 0 0-2.5-1 0 0 5-1.5 0 0-4.5-0.5 0 0 7-1.5 0 0-6.5-1.5 0 0-0.5-0.5 0 0-1-1 0 0-2-0.5 0 0 6.5-1.5 0 0-1-0.5 0 0 0.5-1.5 0 0-10-0.5 0 0-0.5-0.5 0 0 2.5-1 0 0 1-1 0 0 0.5-1.5 0 0-0.5-0.5 0 0 0.5-0.5 0 0 14.5-1.5 0 0-8.5-1 0 0 1-1.5 0 0-4-0.5 0 0 4-0.5 0 0 2.5-1.5 0 0-4.5-1 0 0-3-0.5 0 0 2-0.5 0 0 2.5-1.5 0 0 4.5-1.5 0 0-3-1 0 0-5-1 0 0-0.5-1 0 0 8-1.5 0 0-12-0.5 0 0 3-1.5 0 0 2-1 0 0 2.5-1.5 0 0-4.5-1 0 0 5-1.5 0 0-1-0.5 0 0 1-1 0 0 1.5-1.5 0 0-3-0.5 0 0-2-1 0 0 3-1 0 0 1-1 0 0 4-1.5 0 0-5-0.5 0 0 1-1.5 0 0-6.5-0.5 0 0 9.5-1.5 0 0-1-1.5 0 0-2-0.5 0 0-3-1 0 0 6-1 0 0 1.5-1.5 0 0-3.5-1.5 0 0-1.5-0.5 0 0 5-1 0 0 2-0.5 0 0 2.5-1.5 0 0-11-0.5 0 0 2-1 0 0 2.5-1.5 0 0 8-1.5 0 0-15.5-1 0 0 2-1 0 0 1-0.5 0 0 4.5-1.5 0 0-3-0.5 0 0 4.5-1.5 0 0-1.5-0.5 0 0-2.5-1 0 0 5-1.5 0 0-1-1.5 0 0 4.5-1.5 0 0-9.5-1 0 0 0.5-0.5 0 0 1.5-1.5 0 0 1-0.5 0 0 1.5-1.5 0 0 4.5-1.5 0 0-3.5-0.5 0 0-4-0.5 0 0 4-1.5 0 0 4-1 0 0 0.5-1 0 0 1.5-1.5 0 0-6.5-1 0 0-5-1 0 0 9-1.5 0 0-2-0.5 0 0 1-1.5 0 0-8-0.5 0 0-0.5-1.5 0 0 6-1.5 0 0-3.5-0.5 0 0 2-1.5 0 0-8-0.5 0 0-0.5-0.5 0 0 9.5-1.5 0 0-1.5-0.5 0 0 10-1.5 0 0-9-1.5 0 0-3-0.5 0 0 3-1.5 0 0-2.5-0.5 0 0-1.5-0.5 0 0 3.5-0.5 0 0 8.5-1 0 0 1.5-1.5 0 0-6-1 0 0-3-0.5 0 0-1.5-1 0 0 0.5-1.5 0 0-4-0.5 0 0 2.5-1.5 0 0-2-0.5 0 0 1-1.5 0 0-1-2 0 0-3-0.5 0 0-1-0.5 0 0 3-1 0 0 6-1.5 0 0-7-1 0 0 4.5-0.5 0 0 1-1.5 0 0-4.5-0.5 0 0 3.5-1.5 0 0-3-0.5 0 0 2-1 0 0 5.5-1.5 0 0-0.5-0.5 0 0 1-1.5 0 0-6-0.5 0 0 1.5-1.5 0 0-1-0.5 0 0-4.5-1 0 0 6-1.5 0 0 3.5-1.5 0 0-5-0.5 0 0-1.5-0.5 0 0 1.5-0.5 0 0 5-1.5 0 0-3.5-0.5 0 0-5.5-0.5 0 0 5.5-2 0 0-0.5-0.5 0 0 1.5-1.5 0 0-6-0.5 0 0 8.5-1.5 0 0-3-0.5 0 0-1.5-0.5 0 0 0.5-1.5 0 0 3-2 0 0 2-0.5 0 0 0.5-1 0 0 2-1.5 0 0-0.5-1.5 0 0-6.5-0.5 0 0 0.5-1.5 0 0-2-1.5 0 0 4.5-1.5 0 0-4.5-0.5 0 0 5.5-1.5 0 0-5-0.5 0 0 0.5-1.5 0 0 4.5-1.5 0 0-6.5-1 0 0 1.5-0.5 0 0 0.5-1 0 0 4-1.5 0 0-10.5-0.5 0 0 7.5-1.5 0 0 11-1.5 0 0-12.5-0.5 0 0-0.5-0.5 0 0 0.5-1.5 0 0-0.5-0.5 0 0-4.5-1 0 0-2-0.5 0 0 7-2 0 0-0.5-1.5 0 0 2-1.5 0 0-4-1 0 0-3-0.5 0 0 1.5-1.5 0 0-1-0.5 0 0 0.5-1.5 0 0-1-1 0 0 8-1.5 0 0-1-1.5 0 0-1.5-1 0 0-4-1 0 0 1-1.5 0 0 4-1.5 0 0-11-0.5 0 0-1.5-0.5 0 0 1-1 0 0 3-0.5 0 0 4.5-0.5 0 0 1-1.5 0 0-4.5-0.5 0 0-1-0.5 0 0 2-0.5 0 0 1.5-1.5 0 0-2-1.5 0 0 4-1.5 0 0 4.5-1.5 0 0-19-0.5 0 0 5-0.5 0 0 2-0.5 0 0 2.5-0.5 0 0 1.5-1.5 0 0-4.5-0.5 0 0-2.5-1 0 0-2.5-1 0 0-1-0.5 0 0 5.5-1.5 0 0-1-0.5 0 0-0.5-0.5 0 0 0.5-1.5 0 0-5-0.5 0 0 0.5-0.5 0 0 3-0.5 0 0 4-1 0 0 1-1.5 0 0-3.5-0.5 0 0-6.5-1.5 0 0-3.5-0.5 0 0 1-0.5 0 0 5-1 0 0 1-1.5 0 0-4-0.5 0 0 3-1.5 0 0-6.5-0.5 0 0-0.5-0.5 0 0 1-0.5 0 0 1.5-0.5 0 0 9.5-1.5 0 0-11-0.5 0 0 7.5-1.5 0 0-7-0.5 0 0-2-1 0 0-1-1 0 0 0.5-1 0 0 1-0.5 0 0 0.5-1.5 0 0-7-0.5 0 0 10.5-1.5 0 0-8.5-1.5 0 0-9.5-0.5 0 0-1.5-0.5 0 0 3-1 0 0 0.5-0.5 0 0 5.5-1.5 0 0-10.5-0.5 0 0 0.5-0.5 0 0 1.5-0.5 0 0 11-1.5 0 0-6-1 0 0-4-0.5 0 0-1-0.5 0 0 4.5-1.5 0 0-2-0.5 0 0 2-1.5 0 0-6.5-1 0 0-7-0.5 0 0-0.5-0.5 0 0 2-1.5 0 0 5-0.5 0 0 0.5-1.5 0 0-1.5-2 0 0-7-1.5 0 0 3.5-1.5 0 0-2.5-0.5 0 0 5.5-1.5 0 0-10.5-0.5 0 0 2-0.5 0 0 2.5-1.5 0 0 3.5-1.5 0 0-4-0.5 0 0-9-1 0 0-4.5-1 0 0 3.5-0.5 0 0 7-1.5 0 0-1-1.5 0 0-3-0.5 0 0-5-0.5 0 0-3.5-1 0 0-0.5-1 0 0-3.5-0.5 0 0 1-0.5 0 0 5-1 0 0 0.5-1.5 0 0-10.5-0.5 0 0 7.5-0.5 0 0 3-1.5 0 0-8.5-0.5 0 0-2.5-0.5 0 0-2-1 0 0 6-0.5 0 0 0.5-1.5 0 0 1.5-1.5 0 0-4.5-1 0 0-4-1.5 0 0-2.5-1 0 0-1-1.5 0 0-3.5-1.5 0 0 2.5-1.5 0 0-3-1 0 0 2-1.5 0 0-6.5-0.5 0 0-0.5-1.5 0 0 6-1.5 0 0-1.5-0.5 0 0-10.5-0.5 0 0 4-0.5 0 0 6.5-1.5 0 0-13.5-0.5 0 0 8.5-1.5 0 0-9.5-1 0 0 5.5-2 0 0-9.5-0.5 0 0 15-1.5 0 0-11.5-1.5 0 0-11-0.5 0 0 20.5-1.5 0 0-14.5-0.5 0 0 2-0.5 0 0 1-1.5 0 0-8-1 0 0-1.5-1 0 0-3.5-0.5 0 0 7.5-1.5 0 0-1-0.5 0 0-3.5-1 0 0-0.5-1.5 0 0 4.5-1.5 0 0-4-0.5 0 0 6-1.5 0 0-8-0.5 0 0 1.5-1.5 0 0-3.5-1 0 0 4-1.5 0 0-4.5-0.5 0 0 0.5-1.5 0 0-0.5-1.5 0 0-7-1 0 0-9.5-0.5 0 0 5-1 0 0 3-1.5 0 0-5-1 0 0 9-1.5 0 0-1-0.5 0 0-6-0.5 0 0-1-0.5 0 0 3-3 0 0-6-0.5 0 0 2-1 0 0 2-0.5 0 0 15.5-1.5 0 0-15.5-1.5 0 0-6-1 0 0-8-1 0 0 12-1.5 0 0-1.5-0.5 0 0-6-0.5 0 0 5-1 0 0 0.5-1.5 0 0-3-0.5 0 0-3.5-0.5 0 0-1.5-0.5 0 0-0.5-1 0 0 9-0.5 0 0 7.5-1.5 0 0-15.5-0.5 0 0-3.5-0.5 0 0-0.5-0.5 0 0-2-0.5 0 0 6-0.5 0 0 1-1 0 0 4.5-0.5 0 0 3-1.5 0 0-3-1 0 0-3.5-0.5 0 0-1.5-0.5 0 0-0.5-3 0 0-2-0.5 0 0 1.5-1 0 0 9.5-1.5 0 0-1-0.5 0 0-4-2.5 0 0 9.5-1.5 0 0-9.5-1 0 0-3-0.5 0 0 1-0.5 0 0 4-1.5 0 0-1-0.5 0 0 2.5-1.5 0 0-0.5-1 0 0 2-0.5 0 0 9.5-1.5 0 0-8.5-1.5 0 0 9-1.5 0 0-9.5-1 0 0-3.5-1.5 0 0 6-1 0 0 7.5-0.5 0 0 0.5-1.5 0 0-5.5-0.5 0 0-7-0.5 0 0 4.5-0.5 0 0 7-1 0 0 4-1.5 0 0-12.5-0.5 0 0 1-1.5 0 0 4.5-1.5 0 0-4-0.5 0 0 7-1.5 0 0-4.5-0.5 0 0 11-1.5 0 0-12.5-0.5 0 0-1.5-0.5 0 0 0.5-1.5 0 0-0.5-1 0 0 1.5-1 0 0 15-1.5 0 0-0.5-1.5 0 0-2.5-0.5 0 0-6.5-0.5 0 0 1.5-1.5 0 0-1.5-0.5 0 0-1.5-0.5 0 0 5.5-1.5 0 0 2.5-1.5 0 0-6-1 0 0 5.5-0.5 0 0 6-2 0 0-8-0.5 0 0 11-1 0 0 0.5-0.5 0 0 1.5-0.5 0 0 11-1.5 0 0-6.5-0.5 0 0 1.5-1.5 0 0-5-0.5 0 0-1.5-0.5 0 0-2-0.5 0 0-3-1 0 0 0.5-0.5 0 0 1-1 0 0 1-1.5 0 0 7.5-1.5 0 0-2-0.5 0 0 10.5-1.5 0 0-0.5-1 0 0-5-1 0 0 1.5-0.5 0 0 4-1.5 0 0-5.5-0.5 0 0 4.5-1 0 0 7-1.5 0 0-1.5-1.5 0 0-2.5-0.5 0 0 3-1 0 0 8-1.5 0 0-9.5-1.5 0 0 4.5-0.5 0 0 4-1 0 0 5.5-1 0 0 7.5-1.5 0 0-4-1.5 0 0 1-1.5 0 0-3.5-1 0 0-1-1 0 0-0.5-0.5 0 0 4.5-0.5 0 0 4-1.5 0 0-1-1.5 0 0 4.5-1 0 0 7-1 0 0 1-1.5 0 0-3-0.5 0 0-1.5-0.5 0 0-0.5-0.5 0 0-11.5-0.5 0 0 3-0.5 0 0 3.5-0.5 0 0 3.5-1.5 0 0 2-1 0 0 4-0.5 0 0 10-1.5 0 0-7.5-1 0 0 2-1.5 0 0-8-1 0 0 3-1 0 0 5.5-0.5 0 0 10.5-1.5 0 0-7-1.5 0 0-2.5-0.5 0 0-1.5-0.5 0 0 5-1.5 0 0-13-0.5 0 0 12-1.5 0 0 4.5-1.5 0 0-3.5-1 0 0 4-1.5 0 0-7-0.5 0 0 2.5-0.5 0 0 1-0.5 0 0 5-1.5 0 0-0.5-0.5 0 0 3-0.5 0 0 0.5-1.5 0 0-2-0.5 0 0 1.5-1.5 0 0-2.5-0.5 0 0-1.5-0.5 0 0 1-0.5 0 0 2-0.5 0 0 15-1.5 0 0 3-1.5 0 0-16.5-1 0 0 0.5-1.5 0 0 14.5-1.5 0 0-1.5-0.5 0 0-10.5-0.5 0 0 2-0.5 0 0 13-1.5 0 0-9-0.5 0 0-4-1 0 0-4.5-0.5 0 0 18-0.5 0 0 9.5-1.5 0 0-9.5-1.5 0 0-4-0.5 0 0-7.5-0.5 0 0 10.5-1.5 0 0-5.5-0.5 0 0 1-1 0 0 3.5-1.5 0 0 3.5-0.5 0 0 3-1.5 0 0-8.5-1.5 0 0-1-1 0 0 1-0.5 0 0 10-1.5 0 0 14-1.5 0 0-15-0.5 0 0 11-2 0 0-10.5-0.5 0 0-6.5-0.5 0 0 4.5-1.5 0 0-2-0.5 0 0 2.5-0.5 0 0 0.5-1.5 0 0-5.5-1 0 0 0.5-0.5 0 0 3.5-0.5 0 0 5-1.5 0 0-2-0.5 0 0 5-1.5 0 0-4-0.5 0 0 8-1.5 0 0-10-0.5 0 0 15.5-1.5 0 0-12-0.5 0 0-0.5-0.5 0 0-5-0.5 0 0 12-1.5 0 0-11-0.5 0 0 2-1 0 0 14.5-0.5 0 0 1.5-1.5 0 0-13.5-1 0 0-1-0.5 0 0 1-0.5 0 0 3-2 0 0 9.5-1.5 0 0-5.5-0.5 0 0-0.5-0.5 0 0-2-1.5 0 0-6-0.5 0 0 4.5-1 0 0 11-1.5 0 0-13-0.5 0 0 17.5-1.5 0 0-11.5-1.5 0 0-11-0.5 0 0-2-1 0 0-1.5-0.5 0 0 6.5-1 0 0 0.5-0.5 0 0 11-1.5 0 0-7.5-0.5 0 0-1-1 0 0-3.5-2.5 0 0-1.5-0.5 0 0 8.5-1.5 0 0 4-1.5 0 0-9-1 0 0-2.5-0.5 0 0-5.5-0.5 0 0 21.5-1.5 0 0-11.5-0.5 0 0 7-1.5 0 0-13.5-1 0 0-1.5-0.5 0 0 3.5-1.5 0 0-4-1 0 0 7.5-1.5 0 0-1.5-1.5 0 0 5-0.5 0 0 1.5-1.5 0 0-11-1.5 0 0-2.5-0.5 0 0-5.5-1.5 0 0-1-0.5 0 0 8-1.5 0 0-10.5-1 0 0-1.5-0.5 0 0 8.5-1.5 0 0-7-0.5 0 0 0.5-0.5 0 0 13-2 0 0-13-0.5 0 0-8-0.5 0 0 6.5-2 0 0 2.5-1.5 0 0-4-0.5 0 0-1-0.5 0 0-3.5-1 0 0-0.5-0.5 0 0 3.5-2 0 0-12-0.5 0 0 1-1.5 0 0 5-1.5 0 0 0.5-1.5 0 0-7.5-1 0 0 3-1 0 0 7-1.5 0 0-12.5-0.5 0 0-1.5-0.5 0 0 1-0.5 0 0 1-1.5 0 0-1-0.5 0 0-1.5-0.5 0 0-1.5-0.5 0 0 9-1.5 0 0-5.5-0.5 0 0-2-0.5 0 0-6-0.5 0 0 3-1.5 0 0-1.5-0.5 0 0 2.5-1.5 0 0 4-1 0 0 3.5-1.5 0 0-3.5-0.5 0 0-3.5-1 0 0-5.5-0.5 0 0-8.5-1 0 0 4.5-1 0 0 7.5-1.5 0 0-2-1 0 0 3.5-1.5 0 0-6-0.5 0 0-4.5-1 0 0-0.5-1.5 0 0 11.5-1.5 0 0-2-1 0 0-5-1 0 0 2-1.5 0 0-4-0.5 0 0 3.5-1.5 0 0-7.5-0.5 0 0-2-0.5 0 0 8-1 0 0 3-0.5 0 0 5-1.5 0 0-3.5-1.5 0 0-3.5-0.5 0 0 1-0.5 0 0 10-1.5 0 0-19-0.5 0 0 7-0.5 0 0 5-1.5 0 0 4.5-1.5 0 0-5-1 0 0-1-0.5 0 0 11-1.5 0 0-15-0.5 0 0 20.5-1.5 0 0-14-0.5 0 0 5.5-0.5 0 0 2-0.5 0 0 1-1 0 0 0.5-1.5 0 0-5.5-0.5 0 0-2-0.5 0 0 3-0.5 0 0 17-1.5 0 0-14.5-0.5 0 0 9.5-1.5 0 0-10-1 0 0 11-1.5 0 0 1.5-2.5 0 0-1-0.5 0 0 5.5-1.5 0 0-2-0.5 0 0 0.5-0.5 0 0 8-1.5 0 0-1.5-0.5 0 0 16.5-1.5 0 0-4-1.5 0 0-17-0.5 0 0 1-1.5 0 0 0.5-1.5 0 0-0.5-1.5 0 0-0.5-0.5 0 0 10.5-1.5 0 0-9.5-0.5 0 0 0.5-0.5 0 0 18.5-0.5 0 0 4-1.5 0 0-12-0.5 0 0 3.5-0.5 0 0 5.5-1.5 0 0-12-2 0 0 2.5-1.5 0 0-5-1 0 0-2-0.5 0 0 8.5-0.5 0 0 20-0.5 0 0 3-1.5 0 0-14.5-0.5 0 0-9-1.5 0 0-6-0.5 0 0 1-0.5 0 0 8.5-0.5 0 0 2-0.5 0 0 5.5-1.5 0 0 1-1.5 0 0-0.5-0.5 0 0-4.5-1 0 0 10-1.5 0 0-13-0.5 0 0 14-1.5 0 0-2.5-1 0 0-4-1.5 0 0-3-0.5 0 0 4.5-1.5 0 0-3.5-1 0 0-2-0.5 0 0-2.5-0.5 0Z" fill="#f0f"/>
<path d="M100 1238.6l2.7 7 2.6 7.1 2.7 7.1 2.7 7.2 2.6 7.2 2.7 7.2 2.7 7.2 2.6 7.2 2.7 7.2 2.7 7.1 2.7 7.1 2.6 7.1 2.7 7 2.7 6.9 2.6 6.8 2.7 6.8 2.7 6.6 2.6 6.5 2.7 6.4 2.7 6.2 2.6 6.1 2.7 6 2.7 5.8 2.6 5.6 2.7 5.4 2.7 5.3 2.7 5.1 2.6 4.9 2.7 4.9 2.7 4.7 2.6 4.6 2.7 4.5 2.7 4.3 2.6 4.3 2.7 4.3 2.7 4.1 2.6 4.1 2.7 4.1 2.7 4 2.6 3.9 2.7 4 2.7 3.9 2.7 3.9 2.6 3.9 2.7 3.9 2.7 3.9 2.6 3.8 2.7 3.8 2.7 3.8 2.6 3.8 2.7 3.8 2.7 3.7 2.6 3.8 2.7 3.7 2.7 3.7 2.6 3.6 2.7 3.7 2.7 3.6 2.7 3.7 2.6 3.6 2.7 3.6 2.7 3.5 2.6 3.6 2.7 3.5 2.7 3.5 2.6 3.5 2.7 3.5 2.7 3.5 2.6 3.4 2.7 3.4 2.7 3.4 2.6 3.4 2.7 3.4 2.7 3.4 2.7 3.3 2.6 3.3 2.7 3.3 2.7 3.3 2.6 3.3 2.7 3.2 2.7 3.2 2.6 3.3 2.7 3.2 2.7 3.1 2.6 3.2 2.7 3.1 2.7 3.2 2.6 3.1 2.7 3 2.7 3.1 2.7 3.1 2.6 3 2.7 3 2.7 3 2.6 3 2.7 3 2.7 2.9 2.6 2.9 2.7 3 2.7 2.8 2.6 2.9 2.7 2.9 2.7 2.8 2.6 2.8 2.7 2.9 2.7 2.7 2.7 2.8 2.6 2.8 2.7 2.7 2.7 2.7 2.6 2.7 2.7 2.7 2.7 2.7 2.6 2.6 2.7 2.6 2.7 2.6 2.6 2.6 2.7 2.6 2.7 2.6 2.6 2.5 2.7 2.5 2.7 2.6 2.7 2.4 2.6 2.5 2.7 2.5 2.7 2.4 2.6 2.4 2.7 2.4 2.7 2.4 2.6 2.4 2.7 2.3 2.7 2.4 2.6 2.3 2.7 2.3 2.7 2.3 2.6 2.2 2.7 2.3 2.7 2.2 2.7 2.2 2.6 2.2 2.7 2.2 2.7 2.2 2.6 2.1 2.7 2.2 2.7 2.1 2.6 2.1 2.7 2 2.7 2.1 2.6 2.1 2.7 2 2.7 2 2.6 2 2.7 2 2.7 2 2.7 1.9 2.6 2 2.7 1.9 2.7 1.9 2.6 1.9 2.7 1.9 2.7 1.9 2.6 1.8 2.7 1.8 2.7 1.9 2.6 1.8 2.7 1.8 2.7 1.7 2.6 1.8 2.7 1.7 2.7 1.8 2.7 1.7 2.6 1.7 2.7 1.7 2.7 1.6 2.6 1.7 2.7 1.6 2.7 1.7 2.6 1.6 2.7 1.6 2.7 1.6 2.6 1.6 2.7 1.5 2.7 1.6 2.6 1.5 2.7 1.5 2.7 1.5 2.7 1.5 2.6 1.5 2.7 1.4 2.7 1.5 2.6 1.4 2.7 1.5 2.7 1.4 2.6 1.4 2.7 1.4 2.7 1.3 2.6 1.4 2.7 1.3 2.7 1.4 2.6 1.3 2.7 1.3 2.7 1.3 2.7 1.3 2.6 1.3 2.7 1.2 2.7 1.3 2.6 1.2 2.7 1.2 2.7 1.3 2.6 1.2 2.7 1.1 2.7 1.2 2.6 1.2 2.7 1.1 2.7 1.2 2.6 1.1 2.7 1.1 2.7 1.1 2.7 1.1 2.6 1.1 2.7 1.1 2.7 1.1 2.6 1 2.7 1.1 2.7 1 2.6 1 2.7 1 2.7 1 2.6 1 2.7 1 2.7 0.9 2.6 1 2.7 0.9 2.7 1 2.7 0.9 2.6 0.9 2.7 0.9 2.7 0.9 2.6 0.9 2.7 0.9 2.7 0.8 2.6 0.9 2.7 0.8 2.7 0.9 2.6 0.8 2.7 0.8 2.7 0.8 2.6 0.8 2.7 0.8 2.7 0.8 2.7 0.8 2.6 0.7 2.7 0.8 2.7 0.7 2.6 0.7 2.7 0.8 2.7 0.7 2.6 0.7 2.7 0.7 2.7 0.7 2.6 0.7 2.7 0.6 2.7 0.7 2.6 0.7 2.7 0.6 2.7 0.7 2.7 0.6 2.6 0.6 2.7 0.6 2.7 0.6 2.6 0.6 2.7 0.6 2.7 0.6 2.6 0.6 2.7 0.6 2.7 0.5 2.6 0.6 2.7 0.5 2.7 0.6 2.6 0.5 2.7 0.5 2.7 0.5 2.7 0.5 2.6 0.6 2.7 0.4 2.7 0.5 2.6 0.5 2.7 0.5 2.7 0.5 2.6 0.4 2.7 0.5 2.7 0.4 2.6 0.5 2.7 0.4 2.7 0.4 2.6 0.5 2.7 0.4 2.7 0.4 2.7 0.4 2.6 0.4 2.7 0.4 2.7 0.4 2.6 0.3 2.7 0.4 2.7 0.4 2.6 0.3 2.7 0.4 2.7 0.3 2.6 0.4 2.7 0.3 2.7 0.4 2.6 0.3 2.7 0.3 2.7 0.3 2.7 0.3 2.6 0.3 2.7 0.3 2.7 0.3 2.6 0.3 2.7 0.3 2.7 0.3 2.6 0.3 2.7 0.2 2.7 0.3 2.6 0.2 2.7 0.3 2.7 0.2 2.6 0.3 2.7 0.2 2.7 0.3 2.7 0.2 2.6 0.2 2.7 0.3 2.7 0.2 2.6 0.2 2.7 0.2 2.7 0.2 2.6 0.2 2.7 0.2 2.7 0.2 2.6 0.2 2.7 0.2 2.7 0.2 2.6 0.1 2.7 0.2 2.7 0.2 2.7 0.1 2.6 0.2 2.7 0.2 2.7 0.1 2.6 0.2 2.7 0.1 2.7 0.2 2.6 0.1 2.7 0.2 2.7 0.1 2.6 0.1 2.7 0.2 2.7 0.1 2.6 0.1 2.7 0.1 2.7 0.2 2.7 0.1 2.6 0.1 2.7 0.1 2.7 0.1 2.6 0.1 2.7 0.1 2.7 0.1 2.6 0.1 2.7 0.1 2.7 0.1 2.6 0.1 2.7 0.1 2.7 0.1 2.6 0.1 2.7 0.1 2.7 0.1 2.7 0 2.6 0.1 2.7 0.1 2.7 0.1 2.6 0.1 2.7 0 2.7 0.1 2.6 0.1 2.7 0 2.7 0.1 2.6 0.1 2.7 0 2.7 0.1 2.6 0.1 2.7 0 2.7 0.1 2.7 0.1 2.6 0 2.7 0.1 2.7 0 2.6 0.1 2.7 0.1 2.7 0 2.6 0.1 2.7 0 2.7 0.1 2.6 0 2.7 0.1 2.7 0.1 2.6 0 2.7 0.1 2.7 0 2.7 0.1 2.6 0 2.7 0.1 2.7 0 2.6 0.1 2.7 0.1 2.7 0 2.6 0.1 2.7 0 2.7 0.1 2.6 0 2.7 0.1 2.7 0 2.6 0.1 2.7 0 2.7 0.1 2.7 0 2.6 0.1 2.7 0 2.7 0.1 2.6 0 2.7 0.1 2.7 0.1 2.6 0 2.7 0.1 2.7 0 2.6 0.1 2.7 0 2.7 0.1 2.6 0 2.7 0.1 2.7 0 2.7 0.1 2.6 0 2.7 0.1 2.7 0 2.6 0.1 2.7 0 2.7 0.1 2.6 0 2.7 0.1 2.7 0 2.6 0.1 2.7 0 2.7 0.1 2.6 0 2.7 0 2.7 0.1 2.7 0 2.6 0.1 2.7 0 2.7 0.1 2.6 0 2.7 0.1 2.7 0 2.6 0.1 2.7 0 2.7 0.1 2.6 0 2.7 0.1 2.7 0 2.6 0 2.7 0.1 2.7 0 2.7 0.1 2.6 0 2.7 0.1 2.7 0 2.6 0.1 2.7 0 2.7 0.1 2.6 0 2.7 0 2.7 0.1 2.6 0 2.7 0.1 2.7 0 2.6 0.1 2.7 0 2.7 0 2.7 0.1 2.6 0 2.7 0.1 2.7 0 2.6 0.1 2.7 0 2.7 0 2.6 0.1 2.7 0 2.7 0.1 2.6 0 2.7 0 2.7 0.1 2.6 0 2.7 0.1 2.7 0 2.7 0 2.6 0.1 2.7 0 2.7 0.1 2.6 0 2.7 0 2.7 0.1 2.6 0 2.7 0.1 2.7 0 2.6 0 2.7 0.1 2.7 0 2.6 0 2.7 0.1 2.7 0 2.7 0.1 2.6 0 2.7 0 2.7 0.1 2.6 0 2.7 0 2.7 0.1 2.6 0 2.7 0 2.7 0.1 2.6 0 2.7 0 2.7 0.1 2.6 0 2.7 0.1 2.7 0 2.7 0 2.6 0.1 2.7 0 2.7 0 2.6 0.1 2.7 0 2.7 0 2.6 0.1 2.7 0 2.7 0 2.6 0.1 2.7 0 2.7 0 2.6 0.1 2.7 0 2.7 0 2.7 0 2.6 0.1 2.7 0 2.7 0 2.6 0.1 2.7 0 2.7 0 2.6 0.1 2.7 0 2.7 0 2.6 0 2.7 0.1 2.7 0 2.6 0 2.7 0.1 2.7 0 2.7 0 2.6 0 2.7 0.1 2.7 0 2.6 0 2.7 0.1 2.7 0 2.6 0 2.7 0 2.7 0.1 2.6 0 2.7 0 2.7 0 2.6 0.1 2.7 0 2.7 0 2.7 0 2.6 0.1 2.7 0 2.7 0 2.6 0 2.7 0.1 2.7 0 2.6 0 2.7 0 2.7 0.1 2.6 0 2.7 0 2.7 0 2.6 0.1 2.7 0 2.7 0 2.7 0 2.6 0 2.7 0.1 2.7 0 2.6 0 2.7 0 2.7 0.1 2.6 0 2.7 0 2.7 0 2.6 0 2.7 0.1 2.7 0 2.6 0 2.7 0 2.7 0 2.7 0.1 2.6 0 2.7 0 2.7 0 2.6 0 2.7 0 2.7 0.1 2.6 0 2.7 0 2.7 0 2.6 0 2.7 0.1 2.7 0 2.6 0 2.7 0 2.7 0 2.7 0 2.6 0 2.7 0.1 2.7 0 2.6 0 2.7 0 2.7 0 2.6 0 2.7 0.1 2.7 0 2.6 0 2.7 0 2.7 0 2.6 0 2.7 0 2.7 0 2.7 0.1 2.6 0 2.7 0 2.7 0 2.6 0 2.7 0 2.7 0 2.6 0 2.7 0.1 2.7 0 2.6 0 2.7 0 2.7 0 2.6 0 2.7 0 2.7 0 2.7 0 2.6 0 2.7 0.1 2.7 0 2.6 0 2.7 0 2.7 0 2.6 0 2.7 0 2.7 0 2.6 0 2.7 0 2.7 0 2.6 0 2.7 0 2.7 0 2.7 0.1 2.6 0 2.7 0 2.7 0 2.6 0 2.7 0 2.7 0 2.6 0 2.7 0 2.7 0 2.6 0 2.7 0 2.7 0 2.6 0 2.7 0 2.7 0 2.7 0 2.6 0 2.7 0 2.7 0 2.6 0 2.7 0 2.7 0 2.6 0 2.7 0 2.7 0 2.6 0 2.7 0 2.7 0 2.6 0 2.7 0 2.7 0 2.7 0 2.6 0 2.7 0 2.7 0 2.6 0 2.7 0 2.7 0 2.6 0 2.7 0 2.7 0 2.6 0 2.7 0 2.7 0 2.6 0 2.7 0 2.7 0 2.7 0 2.6 0 2.7 0 2.7 0 2.6-0.1 2.7 0 2.7 0 2.6 0 2.7 0 2.7 0 2.6 0 2.7 0 2.7 0 2.6 0 2.7 0 2.7 0 2.7 0 2.6 0 2.7-0.1 2.7 0 2.6 0 2.7 0 2.7 0 2.6 0 2.7 0 2.7 0 2.6 0 2.7 0 2.7-0.1 2.6 0 2.7 0 2.7 0 2.7 0 2.6 0 2.7 0 2.7 0 2.6-0.1 2.7 0 2.7 0 2.6 0 2.7 0 2.7 0 2.6 0 2.7-0.1 2.7 0 2.6 0 2.7 0 2.7 0 2.7 0 2.6-0.1 2.7 0 2.7 0 2.6 0 2.7 0 2.7 0 2.6-0.1 2.7 0 2.7 0 2.6 0 2.7 0 2.7 0 2.6-0.1 2.7 0 2.7 0 2.7 0 2.6 0 2.7-0.1 2.7 0 2.6 0 2.7 0" fill="none" stroke="#00f" stroke-width="9.8" stroke-linejoin="round"/>
<path d="M100 2154.3l2.7-0.9 2.6-1 2.7-1.1 2.7-1.2 2.6-1.4 2.7-1.5 2.7-1.7 2.6-1.8 2.7-1.9 2.7-2.2 2.7-2.2 2.6-2.4 2.7-2.5 2.7-2.6 2.6-2.7 2.7-2.7 2.7-2.8 2.6-2.7 2.7-2.7 2.7-2.7 2.6-2.5 2.7-2.5 2.7-2.2 2.6-2 2.7-1.8 2.7-1.5 2.7-1.3 2.6-0.9 2.7-0.6 2.7-0.3 2.6 0.1 2.7 0.4 2.7 0.7 2.6 1.1 2.7 1.3 2.7 1.7 2.6 1.9 2.7 2.1 2.7 2.3 2.6 2.5 2.7 2.6 2.7 2.6 2.7 2.8 2.6 2.7 2.7 2.8 2.7 2.7 2.6 2.6 2.7 2.6 2.7 2.5 2.6 2.3 2.7 2.2 2.7 2.1 2.6 1.9 2.7 1.7 2.7 1.6 2.6 1.5 2.7 1.3 2.7 1.2 2.7 1 2.6 1" fill="none" stroke="#000" stroke-width="10" stroke-linejoin="round"/>
<path d="M260.1 2153.3l2.7-0.5 2.7-0.5 2.6-0.6 2.7-0.6 2.7-0.7 2.6-0.7 2.7-0.7 2.7-0.8 2.6-0.9 2.7-0.9 2.7-0.9 2.7-1 2.6-1.1 2.7-1.1 2.7-1.2 2.6-1.2 2.7-1.3 2.7-1.4 2.6-1.4 2.7-1.5 2.7-1.6 2.6-1.6 2.7-1.8 2.7-1.7 2.6-1.9 2.7-1.9 2.7-2 2.7-2.1 2.6-2.1 2.7-2.2 2.7-2.2 2.6-2.4 2.7-2.3 2.7-2.5 2.6-2.5 2.7-2.5 2.7-2.7 2.6-2.6 2.7-2.7 2.7-2.7 2.6-2.8 2.7-2.8 2.7-2.8 2.7-2.8 2.6-2.9 2.7-2.8 2.7-2.9 2.6-2.8 2.7-2.9 2.7-2.8 2.6-2.8 2.7-2.7 2.7-2.7 2.6-2.7 2.7-2.6 2.7-2.6 2.6-2.4 2.7-2.4 2.7-2.4 2.7-2.2 2.6-2.1 2.7-2 2.7-1.9 2.6-1.8 2.7-1.7 2.7-1.6 2.6-1.4 2.7-1.3 2.7-1.1 2.6-1 2.7-0.9 2.7-0.7 2.6-0.5 2.7-0.4 2.7-0.2 2.7-0.1 2.6 0.1 2.7 0.2 2.7 0.4 2.6 0.5 2.7 0.7 2.7 0.9 2.6 1 2.7 1.1 2.7 1.3 2.6 1.4 2.7 1.6 2.7 1.7 2.6 1.8 2.7 1.9 2.7 2 2.7 2.1 2.6 2.2 2.7 2.4 2.7 2.4 2.6 2.4 2.7 2.6 2.7 2.6 2.6 2.7 2.7 2.7 2.7 2.7 2.6 2.8 2.7 2.8 2.7 2.9 2.6 2.8 2.7 2.9 2.7 2.8 2.7 2.9 2.6 2.8 2.7 2.8 2.7 2.8 2.6 2.8 2.7 2.7 2.7 2.7 2.6 2.6 2.7 2.7 2.7 2.5 2.6 2.5 2.7 2.5 2.7 2.3 2.6 2.4 2.7 2.2 2.7 2.2 2.7 2.1 2.6 2.1 2.7 2 2.7 1.9 2.6 1.9 2.7 1.7 2.7 1.8 2.6 1.6 2.7 1.6 2.7 1.5 2.6 1.4 2.7 1.4 2.7 1.3 2.6 1.2 2.7 1.2 2.7 1.1 2.7 1.1 2.6 1 2.7 0.9 2.7 0.9 2.6 0.9 2.7 0.8 2.7 0.7 2.6 0.7 2.7 0.7 2.7 0.6 2.6 0.6 2.7 0.5 2.7 0.5 2.6 0.5 2.7 0.4 2.7 0.4 2.7 0.4 2.6 0.3 2.7 0.3 2.7 0.3 2.6 0.3" fill="none" stroke="#000" stroke-width="10" stroke-linejoin="round"/>
<path d="M793.9 2149l2.6 0 2.7 0 2.7-0.1 2.7 0 2.6-0.1 2.7 0 2.7-0.1 2.6-0.1 2.7-0.1 2.7-0.1 2.6-0.1 2.7-0.1 2.7-0.2 2.6-0.1 2.7-0.2 2.7-0.2 2.6-0.1 2.7-0.2 2.7-0.2 2.7-0.2 2.6-0.3 2.7-0.2 2.7-0.2 2.6-0.2 2.7-0.3 2.7-0.2 2.6-0.3 2.7-0.3 2.7-0.3 2.6-0.4 2.7-0.5 2.7-0.6 2.6-0.7 2.7-0.7 2.7-0.8 2.7-0.9 2.6-0.9 2.7-0.9 2.7-1 2.6-1 2.7-1.1 2.7-1.1 2.6-1.1 2.7-1.1 2.7-1.2 2.6-1.4 2.7-1.5 2.7-1.6 2.6-1.8 2.7-1.8 2.7-1.8 2.7-1.9 2.6-1.9 2.7-2 2.7-1.9 2.6-2 2.7-1.9 2.7-1.8 2.6-1.8 2.7-1.9 2.7-1.9 2.6-2 2.7-2.1 2.7-2.1 2.6-2 2.7-1.9 2.7-1.8 2.7-1.5 2.6-1.3 2.7-0.9 2.7-0.8 2.6-0.7 2.7-0.7 2.7-0.6 2.6-0.6 2.7-0.4 2.7-0.3 2.6-0.1 2.7 0 2.7 0.2 2.6 0.3 2.7 0.4 2.7 0.4 2.7 0.5 2.6 0.6 2.7 0.6 2.7 0.6 2.6 0.6 2.7 0.7 2.7 0.8 2.6 0.9 2.7 0.9 2.7 1.1 2.6 1.1 2.7 1.1 2.7 1.2 2.6 1.1 2.7 1.1 2.7 1 2.7 1.1 2.6 1.1 2.7 1.1 2.7 1.2 2.6 1.1 2.7 1.2 2.7 1.2 2.6 1.2 2.7 1.2 2.7 1.2 2.6 1.2 2.7 1.2 2.7 1.1 2.6 1.2 2.7 1.1 2.7 1.1 2.7 1 2.6 1 2.7 0.9 2.7 0.9 2.6 0.9 2.7 0.8 2.7 0.7 2.6 0.6 2.7 0.7 2.7 0.6 2.6 0.6 2.7 0.6 2.7 0.6 2.6 0.6 2.7 0.6 2.7 0.6 2.7 0.5 2.6 0.5 2.7 0.6 2.7 0.5 2.6 0.5 2.7 0.5 2.7 0.4 2.6 0.5 2.7 0.4 2.7 0.5 2.6 0.4 2.7 0.4 2.7 0.4 2.6 0.4 2.7 0.4 2.7 0.3 2.7 0.4 2.6 0.3 2.7 0.3 2.7 0.3 2.6 0.3 2.7 0.3 2.7 0.3 2.6 0.2 2.7 0.3 2.7 0.2 2.6 0.3 2.7 0.2 2.7 0.3 2.6 0.2 2.7 0.2 2.7 0.2 2.7 0.2 2.6 0.2 2.7 0.2 2.7 0.2 2.6 0.2 2.7 0.2 2.7 0.2 2.6 0.2 2.7 0.2 2.7 0.2 2.6 0.1 2.7 0.2 2.7 0.2 2.6 0.1 2.7 0.2 2.7 0.1 2.7 0.2 2.6 0.2 2.7 0.1 2.7 0.2 2.6 0.1 2.7 0.2 2.7 0.1 2.6 0.2 2.7 0.1 2.7 0.2 2.6 0.1 2.7 0.1 2.7 0.2 2.6 0.1 2.7 0.2 2.7 0.1 2.7 0.2 2.6 0.1 2.7 0.2 2.7 0.1 2.6 0.2 2.7 0.1 2.7 0.2 2.6 0.1 2.7 0.2 2.7 0.1 2.6 0.2 2.7 0.1 2.7 0.1 2.6 0.2 2.7 0.1 2.7 0.2 2.7 0.1 2.6 0.2 2.7 0.1 2.7 0.1 2.6 0.2 2.7 0.1 2.7 0.1 2.6 0.2 2.7 0.1 2.7 0.1 2.6 0.2 2.7 0.1 2.7 0.1 2.6 0.2 2.7 0.1 2.7 0.1 2.7 0.1 2.6 0.2 2.7 0.1 2.7 0.1 2.6 0.1 2.7 0.2 2.7 0.1 2.6 0.1 2.7 0.1 2.7 0.1 2.6 0.1 2.7 0.1 2.7 0.2" fill="none" stroke="#000" stroke-width="10" stroke-linejoin="round"/>
<path d="M1701.2 2159.4l2.7 0 2.7 0 2.7 0 2.6 0 2.7 0 2.7-0.1 2.6 0 2.7 0 2.7 0 2.6-0.1 2.7 0 2.7 0 2.6-0.1 2.7 0 2.7-0.1 2.6 0 2.7-0.1 2.7 0 2.7-0.1 2.6 0 2.7-0.1 2.7 0 2.6-0.1 2.7-0.1 2.7 0 2.6-0.1 2.7-0.1 2.7 0 2.6-0.1 2.7-0.1 2.7 0 2.6-0.1 2.7-0.1 2.7-0.1 2.7-0.1 2.6-0.1 2.7-0.1 2.7-0.1 2.6-0.1 2.7-0.2 2.7-0.1 2.6-0.2 2.7-0.1 2.7-0.2 2.6-0.2 2.7-0.1 2.7-0.2 2.6-0.2 2.7-0.2 2.7-0.2 2.7-0.2 2.6-0.2 2.7-0.2 2.7-0.1 2.6-0.2 2.7-0.2 2.7-0.2 2.6-0.2 2.7-0.2 2.7-0.2 2.6-0.2 2.7-0.1 2.7-0.2 2.6-0.2 2.7-0.2 2.7-0.2 2.7-0.2 2.6-0.2 2.7-0.2 2.7-0.2 2.6-0.2 2.7-0.3 2.7-0.2 2.6-0.2 2.7-0.3 2.7-0.2 2.6-0.2 2.7-0.3 2.7-0.2 2.6-0.2 2.7-0.2 2.7-0.3 2.7-0.2 2.6-0.2 2.7-0.2 2.7-0.2 2.6-0.1 2.7-0.2 2.7-0.2 2.6-0.1 2.7-0.1 2.7-0.2 2.6-0.1 2.7 0 2.7-0.1 2.6-0.1 2.7 0 2.7 0 2.7 0 2.6 0 2.7 0.1 2.7 0 2.6 0 2.7 0.1 2.7 0.1 2.6 0 2.7 0.1 2.7 0.1 2.6 0.1 2.7 0.1 2.7 0.1 2.6 0.1 2.7 0.1 2.7 0.1 2.7 0.1 2.6 0.1 2.7 0.2 2.7 0.1 2.6 0.2 2.7 0.2 2.7 0.2 2.6 0.2 2.7 0.2 2.7 0.2 2.6 0.3 2.7 0.2 2.7 0.3 2.6 0.2 2.7 0.3 2.7 0.3" fill="none" stroke="#000" stroke-width="10" stroke-linejoin="round"/>
<path d="M99.7 1998.9 H2235" stroke="#D95319" stroke-width="4.2" stroke-dasharray="34 19.35"/></g>
<path d="M458 1645.4V1742.6" stroke="#000" stroke-width="3.8"/>
<path d="M458 1605.4L477.4 1665.2L457.5 1649.4L439 1660.1Z" fill="#000" stroke="#000" stroke-width="1.5" stroke-linejoin="round"/>
<path d="M458 1782.6L477.7 1728.8L458.5 1740L438 1723.1Z" fill="#000" stroke="#000" stroke-width="1.5" stroke-linejoin="round"/>
<path d="M458 1800V1967.5" stroke="#000" stroke-width="3.8"/>
<path d="M458 1760L477.4 1819.8L457.5 1804L439 1814.7Z" fill="#000" stroke="#000" stroke-width="1.5" stroke-linejoin="round"/>
<path d="M458 2007.5L477.7 1953.7L458.5 1964.9L438 1948Z" fill="#000" stroke="#000" stroke-width="1.5" stroke-linejoin="round"/>
<g font-family="'Liberation Sans', Arial, sans-serif"><text transform="translate(99.20 2228.30) scale(1 1.015)" font-size="53.4" fill="#262626" stroke="#262626" stroke-width="0.60" text-anchor="middle">10</text>
<text transform="translate(366.07 2228.30) scale(1 1.015)" font-size="53.4" fill="#262626" stroke="#262626" stroke-width="0.60" text-anchor="middle">20</text>
<text transform="translate(632.95 2228.30) scale(1 1.015)" font-size="53.4" fill="#262626" stroke="#262626" stroke-width="0.60" text-anchor="middle">30</text>
<text transform="translate(899.83 2228.30) scale(1 1.015)" font-size="53.4" fill="#262626" stroke="#262626" stroke-width="0.60" text-anchor="middle">40</text>
<text transform="translate(1166.70 2228.30) scale(1 1.015)" font-size="53.4" fill="#262626" stroke="#262626" stroke-width="0.60" text-anchor="middle">50</text>
<text transform="translate(1433.58 2228.30) scale(1 1.015)" font-size="53.4" fill="#262626" stroke="#262626" stroke-width="0.60" text-anchor="middle">60</text>
<text transform="translate(1700.45 2228.30) scale(1 1.015)" font-size="53.4" fill="#262626" stroke="#262626" stroke-width="0.60" text-anchor="middle">70</text>
<text transform="translate(1967.33 2228.30) scale(1 1.015)" font-size="53.4" fill="#262626" stroke="#262626" stroke-width="0.60" text-anchor="middle">80</text>
<text transform="translate(2234.20 2228.30) scale(1 1.015)" font-size="53.4" fill="#262626" stroke="#262626" stroke-width="0.60" text-anchor="middle">90</text>
<text transform="translate(60.7 2032.00) rotate(-90) scale(1 1.01)" font-size="63.7" fill="#262626" stroke="#262626" stroke-width="0.60">X-Ray Intensity (arb. u.)</text></g>
<g transform="translate(0 1200.50)"><text transform="translate(1088.94 1104.50) scale(1.0236 1.0000)" font-family="'Liberation Sans', sans-serif" font-size="63.29" fill="#262626" stroke="#262626" stroke-width="0.59" text-anchor="start">2</text><text transform="translate(1127.23 1107.86) scale(0.9796 1.0000)" font-family="'Liberation Serif', serif" font-style="italic" font-size="63.94" fill="#262626" stroke="#262626" stroke-width="0.61" text-anchor="start">θ</text><text transform="translate(1174.05 1104.58) scale(1.0000 1.0000)" font-family="'Liberation Sans', sans-serif" font-size="62.02" fill="#262626" stroke="#262626" stroke-width="0.60" text-anchor="start">(</text><text transform="translate(1196.77 1101.32) scale(1.0000 1.0000)" font-family="'Liberation Sans', sans-serif" font-size="58.79" fill="#262626" stroke="#262626" stroke-width="0.60" text-anchor="start">°</text><text transform="translate(1223.68 1104.58) scale(1.0000 1.0000)" font-family="'Liberation Sans', sans-serif" font-size="62.02" fill="#262626" stroke="#262626" stroke-width="0.60" text-anchor="start">)</text></g>
<text transform="translate(206.46 103.85) scale(1.0780 1.0000)" font-family="'Liberation Sans', sans-serif" font-size="61.17" fill="#000" stroke="#000" stroke-width="0.58" text-anchor="start">a)</text>
<text transform="translate(207.06 1318.50) scale(1.0494 1.0000)" font-family="'Liberation Sans', sans-serif" font-size="61.91" fill="#000" stroke="#000" stroke-width="0.59" text-anchor="start">b)</text>
<text transform="translate(420.52 525.50) scale(1.0000 1.0000)" font-family="'Liberation Sans', sans-serif" font-size="53.77" fill="#000" stroke="#000" stroke-width="0.60" text-anchor="start">I</text>
<text transform="translate(420.30 1677.50) scale(1.0000 1.0000)" font-family="'Liberation Sans', sans-serif" font-size="55.36" fill="#000" stroke="#000" stroke-width="0.60" text-anchor="start">I</text>
<text transform="translate(379.70 670.86) scale(1.0378 1.0000)" font-family="'Liberation Sans', sans-serif" font-size="51.60" fill="#000" stroke="#000" stroke-width="0.59" text-anchor="start">bg</text>
<text transform="translate(379.70 1893.81) scale(1.0421 1.0000)" font-family="'Liberation Sans', sans-serif" font-size="51.38" fill="#000" stroke="#000" stroke-width="0.59" text-anchor="start">bg</text>
<text transform="translate(165.67 851.60) scale(1.0194 1.0000)" font-family="'Liberation Sans', sans-serif" font-size="54.06" fill="#000" stroke="#000" stroke-width="0.59" text-anchor="start">NI</text>
<text transform="translate(165.67 2083.60) scale(1.0194 1.0000)" font-family="'Liberation Sans', sans-serif" font-size="54.06" fill="#000" stroke="#000" stroke-width="0.59" text-anchor="start">NI</text>
<text transform="translate(446.60 880.80) scale(1.0000 1.0400)" font-family="'Liberation Sans', sans-serif" font-size="53.00" fill="#000" stroke="#000" stroke-width="0.59" text-anchor="start">001</text>
<text transform="translate(980.00 823.20) scale(1.0000 1.0400)" font-family="'Liberation Sans', sans-serif" font-size="53.00" fill="#000" stroke="#000" stroke-width="0.59" text-anchor="start">10</text>
<text transform="translate(1940.20 880.80) scale(1.0000 1.0400)" font-family="'Liberation Sans', sans-serif" font-size="53.00" fill="#000" stroke="#000" stroke-width="0.59" text-anchor="start">11</text>
<text transform="translate(446.60 2105.80) scale(1.0000 1.0400)" font-family="'Liberation Sans', sans-serif" font-size="53.00" fill="#000" stroke="#000" stroke-width="0.59" text-anchor="start">001</text>
<text transform="translate(980.20 2062.20) scale(1.0000 1.0400)" font-family="'Liberation Sans', sans-serif" font-size="53.00" fill="#000" stroke="#000" stroke-width="0.59" text-anchor="start">10</text>
<text transform="translate(1940.20 2105.80) scale(1.0000 1.0400)" font-family="'Liberation Sans', sans-serif" font-size="53.00" fill="#000" stroke="#000" stroke-width="0.59" text-anchor="start">11</text>
<text transform="translate(1967.20 103.90) scale(1.0170 1.0400)" font-family="'Liberation Sans', sans-serif" font-size="62.40" fill="#000" stroke="#000" stroke-width="0.58" text-anchor="start">1800°C</text>
<text transform="translate(1966.80 1319.20) scale(1.0170 1.0400)" font-family="'Liberation Sans', sans-serif" font-size="62.40" fill="#000" stroke="#000" stroke-width="0.58" text-anchor="start">1000°C</text>
</svg>
</body></html>
